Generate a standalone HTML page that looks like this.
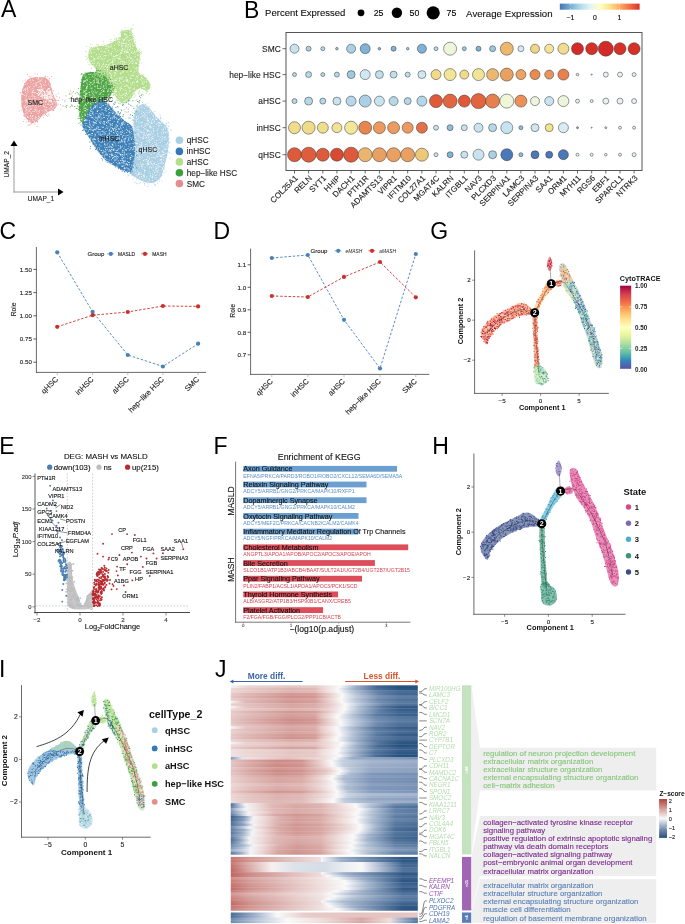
<!DOCTYPE html>
<html><head><meta charset="utf-8"><style>
html,body{margin:0;padding:0;background:#fff;}
svg{display:block;font-family:"Liberation Sans",sans-serif;will-change:transform;}
</style></head><body>
<svg width="685" height="924" viewBox="0 0 685 924">
<text x="1.1" y="17.4" font-size="23">A</text>
<path d="M29.7 78.4C32.1 77.5 37.1 76.9 40.2 77.1C43.3 77.3 46.3 78.2 48.1 79.7C49.9 81.2 50.1 83.5 51 86C51.9 88.5 52.5 92.2 53.5 95C54.5 97.8 56.8 100.7 57 103C57.2 105.3 56.3 107.2 55 108.6C53.7 110 51.4 110.1 49.4 111.2C47.4 112.3 45 113.4 42.8 115.2C40.6 117 38.3 120.5 36.3 121.8C34.3 123.1 32.8 123.5 31 122.8C29.2 122.1 27.2 119.9 25.8 117.8C24.4 115.7 23.3 113 22.5 109.9C21.7 106.8 21.2 102.9 21.2 99.4C21.2 95.9 21.7 91.8 22.5 88.9C23.3 86.1 24.6 84 25.8 82.3C27 80.5 27.3 79.3 29.7 78.4Z" fill="#eba3a3"/>
<path fill="#fff" fill-opacity="0.9" d="M25.6 115.4h0.8v0.8h-0.8zM48.1 88.3h0.8v0.8h-0.8zM38.5 97.2h0.8v0.8h-0.8zM44.1 112.7h0.8v0.8h-0.8zM50.7 96.5h0.8v0.8h-0.8zM36.7 109.6h0.8v0.8h-0.8zM29 119.9h0.8v0.8h-0.8zM21.7 101.4h0.8v0.8h-0.8zM28.5 96h0.8v0.8h-0.8zM36.5 99.3h0.8v0.8h-0.8zM29.1 87.2h0.8v0.8h-0.8zM28.6 97.7h0.8v0.8h-0.8zM50.8 102.1h0.8v0.8h-0.8zM43.8 85.2h0.8v0.8h-0.8zM25.1 91.9h0.8v0.8h-0.8zM46.6 109.2h0.8v0.8h-0.8zM50.5 107.3h0.8v0.8h-0.8zM31.6 103.5h0.8v0.8h-0.8zM38.9 103.6h0.8v0.8h-0.8zM49.3 95.6h0.8v0.8h-0.8zM27 101.8h0.8v0.8h-0.8zM45.9 107.5h0.8v0.8h-0.8zM34.2 96.7h0.8v0.8h-0.8zM39 112.2h0.8v0.8h-0.8zM39.4 94.6h0.8v0.8h-0.8zM38.3 78h0.8v0.8h-0.8zM22.3 108.8h0.8v0.8h-0.8zM56 103.8h0.8v0.8h-0.8zM34.9 84.5h0.8v0.8h-0.8zM48.4 101.3h0.8v0.8h-0.8zM41.5 97.7h0.8v0.8h-0.8zM30.4 101.7h0.8v0.8h-0.8zM49.7 100.4h0.8v0.8h-0.8zM40.9 96.1h0.8v0.8h-0.8zM41.2 85.8h0.8v0.8h-0.8zM38.8 98.8h0.8v0.8h-0.8zM33.5 92.5h0.8v0.8h-0.8zM40.1 105.2h0.8v0.8h-0.8zM42.7 97.6h0.8v0.8h-0.8zM27.1 103.4h0.8v0.8h-0.8zM29.9 115.1h0.8v0.8h-0.8zM44.9 80.5h0.8v0.8h-0.8zM47.8 88.1h0.8v0.8h-0.8zM24.7 105.2h0.8v0.8h-0.8zM33.1 79.9h0.8v0.8h-0.8zM26.5 100.8h0.8v0.8h-0.8zM26.8 89.1h0.8v0.8h-0.8zM46.2 97.5h0.8v0.8h-0.8zM32.3 98.3h0.8v0.8h-0.8zM21.6 94.3h0.8v0.8h-0.8zM35.8 85.3h0.8v0.8h-0.8zM39 86.2h0.8v0.8h-0.8zM42.5 114h0.8v0.8h-0.8zM26 109.5h0.8v0.8h-0.8zM26.5 108.9h0.8v0.8h-0.8zM45.1 101.6h0.8v0.8h-0.8zM49.3 100.3h0.8v0.8h-0.8zM28.8 106.3h0.8v0.8h-0.8zM34.9 103h0.8v0.8h-0.8zM32.3 105.5h0.8v0.8h-0.8zM22.9 90.3h0.8v0.8h-0.8zM31.7 115.9h0.8v0.8h-0.8zM31.9 119.6h0.8v0.8h-0.8zM47.4 95.7h0.8v0.8h-0.8zM41.2 84.5h0.8v0.8h-0.8zM46 99.9h0.8v0.8h-0.8zM34.3 92.5h0.8v0.8h-0.8zM28.1 107.5h0.8v0.8h-0.8zM36.3 85.5h0.8v0.8h-0.8zM24.5 107.1h0.8v0.8h-0.8zM31.4 99.5h0.8v0.8h-0.8zM32.4 116.5h0.8v0.8h-0.8zM28 91.7h0.8v0.8h-0.8zM32.9 86.4h0.8v0.8h-0.8zM52.4 108.1h0.8v0.8h-0.8zM29.2 109.8h0.8v0.8h-0.8zM48 104.1h0.8v0.8h-0.8zM50.9 93.5h0.8v0.8h-0.8zM33 90h0.8v0.8h-0.8zM51.8 104.3h0.8v0.8h-0.8zM25.6 101.9h0.8v0.8h-0.8zM33 104.8h0.8v0.8h-0.8zM48.8 94h0.8v0.8h-0.8zM41.2 86.9h0.8v0.8h-0.8zM23.7 88.9h0.8v0.8h-0.8zM52.7 102.5h0.8v0.8h-0.8zM53.9 97.6h0.8v0.8h-0.8zM30.7 112.6h0.8v0.8h-0.8zM44.8 80.9h0.8v0.8h-0.8zM24.9 84.3h0.8v0.8h-0.8zM29.4 110.7h0.8v0.8h-0.8zM34.3 121h0.8v0.8h-0.8zM29.8 98.5h0.8v0.8h-0.8zM24.4 106.5h0.8v0.8h-0.8zM42.1 97.2h0.8v0.8h-0.8zM32 79.6h0.8v0.8h-0.8zM28.5 104.9h0.8v0.8h-0.8zM55.9 101.5h0.8v0.8h-0.8zM45.4 106.9h0.8v0.8h-0.8zM30.1 101.4h0.8v0.8h-0.8zM31.8 87.9h0.8v0.8h-0.8zM23.7 89.5h0.8v0.8h-0.8zM44.1 106.1h0.8v0.8h-0.8zM31.8 91.6h0.8v0.8h-0.8zM32.1 115.4h0.8v0.8h-0.8zM32.7 101.5h0.8v0.8h-0.8zM41.5 103.9h0.8v0.8h-0.8zM29.5 80h0.8v0.8h-0.8zM40.5 79.9h0.8v0.8h-0.8zM23.5 105.7h0.8v0.8h-0.8zM31.2 112.9h0.8v0.8h-0.8zM38.4 116.1h0.8v0.8h-0.8zM26.3 99.6h0.8v0.8h-0.8zM50.2 91.3h0.8v0.8h-0.8zM24.6 100.2h0.8v0.8h-0.8zM32.1 117.9h0.8v0.8h-0.8zM45.5 84.8h0.8v0.8h-0.8zM36.3 83.9h0.8v0.8h-0.8zM46.4 107.2h0.8v0.8h-0.8zM29.8 79.6h0.8v0.8h-0.8zM40.4 101.4h0.8v0.8h-0.8zM51.3 97.4h0.8v0.8h-0.8zM34.9 92.2h0.8v0.8h-0.8zM43.9 95.7h0.8v0.8h-0.8zM41.2 79.5h0.8v0.8h-0.8zM33.5 83h0.8v0.8h-0.8zM25.3 88.5h0.8v0.8h-0.8zM50.5 94.9h0.8v0.8h-0.8zM35.1 104.7h0.8v0.8h-0.8zM39.7 99.6h0.8v0.8h-0.8zM44 96.7h0.8v0.8h-0.8zM45.4 110.1h0.8v0.8h-0.8zM29.3 99.3h0.8v0.8h-0.8zM37.9 87h0.8v0.8h-0.8zM35.5 102.3h0.8v0.8h-0.8zM30.6 106.2h0.8v0.8h-0.8zM39.1 116.8h0.8v0.8h-0.8zM26.5 111.7h0.8v0.8h-0.8zM34.1 108.7h0.8v0.8h-0.8zM47.1 103.8h0.8v0.8h-0.8zM55.1 102.8h0.8v0.8h-0.8zM27.1 88.1h0.8v0.8h-0.8zM28.6 102.7h0.8v0.8h-0.8zM45.2 109.4h0.8v0.8h-0.8zM33.2 100.2h0.8v0.8h-0.8zM26.7 110h0.8v0.8h-0.8zM49.7 105.4h0.8v0.8h-0.8zM30.4 118.4h0.8v0.8h-0.8zM44.4 108.7h0.8v0.8h-0.8zM36.7 118.9h0.8v0.8h-0.8zM49.5 96.5h0.8v0.8h-0.8zM26.7 91.5h0.8v0.8h-0.8zM42.3 95.3h0.8v0.8h-0.8zM25 90.2h0.8v0.8h-0.8zM29.7 110.9h0.8v0.8h-0.8zM36.5 77.6h0.8v0.8h-0.8zM43.2 104.4h0.8v0.8h-0.8zM50.7 86.1h0.8v0.8h-0.8zM31 101.5h0.8v0.8h-0.8zM30.6 103.4h0.8v0.8h-0.8zM29.8 107.9h0.8v0.8h-0.8zM55.6 101.6h0.8v0.8h-0.8zM38.3 115.8h0.8v0.8h-0.8zM48.3 102.7h0.8v0.8h-0.8zM34.5 89.7h0.8v0.8h-0.8zM24.6 113.6h0.8v0.8h-0.8zM25 110.8h0.8v0.8h-0.8zM25.7 99.5h0.8v0.8h-0.8zM41.3 90.9h0.8v0.8h-0.8zM38.8 93h0.8v0.8h-0.8zM39.7 76.7h0.8v0.8h-0.8zM36.6 97.2h0.8v0.8h-0.8zM31.7 94.9h0.8v0.8h-0.8zM48.8 107.9h0.8v0.8h-0.8zM38.4 106.3h0.8v0.8h-0.8zM34.3 86h0.8v0.8h-0.8zM50.5 100h0.8v0.8h-0.8zM50.7 95.4h0.8v0.8h-0.8zM31.7 84.5h0.8v0.8h-0.8zM43 100.9h0.8v0.8h-0.8zM34.7 96.1h0.8v0.8h-0.8zM35.3 116h0.8v0.8h-0.8zM41.7 110.2h0.8v0.8h-0.8zM38.4 110.8h0.8v0.8h-0.8zM43.7 106.3h0.8v0.8h-0.8zM43.3 95.3h0.8v0.8h-0.8zM43.3 105.6h0.8v0.8h-0.8zM50 104.3h0.8v0.8h-0.8zM33.3 88.8h0.8v0.8h-0.8zM40.3 83.6h0.8v0.8h-0.8zM50.6 98.8h0.8v0.8h-0.8zM37.5 78.7h0.8v0.8h-0.8zM39 110.7h0.8v0.8h-0.8zM35.9 92.9h0.8v0.8h-0.8zM45.5 95h0.8v0.8h-0.8zM45.4 104.3h0.8v0.8h-0.8zM28.3 86.2h0.8v0.8h-0.8zM39.5 93.5h0.8v0.8h-0.8zM39.1 110.3h0.8v0.8h-0.8zM26.8 106.5h0.8v0.8h-0.8zM30.4 104.5h0.8v0.8h-0.8zM29.1 102.3h0.8v0.8h-0.8zM26.9 112.8h0.8v0.8h-0.8zM51.8 91.7h0.8v0.8h-0.8zM43.1 91.1h0.8v0.8h-0.8zM36.2 111.5h0.8v0.8h-0.8zM48.9 85.4h0.8v0.8h-0.8zM43.2 84.2h0.8v0.8h-0.8zM42.5 88.6h0.8v0.8h-0.8zM39.6 83h0.8v0.8h-0.8zM25.7 109.4h0.8v0.8h-0.8zM33.7 111h0.8v0.8h-0.8zM29.4 109.5h0.8v0.8h-0.8zM46.5 90.6h0.8v0.8h-0.8zM24.6 94.8h0.8v0.8h-0.8zM38.4 81.2h0.8v0.8h-0.8zM55.3 104.7h0.8v0.8h-0.8zM33 115h0.8v0.8h-0.8zM25 108.3h0.8v0.8h-0.8zM24.2 94.9h0.8v0.8h-0.8zM38.5 93.9h0.8v0.8h-0.8zM26.8 87.3h0.8v0.8h-0.8zM50.1 97.8h0.8v0.8h-0.8zM41.5 86.4h0.8v0.8h-0.8zM46.4 91.8h0.8v0.8h-0.8zM32.2 94.2h0.8v0.8h-0.8zM35.1 116.9h0.8v0.8h-0.8zM47.9 83.6h0.8v0.8h-0.8zM26 107.1h0.8v0.8h-0.8zM22.8 94h0.8v0.8h-0.8zM25.4 97.8h0.8v0.8h-0.8zM30.6 82h0.8v0.8h-0.8zM43.6 110.7h0.8v0.8h-0.8zM44.5 94.5h0.8v0.8h-0.8zM43.7 87.8h0.8v0.8h-0.8zM41.9 92.7h0.8v0.8h-0.8zM42.4 102.3h0.8v0.8h-0.8zM39.5 79.5h0.8v0.8h-0.8zM33.4 95.5h0.8v0.8h-0.8zM27.9 116.9h0.8v0.8h-0.8zM36 106.9h0.8v0.8h-0.8zM46.3 110.6h0.8v0.8h-0.8zM46.6 111.1h0.8v0.8h-0.8zM29.8 121.3h0.8v0.8h-0.8zM49.9 98.1h0.8v0.8h-0.8zM34 121.7h0.8v0.8h-0.8zM22.2 101h0.8v0.8h-0.8zM36.6 82.5h0.8v0.8h-0.8zM34.9 109h0.8v0.8h-0.8zM39.6 80.8h0.8v0.8h-0.8zM22 94.2h0.8v0.8h-0.8zM47 91h0.8v0.8h-0.8zM25.4 113h0.8v0.8h-0.8zM31.6 96.1h0.8v0.8h-0.8zM29.6 102.1h0.8v0.8h-0.8zM32.6 92.2h0.8v0.8h-0.8zM41.7 81.5h0.8v0.8h-0.8zM44.1 97.2h0.8v0.8h-0.8zM50.7 108.7h0.8v0.8h-0.8zM50.5 90h0.8v0.8h-0.8zM26.4 93.6h0.8v0.8h-0.8zM39.4 81.1h0.8v0.8h-0.8zM33.1 102.9h0.8v0.8h-0.8zM44.1 91h0.8v0.8h-0.8zM31.5 92.8h0.8v0.8h-0.8zM32.4 110.9h0.8v0.8h-0.8zM38.7 100.7h0.8v0.8h-0.8zM32.4 91.6h0.8v0.8h-0.8zM37.9 118.4h0.8v0.8h-0.8zM25.6 100.6h0.8v0.8h-0.8zM48.8 108.8h0.8v0.8h-0.8zM47.5 93.2h0.8v0.8h-0.8zM54.5 106.1h0.8v0.8h-0.8zM35.2 97.9h0.8v0.8h-0.8zM55.9 101h0.8v0.8h-0.8zM26.8 83.5h0.8v0.8h-0.8zM45.4 102.4h0.8v0.8h-0.8zM35.5 109.9h0.8v0.8h-0.8zM40.3 88.8h0.8v0.8h-0.8zM24.6 88.6h0.8v0.8h-0.8zM43.4 100.7h0.8v0.8h-0.8zM51.2 106.1h0.8v0.8h-0.8zM27 116.1h0.8v0.8h-0.8zM21.6 93.5h0.8v0.8h-0.8zM51.1 109.1h0.8v0.8h-0.8zM30.9 117.4h0.8v0.8h-0.8zM52.7 96.1h0.8v0.8h-0.8zM45 101.6h0.8v0.8h-0.8zM28 110.8h0.8v0.8h-0.8zM48.4 100.2h0.8v0.8h-0.8zM38.2 95.1h0.8v0.8h-0.8zM41.7 78.5h0.8v0.8h-0.8zM51.2 97.6h0.8v0.8h-0.8zM27.6 90.4h0.8v0.8h-0.8zM25.1 90.5h0.8v0.8h-0.8zM55.5 101.5h0.8v0.8h-0.8zM41.3 101.9h0.8v0.8h-0.8zM39.6 101.4h0.8v0.8h-0.8zM35.4 105.5h0.8v0.8h-0.8zM31.8 90.5h0.8v0.8h-0.8zM38.9 103.5h0.8v0.8h-0.8zM26.6 105.8h0.8v0.8h-0.8zM41 93.5h0.8v0.8h-0.8zM35.2 119.5h0.8v0.8h-0.8zM52.8 107.3h0.8v0.8h-0.8zM51.1 94.2h0.8v0.8h-0.8zM37.4 113h0.8v0.8h-0.8zM34.1 110.9h0.8v0.8h-0.8zM38 92.1h0.8v0.8h-0.8zM37.1 82h0.8v0.8h-0.8zM33.5 95.6h0.8v0.8h-0.8zM30.1 115.9h0.8v0.8h-0.8zM41.9 89.8h0.8v0.8h-0.8zM39.2 110.5h0.8v0.8h-0.8zM45.5 96.5h0.8v0.8h-0.8zM48.6 98.9h0.8v0.8h-0.8zM46.4 99.1h0.8v0.8h-0.8zM35.1 109.7h0.8v0.8h-0.8zM40.5 101.1h0.8v0.8h-0.8zM33.2 119.9h0.8v0.8h-0.8zM40.6 95.9h0.8v0.8h-0.8zM44.8 82.1h0.8v0.8h-0.8zM30.3 89.4h0.8v0.8h-0.8zM37.9 112.9h0.8v0.8h-0.8zM45 80.7h0.8v0.8h-0.8zM34.7 107.2h0.8v0.8h-0.8zM31.3 99.9h0.8v0.8h-0.8zM34.6 118.1h0.8v0.8h-0.8zM28 100.5h0.8v0.8h-0.8zM35.7 117.3h0.8v0.8h-0.8zM38.4 117.6h0.8v0.8h-0.8zM40.3 86.5h0.8v0.8h-0.8zM48 92.1h0.8v0.8h-0.8zM38.2 77.1h0.8v0.8h-0.8zM30.4 101.4h0.8v0.8h-0.8zM36.5 111.4h0.8v0.8h-0.8zM50.9 87.1h0.8v0.8h-0.8zM30.6 109h0.8v0.8h-0.8zM35.5 82.6h0.8v0.8h-0.8zM27.8 102.3h0.8v0.8h-0.8zM39.8 104.5h0.8v0.8h-0.8zM26.1 95.6h0.8v0.8h-0.8zM30.8 108.5h0.8v0.8h-0.8zM30.3 86.5h0.8v0.8h-0.8zM33.9 98.2h0.8v0.8h-0.8zM32.9 104.4h0.8v0.8h-0.8zM27.3 116.9h0.8v0.8h-0.8zM45.6 101.1h0.8v0.8h-0.8z"/>
<path fill="#eba3a3" d="M44.1 76.7h0.9v0.9h-0.9zM53 109.1h0.9v0.9h-0.9zM29 124.5h0.9v0.9h-0.9zM44.9 75.7h0.9v0.9h-0.9zM47 116.2h0.9v0.9h-0.9zM30.5 122.4h0.9v0.9h-0.9zM31.3 122.9h0.9v0.9h-0.9zM27.6 124.8h0.9v0.9h-0.9zM21.5 109.6h0.9v0.9h-0.9zM56.6 100h0.9v0.9h-0.9zM48.9 78h0.9v0.9h-0.9zM42.6 77.6h0.9v0.9h-0.9zM20.9 105.8h0.9v0.9h-0.9zM27.7 124.5h0.9v0.9h-0.9zM23.2 121.1h0.9v0.9h-0.9zM51.5 99.4h0.9v0.9h-0.9zM18.8 110.3h0.9v0.9h-0.9zM19.7 92.7h0.9v0.9h-0.9zM45.1 114h0.9v0.9h-0.9zM55.8 103.8h0.9v0.9h-0.9zM38.8 118.4h0.9v0.9h-0.9zM24.7 79.7h0.9v0.9h-0.9zM23.7 118.7h0.9v0.9h-0.9zM35.7 76.8h0.9v0.9h-0.9zM52.4 96.1h0.9v0.9h-0.9zM51.3 109h0.9v0.9h-0.9zM28.5 120.9h0.9v0.9h-0.9zM24.4 86.7h0.9v0.9h-0.9zM56.2 96.3h0.9v0.9h-0.9zM34.4 73.4h0.9v0.9h-0.9zM59.1 97.1h0.9v0.9h-0.9zM19.7 91.9h0.9v0.9h-0.9zM23.6 114.6h0.9v0.9h-0.9zM45 77.8h0.9v0.9h-0.9zM47.3 76.4h0.9v0.9h-0.9zM37.2 121.5h0.9v0.9h-0.9zM23.3 110.5h0.9v0.9h-0.9zM47.1 109.9h0.9v0.9h-0.9zM60 104h0.9v0.9h-0.9zM23.9 116.1h0.9v0.9h-0.9zM45.2 76.3h0.9v0.9h-0.9zM27.8 121.2h0.9v0.9h-0.9zM55.6 94.3h0.9v0.9h-0.9zM27 74.1h0.9v0.9h-0.9zM58 92.7h0.9v0.9h-0.9zM56.4 105h0.9v0.9h-0.9zM48.8 115h0.9v0.9h-0.9zM24.1 83h0.9v0.9h-0.9zM53 109.9h0.9v0.9h-0.9zM36.9 121h0.9v0.9h-0.9zM22.6 104.7h0.9v0.9h-0.9zM22.4 80.7h0.9v0.9h-0.9zM30.5 123.9h0.9v0.9h-0.9zM42.9 117.3h0.9v0.9h-0.9zM45.3 112.7h0.9v0.9h-0.9zM21.8 89.3h0.9v0.9h-0.9zM25.8 121.5h0.9v0.9h-0.9zM57.6 103.8h0.9v0.9h-0.9zM53.5 110.2h0.9v0.9h-0.9zM51.2 75.9h0.9v0.9h-0.9zM52.8 90.1h0.9v0.9h-0.9zM25.3 81.4h0.9v0.9h-0.9zM28.8 76.3h0.9v0.9h-0.9zM53.3 105.1h0.9v0.9h-0.9zM29.1 114.1h0.9v0.9h-0.9zM60.6 108.7h0.9v0.9h-0.9zM52.6 110h0.9v0.9h-0.9zM36.6 126h0.9v0.9h-0.9zM50.2 83.3h0.9v0.9h-0.9zM23.3 115.2h0.9v0.9h-0.9zM30.4 76.5h0.9v0.9h-0.9zM52.6 110.4h0.9v0.9h-0.9zM46.2 115.1h0.9v0.9h-0.9zM48.5 79.5h0.9v0.9h-0.9zM37 74.2h0.9v0.9h-0.9zM57.9 100h0.9v0.9h-0.9zM43.7 115.2h0.9v0.9h-0.9zM22.8 105.2h0.9v0.9h-0.9zM48 113.4h0.9v0.9h-0.9zM34.4 123.8h0.9v0.9h-0.9z"/>
<path fill="#fff" d="M47.1 97.4h1.1v1.1h-1.1zM50 91.6h1.1v1.1h-1.1zM47.9 91.4h1.1v1.1h-1.1zM40.2 95.7h1.1v1.1h-1.1zM49.2 100.7h1.1v1.1h-1.1zM38.6 90.7h1.1v1.1h-1.1zM50.2 93.6h1.1v1.1h-1.1zM45.1 97.4h1.1v1.1h-1.1zM44 91.9h1.1v1.1h-1.1zM48.7 88.1h1.1v1.1h-1.1zM44.1 94.6h1.1v1.1h-1.1zM45.8 90.6h1.1v1.1h-1.1zM39.6 89.8h1.1v1.1h-1.1zM50.8 101.1h1.1v1.1h-1.1zM48.1 93.8h1.1v1.1h-1.1zM44.1 97h1.1v1.1h-1.1zM42.2 89.9h1.1v1.1h-1.1zM50.6 100h1.1v1.1h-1.1zM50.7 96.8h1.1v1.1h-1.1zM42.5 93.4h1.1v1.1h-1.1zM46.4 97.8h1.1v1.1h-1.1zM46.9 95.3h1.1v1.1h-1.1zM44.5 95.6h1.1v1.1h-1.1zM39.3 92.7h1.1v1.1h-1.1zM39.1 89.2h1.1v1.1h-1.1zM42.2 95.7h1.1v1.1h-1.1zM51.8 97.3h1.1v1.1h-1.1zM46.4 96.7h1.1v1.1h-1.1zM47.6 88.7h1.1v1.1h-1.1zM41.3 88.8h1.1v1.1h-1.1zM41.2 90.9h1.1v1.1h-1.1zM41.4 95.2h1.1v1.1h-1.1zM49.7 92.3h1.1v1.1h-1.1zM52.2 103.3h1.1v1.1h-1.1zM44.4 93.3h1.1v1.1h-1.1zM47 98.2h1.1v1.1h-1.1zM38.5 89.6h1.1v1.1h-1.1zM47 89.4h1.1v1.1h-1.1zM41.2 90.6h1.1v1.1h-1.1zM49.5 91h1.1v1.1h-1.1zM40.2 92.1h1.1v1.1h-1.1zM45.3 93.5h1.1v1.1h-1.1zM40 90.4h1.1v1.1h-1.1zM48.8 92.3h1.1v1.1h-1.1zM36.8 89.1h1.1v1.1h-1.1zM47.7 98.2h1.1v1.1h-1.1zM49.2 93h1.1v1.1h-1.1zM37.8 94.3h1.1v1.1h-1.1zM49.1 100.5h1.1v1.1h-1.1zM53.6 100.9h1.1v1.1h-1.1zM46.6 96.4h1.1v1.1h-1.1zM45.5 95.2h1.1v1.1h-1.1zM48.7 96.8h1.1v1.1h-1.1zM51.9 94.7h1.1v1.1h-1.1zM48.6 95.9h1.1v1.1h-1.1zM47.4 91.6h1.1v1.1h-1.1zM53.1 98.7h1.1v1.1h-1.1zM47.7 93.7h1.1v1.1h-1.1zM44.3 97.8h1.1v1.1h-1.1zM49.8 92.4h1.1v1.1h-1.1zM36.7 92.9h1.1v1.1h-1.1zM37.9 89.4h1.1v1.1h-1.1zM49.1 90.4h1.1v1.1h-1.1zM50.2 95.6h1.1v1.1h-1.1zM46.8 93.4h1.1v1.1h-1.1zM41.7 94.3h1.1v1.1h-1.1zM45.9 94.9h1.1v1.1h-1.1zM47.4 97.5h1.1v1.1h-1.1zM47.8 91.4h1.1v1.1h-1.1zM43.6 90.9h1.1v1.1h-1.1z"/>
<path d="M121.7 31.5C122.5 30.5 124.5 30.1 126 30C127.5 29.9 129.9 29.7 131 30.8C132.1 31.9 132 34.5 132.7 36.7C133.3 38.9 134.1 41.7 134.9 44C135.8 46.3 137 48.8 137.8 50.5C138.7 52.2 139.7 52.1 140 54.2C140.3 56.3 139.8 60.1 139.5 63C139.2 65.9 137.8 69.5 138.5 71.7C139.2 73.9 141.9 74.5 143.6 76.1C145.3 77.7 147.6 79.2 148.7 81.2C149.8 83.2 150.6 86.2 150.2 87.8C149.8 89.4 148.1 90.6 146.5 90.7C144.9 90.8 142.4 88.6 140.7 88.5C139 88.4 137.5 89 136.3 90C135.1 91 134.6 92.8 133.4 94.5C132.2 96.2 130.6 99 129 100.5C127.4 102 125.7 103.5 124 103.6C122.3 103.7 120.4 102.4 118.8 101C117.2 99.6 115.9 97.1 114.4 95.1C112.9 93.1 111.7 92 110 89.2C108.3 86.4 106.4 81.2 104.2 78C102 74.8 99.3 72.8 96.9 70C94.5 67.2 91 64.4 89.6 61.5C88.2 58.6 88.2 54.9 88.4 52.7C88.7 50.5 89.7 49.4 91.1 48.4C92.5 47.4 94.7 47.1 96.9 46.6C99.1 46.1 102 46 104.2 45.5C106.4 45 108.3 44.2 110 43.5C111.7 42.8 112.9 41.7 114.4 41C115.9 40.3 117.7 40.3 118.8 39.5C119.9 38.7 120.5 37.3 121 36C121.5 34.7 120.9 32.5 121.7 31.5Z" fill="#b4de8e"/>
<path fill="#fff" fill-opacity="0.9" d="M107 66.2h0.8v0.8h-0.8zM129.7 31.9h0.8v0.8h-0.8zM110.9 70.3h0.8v0.8h-0.8zM107.6 74h0.8v0.8h-0.8zM124 51.1h0.8v0.8h-0.8zM121.8 49.9h0.8v0.8h-0.8zM88.7 52.4h0.8v0.8h-0.8zM93.3 65.8h0.8v0.8h-0.8zM118.9 93.6h0.8v0.8h-0.8zM134.2 84.7h0.8v0.8h-0.8zM111 46.5h0.8v0.8h-0.8zM119.6 39.1h0.8v0.8h-0.8zM100.3 51.3h0.8v0.8h-0.8zM122 48.1h0.8v0.8h-0.8zM122.3 62.9h0.8v0.8h-0.8zM108.5 59.5h0.8v0.8h-0.8zM127.5 85.6h0.8v0.8h-0.8zM105.7 54.9h0.8v0.8h-0.8zM124.4 62.1h0.8v0.8h-0.8zM137 78.5h0.8v0.8h-0.8zM146.8 89.3h0.8v0.8h-0.8zM101.6 50.6h0.8v0.8h-0.8zM103.6 60.7h0.8v0.8h-0.8zM109.6 63h0.8v0.8h-0.8zM142 78.1h0.8v0.8h-0.8zM126 93.2h0.8v0.8h-0.8zM111.9 60.9h0.8v0.8h-0.8zM125.4 38h0.8v0.8h-0.8zM134.6 56.8h0.8v0.8h-0.8zM116.2 55.5h0.8v0.8h-0.8zM112.5 64.3h0.8v0.8h-0.8zM98.4 71.3h0.8v0.8h-0.8zM141.8 81.9h0.8v0.8h-0.8zM97.2 63.3h0.8v0.8h-0.8zM126.7 39.5h0.8v0.8h-0.8zM107.1 61.1h0.8v0.8h-0.8zM122 94.8h0.8v0.8h-0.8zM130.3 34.7h0.8v0.8h-0.8zM99.5 68.9h0.8v0.8h-0.8zM99.8 55.8h0.8v0.8h-0.8zM136.3 75.7h0.8v0.8h-0.8zM129.1 54.8h0.8v0.8h-0.8zM90 49.5h0.8v0.8h-0.8zM125.9 100.6h0.8v0.8h-0.8zM101 47.8h0.8v0.8h-0.8zM112.9 56.1h0.8v0.8h-0.8zM96.7 46.4h0.8v0.8h-0.8zM107.2 67.2h0.8v0.8h-0.8zM114.7 93.7h0.8v0.8h-0.8zM123.9 64.5h0.8v0.8h-0.8zM119.6 55.7h0.8v0.8h-0.8zM98.1 56.3h0.8v0.8h-0.8zM91 56.1h0.8v0.8h-0.8zM125.7 79.5h0.8v0.8h-0.8zM127.8 44h0.8v0.8h-0.8zM109.1 71.9h0.8v0.8h-0.8zM139.8 78.9h0.8v0.8h-0.8zM107.5 64.9h0.8v0.8h-0.8zM110.6 70.7h0.8v0.8h-0.8zM107.7 84.2h0.8v0.8h-0.8zM125.4 95.1h0.8v0.8h-0.8zM123.4 65h0.8v0.8h-0.8zM99.1 53.7h0.8v0.8h-0.8zM103.6 52.1h0.8v0.8h-0.8zM118.1 99.6h0.8v0.8h-0.8zM106.2 76.2h0.8v0.8h-0.8zM91 61.3h0.8v0.8h-0.8zM110 77.7h0.8v0.8h-0.8zM122.9 72h0.8v0.8h-0.8zM125.6 79.3h0.8v0.8h-0.8zM107.9 55.5h0.8v0.8h-0.8zM112.5 68h0.8v0.8h-0.8zM123 93.9h0.8v0.8h-0.8zM112.4 62.6h0.8v0.8h-0.8zM123.2 81.1h0.8v0.8h-0.8zM144.6 88.1h0.8v0.8h-0.8zM122.8 66.2h0.8v0.8h-0.8zM122.7 84.2h0.8v0.8h-0.8zM138.8 61.8h0.8v0.8h-0.8zM130.5 78.3h0.8v0.8h-0.8zM134.8 55.9h0.8v0.8h-0.8zM97.9 62.1h0.8v0.8h-0.8zM123 101h0.8v0.8h-0.8zM98.7 65.7h0.8v0.8h-0.8zM128.4 67.1h0.8v0.8h-0.8zM95.6 48.9h0.8v0.8h-0.8zM126.1 52.3h0.8v0.8h-0.8zM122.2 61h0.8v0.8h-0.8zM116.3 70.2h0.8v0.8h-0.8zM136.6 50.4h0.8v0.8h-0.8zM111.5 77.8h0.8v0.8h-0.8zM133.4 75.1h0.8v0.8h-0.8zM115.1 89.6h0.8v0.8h-0.8zM115.3 91.1h0.8v0.8h-0.8zM94 58.1h0.8v0.8h-0.8zM115.4 43h0.8v0.8h-0.8zM115.7 92.3h0.8v0.8h-0.8zM124.9 42.9h0.8v0.8h-0.8zM135.9 70.5h0.8v0.8h-0.8zM119.3 41.7h0.8v0.8h-0.8zM121.4 61h0.8v0.8h-0.8zM142.8 84.1h0.8v0.8h-0.8zM117.5 40.5h0.8v0.8h-0.8zM125.7 46.1h0.8v0.8h-0.8zM116 94.1h0.8v0.8h-0.8zM111.1 53.2h0.8v0.8h-0.8zM118.1 62.4h0.8v0.8h-0.8zM133.8 51.9h0.8v0.8h-0.8zM123.9 52.6h0.8v0.8h-0.8zM118.2 62.4h0.8v0.8h-0.8zM116.3 69.2h0.8v0.8h-0.8zM121.1 52.9h0.8v0.8h-0.8zM122.5 76.3h0.8v0.8h-0.8zM132.7 53.1h0.8v0.8h-0.8zM124.6 63.6h0.8v0.8h-0.8zM117.9 58.6h0.8v0.8h-0.8zM121.1 45.6h0.8v0.8h-0.8zM124.7 47.6h0.8v0.8h-0.8zM134.9 53.7h0.8v0.8h-0.8zM110.3 73.4h0.8v0.8h-0.8zM128.8 59.7h0.8v0.8h-0.8zM105.8 46.1h0.8v0.8h-0.8zM112.5 81h0.8v0.8h-0.8zM129.4 42.5h0.8v0.8h-0.8zM125.8 57.9h0.8v0.8h-0.8zM131.9 51.2h0.8v0.8h-0.8zM114.8 89.1h0.8v0.8h-0.8zM93.7 59.6h0.8v0.8h-0.8zM97.4 68.8h0.8v0.8h-0.8zM115 69.5h0.8v0.8h-0.8zM127.4 81.2h0.8v0.8h-0.8zM124.1 39.1h0.8v0.8h-0.8zM96.2 54.1h0.8v0.8h-0.8zM137 81.3h0.8v0.8h-0.8zM102.5 66.2h0.8v0.8h-0.8zM118.2 97.5h0.8v0.8h-0.8zM122.9 40.1h0.8v0.8h-0.8zM120.7 94.9h0.8v0.8h-0.8zM132.4 44.7h0.8v0.8h-0.8zM131.1 32.7h0.8v0.8h-0.8zM120.3 77.6h0.8v0.8h-0.8zM129.2 40.1h0.8v0.8h-0.8zM110.9 55.3h0.8v0.8h-0.8zM134.4 59.9h0.8v0.8h-0.8zM110.7 70h0.8v0.8h-0.8zM129.3 63.2h0.8v0.8h-0.8zM126.1 71.4h0.8v0.8h-0.8zM114.6 87.4h0.8v0.8h-0.8zM113.6 92.9h0.8v0.8h-0.8zM130.9 78.2h0.8v0.8h-0.8zM144 86.9h0.8v0.8h-0.8zM124.1 33.1h0.8v0.8h-0.8zM116.1 80.3h0.8v0.8h-0.8zM120.3 72.6h0.8v0.8h-0.8zM103.1 76.6h0.8v0.8h-0.8zM115 40.5h0.8v0.8h-0.8zM105.8 64.3h0.8v0.8h-0.8zM114.6 64.2h0.8v0.8h-0.8zM125.2 36.7h0.8v0.8h-0.8zM121.3 79.2h0.8v0.8h-0.8zM121.6 59.8h0.8v0.8h-0.8zM117.5 83.6h0.8v0.8h-0.8zM124.6 93.3h0.8v0.8h-0.8zM107 74.6h0.8v0.8h-0.8zM123.4 70.8h0.8v0.8h-0.8zM124.8 49.9h0.8v0.8h-0.8zM126.3 61.8h0.8v0.8h-0.8zM117.5 68.9h0.8v0.8h-0.8zM131.6 63.1h0.8v0.8h-0.8zM124.1 43h0.8v0.8h-0.8zM119.5 78.1h0.8v0.8h-0.8zM134.9 78.6h0.8v0.8h-0.8zM113.5 80h0.8v0.8h-0.8zM124.9 64.7h0.8v0.8h-0.8zM126.9 52.1h0.8v0.8h-0.8zM139.8 87.7h0.8v0.8h-0.8zM121.4 51.9h0.8v0.8h-0.8zM115.5 83.3h0.8v0.8h-0.8zM121.2 86.2h0.8v0.8h-0.8zM126.4 34.3h0.8v0.8h-0.8zM130.7 71.2h0.8v0.8h-0.8zM125.4 76.5h0.8v0.8h-0.8zM115.6 74.5h0.8v0.8h-0.8zM120.7 72.9h0.8v0.8h-0.8zM130 43.4h0.8v0.8h-0.8zM109.8 80.4h0.8v0.8h-0.8zM122.8 49.2h0.8v0.8h-0.8zM105.4 64.5h0.8v0.8h-0.8zM115 89.1h0.8v0.8h-0.8zM138.9 61.2h0.8v0.8h-0.8zM149.2 87.7h0.8v0.8h-0.8zM107.9 45.6h0.8v0.8h-0.8zM143.5 87.1h0.8v0.8h-0.8zM88.1 52.6h0.8v0.8h-0.8zM136 81.2h0.8v0.8h-0.8zM137.3 80.3h0.8v0.8h-0.8zM135.4 63.2h0.8v0.8h-0.8zM140.9 77.1h0.8v0.8h-0.8zM142.7 81.2h0.8v0.8h-0.8zM114.9 67.6h0.8v0.8h-0.8zM94.1 47.4h0.8v0.8h-0.8zM123.5 42.7h0.8v0.8h-0.8zM110.1 76.9h0.8v0.8h-0.8zM124.7 95.4h0.8v0.8h-0.8zM114.7 70.3h0.8v0.8h-0.8zM114 85.1h0.8v0.8h-0.8zM126.6 99.2h0.8v0.8h-0.8zM106.1 74.9h0.8v0.8h-0.8zM127.4 44.4h0.8v0.8h-0.8zM104.7 73.4h0.8v0.8h-0.8zM128.8 96.6h0.8v0.8h-0.8zM135.6 63h0.8v0.8h-0.8zM134.3 50.5h0.8v0.8h-0.8zM137.6 59.5h0.8v0.8h-0.8zM124 39.1h0.8v0.8h-0.8zM118.4 91.5h0.8v0.8h-0.8zM137.6 59.8h0.8v0.8h-0.8zM125.7 55.2h0.8v0.8h-0.8zM90.8 52.1h0.8v0.8h-0.8zM107 69.1h0.8v0.8h-0.8zM126.3 92.2h0.8v0.8h-0.8zM126.8 94.1h0.8v0.8h-0.8zM103.4 74h0.8v0.8h-0.8zM131.3 52.4h0.8v0.8h-0.8zM107.9 51.8h0.8v0.8h-0.8zM142 87.3h0.8v0.8h-0.8zM97.1 47.4h0.8v0.8h-0.8zM97.9 48.7h0.8v0.8h-0.8zM122.2 96.9h0.8v0.8h-0.8zM140.8 75.3h0.8v0.8h-0.8zM131.3 52.4h0.8v0.8h-0.8zM119.6 88h0.8v0.8h-0.8zM120.3 82.2h0.8v0.8h-0.8zM121.4 43.7h0.8v0.8h-0.8zM103 45.3h0.8v0.8h-0.8zM125.5 96.5h0.8v0.8h-0.8zM104.3 55.3h0.8v0.8h-0.8zM92.7 62.9h0.8v0.8h-0.8zM106.8 47.7h0.8v0.8h-0.8zM126.5 80.1h0.8v0.8h-0.8zM129.3 31.5h0.8v0.8h-0.8zM102 64.6h0.8v0.8h-0.8zM121.3 43.9h0.8v0.8h-0.8zM104 69.5h0.8v0.8h-0.8zM120.9 50.1h0.8v0.8h-0.8zM99.1 64.9h0.8v0.8h-0.8zM91.2 52.9h0.8v0.8h-0.8zM101.5 58.8h0.8v0.8h-0.8zM142.4 83.2h0.8v0.8h-0.8zM124.6 90.8h0.8v0.8h-0.8zM130.6 39.2h0.8v0.8h-0.8zM113.4 58.3h0.8v0.8h-0.8zM99.8 67.9h0.8v0.8h-0.8zM121 41.5h0.8v0.8h-0.8zM93.4 64.9h0.8v0.8h-0.8zM117.3 42.5h0.8v0.8h-0.8zM108.9 64.5h0.8v0.8h-0.8zM119.6 56.6h0.8v0.8h-0.8zM138.5 72.4h0.8v0.8h-0.8zM111.3 75.3h0.8v0.8h-0.8zM125 88.8h0.8v0.8h-0.8zM92.7 60.4h0.8v0.8h-0.8zM124.2 34.1h0.8v0.8h-0.8zM126.6 85.8h0.8v0.8h-0.8zM119.6 94.9h0.8v0.8h-0.8zM129.8 49.9h0.8v0.8h-0.8zM124.4 86.1h0.8v0.8h-0.8zM132.2 83.3h0.8v0.8h-0.8zM118.2 57.8h0.8v0.8h-0.8zM128.9 45.7h0.8v0.8h-0.8zM133.7 42.1h0.8v0.8h-0.8zM111 76.4h0.8v0.8h-0.8zM136 62.9h0.8v0.8h-0.8zM137.9 64.3h0.8v0.8h-0.8zM129 90.9h0.8v0.8h-0.8zM122.7 71h0.8v0.8h-0.8zM107.2 69.1h0.8v0.8h-0.8zM126.2 79.7h0.8v0.8h-0.8zM119.6 58.6h0.8v0.8h-0.8zM112.4 42.4h0.8v0.8h-0.8zM126.3 41.5h0.8v0.8h-0.8zM145.9 79.1h0.8v0.8h-0.8zM139.8 74.1h0.8v0.8h-0.8zM132.2 59.8h0.8v0.8h-0.8zM119.6 49.6h0.8v0.8h-0.8zM114.6 91.1h0.8v0.8h-0.8zM119.4 66.9h0.8v0.8h-0.8zM119.1 42.2h0.8v0.8h-0.8zM105.6 55.1h0.8v0.8h-0.8zM131.7 93.6h0.8v0.8h-0.8zM122.1 50.7h0.8v0.8h-0.8zM110.2 69.7h0.8v0.8h-0.8zM142.8 81.4h0.8v0.8h-0.8zM128.6 49h0.8v0.8h-0.8zM97.4 57.9h0.8v0.8h-0.8zM121.9 77.8h0.8v0.8h-0.8zM133.8 44.9h0.8v0.8h-0.8zM124.8 37.7h0.8v0.8h-0.8zM115.3 55.3h0.8v0.8h-0.8zM114.4 81.8h0.8v0.8h-0.8zM133 61.7h0.8v0.8h-0.8zM124.6 101.2h0.8v0.8h-0.8zM123.6 101h0.8v0.8h-0.8zM102.4 75h0.8v0.8h-0.8zM144.3 81.9h0.8v0.8h-0.8zM135.7 51.6h0.8v0.8h-0.8zM112.7 65.6h0.8v0.8h-0.8zM92.6 56.7h0.8v0.8h-0.8zM115.4 72.9h0.8v0.8h-0.8zM114.3 92.8h0.8v0.8h-0.8zM122.3 64.2h0.8v0.8h-0.8zM89.5 50.1h0.8v0.8h-0.8zM132.5 59.2h0.8v0.8h-0.8zM121.5 49.5h0.8v0.8h-0.8zM104.3 57.9h0.8v0.8h-0.8zM94.5 58.7h0.8v0.8h-0.8zM107.3 80.1h0.8v0.8h-0.8zM127.4 50.9h0.8v0.8h-0.8zM144 80.7h0.8v0.8h-0.8zM115.1 72.6h0.8v0.8h-0.8zM135.1 52.8h0.8v0.8h-0.8zM142.6 87.5h0.8v0.8h-0.8zM130.9 85.4h0.8v0.8h-0.8zM115.6 80.1h0.8v0.8h-0.8zM128.2 60.7h0.8v0.8h-0.8zM133.4 92.7h0.8v0.8h-0.8zM144.5 86.6h0.8v0.8h-0.8zM124.8 85.7h0.8v0.8h-0.8zM109.5 59.3h0.8v0.8h-0.8zM137.9 67.6h0.8v0.8h-0.8zM125.8 90.2h0.8v0.8h-0.8zM132.7 72.5h0.8v0.8h-0.8zM130 86.9h0.8v0.8h-0.8zM98.5 58.5h0.8v0.8h-0.8zM143.6 78.4h0.8v0.8h-0.8zM119.1 76.9h0.8v0.8h-0.8zM125.4 99.8h0.8v0.8h-0.8zM112.3 58.4h0.8v0.8h-0.8zM133 88.7h0.8v0.8h-0.8zM133.7 41.3h0.8v0.8h-0.8zM127.1 49.4h0.8v0.8h-0.8zM104.9 48.4h0.8v0.8h-0.8zM129.5 88.2h0.8v0.8h-0.8zM116.8 87.2h0.8v0.8h-0.8zM90.7 60.1h0.8v0.8h-0.8zM123.5 94h0.8v0.8h-0.8zM139.2 58.9h0.8v0.8h-0.8zM119.6 88.3h0.8v0.8h-0.8zM129.3 53.6h0.8v0.8h-0.8zM105.4 52h0.8v0.8h-0.8zM136.5 63.3h0.8v0.8h-0.8zM136.1 67.1h0.8v0.8h-0.8zM110.6 81.8h0.8v0.8h-0.8zM93.8 61.3h0.8v0.8h-0.8zM129.5 49.8h0.8v0.8h-0.8zM111 85.5h0.8v0.8h-0.8zM125.9 46.5h0.8v0.8h-0.8zM114.4 75.5h0.8v0.8h-0.8zM106.2 67.5h0.8v0.8h-0.8zM105 45.7h0.8v0.8h-0.8zM129.2 90.2h0.8v0.8h-0.8zM129.2 88.3h0.8v0.8h-0.8zM97.9 49.6h0.8v0.8h-0.8zM134.1 71.3h0.8v0.8h-0.8zM124.8 30.7h0.8v0.8h-0.8zM137.3 80.9h0.8v0.8h-0.8zM130.5 56.8h0.8v0.8h-0.8zM108.9 53.8h0.8v0.8h-0.8zM137.1 54.8h0.8v0.8h-0.8zM124.3 80.4h0.8v0.8h-0.8zM146.4 85.1h0.8v0.8h-0.8zM105 55.6h0.8v0.8h-0.8zM117.1 55.1h0.8v0.8h-0.8zM124.7 99.5h0.8v0.8h-0.8zM135.7 69h0.8v0.8h-0.8zM126.4 34.6h0.8v0.8h-0.8zM113.3 87.2h0.8v0.8h-0.8zM128.7 45.4h0.8v0.8h-0.8zM107.1 70.6h0.8v0.8h-0.8zM90.2 51.6h0.8v0.8h-0.8zM128 51.9h0.8v0.8h-0.8zM96.2 54.1h0.8v0.8h-0.8zM107.8 50h0.8v0.8h-0.8zM123.5 66.2h0.8v0.8h-0.8zM104.3 50.9h0.8v0.8h-0.8zM137.4 54.2h0.8v0.8h-0.8zM97.2 58.1h0.8v0.8h-0.8zM120.3 52.1h0.8v0.8h-0.8zM126.1 81.2h0.8v0.8h-0.8zM102.9 55.7h0.8v0.8h-0.8zM114.8 82h0.8v0.8h-0.8zM134.1 88.8h0.8v0.8h-0.8zM126.1 45h0.8v0.8h-0.8zM136.9 50.9h0.8v0.8h-0.8zM130.3 78.1h0.8v0.8h-0.8zM111.5 61.7h0.8v0.8h-0.8zM108.6 72.8h0.8v0.8h-0.8zM118.1 44.5h0.8v0.8h-0.8zM137.2 59.4h0.8v0.8h-0.8zM128.4 87h0.8v0.8h-0.8zM129.9 45.6h0.8v0.8h-0.8zM136.1 50.3h0.8v0.8h-0.8zM126.2 85.2h0.8v0.8h-0.8zM130.9 52.1h0.8v0.8h-0.8zM98.8 48.3h0.8v0.8h-0.8zM130 76.7h0.8v0.8h-0.8zM120.8 82.7h0.8v0.8h-0.8zM101.6 59.5h0.8v0.8h-0.8zM113.7 75h0.8v0.8h-0.8zM112.4 60.1h0.8v0.8h-0.8zM115.9 69.6h0.8v0.8h-0.8zM140.6 78.5h0.8v0.8h-0.8zM106 48.5h0.8v0.8h-0.8zM127.1 56.2h0.8v0.8h-0.8zM132.8 66.4h0.8v0.8h-0.8zM127.9 74.4h0.8v0.8h-0.8zM111.9 48.5h0.8v0.8h-0.8zM127.2 57.2h0.8v0.8h-0.8zM113 92.7h0.8v0.8h-0.8zM126.1 50.7h0.8v0.8h-0.8zM117.8 40.8h0.8v0.8h-0.8zM123.8 40h0.8v0.8h-0.8zM91.8 48.7h0.8v0.8h-0.8zM130.5 74.8h0.8v0.8h-0.8zM110.6 74.4h0.8v0.8h-0.8zM118 43.8h0.8v0.8h-0.8zM114.7 58.4h0.8v0.8h-0.8zM132.9 81.5h0.8v0.8h-0.8zM131.6 38.6h0.8v0.8h-0.8zM125.6 37.9h0.8v0.8h-0.8zM111.7 80.1h0.8v0.8h-0.8zM109.4 66.8h0.8v0.8h-0.8zM122.8 43.1h0.8v0.8h-0.8zM119.1 79.6h0.8v0.8h-0.8zM107.2 79.5h0.8v0.8h-0.8zM124.4 49.3h0.8v0.8h-0.8zM125.2 45.5h0.8v0.8h-0.8zM112.2 92h0.8v0.8h-0.8zM118.8 44.6h0.8v0.8h-0.8zM130.2 47.6h0.8v0.8h-0.8zM134.4 71.8h0.8v0.8h-0.8zM120.6 42.8h0.8v0.8h-0.8zM123 61.5h0.8v0.8h-0.8zM122.4 71.9h0.8v0.8h-0.8zM122.6 97.8h0.8v0.8h-0.8zM122.2 38.2h0.8v0.8h-0.8zM142.6 84.2h0.8v0.8h-0.8zM110.7 62.2h0.8v0.8h-0.8zM122.7 58.4h0.8v0.8h-0.8zM116.6 78.4h0.8v0.8h-0.8zM116.8 57h0.8v0.8h-0.8zM117.5 50.3h0.8v0.8h-0.8zM114.2 45.3h0.8v0.8h-0.8zM131.2 52.3h0.8v0.8h-0.8zM106.5 45.1h0.8v0.8h-0.8zM108.1 47.5h0.8v0.8h-0.8zM94.5 66.8h0.8v0.8h-0.8zM118.6 65.3h0.8v0.8h-0.8zM121.9 61h0.8v0.8h-0.8zM126.7 100.6h0.8v0.8h-0.8zM128.3 44.3h0.8v0.8h-0.8zM97 48.1h0.8v0.8h-0.8zM119.1 80.5h0.8v0.8h-0.8zM108.9 80.8h0.8v0.8h-0.8zM137.7 74.7h0.8v0.8h-0.8zM149.2 85.4h0.8v0.8h-0.8zM126.5 36.1h0.8v0.8h-0.8zM120.6 42.7h0.8v0.8h-0.8zM121.4 59.7h0.8v0.8h-0.8zM96.6 69.6h0.8v0.8h-0.8zM136.9 82.2h0.8v0.8h-0.8zM112.7 91.5h0.8v0.8h-0.8zM93.3 58.6h0.8v0.8h-0.8zM126.6 36.6h0.8v0.8h-0.8zM137.2 85.4h0.8v0.8h-0.8zM101.5 53.9h0.8v0.8h-0.8zM99.2 63.6h0.8v0.8h-0.8zM137.3 68.2h0.8v0.8h-0.8zM132.3 48h0.8v0.8h-0.8zM118.8 58h0.8v0.8h-0.8zM106.8 60.4h0.8v0.8h-0.8zM103.3 67.7h0.8v0.8h-0.8zM114.9 49h0.8v0.8h-0.8zM136.2 81.7h0.8v0.8h-0.8zM122.4 93.7h0.8v0.8h-0.8zM90 50.1h0.8v0.8h-0.8zM91.9 63.2h0.8v0.8h-0.8zM132.3 82.1h0.8v0.8h-0.8zM114.3 56.1h0.8v0.8h-0.8zM115.7 51.1h0.8v0.8h-0.8zM132 88.8h0.8v0.8h-0.8zM126.1 43.1h0.8v0.8h-0.8zM137.6 70.5h0.8v0.8h-0.8zM121.1 87.9h0.8v0.8h-0.8zM131.6 61.3h0.8v0.8h-0.8zM141 80.2h0.8v0.8h-0.8zM103.5 58.4h0.8v0.8h-0.8zM110.7 53.6h0.8v0.8h-0.8zM119.9 73.6h0.8v0.8h-0.8zM109.5 83.8h0.8v0.8h-0.8zM108.3 46.2h0.8v0.8h-0.8zM106.8 78.8h0.8v0.8h-0.8zM129.9 43.7h0.8v0.8h-0.8zM131.6 74.9h0.8v0.8h-0.8zM104.4 73h0.8v0.8h-0.8zM145.9 81.6h0.8v0.8h-0.8zM122.5 71.5h0.8v0.8h-0.8zM103.3 64.1h0.8v0.8h-0.8zM122.9 39.1h0.8v0.8h-0.8zM132.7 91.9h0.8v0.8h-0.8zM120.9 43.2h0.8v0.8h-0.8zM131.6 43.5h0.8v0.8h-0.8zM109.4 47.2h0.8v0.8h-0.8zM120.5 77.4h0.8v0.8h-0.8zM122.5 41.7h0.8v0.8h-0.8zM102.5 45.7h0.8v0.8h-0.8zM119.5 100.5h0.8v0.8h-0.8zM128.5 92.8h0.8v0.8h-0.8zM121.6 46.5h0.8v0.8h-0.8zM108.5 83.4h0.8v0.8h-0.8zM113.5 73.3h0.8v0.8h-0.8zM129.6 32.4h0.8v0.8h-0.8zM127.3 52.5h0.8v0.8h-0.8zM111.8 51.3h0.8v0.8h-0.8zM128.2 82.2h0.8v0.8h-0.8zM114.2 44.9h0.8v0.8h-0.8zM127 47.7h0.8v0.8h-0.8zM116.7 70.7h0.8v0.8h-0.8zM132.1 45.1h0.8v0.8h-0.8zM132.6 75.3h0.8v0.8h-0.8zM100.6 51.3h0.8v0.8h-0.8zM127.7 97.5h0.8v0.8h-0.8zM112.4 91.7h0.8v0.8h-0.8zM133 45.9h0.8v0.8h-0.8zM104.6 65.9h0.8v0.8h-0.8zM129.4 38.4h0.8v0.8h-0.8zM130.6 58.1h0.8v0.8h-0.8zM131.4 58h0.8v0.8h-0.8zM101.1 66.6h0.8v0.8h-0.8zM114.8 78.8h0.8v0.8h-0.8zM123.7 61.6h0.8v0.8h-0.8zM110.4 45.6h0.8v0.8h-0.8zM116.5 95.3h0.8v0.8h-0.8zM126.5 50.5h0.8v0.8h-0.8zM130.1 95.4h0.8v0.8h-0.8zM120 90h0.8v0.8h-0.8zM138.9 59.9h0.8v0.8h-0.8zM89.8 61.2h0.8v0.8h-0.8zM111.4 88.2h0.8v0.8h-0.8zM101.6 74h0.8v0.8h-0.8zM104.6 50.5h0.8v0.8h-0.8zM105.4 78.9h0.8v0.8h-0.8zM130.5 70.4h0.8v0.8h-0.8zM128.9 79.8h0.8v0.8h-0.8zM120 89.5h0.8v0.8h-0.8zM127.9 52.2h0.8v0.8h-0.8zM115.9 54.9h0.8v0.8h-0.8zM122.5 45.2h0.8v0.8h-0.8zM127.4 71.4h0.8v0.8h-0.8zM114 90.4h0.8v0.8h-0.8zM126.2 92.8h0.8v0.8h-0.8zM123.5 30.8h0.8v0.8h-0.8zM111.7 66.3h0.8v0.8h-0.8zM101.2 72.7h0.8v0.8h-0.8zM121.5 43.5h0.8v0.8h-0.8zM103.5 76h0.8v0.8h-0.8zM94.2 62.9h0.8v0.8h-0.8zM119.9 87.3h0.8v0.8h-0.8zM110.3 73.2h0.8v0.8h-0.8zM108.4 78.2h0.8v0.8h-0.8zM134.1 51.2h0.8v0.8h-0.8zM124 34.4h0.8v0.8h-0.8zM122.9 89.5h0.8v0.8h-0.8zM115.4 56.4h0.8v0.8h-0.8zM135.5 68.2h0.8v0.8h-0.8zM117.3 42.4h0.8v0.8h-0.8zM129.9 90.6h0.8v0.8h-0.8zM88 52.3h0.8v0.8h-0.8zM128.2 40.6h0.8v0.8h-0.8zM103 63.2h0.8v0.8h-0.8zM119.3 58.2h0.8v0.8h-0.8zM125.7 84.6h0.8v0.8h-0.8zM121.6 77.1h0.8v0.8h-0.8zM130.1 61.7h0.8v0.8h-0.8zM128.9 57.4h0.8v0.8h-0.8zM136.3 62h0.8v0.8h-0.8zM97.6 58.3h0.8v0.8h-0.8zM126.8 79.1h0.8v0.8h-0.8zM109.5 46.2h0.8v0.8h-0.8zM130 95.9h0.8v0.8h-0.8zM118.2 53.9h0.8v0.8h-0.8zM137.3 76.3h0.8v0.8h-0.8zM138.9 58.5h0.8v0.8h-0.8zM129.4 35h0.8v0.8h-0.8zM114.6 79.8h0.8v0.8h-0.8zM128.9 55.7h0.8v0.8h-0.8zM113.3 55.7h0.8v0.8h-0.8zM114.1 90.8h0.8v0.8h-0.8zM125 45.1h0.8v0.8h-0.8zM119.7 53.6h0.8v0.8h-0.8zM137.7 75h0.8v0.8h-0.8zM128.7 87.6h0.8v0.8h-0.8zM126.5 31.3h0.8v0.8h-0.8zM118.8 97.4h0.8v0.8h-0.8zM127.7 46.9h0.8v0.8h-0.8zM124.6 63.4h0.8v0.8h-0.8zM100.1 56.5h0.8v0.8h-0.8zM127.3 49.5h0.8v0.8h-0.8zM93.8 51.7h0.8v0.8h-0.8zM111.3 89h0.8v0.8h-0.8zM121.7 97.5h0.8v0.8h-0.8zM135.2 62h0.8v0.8h-0.8zM127.5 36.8h0.8v0.8h-0.8zM106.1 64.1h0.8v0.8h-0.8zM110.8 45h0.8v0.8h-0.8zM136.6 76.8h0.8v0.8h-0.8zM134.2 82.3h0.8v0.8h-0.8zM114.7 83.8h0.8v0.8h-0.8zM115.7 89.8h0.8v0.8h-0.8zM126.1 77h0.8v0.8h-0.8zM110.9 44.6h0.8v0.8h-0.8zM133.7 87.5h0.8v0.8h-0.8zM141.7 76.8h0.8v0.8h-0.8zM137.3 57.9h0.8v0.8h-0.8zM128.7 57.1h0.8v0.8h-0.8zM129.9 90.8h0.8v0.8h-0.8zM124.8 52h0.8v0.8h-0.8zM137.3 81.1h0.8v0.8h-0.8zM146 80.7h0.8v0.8h-0.8zM134.4 91.6h0.8v0.8h-0.8zM116.1 91.3h0.8v0.8h-0.8zM125 34.1h0.8v0.8h-0.8zM96.7 57.4h0.8v0.8h-0.8zM124.3 102.4h0.8v0.8h-0.8zM121.8 88.5h0.8v0.8h-0.8zM139.1 55.6h0.8v0.8h-0.8zM131.4 84.3h0.8v0.8h-0.8zM105.1 65.8h0.8v0.8h-0.8zM116.1 94.6h0.8v0.8h-0.8zM119.6 59.1h0.8v0.8h-0.8zM114 48.2h0.8v0.8h-0.8zM123.2 43.1h0.8v0.8h-0.8zM113.4 64h0.8v0.8h-0.8zM116.6 77.8h0.8v0.8h-0.8zM114.4 93.4h0.8v0.8h-0.8zM91.8 48.7h0.8v0.8h-0.8zM121.6 45.6h0.8v0.8h-0.8zM133.8 41.6h0.8v0.8h-0.8zM133.9 67.8h0.8v0.8h-0.8zM120.3 96.6h0.8v0.8h-0.8zM120.2 60.9h0.8v0.8h-0.8zM136.3 59.5h0.8v0.8h-0.8zM108.2 50.3h0.8v0.8h-0.8zM125.6 92.9h0.8v0.8h-0.8zM110.5 67.5h0.8v0.8h-0.8zM131.4 60.8h0.8v0.8h-0.8zM90.8 55.8h0.8v0.8h-0.8zM133.8 88.4h0.8v0.8h-0.8zM130.3 82.8h0.8v0.8h-0.8zM110.8 52.4h0.8v0.8h-0.8zM112.6 61.8h0.8v0.8h-0.8zM131.3 40.7h0.8v0.8h-0.8zM96.2 64.7h0.8v0.8h-0.8zM127.3 80.6h0.8v0.8h-0.8zM114.4 72.1h0.8v0.8h-0.8zM125.4 51.2h0.8v0.8h-0.8zM137.7 54.9h0.8v0.8h-0.8zM128 64.5h0.8v0.8h-0.8zM130.2 71h0.8v0.8h-0.8zM113.9 59.7h0.8v0.8h-0.8zM104.6 75h0.8v0.8h-0.8zM93 48.9h0.8v0.8h-0.8zM132.4 63.4h0.8v0.8h-0.8zM90.8 48.2h0.8v0.8h-0.8zM120.7 53.3h0.8v0.8h-0.8zM100.7 57.6h0.8v0.8h-0.8zM107.8 64.1h0.8v0.8h-0.8zM120.2 62.6h0.8v0.8h-0.8zM118.5 41h0.8v0.8h-0.8z"/>
<path fill="#b4de8e" d="M133.7 34.9h0.9v0.9h-0.9zM117.9 102.5h0.9v0.9h-0.9zM130.7 28.4h0.9v0.9h-0.9zM103.1 41.2h0.9v0.9h-0.9zM104.7 79.5h0.9v0.9h-0.9zM117.3 100.6h0.9v0.9h-0.9zM139.2 59.1h0.9v0.9h-0.9zM103.3 76.4h0.9v0.9h-0.9zM115.6 99.3h0.9v0.9h-0.9zM114.3 42.7h0.9v0.9h-0.9zM116.5 38.7h0.9v0.9h-0.9zM150.4 87.4h0.9v0.9h-0.9zM138.9 91.1h0.9v0.9h-0.9zM115.7 38.9h0.9v0.9h-0.9zM102.7 43.4h0.9v0.9h-0.9zM140 59.4h0.9v0.9h-0.9zM121.2 30h0.9v0.9h-0.9zM121.1 30.3h0.9v0.9h-0.9zM115.9 37.8h0.9v0.9h-0.9zM138.2 68.7h0.9v0.9h-0.9zM141.6 74.6h0.9v0.9h-0.9zM88.9 52.1h0.9v0.9h-0.9zM137.9 92.8h0.9v0.9h-0.9zM139.6 54.4h0.9v0.9h-0.9zM90.6 57.8h0.9v0.9h-0.9zM110.1 40.9h0.9v0.9h-0.9zM110.7 40.9h0.9v0.9h-0.9zM89.9 48.4h0.9v0.9h-0.9zM144 76.7h0.9v0.9h-0.9zM130.8 29.5h0.9v0.9h-0.9zM132.5 24.5h0.9v0.9h-0.9zM88.9 46.4h0.9v0.9h-0.9zM132.4 36.2h0.9v0.9h-0.9zM86 45.9h0.9v0.9h-0.9zM142.7 74.6h0.9v0.9h-0.9zM129.2 96h0.9v0.9h-0.9zM129.9 29.5h0.9v0.9h-0.9zM85.5 56.3h0.9v0.9h-0.9zM125.2 32.7h0.9v0.9h-0.9zM120.5 99.1h0.9v0.9h-0.9zM106.6 91.5h0.9v0.9h-0.9zM131.2 97h0.9v0.9h-0.9zM116.5 39.9h0.9v0.9h-0.9zM140.9 51.3h0.9v0.9h-0.9zM87.5 57.1h0.9v0.9h-0.9zM129.3 32.6h0.9v0.9h-0.9zM103.8 81.4h0.9v0.9h-0.9zM118.4 37.2h0.9v0.9h-0.9zM135.2 44.2h0.9v0.9h-0.9zM86.2 59h0.9v0.9h-0.9zM113.1 44.2h0.9v0.9h-0.9zM122.6 28.7h0.9v0.9h-0.9zM148.6 93.9h0.9v0.9h-0.9zM109.6 92.7h0.9v0.9h-0.9zM90.4 44.1h0.9v0.9h-0.9zM91.1 68h0.9v0.9h-0.9zM150.1 84.6h0.9v0.9h-0.9zM146.1 78.1h0.9v0.9h-0.9zM125 30.4h0.9v0.9h-0.9zM135.1 41.6h0.9v0.9h-0.9zM113.6 34.9h0.9v0.9h-0.9zM135.7 48.1h0.9v0.9h-0.9zM145.5 88.9h0.9v0.9h-0.9zM133.5 39h0.9v0.9h-0.9zM117 91.3h0.9v0.9h-0.9zM133.2 37h0.9v0.9h-0.9zM120.7 34h0.9v0.9h-0.9zM145.5 77.6h0.9v0.9h-0.9zM141.4 62.5h0.9v0.9h-0.9zM108.6 87h0.9v0.9h-0.9zM127.4 101.3h0.9v0.9h-0.9zM120.6 31.2h0.9v0.9h-0.9zM148.5 88.4h0.9v0.9h-0.9zM143.4 91.7h0.9v0.9h-0.9zM90.7 64.3h0.9v0.9h-0.9zM140.1 51.9h0.9v0.9h-0.9zM138.5 49.7h0.9v0.9h-0.9zM115.4 94h0.9v0.9h-0.9zM109.9 90.8h0.9v0.9h-0.9zM117.9 38.1h0.9v0.9h-0.9zM136.4 53.1h0.9v0.9h-0.9zM125.4 99.7h0.9v0.9h-0.9zM119.9 32.2h0.9v0.9h-0.9zM119.5 33.2h0.9v0.9h-0.9zM139.5 91.9h0.9v0.9h-0.9zM141.2 88.7h0.9v0.9h-0.9zM91.1 46.9h0.9v0.9h-0.9zM85.4 56.2h0.9v0.9h-0.9zM131.3 28.1h0.9v0.9h-0.9zM136.4 88.6h0.9v0.9h-0.9zM125.6 103.4h0.9v0.9h-0.9zM104.9 92.1h0.9v0.9h-0.9zM97.5 45.6h0.9v0.9h-0.9zM85.3 51.1h0.9v0.9h-0.9zM88.6 64.3h0.9v0.9h-0.9zM139.3 52.7h0.9v0.9h-0.9zM134 93.8h0.9v0.9h-0.9zM109.6 83.7h0.9v0.9h-0.9zM123.4 34.1h0.9v0.9h-0.9zM128.5 100.7h0.9v0.9h-0.9zM90.7 47.3h0.9v0.9h-0.9zM119.2 36.9h0.9v0.9h-0.9zM140.9 52.9h0.9v0.9h-0.9zM89 49.3h0.9v0.9h-0.9zM98.6 70.6h0.9v0.9h-0.9zM129.3 104h0.9v0.9h-0.9zM136.5 99.1h0.9v0.9h-0.9zM145.9 92.9h0.9v0.9h-0.9zM149.2 93.2h0.9v0.9h-0.9zM97.2 70.7h0.9v0.9h-0.9zM87.3 57.7h0.9v0.9h-0.9zM93.2 53.8h0.9v0.9h-0.9zM114 38.8h0.9v0.9h-0.9zM97.9 44.7h0.9v0.9h-0.9zM115.4 37.6h0.9v0.9h-0.9zM124.8 26.7h0.9v0.9h-0.9zM110.4 45.3h0.9v0.9h-0.9zM110.5 39h0.9v0.9h-0.9zM129.8 100.4h0.9v0.9h-0.9zM147 91h0.9v0.9h-0.9zM132.1 33.3h0.9v0.9h-0.9zM96.4 44.1h0.9v0.9h-0.9zM134.7 52.9h0.9v0.9h-0.9zM139.2 89.9h0.9v0.9h-0.9zM146 91.3h0.9v0.9h-0.9zM116.9 100.2h0.9v0.9h-0.9zM138.9 51h0.9v0.9h-0.9zM87.5 62.2h0.9v0.9h-0.9zM139 48.7h0.9v0.9h-0.9zM132.5 28.7h0.9v0.9h-0.9zM118.3 37.8h0.9v0.9h-0.9zM120.8 32.7h0.9v0.9h-0.9zM125.5 97.9h0.9v0.9h-0.9zM92.7 61.1h0.9v0.9h-0.9z"/>
<path d="M137 107.5C138.5 105.4 141.2 104.7 143 104.5C144.8 104.3 145.7 104.4 148 106.5C150.3 108.6 154 114 156.7 116.9C159.4 119.8 162.1 121.8 164 124C165.9 126.2 167.4 127.2 168.2 130C169 132.8 168.9 137 168.8 141C168.7 145 168.3 149.6 167.5 153.9C166.7 158.2 165.2 162.8 164.1 166.7C163 170.5 162.6 174.4 160.9 177C159.2 179.6 156.3 181.6 154 182.5C151.7 183.4 149.5 183 147 182.5C144.5 182 141.8 181.2 139 179.6C136.2 178 131.3 175.8 130.4 173.1C129.5 170.4 132.8 167.8 133.6 163.5C134.4 159.2 135.2 153.3 135.2 147.4C135.2 141.5 133.8 133.3 133.6 128.2C133.4 123.1 133.6 120.4 134.2 116.9C134.8 113.5 135.5 109.6 137 107.5Z" fill="#abd0e4"/>
<path fill="#fff" fill-opacity="0.9" d="M155.6 115.9h0.8v0.8h-0.8zM144.6 114.4h0.8v0.8h-0.8zM155.7 147.4h0.8v0.8h-0.8zM161.7 151h0.8v0.8h-0.8zM147.3 129.6h0.8v0.8h-0.8zM159.2 123.7h0.8v0.8h-0.8zM160.1 154.8h0.8v0.8h-0.8zM154.1 172.1h0.8v0.8h-0.8zM141.6 167.8h0.8v0.8h-0.8zM151.7 133.6h0.8v0.8h-0.8zM152.5 169.8h0.8v0.8h-0.8zM132.4 171.1h0.8v0.8h-0.8zM150.2 147.2h0.8v0.8h-0.8zM141.9 164h0.8v0.8h-0.8zM135.5 141.9h0.8v0.8h-0.8zM144.1 146.8h0.8v0.8h-0.8zM137.9 146.4h0.8v0.8h-0.8zM152.6 115.3h0.8v0.8h-0.8zM142.1 138.5h0.8v0.8h-0.8zM152.7 165.3h0.8v0.8h-0.8zM144.2 174.6h0.8v0.8h-0.8zM138.3 121.5h0.8v0.8h-0.8zM153.4 131.2h0.8v0.8h-0.8zM146.6 163.8h0.8v0.8h-0.8zM138.9 154.5h0.8v0.8h-0.8zM139.2 176.5h0.8v0.8h-0.8zM150.3 146.9h0.8v0.8h-0.8zM149.6 108.9h0.8v0.8h-0.8zM154.4 149.8h0.8v0.8h-0.8zM157.2 130.1h0.8v0.8h-0.8zM164.1 137.1h0.8v0.8h-0.8zM152.3 176.6h0.8v0.8h-0.8zM155.3 166.5h0.8v0.8h-0.8zM139.3 173.6h0.8v0.8h-0.8zM152.5 136.5h0.8v0.8h-0.8zM144.5 117.4h0.8v0.8h-0.8zM162 167.8h0.8v0.8h-0.8zM138 108.6h0.8v0.8h-0.8zM135.6 134.7h0.8v0.8h-0.8zM143.8 177.1h0.8v0.8h-0.8zM166.8 143.1h0.8v0.8h-0.8zM154.7 174.8h0.8v0.8h-0.8zM141 131.4h0.8v0.8h-0.8zM139.3 159h0.8v0.8h-0.8zM158.1 121.9h0.8v0.8h-0.8zM160.9 125h0.8v0.8h-0.8zM161.2 158.9h0.8v0.8h-0.8zM146.5 177.5h0.8v0.8h-0.8zM158.3 125.9h0.8v0.8h-0.8zM165 132.1h0.8v0.8h-0.8zM160 142.3h0.8v0.8h-0.8zM145.8 119.8h0.8v0.8h-0.8zM149.7 145.4h0.8v0.8h-0.8zM142.1 122.2h0.8v0.8h-0.8zM150.7 137.1h0.8v0.8h-0.8zM150.9 163.5h0.8v0.8h-0.8zM165.7 144.1h0.8v0.8h-0.8zM137.8 134.6h0.8v0.8h-0.8zM150.9 120.5h0.8v0.8h-0.8zM150.2 162.2h0.8v0.8h-0.8zM157.5 170.6h0.8v0.8h-0.8zM153.1 162.8h0.8v0.8h-0.8zM154.4 157h0.8v0.8h-0.8zM141.3 166.1h0.8v0.8h-0.8zM144.1 170.8h0.8v0.8h-0.8zM163.7 137h0.8v0.8h-0.8zM160.5 123.3h0.8v0.8h-0.8zM137.3 170.8h0.8v0.8h-0.8zM158.4 142.5h0.8v0.8h-0.8zM139.8 106.7h0.8v0.8h-0.8zM145.1 135.4h0.8v0.8h-0.8zM147.8 120h0.8v0.8h-0.8zM140.9 122.2h0.8v0.8h-0.8zM135.5 130.3h0.8v0.8h-0.8zM150.7 156.9h0.8v0.8h-0.8zM153.4 149.5h0.8v0.8h-0.8zM147.3 156.6h0.8v0.8h-0.8zM144.3 128.5h0.8v0.8h-0.8zM138.7 134.8h0.8v0.8h-0.8zM159.9 166.4h0.8v0.8h-0.8zM156.1 155.5h0.8v0.8h-0.8zM135.2 131.5h0.8v0.8h-0.8zM135.5 143.1h0.8v0.8h-0.8zM147.1 135.2h0.8v0.8h-0.8zM167.8 136.6h0.8v0.8h-0.8zM163.2 128.9h0.8v0.8h-0.8zM137.9 134.2h0.8v0.8h-0.8zM145.3 143.9h0.8v0.8h-0.8zM161.2 133.7h0.8v0.8h-0.8zM134.3 164.2h0.8v0.8h-0.8zM160.7 169.9h0.8v0.8h-0.8zM161.5 140.5h0.8v0.8h-0.8zM148.5 110.5h0.8v0.8h-0.8zM158.9 174.8h0.8v0.8h-0.8zM147.6 163h0.8v0.8h-0.8zM144.7 170.3h0.8v0.8h-0.8zM137.2 108.9h0.8v0.8h-0.8zM137.5 125.9h0.8v0.8h-0.8zM136.8 142.9h0.8v0.8h-0.8zM158.5 145.2h0.8v0.8h-0.8zM156.6 118.5h0.8v0.8h-0.8zM164.4 126.3h0.8v0.8h-0.8zM136.5 127.3h0.8v0.8h-0.8zM149.5 166.1h0.8v0.8h-0.8zM155.6 171.6h0.8v0.8h-0.8zM147.2 120.6h0.8v0.8h-0.8zM137.4 108.1h0.8v0.8h-0.8zM153.2 129.6h0.8v0.8h-0.8zM143.7 134h0.8v0.8h-0.8zM136 116.1h0.8v0.8h-0.8zM156.6 140h0.8v0.8h-0.8zM143.2 179.8h0.8v0.8h-0.8zM149.8 176h0.8v0.8h-0.8zM138.3 146.5h0.8v0.8h-0.8zM139.2 166.5h0.8v0.8h-0.8zM166.3 145.8h0.8v0.8h-0.8zM147.8 130.2h0.8v0.8h-0.8zM148.9 142.1h0.8v0.8h-0.8zM135.1 137.2h0.8v0.8h-0.8zM137.2 147.8h0.8v0.8h-0.8zM144.5 172.2h0.8v0.8h-0.8zM155.8 166.7h0.8v0.8h-0.8zM156.8 123.1h0.8v0.8h-0.8zM148.6 130.6h0.8v0.8h-0.8zM147.1 110.2h0.8v0.8h-0.8zM162.8 151.6h0.8v0.8h-0.8zM148.3 139.9h0.8v0.8h-0.8zM147.9 137.6h0.8v0.8h-0.8zM145.6 112.2h0.8v0.8h-0.8zM140.9 122h0.8v0.8h-0.8zM134 137.6h0.8v0.8h-0.8zM155.5 174.7h0.8v0.8h-0.8zM158.9 166.2h0.8v0.8h-0.8zM141.7 153.3h0.8v0.8h-0.8zM135.3 128.5h0.8v0.8h-0.8zM141.9 149.9h0.8v0.8h-0.8zM137.5 140.3h0.8v0.8h-0.8zM157.8 169.6h0.8v0.8h-0.8zM146.4 123.8h0.8v0.8h-0.8zM135.4 158.7h0.8v0.8h-0.8zM149.4 133.3h0.8v0.8h-0.8zM143.2 174.8h0.8v0.8h-0.8zM138.8 141.5h0.8v0.8h-0.8zM153.9 146.7h0.8v0.8h-0.8zM159.2 151.9h0.8v0.8h-0.8zM152.6 138h0.8v0.8h-0.8zM154.5 161.9h0.8v0.8h-0.8zM148.4 150.9h0.8v0.8h-0.8zM150.6 127.6h0.8v0.8h-0.8zM151.9 176h0.8v0.8h-0.8zM139.8 131.3h0.8v0.8h-0.8zM142.8 132.6h0.8v0.8h-0.8zM149 180h0.8v0.8h-0.8zM144.2 123.8h0.8v0.8h-0.8zM141.2 164.4h0.8v0.8h-0.8zM141.2 176.1h0.8v0.8h-0.8zM157.1 171.7h0.8v0.8h-0.8zM162.5 156.6h0.8v0.8h-0.8zM150.3 175h0.8v0.8h-0.8zM137.6 148.7h0.8v0.8h-0.8zM150.1 126.4h0.8v0.8h-0.8zM151.3 121.7h0.8v0.8h-0.8zM155.2 115.4h0.8v0.8h-0.8zM157.6 153.3h0.8v0.8h-0.8zM166.9 153.5h0.8v0.8h-0.8zM157.2 151.3h0.8v0.8h-0.8zM159.8 156.1h0.8v0.8h-0.8zM132.9 165.2h0.8v0.8h-0.8zM146.3 123.3h0.8v0.8h-0.8zM144.3 169.9h0.8v0.8h-0.8zM153 170.7h0.8v0.8h-0.8zM150.1 111.4h0.8v0.8h-0.8zM142.2 153.4h0.8v0.8h-0.8zM147.9 181.7h0.8v0.8h-0.8zM151.5 137.9h0.8v0.8h-0.8zM153.1 133.4h0.8v0.8h-0.8zM143.2 126.9h0.8v0.8h-0.8zM145.3 179h0.8v0.8h-0.8zM144.2 169.8h0.8v0.8h-0.8zM145.6 137.5h0.8v0.8h-0.8zM165.4 158h0.8v0.8h-0.8zM142.7 115.1h0.8v0.8h-0.8zM165.1 128.5h0.8v0.8h-0.8zM159.6 173.1h0.8v0.8h-0.8zM144.3 132.4h0.8v0.8h-0.8zM135 154.4h0.8v0.8h-0.8zM158.1 124.7h0.8v0.8h-0.8zM138.1 116.4h0.8v0.8h-0.8zM137.6 133.1h0.8v0.8h-0.8zM141.9 150.4h0.8v0.8h-0.8zM147.6 148.9h0.8v0.8h-0.8zM158.1 153h0.8v0.8h-0.8zM155.3 144.1h0.8v0.8h-0.8zM138.1 174.1h0.8v0.8h-0.8zM153.1 145h0.8v0.8h-0.8zM149.7 175.4h0.8v0.8h-0.8zM157.2 161.2h0.8v0.8h-0.8zM156.6 147.7h0.8v0.8h-0.8zM147.9 149.3h0.8v0.8h-0.8zM164.7 148.1h0.8v0.8h-0.8zM134.1 127.5h0.8v0.8h-0.8zM159.9 122.6h0.8v0.8h-0.8zM137.9 118h0.8v0.8h-0.8zM158.9 162.8h0.8v0.8h-0.8zM164.1 153.4h0.8v0.8h-0.8zM161.7 122.1h0.8v0.8h-0.8zM154.6 142.1h0.8v0.8h-0.8zM156.5 174.8h0.8v0.8h-0.8zM147.1 156.4h0.8v0.8h-0.8zM154.5 164.2h0.8v0.8h-0.8zM139.5 174.1h0.8v0.8h-0.8zM136.6 151.6h0.8v0.8h-0.8zM132.6 171h0.8v0.8h-0.8zM133.3 168.9h0.8v0.8h-0.8zM156.7 144.6h0.8v0.8h-0.8zM141.6 156.6h0.8v0.8h-0.8zM150.9 153.9h0.8v0.8h-0.8zM142.1 115.6h0.8v0.8h-0.8zM149.2 158.7h0.8v0.8h-0.8zM136.6 164.5h0.8v0.8h-0.8zM163.2 154.6h0.8v0.8h-0.8zM150.5 139.9h0.8v0.8h-0.8zM151.7 180.3h0.8v0.8h-0.8zM136.8 148.8h0.8v0.8h-0.8zM152.1 119.2h0.8v0.8h-0.8zM155.7 177.7h0.8v0.8h-0.8zM148.7 131.2h0.8v0.8h-0.8zM148.8 112.1h0.8v0.8h-0.8zM163.1 146.2h0.8v0.8h-0.8zM136.8 175.4h0.8v0.8h-0.8zM133.7 127.5h0.8v0.8h-0.8zM164.6 152.5h0.8v0.8h-0.8zM151.9 146h0.8v0.8h-0.8zM152.1 149.4h0.8v0.8h-0.8zM146.9 163.1h0.8v0.8h-0.8zM146.8 165.3h0.8v0.8h-0.8zM150.4 150.1h0.8v0.8h-0.8zM141.6 125.1h0.8v0.8h-0.8zM162.2 168.6h0.8v0.8h-0.8zM163.4 160h0.8v0.8h-0.8zM148.8 177.7h0.8v0.8h-0.8zM161.5 161h0.8v0.8h-0.8zM157.5 156.1h0.8v0.8h-0.8zM166.7 149.1h0.8v0.8h-0.8zM146.7 123.1h0.8v0.8h-0.8zM155.9 123.9h0.8v0.8h-0.8zM156.2 164h0.8v0.8h-0.8zM143 175.6h0.8v0.8h-0.8zM144.6 114.3h0.8v0.8h-0.8zM167.3 129.4h0.8v0.8h-0.8zM145.6 110.4h0.8v0.8h-0.8zM152.3 180.1h0.8v0.8h-0.8zM146.7 134.8h0.8v0.8h-0.8zM151.9 164.2h0.8v0.8h-0.8zM153.7 163.1h0.8v0.8h-0.8zM135.1 170.2h0.8v0.8h-0.8zM146.9 131.1h0.8v0.8h-0.8zM161.4 129.5h0.8v0.8h-0.8zM160.8 158.6h0.8v0.8h-0.8zM153.9 120.8h0.8v0.8h-0.8zM137.7 134.4h0.8v0.8h-0.8zM159.7 159.3h0.8v0.8h-0.8zM140.7 116.7h0.8v0.8h-0.8zM155.7 163.9h0.8v0.8h-0.8zM153.7 148.6h0.8v0.8h-0.8zM150.9 123.1h0.8v0.8h-0.8zM149.2 139.2h0.8v0.8h-0.8zM150.9 112.9h0.8v0.8h-0.8zM167.2 129.4h0.8v0.8h-0.8zM157.4 133.5h0.8v0.8h-0.8zM138.6 111.5h0.8v0.8h-0.8zM147.3 112.8h0.8v0.8h-0.8zM139.6 144.2h0.8v0.8h-0.8zM141.6 105.6h0.8v0.8h-0.8zM153.2 157.2h0.8v0.8h-0.8zM144.7 137.7h0.8v0.8h-0.8zM149.2 139.1h0.8v0.8h-0.8zM148.2 124.1h0.8v0.8h-0.8zM158.3 165.4h0.8v0.8h-0.8zM134.7 134h0.8v0.8h-0.8zM134.5 124.9h0.8v0.8h-0.8zM143.2 134.7h0.8v0.8h-0.8zM155.9 177.2h0.8v0.8h-0.8zM158.6 154.3h0.8v0.8h-0.8zM154.6 135.3h0.8v0.8h-0.8zM140 156.8h0.8v0.8h-0.8zM144.8 105.3h0.8v0.8h-0.8zM156 146h0.8v0.8h-0.8zM134.1 164.3h0.8v0.8h-0.8zM147.7 135.6h0.8v0.8h-0.8zM145.6 106.1h0.8v0.8h-0.8zM140.8 164.6h0.8v0.8h-0.8zM148.7 136.7h0.8v0.8h-0.8zM137.2 133.4h0.8v0.8h-0.8zM140.9 176.7h0.8v0.8h-0.8zM166.6 146.8h0.8v0.8h-0.8zM145.8 115.5h0.8v0.8h-0.8zM154.9 149.7h0.8v0.8h-0.8zM141.3 142.1h0.8v0.8h-0.8zM159.9 162.8h0.8v0.8h-0.8zM144.7 158.9h0.8v0.8h-0.8zM148.9 167.6h0.8v0.8h-0.8zM160 136.8h0.8v0.8h-0.8zM141.3 172.8h0.8v0.8h-0.8zM143.3 130.8h0.8v0.8h-0.8zM139.4 177.7h0.8v0.8h-0.8zM135.9 128.7h0.8v0.8h-0.8zM152.7 182h0.8v0.8h-0.8zM148.2 134.1h0.8v0.8h-0.8zM150.9 122.4h0.8v0.8h-0.8zM150.2 147h0.8v0.8h-0.8zM165.2 136.6h0.8v0.8h-0.8zM144.8 178.9h0.8v0.8h-0.8zM151.9 147.9h0.8v0.8h-0.8zM142.1 166h0.8v0.8h-0.8zM154.1 121.1h0.8v0.8h-0.8zM146.8 117.9h0.8v0.8h-0.8zM151.8 160.4h0.8v0.8h-0.8zM141.4 173.9h0.8v0.8h-0.8zM148.1 164.1h0.8v0.8h-0.8zM150.2 172.9h0.8v0.8h-0.8zM163 154h0.8v0.8h-0.8zM139.2 109.6h0.8v0.8h-0.8zM162.9 129.5h0.8v0.8h-0.8zM155.1 151.7h0.8v0.8h-0.8zM138.4 164.4h0.8v0.8h-0.8zM136.2 168.2h0.8v0.8h-0.8zM163.2 152.3h0.8v0.8h-0.8zM141.7 107.3h0.8v0.8h-0.8zM147.1 180.8h0.8v0.8h-0.8zM151.5 167.2h0.8v0.8h-0.8zM156.1 142.9h0.8v0.8h-0.8zM157.7 128h0.8v0.8h-0.8zM136.1 156.2h0.8v0.8h-0.8zM150.3 160.9h0.8v0.8h-0.8zM161.5 163.2h0.8v0.8h-0.8zM146.5 123h0.8v0.8h-0.8zM167.5 132.4h0.8v0.8h-0.8zM165.9 131.6h0.8v0.8h-0.8zM157.4 132.7h0.8v0.8h-0.8zM156 155.8h0.8v0.8h-0.8zM151.8 176h0.8v0.8h-0.8zM149.9 134.1h0.8v0.8h-0.8zM134.2 133.2h0.8v0.8h-0.8zM149.6 135.3h0.8v0.8h-0.8zM146.8 151.4h0.8v0.8h-0.8zM149.8 125.3h0.8v0.8h-0.8zM148.4 118.3h0.8v0.8h-0.8zM138.6 126.5h0.8v0.8h-0.8zM147 119h0.8v0.8h-0.8zM144.4 115.7h0.8v0.8h-0.8zM143 152.3h0.8v0.8h-0.8zM134.1 167.4h0.8v0.8h-0.8zM153.6 130.5h0.8v0.8h-0.8zM146.2 160.4h0.8v0.8h-0.8zM136.3 143.2h0.8v0.8h-0.8zM148 172.8h0.8v0.8h-0.8zM153 115h0.8v0.8h-0.8zM139.5 122.8h0.8v0.8h-0.8zM163 132.2h0.8v0.8h-0.8zM150 148.7h0.8v0.8h-0.8zM137.6 106.6h0.8v0.8h-0.8zM163 167.4h0.8v0.8h-0.8zM149.4 122h0.8v0.8h-0.8zM160.4 155.9h0.8v0.8h-0.8zM146.5 146.1h0.8v0.8h-0.8zM140.3 162.6h0.8v0.8h-0.8zM150.6 127.1h0.8v0.8h-0.8zM139.1 146.6h0.8v0.8h-0.8zM142.6 147.5h0.8v0.8h-0.8zM158.4 136.3h0.8v0.8h-0.8zM150.9 150.8h0.8v0.8h-0.8zM148.3 120h0.8v0.8h-0.8zM154.2 176.7h0.8v0.8h-0.8zM148.9 147.1h0.8v0.8h-0.8zM159 139h0.8v0.8h-0.8zM156.1 119.1h0.8v0.8h-0.8zM159 154.9h0.8v0.8h-0.8zM154.4 151.2h0.8v0.8h-0.8zM161.2 156.2h0.8v0.8h-0.8zM144.8 166.9h0.8v0.8h-0.8zM149.4 125.4h0.8v0.8h-0.8zM151.7 164h0.8v0.8h-0.8zM151.4 139.3h0.8v0.8h-0.8zM144.6 134.9h0.8v0.8h-0.8zM143.6 160.8h0.8v0.8h-0.8zM147.6 140.7h0.8v0.8h-0.8zM137.3 129.1h0.8v0.8h-0.8zM165 127.4h0.8v0.8h-0.8zM139.5 158.8h0.8v0.8h-0.8zM136 173.5h0.8v0.8h-0.8zM152.6 157.4h0.8v0.8h-0.8zM163.5 133.3h0.8v0.8h-0.8zM134.1 157.9h0.8v0.8h-0.8zM146.3 137.1h0.8v0.8h-0.8zM161.3 121.5h0.8v0.8h-0.8zM136.8 150.5h0.8v0.8h-0.8zM153.8 140.5h0.8v0.8h-0.8zM133.9 135.4h0.8v0.8h-0.8zM163.3 162.9h0.8v0.8h-0.8zM137.3 157.1h0.8v0.8h-0.8zM152 177.5h0.8v0.8h-0.8zM143.7 150.5h0.8v0.8h-0.8zM150.7 167.4h0.8v0.8h-0.8zM152.6 122.6h0.8v0.8h-0.8zM144.8 151.9h0.8v0.8h-0.8zM140.2 116.7h0.8v0.8h-0.8zM138.1 131h0.8v0.8h-0.8zM141.1 113.1h0.8v0.8h-0.8zM162.1 154.6h0.8v0.8h-0.8zM135.6 149.3h0.8v0.8h-0.8zM153.3 146.8h0.8v0.8h-0.8zM134.7 155.3h0.8v0.8h-0.8zM137.7 152.8h0.8v0.8h-0.8zM160.5 160h0.8v0.8h-0.8zM153.2 117.8h0.8v0.8h-0.8zM155.2 118.9h0.8v0.8h-0.8zM157.5 172.5h0.8v0.8h-0.8zM141.6 146.1h0.8v0.8h-0.8zM145.5 128.8h0.8v0.8h-0.8zM135.2 172.8h0.8v0.8h-0.8zM153.3 116.5h0.8v0.8h-0.8zM147.7 134h0.8v0.8h-0.8zM134.7 118.7h0.8v0.8h-0.8zM161.2 162h0.8v0.8h-0.8zM141.4 131.9h0.8v0.8h-0.8zM156.9 156.4h0.8v0.8h-0.8zM162.3 162.8h0.8v0.8h-0.8zM150.7 154.3h0.8v0.8h-0.8zM161.6 137.7h0.8v0.8h-0.8zM140 145.7h0.8v0.8h-0.8zM164.9 153.2h0.8v0.8h-0.8zM139.1 155.9h0.8v0.8h-0.8zM160.7 155.7h0.8v0.8h-0.8zM159.1 177.7h0.8v0.8h-0.8zM163 159h0.8v0.8h-0.8zM136.9 118.7h0.8v0.8h-0.8zM161.2 154.4h0.8v0.8h-0.8zM153.5 153h0.8v0.8h-0.8zM163.6 157.1h0.8v0.8h-0.8zM148.9 153h0.8v0.8h-0.8zM150.8 122.8h0.8v0.8h-0.8zM134.1 129.4h0.8v0.8h-0.8zM136.8 174.7h0.8v0.8h-0.8zM149.8 134.2h0.8v0.8h-0.8zM143.6 175.5h0.8v0.8h-0.8zM143.1 138.2h0.8v0.8h-0.8zM148.2 160.5h0.8v0.8h-0.8zM136.3 108.8h0.8v0.8h-0.8zM157 129.7h0.8v0.8h-0.8zM135.9 119.4h0.8v0.8h-0.8zM161.7 151.6h0.8v0.8h-0.8zM147.9 121.7h0.8v0.8h-0.8zM136.3 139.4h0.8v0.8h-0.8zM152.3 173.6h0.8v0.8h-0.8zM157.1 135.5h0.8v0.8h-0.8zM156.4 168.1h0.8v0.8h-0.8zM143 112.1h0.8v0.8h-0.8zM144.9 128.8h0.8v0.8h-0.8zM153 119.8h0.8v0.8h-0.8zM156.8 154.5h0.8v0.8h-0.8zM152.7 127.9h0.8v0.8h-0.8zM141.2 143.5h0.8v0.8h-0.8zM136.2 117.2h0.8v0.8h-0.8zM165 148.3h0.8v0.8h-0.8zM155.2 157.9h0.8v0.8h-0.8zM151.9 138.1h0.8v0.8h-0.8zM151.1 144.4h0.8v0.8h-0.8zM147.7 161.7h0.8v0.8h-0.8zM155.6 167h0.8v0.8h-0.8zM152 119.1h0.8v0.8h-0.8zM163.1 128.8h0.8v0.8h-0.8zM151.3 131.8h0.8v0.8h-0.8zM142.6 138.2h0.8v0.8h-0.8zM161.5 139.8h0.8v0.8h-0.8zM134.8 145.5h0.8v0.8h-0.8zM146.4 143.7h0.8v0.8h-0.8zM152.1 143h0.8v0.8h-0.8zM154.9 169h0.8v0.8h-0.8zM149.5 163.7h0.8v0.8h-0.8zM147.9 120.4h0.8v0.8h-0.8zM147.2 156.1h0.8v0.8h-0.8zM138 172.9h0.8v0.8h-0.8zM141.6 110.7h0.8v0.8h-0.8zM161.5 145.5h0.8v0.8h-0.8zM155.3 117.4h0.8v0.8h-0.8zM136.4 120.7h0.8v0.8h-0.8zM146.2 123.8h0.8v0.8h-0.8zM151.4 177.2h0.8v0.8h-0.8zM142.6 163.6h0.8v0.8h-0.8zM158.8 122.1h0.8v0.8h-0.8zM138.6 156.9h0.8v0.8h-0.8zM153.1 166.6h0.8v0.8h-0.8zM146.9 161.4h0.8v0.8h-0.8zM144 170.7h0.8v0.8h-0.8zM159.1 148h0.8v0.8h-0.8zM151.4 125.9h0.8v0.8h-0.8zM149.3 126.6h0.8v0.8h-0.8zM141.2 145.1h0.8v0.8h-0.8zM144.2 113h0.8v0.8h-0.8zM149.3 125.5h0.8v0.8h-0.8zM167.7 130.5h0.8v0.8h-0.8zM143.4 164h0.8v0.8h-0.8zM167.4 142.3h0.8v0.8h-0.8zM145.7 140.7h0.8v0.8h-0.8zM161.8 136.3h0.8v0.8h-0.8zM146.7 139.7h0.8v0.8h-0.8zM149.7 110.5h0.8v0.8h-0.8zM149.5 133.7h0.8v0.8h-0.8zM137.7 152.4h0.8v0.8h-0.8zM167.8 131.6h0.8v0.8h-0.8zM162.9 166.1h0.8v0.8h-0.8zM133.6 170.7h0.8v0.8h-0.8zM146.7 124.8h0.8v0.8h-0.8zM143.1 160.1h0.8v0.8h-0.8zM140.3 137.3h0.8v0.8h-0.8zM161.8 169h0.8v0.8h-0.8zM144.2 152.3h0.8v0.8h-0.8zM159.3 122.5h0.8v0.8h-0.8zM157.2 117.7h0.8v0.8h-0.8zM155.6 178.9h0.8v0.8h-0.8zM137.4 153.2h0.8v0.8h-0.8zM138.8 136.4h0.8v0.8h-0.8zM155.9 140.4h0.8v0.8h-0.8zM161.9 150.6h0.8v0.8h-0.8zM160.7 159.6h0.8v0.8h-0.8zM133.8 118.7h0.8v0.8h-0.8zM138.3 128.9h0.8v0.8h-0.8zM145 117.5h0.8v0.8h-0.8zM141.2 125.9h0.8v0.8h-0.8zM135.4 176.6h0.8v0.8h-0.8zM143.5 150.6h0.8v0.8h-0.8zM152.7 174.4h0.8v0.8h-0.8zM150.1 111.1h0.8v0.8h-0.8zM146.6 130.5h0.8v0.8h-0.8zM150.2 146.2h0.8v0.8h-0.8zM167.5 144.6h0.8v0.8h-0.8zM140.9 144.4h0.8v0.8h-0.8zM142.4 115.7h0.8v0.8h-0.8zM135.8 121.4h0.8v0.8h-0.8zM141.6 137h0.8v0.8h-0.8zM154.1 152.8h0.8v0.8h-0.8zM163.3 154.1h0.8v0.8h-0.8zM165.7 138.6h0.8v0.8h-0.8zM141.4 143.2h0.8v0.8h-0.8zM143.9 132.7h0.8v0.8h-0.8zM161.3 156.4h0.8v0.8h-0.8zM157.9 167.1h0.8v0.8h-0.8zM148.7 178.9h0.8v0.8h-0.8zM151 131.6h0.8v0.8h-0.8zM149.1 157.6h0.8v0.8h-0.8zM157.5 147.3h0.8v0.8h-0.8zM145.6 149.5h0.8v0.8h-0.8zM155.8 169.9h0.8v0.8h-0.8zM165.4 155.9h0.8v0.8h-0.8zM147.3 106.8h0.8v0.8h-0.8zM157 166.2h0.8v0.8h-0.8zM144.7 154.5h0.8v0.8h-0.8zM150.1 118.5h0.8v0.8h-0.8zM153.5 126.1h0.8v0.8h-0.8zM137.1 150.3h0.8v0.8h-0.8zM148.3 163.4h0.8v0.8h-0.8zM139.7 172.3h0.8v0.8h-0.8zM151.3 167.6h0.8v0.8h-0.8zM138.8 130.3h0.8v0.8h-0.8zM146.9 131.3h0.8v0.8h-0.8zM159.4 159.8h0.8v0.8h-0.8zM158.1 148.6h0.8v0.8h-0.8zM151 162.8h0.8v0.8h-0.8zM164.4 127h0.8v0.8h-0.8zM166.5 152.8h0.8v0.8h-0.8zM164.7 149.1h0.8v0.8h-0.8zM149.3 171.2h0.8v0.8h-0.8zM156.5 147.2h0.8v0.8h-0.8zM149.2 140.9h0.8v0.8h-0.8zM143.2 135.9h0.8v0.8h-0.8zM161.5 167h0.8v0.8h-0.8zM137.9 158.8h0.8v0.8h-0.8zM153.1 149.9h0.8v0.8h-0.8zM138.5 172.3h0.8v0.8h-0.8zM144.4 108.1h0.8v0.8h-0.8zM158.8 125.7h0.8v0.8h-0.8zM163.6 149.3h0.8v0.8h-0.8zM162.7 131.2h0.8v0.8h-0.8zM147.9 161h0.8v0.8h-0.8zM146.1 159.1h0.8v0.8h-0.8zM155.6 118.4h0.8v0.8h-0.8zM158.6 151.8h0.8v0.8h-0.8zM145.3 125.1h0.8v0.8h-0.8zM146.2 175.9h0.8v0.8h-0.8zM164.1 139.3h0.8v0.8h-0.8zM162.2 138.4h0.8v0.8h-0.8zM136.8 119h0.8v0.8h-0.8zM143.9 176h0.8v0.8h-0.8zM156.1 145.4h0.8v0.8h-0.8zM140.7 132.1h0.8v0.8h-0.8zM146.3 132.9h0.8v0.8h-0.8zM155.8 168.1h0.8v0.8h-0.8zM147.7 159.7h0.8v0.8h-0.8zM158.1 163.5h0.8v0.8h-0.8zM143.1 137.7h0.8v0.8h-0.8zM157 164.6h0.8v0.8h-0.8zM141.9 178.1h0.8v0.8h-0.8zM161 132.3h0.8v0.8h-0.8zM147 116.9h0.8v0.8h-0.8zM152 145.7h0.8v0.8h-0.8zM142.6 150.7h0.8v0.8h-0.8zM152.4 136.1h0.8v0.8h-0.8zM144.5 148.5h0.8v0.8h-0.8zM144.5 126.1h0.8v0.8h-0.8zM143.7 169.2h0.8v0.8h-0.8z"/>
<path fill="#abd0e4" d="M165.9 130.6h0.9v0.9h-0.9zM134.8 129.9h0.9v0.9h-0.9zM162.8 138.8h0.9v0.9h-0.9zM144.9 108.2h0.9v0.9h-0.9zM165.7 122.9h0.9v0.9h-0.9zM131.4 175.1h0.9v0.9h-0.9zM127.8 175h0.9v0.9h-0.9zM138.8 182.7h0.9v0.9h-0.9zM158.4 178h0.9v0.9h-0.9zM169 152.6h0.9v0.9h-0.9zM163.5 167.8h0.9v0.9h-0.9zM133.8 144.4h0.9v0.9h-0.9zM136.2 178.7h0.9v0.9h-0.9zM154.3 184.1h0.9v0.9h-0.9zM133.2 116.6h0.9v0.9h-0.9zM169.6 142h0.9v0.9h-0.9zM142.1 102.1h0.9v0.9h-0.9zM165.8 124.5h0.9v0.9h-0.9zM149.1 180.8h0.9v0.9h-0.9zM169.8 129.2h0.9v0.9h-0.9zM138.4 101.3h0.9v0.9h-0.9zM134.7 124.8h0.9v0.9h-0.9zM159.6 114.5h0.9v0.9h-0.9zM145.2 103.4h0.9v0.9h-0.9zM156.9 176.2h0.9v0.9h-0.9zM136.6 183.3h0.9v0.9h-0.9zM163 167.3h0.9v0.9h-0.9zM131.3 167.1h0.9v0.9h-0.9zM145.1 104.2h0.9v0.9h-0.9zM147.6 102.7h0.9v0.9h-0.9zM166.4 122.6h0.9v0.9h-0.9zM164.1 166.3h0.9v0.9h-0.9zM160.6 118.1h0.9v0.9h-0.9zM163.8 152.8h0.9v0.9h-0.9zM168.5 142.7h0.9v0.9h-0.9zM151.4 111.7h0.9v0.9h-0.9zM160.6 176.2h0.9v0.9h-0.9zM129.3 173.2h0.9v0.9h-0.9zM168.8 137.8h0.9v0.9h-0.9zM139.1 101.8h0.9v0.9h-0.9zM132.2 128.5h0.9v0.9h-0.9zM147.4 186.1h0.9v0.9h-0.9zM160.9 164.2h0.9v0.9h-0.9zM131.8 136.2h0.9v0.9h-0.9zM127.5 175.7h0.9v0.9h-0.9zM130.7 168.2h0.9v0.9h-0.9zM152.9 118.4h0.9v0.9h-0.9zM133.9 155h0.9v0.9h-0.9zM161.7 174.9h0.9v0.9h-0.9zM160.2 117.9h0.9v0.9h-0.9zM144.1 183.7h0.9v0.9h-0.9zM133.5 119.3h0.9v0.9h-0.9zM132.1 115.2h0.9v0.9h-0.9zM161.9 121.9h0.9v0.9h-0.9zM135.1 142.4h0.9v0.9h-0.9zM142.6 103.9h0.9v0.9h-0.9zM151.2 179.1h0.9v0.9h-0.9zM168.5 125.7h0.9v0.9h-0.9zM153 112.9h0.9v0.9h-0.9zM143 181.4h0.9v0.9h-0.9zM163.5 169.3h0.9v0.9h-0.9zM171.3 130h0.9v0.9h-0.9zM157.3 182.9h0.9v0.9h-0.9zM133.4 106.2h0.9v0.9h-0.9zM168.6 142.7h0.9v0.9h-0.9zM130.4 171.8h0.9v0.9h-0.9zM139.5 147.4h0.9v0.9h-0.9zM140.1 182.4h0.9v0.9h-0.9zM163.8 172.6h0.9v0.9h-0.9zM134.5 135h0.9v0.9h-0.9zM130.7 154.9h0.9v0.9h-0.9zM142.3 101.8h0.9v0.9h-0.9zM144.5 185.2h0.9v0.9h-0.9zM159.4 178.8h0.9v0.9h-0.9zM168.3 151.6h0.9v0.9h-0.9zM164.4 128.5h0.9v0.9h-0.9zM152.3 181.1h0.9v0.9h-0.9zM132.1 147h0.9v0.9h-0.9zM138.1 100.8h0.9v0.9h-0.9zM168.3 126.1h0.9v0.9h-0.9zM147.7 183.6h0.9v0.9h-0.9zM142.4 104.1h0.9v0.9h-0.9zM164.9 125.2h0.9v0.9h-0.9zM167.6 127.8h0.9v0.9h-0.9zM131.1 170.8h0.9v0.9h-0.9zM134.3 128.6h0.9v0.9h-0.9zM141.5 104.3h0.9v0.9h-0.9zM134.4 182.1h0.9v0.9h-0.9zM137.2 104.3h0.9v0.9h-0.9zM134.4 120.4h0.9v0.9h-0.9zM136.8 114h0.9v0.9h-0.9zM136.3 182.9h0.9v0.9h-0.9zM133.9 144.1h0.9v0.9h-0.9zM134.3 110.4h0.9v0.9h-0.9zM146.7 182.1h0.9v0.9h-0.9zM144.3 182.8h0.9v0.9h-0.9zM154.7 185.1h0.9v0.9h-0.9zM168.2 132h0.9v0.9h-0.9zM148.6 106.3h0.9v0.9h-0.9zM169.6 157.7h0.9v0.9h-0.9zM160.1 118.4h0.9v0.9h-0.9zM128.7 174.2h0.9v0.9h-0.9zM134 153.5h0.9v0.9h-0.9zM160.1 116.5h0.9v0.9h-0.9zM137.3 108h0.9v0.9h-0.9zM154.4 111h0.9v0.9h-0.9zM153.3 182.6h0.9v0.9h-0.9zM134.3 151h0.9v0.9h-0.9zM168.2 134.4h0.9v0.9h-0.9zM168.8 146.2h0.9v0.9h-0.9zM131.8 166.7h0.9v0.9h-0.9zM133.2 120.1h0.9v0.9h-0.9zM132.5 178.6h0.9v0.9h-0.9zM168.2 122h0.9v0.9h-0.9zM157.8 116.4h0.9v0.9h-0.9zM161.6 180.9h0.9v0.9h-0.9zM158.4 117.9h0.9v0.9h-0.9zM158.9 180.8h0.9v0.9h-0.9zM171.3 153.2h0.9v0.9h-0.9zM165.4 170.9h0.9v0.9h-0.9z"/>
<path d="M84 74C86.3 72 91.8 71.8 95 72C98.2 72.2 100.7 73.5 103 75C105.3 76.5 107.6 78.7 109 81C110.4 83.3 111.2 86.7 111.5 89C111.8 91.3 111.9 93.3 111 95C110.1 96.7 107.7 97.8 106 99C104.3 100.2 102.7 100.3 101 102C99.3 103.7 97.7 106.3 96 109C94.3 111.7 92.8 115.4 91 118C89.2 120.6 86.8 124.2 85 124.5C83.2 124.8 81.5 122.4 80.5 120C79.5 117.6 79.2 114 79 110C78.8 106 79.2 100.3 79.5 96C79.8 91.7 80.2 87.7 81 84C81.8 80.3 81.7 76 84 74Z" fill="#4ea644"/>
<path fill="#fff" fill-opacity="0.9" d="M100.9 98.9h0.8v0.8h-0.8zM99.1 102.2h0.8v0.8h-0.8zM82.3 100.9h0.8v0.8h-0.8zM86.6 93.5h0.8v0.8h-0.8zM98.1 80.3h0.8v0.8h-0.8zM89.2 113.4h0.8v0.8h-0.8zM84.1 90.9h0.8v0.8h-0.8zM108.7 93.6h0.8v0.8h-0.8zM107.2 79.8h0.8v0.8h-0.8zM97.6 104.4h0.8v0.8h-0.8zM94.2 85.7h0.8v0.8h-0.8zM99.5 98.1h0.8v0.8h-0.8zM94.9 96.9h0.8v0.8h-0.8zM86.7 78.9h0.8v0.8h-0.8zM84 108.2h0.8v0.8h-0.8zM80.4 97.7h0.8v0.8h-0.8zM93.7 72.8h0.8v0.8h-0.8zM94.6 86.5h0.8v0.8h-0.8zM102.3 96.7h0.8v0.8h-0.8zM105.9 87.9h0.8v0.8h-0.8zM109.3 83.9h0.8v0.8h-0.8zM88 113.3h0.8v0.8h-0.8zM81.9 111.7h0.8v0.8h-0.8zM83 90.4h0.8v0.8h-0.8zM83.8 110.5h0.8v0.8h-0.8zM86.2 104.9h0.8v0.8h-0.8zM79.9 89h0.8v0.8h-0.8zM107.1 91.4h0.8v0.8h-0.8zM90.4 103.6h0.8v0.8h-0.8zM93.8 107.4h0.8v0.8h-0.8zM89.4 112.5h0.8v0.8h-0.8zM79.2 98.4h0.8v0.8h-0.8zM105.6 84.6h0.8v0.8h-0.8zM110 91.3h0.8v0.8h-0.8zM85.7 88h0.8v0.8h-0.8zM104.7 85.3h0.8v0.8h-0.8zM91.3 88.3h0.8v0.8h-0.8zM105.5 82.1h0.8v0.8h-0.8zM100.7 95.8h0.8v0.8h-0.8zM83.6 91.4h0.8v0.8h-0.8zM88.8 84.1h0.8v0.8h-0.8zM93.7 109.8h0.8v0.8h-0.8zM90 115.2h0.8v0.8h-0.8zM107.7 89.3h0.8v0.8h-0.8zM93 107.1h0.8v0.8h-0.8zM94.4 107.7h0.8v0.8h-0.8zM80.5 95.9h0.8v0.8h-0.8zM81.6 120.2h0.8v0.8h-0.8zM85.4 80.1h0.8v0.8h-0.8zM88.4 92.2h0.8v0.8h-0.8zM87.2 100.7h0.8v0.8h-0.8zM81.1 119.1h0.8v0.8h-0.8zM91.3 101.5h0.8v0.8h-0.8zM85 96.4h0.8v0.8h-0.8zM89.1 97.1h0.8v0.8h-0.8zM95.2 108.9h0.8v0.8h-0.8zM87.1 80h0.8v0.8h-0.8zM85.9 92.9h0.8v0.8h-0.8zM93.1 109.1h0.8v0.8h-0.8zM84.7 90.1h0.8v0.8h-0.8zM93.9 81.6h0.8v0.8h-0.8zM100.3 88.2h0.8v0.8h-0.8zM100.3 98.1h0.8v0.8h-0.8zM85.3 113.7h0.8v0.8h-0.8zM97.2 85h0.8v0.8h-0.8zM79 111.3h0.8v0.8h-0.8zM85.6 80.8h0.8v0.8h-0.8zM83.1 80.6h0.8v0.8h-0.8zM91.7 102h0.8v0.8h-0.8zM85.6 75.8h0.8v0.8h-0.8zM102.6 95.9h0.8v0.8h-0.8zM107.7 80.5h0.8v0.8h-0.8zM97.6 81.1h0.8v0.8h-0.8zM81.8 101.7h0.8v0.8h-0.8zM85.1 98.8h0.8v0.8h-0.8zM96.2 82h0.8v0.8h-0.8zM94.8 92.5h0.8v0.8h-0.8zM109.9 91.1h0.8v0.8h-0.8zM93.7 96.5h0.8v0.8h-0.8zM80.5 89h0.8v0.8h-0.8zM101.1 84.5h0.8v0.8h-0.8zM82.7 92.3h0.8v0.8h-0.8zM86.1 87.3h0.8v0.8h-0.8zM87.5 109.4h0.8v0.8h-0.8zM83.6 99.9h0.8v0.8h-0.8zM98.3 96.6h0.8v0.8h-0.8zM92 109.1h0.8v0.8h-0.8zM79 104.4h0.8v0.8h-0.8zM88.3 74.3h0.8v0.8h-0.8zM92.9 93.9h0.8v0.8h-0.8zM86.4 79.2h0.8v0.8h-0.8zM101.2 92.3h0.8v0.8h-0.8zM90.5 97.2h0.8v0.8h-0.8zM98.6 93.4h0.8v0.8h-0.8zM95.7 101.5h0.8v0.8h-0.8zM84.6 99.3h0.8v0.8h-0.8zM84.5 123h0.8v0.8h-0.8zM90.4 110h0.8v0.8h-0.8zM97.5 78.9h0.8v0.8h-0.8zM86.3 88.7h0.8v0.8h-0.8zM95.8 104.9h0.8v0.8h-0.8zM92.9 102h0.8v0.8h-0.8zM85 97.4h0.8v0.8h-0.8zM91.6 89.7h0.8v0.8h-0.8zM106.3 83.2h0.8v0.8h-0.8zM84.9 104.4h0.8v0.8h-0.8zM94.7 109.3h0.8v0.8h-0.8zM94.7 85.7h0.8v0.8h-0.8zM89.8 82h0.8v0.8h-0.8zM92.5 93.1h0.8v0.8h-0.8zM87 98.9h0.8v0.8h-0.8zM108.5 91.4h0.8v0.8h-0.8zM79.7 110.9h0.8v0.8h-0.8zM84.8 92.9h0.8v0.8h-0.8zM103.4 86.1h0.8v0.8h-0.8zM101.6 80.8h0.8v0.8h-0.8zM101.2 89.9h0.8v0.8h-0.8zM97.4 91.2h0.8v0.8h-0.8zM92.7 90.9h0.8v0.8h-0.8zM85.5 103.8h0.8v0.8h-0.8zM90.2 100.8h0.8v0.8h-0.8zM87.9 101h0.8v0.8h-0.8zM84 81.2h0.8v0.8h-0.8zM90.2 107.8h0.8v0.8h-0.8zM93.9 104.4h0.8v0.8h-0.8zM100.8 81.7h0.8v0.8h-0.8zM89 115.9h0.8v0.8h-0.8zM102.7 94.1h0.8v0.8h-0.8zM107.8 94.6h0.8v0.8h-0.8zM92.2 75.7h0.8v0.8h-0.8zM85 77.4h0.8v0.8h-0.8zM79.8 116.7h0.8v0.8h-0.8zM107.9 84.2h0.8v0.8h-0.8zM85.2 115.2h0.8v0.8h-0.8zM79.5 111.6h0.8v0.8h-0.8zM82.9 95.2h0.8v0.8h-0.8zM110.3 88.9h0.8v0.8h-0.8zM80.6 87.5h0.8v0.8h-0.8zM93.7 79.9h0.8v0.8h-0.8zM97.4 82.6h0.8v0.8h-0.8zM88.1 102.5h0.8v0.8h-0.8zM97.2 86.6h0.8v0.8h-0.8zM87.7 100.5h0.8v0.8h-0.8zM83.8 99.2h0.8v0.8h-0.8zM91.5 83.8h0.8v0.8h-0.8zM84 80.6h0.8v0.8h-0.8zM86.5 83h0.8v0.8h-0.8zM83.4 108.5h0.8v0.8h-0.8zM81 114.5h0.8v0.8h-0.8zM101 77.6h0.8v0.8h-0.8zM98.2 78.5h0.8v0.8h-0.8zM86.3 96.3h0.8v0.8h-0.8zM99.3 83.4h0.8v0.8h-0.8zM92.2 95.8h0.8v0.8h-0.8zM96.9 86.3h0.8v0.8h-0.8zM99.3 98.5h0.8v0.8h-0.8zM82.8 99.5h0.8v0.8h-0.8zM97.6 98.8h0.8v0.8h-0.8zM96.3 80.7h0.8v0.8h-0.8zM96.3 103.7h0.8v0.8h-0.8zM110.9 88.7h0.8v0.8h-0.8zM84.2 113.7h0.8v0.8h-0.8zM86.6 82.5h0.8v0.8h-0.8zM91.7 109.3h0.8v0.8h-0.8zM106.3 81.1h0.8v0.8h-0.8zM94.8 77.9h0.8v0.8h-0.8zM88.7 116.6h0.8v0.8h-0.8zM89.8 82.7h0.8v0.8h-0.8zM87.6 117.1h0.8v0.8h-0.8zM102.6 90.6h0.8v0.8h-0.8zM84.2 105.5h0.8v0.8h-0.8zM80.5 92.8h0.8v0.8h-0.8zM91.6 87.6h0.8v0.8h-0.8zM84.9 103.8h0.8v0.8h-0.8zM79.8 95.6h0.8v0.8h-0.8zM91.7 100.2h0.8v0.8h-0.8zM100.8 78.9h0.8v0.8h-0.8zM89.3 91.8h0.8v0.8h-0.8zM79.1 96.1h0.8v0.8h-0.8zM86.6 92.8h0.8v0.8h-0.8zM83.6 75.6h0.8v0.8h-0.8zM84.8 115.1h0.8v0.8h-0.8zM90.5 109.4h0.8v0.8h-0.8zM85.7 76.5h0.8v0.8h-0.8zM92.4 93.2h0.8v0.8h-0.8zM100 75.5h0.8v0.8h-0.8zM98.1 88.3h0.8v0.8h-0.8zM84.7 122.1h0.8v0.8h-0.8zM90.2 107.1h0.8v0.8h-0.8zM90.7 81.9h0.8v0.8h-0.8zM110.3 88.5h0.8v0.8h-0.8zM84.8 95.1h0.8v0.8h-0.8zM97.3 81.9h0.8v0.8h-0.8zM89.2 94.6h0.8v0.8h-0.8zM105.5 87.3h0.8v0.8h-0.8zM95.2 75.3h0.8v0.8h-0.8zM96.6 78.3h0.8v0.8h-0.8zM89 91.9h0.8v0.8h-0.8zM83.3 85.1h0.8v0.8h-0.8zM86.6 108.9h0.8v0.8h-0.8zM90.6 104h0.8v0.8h-0.8zM102.9 87.4h0.8v0.8h-0.8zM83.4 97.7h0.8v0.8h-0.8zM91.3 107.9h0.8v0.8h-0.8zM82.1 116.1h0.8v0.8h-0.8zM92.6 91.8h0.8v0.8h-0.8zM100.9 82.8h0.8v0.8h-0.8zM84.6 110h0.8v0.8h-0.8zM104.1 83.1h0.8v0.8h-0.8zM91.1 108h0.8v0.8h-0.8zM90.1 103h0.8v0.8h-0.8zM83.2 106.5h0.8v0.8h-0.8zM86.9 84.6h0.8v0.8h-0.8zM85.2 94.5h0.8v0.8h-0.8zM92.5 76h0.8v0.8h-0.8zM84.5 122h0.8v0.8h-0.8zM86.2 90.2h0.8v0.8h-0.8zM84 95.4h0.8v0.8h-0.8zM86.8 87.6h0.8v0.8h-0.8zM81.9 118.7h0.8v0.8h-0.8zM85.2 95.9h0.8v0.8h-0.8zM93.7 95.3h0.8v0.8h-0.8zM99.4 94.3h0.8v0.8h-0.8zM81.4 117.8h0.8v0.8h-0.8zM100.1 92.4h0.8v0.8h-0.8zM82 115.9h0.8v0.8h-0.8zM103.5 90.1h0.8v0.8h-0.8zM91.5 97.1h0.8v0.8h-0.8zM105.3 79h0.8v0.8h-0.8zM85.3 110.2h0.8v0.8h-0.8zM94.4 89.6h0.8v0.8h-0.8zM85.4 108.1h0.8v0.8h-0.8zM98.8 100.4h0.8v0.8h-0.8zM104.9 84.8h0.8v0.8h-0.8zM101.7 76.6h0.8v0.8h-0.8zM96.6 79.7h0.8v0.8h-0.8zM93.5 83.5h0.8v0.8h-0.8zM88.7 100.7h0.8v0.8h-0.8zM102.7 78.3h0.8v0.8h-0.8zM96.2 92.3h0.8v0.8h-0.8zM79.8 108.9h0.8v0.8h-0.8zM90.5 73.8h0.8v0.8h-0.8zM93.6 109.6h0.8v0.8h-0.8zM93.4 98h0.8v0.8h-0.8zM96.3 92.8h0.8v0.8h-0.8zM103 84.9h0.8v0.8h-0.8zM104 88.2h0.8v0.8h-0.8zM99.9 74.4h0.8v0.8h-0.8zM99.3 88.5h0.8v0.8h-0.8zM85.6 94.1h0.8v0.8h-0.8zM86.2 86.5h0.8v0.8h-0.8zM91.7 87.4h0.8v0.8h-0.8zM91.8 97.2h0.8v0.8h-0.8zM108.7 93.9h0.8v0.8h-0.8zM104.4 83h0.8v0.8h-0.8zM90.5 94.5h0.8v0.8h-0.8zM85.6 110.8h0.8v0.8h-0.8zM90.7 73.7h0.8v0.8h-0.8zM101.6 75h0.8v0.8h-0.8zM99 76.4h0.8v0.8h-0.8zM108.6 83.6h0.8v0.8h-0.8zM90 85.6h0.8v0.8h-0.8zM95.1 102.1h0.8v0.8h-0.8zM79 111.6h0.8v0.8h-0.8zM87.7 77.7h0.8v0.8h-0.8zM100.4 86.3h0.8v0.8h-0.8zM94.4 99.8h0.8v0.8h-0.8zM98.1 82.1h0.8v0.8h-0.8zM102.1 80.5h0.8v0.8h-0.8zM105.8 86.4h0.8v0.8h-0.8zM85.1 91.8h0.8v0.8h-0.8zM103.7 90.9h0.8v0.8h-0.8zM107.3 90.6h0.8v0.8h-0.8zM96.3 78.3h0.8v0.8h-0.8zM102.8 79.9h0.8v0.8h-0.8zM83.1 82.1h0.8v0.8h-0.8zM96.8 74.2h0.8v0.8h-0.8zM103.2 78.4h0.8v0.8h-0.8zM93.9 76.6h0.8v0.8h-0.8zM91.2 91.5h0.8v0.8h-0.8zM82.9 98.3h0.8v0.8h-0.8zM88.2 101.8h0.8v0.8h-0.8zM102.3 89.1h0.8v0.8h-0.8zM97.4 76.1h0.8v0.8h-0.8zM108.2 81.7h0.8v0.8h-0.8zM87.1 119.7h0.8v0.8h-0.8zM84.7 80.7h0.8v0.8h-0.8zM90.3 106.4h0.8v0.8h-0.8zM100 87.8h0.8v0.8h-0.8zM98 82.9h0.8v0.8h-0.8zM92.3 83.9h0.8v0.8h-0.8zM93.8 97.4h0.8v0.8h-0.8zM107.4 96h0.8v0.8h-0.8zM97.7 103.5h0.8v0.8h-0.8zM100.2 93.4h0.8v0.8h-0.8zM102.8 91.2h0.8v0.8h-0.8zM94.2 71.9h0.8v0.8h-0.8zM89.4 76.8h0.8v0.8h-0.8zM89.5 73.9h0.8v0.8h-0.8zM84.6 107.3h0.8v0.8h-0.8zM86.5 109.3h0.8v0.8h-0.8zM97.8 73.7h0.8v0.8h-0.8zM97.1 88h0.8v0.8h-0.8zM94.3 106.8h0.8v0.8h-0.8zM101.4 87.2h0.8v0.8h-0.8zM86.9 86.1h0.8v0.8h-0.8zM94.9 91.4h0.8v0.8h-0.8zM86.5 115.8h0.8v0.8h-0.8zM89.7 87.8h0.8v0.8h-0.8zM97.1 101.8h0.8v0.8h-0.8zM87.1 103h0.8v0.8h-0.8zM81.3 97.6h0.8v0.8h-0.8zM103.5 91.1h0.8v0.8h-0.8zM96.5 101.8h0.8v0.8h-0.8zM96.2 103h0.8v0.8h-0.8zM108.7 88.3h0.8v0.8h-0.8zM105.2 98.8h0.8v0.8h-0.8zM85.8 119.5h0.8v0.8h-0.8zM108.3 90.2h0.8v0.8h-0.8zM96.1 98.4h0.8v0.8h-0.8zM84.2 118.5h0.8v0.8h-0.8zM97.6 82.4h0.8v0.8h-0.8zM79.6 105h0.8v0.8h-0.8zM84.7 95.7h0.8v0.8h-0.8zM89.3 115.8h0.8v0.8h-0.8z"/>
<path fill="#4ea644" d="M110.1 98.3h0.9v0.9h-0.9zM107.6 74.4h0.9v0.9h-0.9zM89.8 119.3h0.9v0.9h-0.9zM95.8 70.9h0.9v0.9h-0.9zM100.7 100.5h0.9v0.9h-0.9zM82.1 123.3h0.9v0.9h-0.9zM96 104.9h0.9v0.9h-0.9zM112.5 88.5h0.9v0.9h-0.9zM98.3 106.8h0.9v0.9h-0.9zM112.3 88.9h0.9v0.9h-0.9zM84.8 72.4h0.9v0.9h-0.9zM111.3 82.4h0.9v0.9h-0.9zM103.7 96.8h0.9v0.9h-0.9zM107.5 100.9h0.9v0.9h-0.9zM110.7 85.8h0.9v0.9h-0.9zM105.4 99h0.9v0.9h-0.9zM104.6 74.3h0.9v0.9h-0.9zM111.2 91.4h0.9v0.9h-0.9zM84 74.3h0.9v0.9h-0.9zM105.8 98.3h0.9v0.9h-0.9zM103.5 100.1h0.9v0.9h-0.9zM79.4 118h0.9v0.9h-0.9zM104.3 76.1h0.9v0.9h-0.9zM100 101.4h0.9v0.9h-0.9zM76 108.1h0.9v0.9h-0.9zM107.6 79.3h0.9v0.9h-0.9zM96.2 70.8h0.9v0.9h-0.9zM90.7 119.6h0.9v0.9h-0.9zM86.5 75.5h0.9v0.9h-0.9zM106.7 87.1h0.9v0.9h-0.9zM114.6 83.8h0.9v0.9h-0.9zM106.7 99.9h0.9v0.9h-0.9zM105.8 75.1h0.9v0.9h-0.9zM80.8 74h0.9v0.9h-0.9zM94.9 111h0.9v0.9h-0.9zM94.6 109.7h0.9v0.9h-0.9zM100.7 104.7h0.9v0.9h-0.9zM105.7 76.5h0.9v0.9h-0.9zM81.8 87.5h0.9v0.9h-0.9zM81.7 84.3h0.9v0.9h-0.9zM87.1 121.5h0.9v0.9h-0.9zM99.5 106.8h0.9v0.9h-0.9zM75.2 99.6h0.9v0.9h-0.9zM89.9 120.9h0.9v0.9h-0.9zM86.1 72.7h0.9v0.9h-0.9zM112.3 92.1h0.9v0.9h-0.9zM104.8 86.6h0.9v0.9h-0.9zM97.5 98.4h0.9v0.9h-0.9zM78.6 116.2h0.9v0.9h-0.9zM97.4 72.6h0.9v0.9h-0.9zM82.3 77.2h0.9v0.9h-0.9zM102.9 100.4h0.9v0.9h-0.9zM78.1 88.2h0.9v0.9h-0.9zM77.7 118h0.9v0.9h-0.9zM79.3 115.2h0.9v0.9h-0.9zM80.8 74.2h0.9v0.9h-0.9zM104 101.3h0.9v0.9h-0.9zM103.9 105.1h0.9v0.9h-0.9zM77.9 93.5h0.9v0.9h-0.9zM105 101h0.9v0.9h-0.9zM81.5 73.1h0.9v0.9h-0.9zM86.9 125.9h0.9v0.9h-0.9zM105.4 98.7h0.9v0.9h-0.9zM97.4 70.6h0.9v0.9h-0.9zM89.5 119.8h0.9v0.9h-0.9zM102.6 101.2h0.9v0.9h-0.9zM102.3 72.7h0.9v0.9h-0.9zM110.5 86.4h0.9v0.9h-0.9zM77.8 100h0.9v0.9h-0.9zM82 99.5h0.9v0.9h-0.9zM78.4 110.7h0.9v0.9h-0.9zM89.7 71.7h0.9v0.9h-0.9zM92.4 114.4h0.9v0.9h-0.9zM78.1 109h0.9v0.9h-0.9zM78.3 122.9h0.9v0.9h-0.9zM102.6 75.4h0.9v0.9h-0.9zM80.6 120.3h0.9v0.9h-0.9zM110.9 82.9h0.9v0.9h-0.9zM112.8 94.6h0.9v0.9h-0.9zM81.1 79.3h0.9v0.9h-0.9zM99.2 109h0.9v0.9h-0.9zM82.8 74.5h0.9v0.9h-0.9zM80.3 81.9h0.9v0.9h-0.9zM93.6 115h0.9v0.9h-0.9z"/>
<path d="M83.5 122C84.9 118.6 88.4 110.4 91 107C93.6 103.6 96.7 102.3 99 101.5C101.3 100.7 102.8 100.9 105 102C107.2 103.1 109.7 105.7 112 108C114.3 110.3 116.6 113.7 119 116C121.4 118.3 123.9 119.8 126.2 121.8C128.5 123.8 131.1 123.9 132.6 128.2C134.1 132.5 134.8 141.5 135 147.4C135.2 153.3 134.4 159.5 133.6 163.5C132.8 167.5 132 170.3 130.4 171.5C128.8 172.7 126 171.1 124 170.5C122 169.9 121 169.2 118.2 167.7C115.4 166.2 110.7 164.5 106.9 161.3C103.2 158.1 98.9 152.7 95.7 148.4C92.5 144.1 89.9 139.1 87.7 135.6C85.5 132.1 83.5 129.9 82.8 127.6C82.1 125.3 82.1 125.4 83.5 122Z" fill="#3e81b8"/>
<path fill="#fff" fill-opacity="0.9" d="M113 162h0.8v0.8h-0.8zM89.2 112.5h0.8v0.8h-0.8zM115.6 126.3h0.8v0.8h-0.8zM122.8 120.9h0.8v0.8h-0.8zM90.5 110.9h0.8v0.8h-0.8zM131.5 164.6h0.8v0.8h-0.8zM112 123.1h0.8v0.8h-0.8zM112.4 143.7h0.8v0.8h-0.8zM101.3 108.8h0.8v0.8h-0.8zM114.7 154.3h0.8v0.8h-0.8zM94.8 122.1h0.8v0.8h-0.8zM110.9 149.2h0.8v0.8h-0.8zM91.5 133.1h0.8v0.8h-0.8zM104.9 109.7h0.8v0.8h-0.8zM114.1 155.9h0.8v0.8h-0.8zM121.2 140h0.8v0.8h-0.8zM118 156.8h0.8v0.8h-0.8zM95.3 122.8h0.8v0.8h-0.8zM111.2 134.7h0.8v0.8h-0.8zM97.9 141.5h0.8v0.8h-0.8zM107.5 115.2h0.8v0.8h-0.8zM117.2 158.4h0.8v0.8h-0.8zM129.8 157.6h0.8v0.8h-0.8zM124.6 163h0.8v0.8h-0.8zM109.3 144.8h0.8v0.8h-0.8zM92.9 137.9h0.8v0.8h-0.8zM126 149.7h0.8v0.8h-0.8zM102.9 127.2h0.8v0.8h-0.8zM98.3 114.7h0.8v0.8h-0.8zM129.8 156.7h0.8v0.8h-0.8zM118.8 152.5h0.8v0.8h-0.8zM131.5 137.9h0.8v0.8h-0.8zM112 116.7h0.8v0.8h-0.8zM106.7 146.9h0.8v0.8h-0.8zM95.5 120.1h0.8v0.8h-0.8zM98.6 146.9h0.8v0.8h-0.8zM110.1 127.8h0.8v0.8h-0.8zM103.7 120.9h0.8v0.8h-0.8zM90 110.1h0.8v0.8h-0.8zM112.2 109.3h0.8v0.8h-0.8zM112.4 144.6h0.8v0.8h-0.8zM122.2 158.2h0.8v0.8h-0.8zM103.9 155.7h0.8v0.8h-0.8zM95.6 128.4h0.8v0.8h-0.8zM117.3 125.3h0.8v0.8h-0.8zM121.9 150.6h0.8v0.8h-0.8zM112.7 145.5h0.8v0.8h-0.8zM100.6 120.9h0.8v0.8h-0.8zM104.4 121.3h0.8v0.8h-0.8zM117.7 131.4h0.8v0.8h-0.8zM92.3 110.9h0.8v0.8h-0.8zM99 112.9h0.8v0.8h-0.8zM115 156.2h0.8v0.8h-0.8zM106.9 160.9h0.8v0.8h-0.8zM104.4 143.1h0.8v0.8h-0.8zM120.3 160.1h0.8v0.8h-0.8zM122.8 160h0.8v0.8h-0.8zM93.9 123.4h0.8v0.8h-0.8zM97.4 119.7h0.8v0.8h-0.8zM115.6 156.2h0.8v0.8h-0.8zM86.4 129.2h0.8v0.8h-0.8zM99.2 140.8h0.8v0.8h-0.8zM98.6 120.8h0.8v0.8h-0.8zM104.4 138.9h0.8v0.8h-0.8zM113.6 115.9h0.8v0.8h-0.8zM120.3 141.8h0.8v0.8h-0.8zM122.1 166.1h0.8v0.8h-0.8zM87.6 126h0.8v0.8h-0.8zM120.4 132.1h0.8v0.8h-0.8zM132.9 160.9h0.8v0.8h-0.8zM132.7 134.5h0.8v0.8h-0.8zM118 128.7h0.8v0.8h-0.8zM123.6 162.8h0.8v0.8h-0.8zM107.5 135.1h0.8v0.8h-0.8zM90.5 107.6h0.8v0.8h-0.8zM133.3 146.8h0.8v0.8h-0.8zM126.4 128.9h0.8v0.8h-0.8zM91.7 127.1h0.8v0.8h-0.8zM131.1 131h0.8v0.8h-0.8zM122.6 131.5h0.8v0.8h-0.8zM127.2 124.1h0.8v0.8h-0.8zM108.1 120.8h0.8v0.8h-0.8zM123.7 140.6h0.8v0.8h-0.8zM106 122.1h0.8v0.8h-0.8zM107.6 126.6h0.8v0.8h-0.8zM130.3 149.4h0.8v0.8h-0.8zM86.4 122.9h0.8v0.8h-0.8zM103.6 123.1h0.8v0.8h-0.8zM118.1 137.2h0.8v0.8h-0.8zM96.5 128.1h0.8v0.8h-0.8zM128 139h0.8v0.8h-0.8zM94.8 107.5h0.8v0.8h-0.8zM122 131.9h0.8v0.8h-0.8zM122 132h0.8v0.8h-0.8zM103.1 121.3h0.8v0.8h-0.8zM121.6 155.7h0.8v0.8h-0.8zM131.8 161.7h0.8v0.8h-0.8zM129.5 170.7h0.8v0.8h-0.8zM117.2 152.2h0.8v0.8h-0.8zM93.4 122h0.8v0.8h-0.8zM115.8 127.3h0.8v0.8h-0.8zM117.4 152.6h0.8v0.8h-0.8zM94.3 137.9h0.8v0.8h-0.8zM111.4 127.2h0.8v0.8h-0.8zM103.9 123.4h0.8v0.8h-0.8zM99.7 139.3h0.8v0.8h-0.8zM85.4 120.5h0.8v0.8h-0.8zM106.1 127.4h0.8v0.8h-0.8zM111.9 155.1h0.8v0.8h-0.8zM111.5 143.8h0.8v0.8h-0.8zM123.5 148.3h0.8v0.8h-0.8zM128.4 138h0.8v0.8h-0.8zM118.1 118.9h0.8v0.8h-0.8zM85.5 127.7h0.8v0.8h-0.8zM124.7 122h0.8v0.8h-0.8zM109.5 154.1h0.8v0.8h-0.8zM92.2 112.6h0.8v0.8h-0.8zM127.6 137.4h0.8v0.8h-0.8zM111.6 124.5h0.8v0.8h-0.8zM104.1 117.1h0.8v0.8h-0.8zM111.6 163.2h0.8v0.8h-0.8zM86.7 125.5h0.8v0.8h-0.8zM104.9 151.2h0.8v0.8h-0.8zM110.7 163.1h0.8v0.8h-0.8zM89.3 115.4h0.8v0.8h-0.8zM106.7 122.8h0.8v0.8h-0.8zM90 134.4h0.8v0.8h-0.8zM106.8 134.5h0.8v0.8h-0.8zM129.5 132.1h0.8v0.8h-0.8zM126.1 163.9h0.8v0.8h-0.8zM111 146.4h0.8v0.8h-0.8zM118 152.8h0.8v0.8h-0.8zM102.3 152.6h0.8v0.8h-0.8zM120.9 146.7h0.8v0.8h-0.8zM121.1 123.6h0.8v0.8h-0.8zM133.2 143.4h0.8v0.8h-0.8zM113.3 111.7h0.8v0.8h-0.8zM132.5 156.3h0.8v0.8h-0.8zM122.6 123.3h0.8v0.8h-0.8zM117.2 139.5h0.8v0.8h-0.8zM106.6 144.5h0.8v0.8h-0.8zM103.2 104.9h0.8v0.8h-0.8zM97.5 118.2h0.8v0.8h-0.8zM112.9 140.5h0.8v0.8h-0.8zM124.3 154.2h0.8v0.8h-0.8zM100.5 119.5h0.8v0.8h-0.8zM92.8 130.1h0.8v0.8h-0.8zM112.7 111.3h0.8v0.8h-0.8zM111.9 128.3h0.8v0.8h-0.8zM118.3 163.5h0.8v0.8h-0.8zM112.6 136.9h0.8v0.8h-0.8zM94.7 105.7h0.8v0.8h-0.8zM121.7 122.8h0.8v0.8h-0.8zM117.1 150.3h0.8v0.8h-0.8zM112.1 125.2h0.8v0.8h-0.8zM119.8 163.4h0.8v0.8h-0.8zM111.5 154.6h0.8v0.8h-0.8zM102.4 108.9h0.8v0.8h-0.8zM94.3 119h0.8v0.8h-0.8zM127 140.8h0.8v0.8h-0.8zM124.6 120.5h0.8v0.8h-0.8zM110.5 117.6h0.8v0.8h-0.8zM126.6 153.5h0.8v0.8h-0.8zM94.4 141.7h0.8v0.8h-0.8zM92.7 111.6h0.8v0.8h-0.8zM90.4 128.4h0.8v0.8h-0.8zM128.5 137.9h0.8v0.8h-0.8zM90.4 114.7h0.8v0.8h-0.8zM106.3 124.9h0.8v0.8h-0.8zM117.4 136.5h0.8v0.8h-0.8zM124.5 142.5h0.8v0.8h-0.8zM128.7 143.6h0.8v0.8h-0.8zM122.7 158.2h0.8v0.8h-0.8zM84.7 123.1h0.8v0.8h-0.8zM94.4 107.2h0.8v0.8h-0.8zM96.7 102.7h0.8v0.8h-0.8zM109.5 112.4h0.8v0.8h-0.8zM98.5 134h0.8v0.8h-0.8zM97.9 138.1h0.8v0.8h-0.8zM104.1 151.5h0.8v0.8h-0.8zM121.8 160h0.8v0.8h-0.8zM97.6 116.9h0.8v0.8h-0.8zM120.8 154.4h0.8v0.8h-0.8zM88.7 127.2h0.8v0.8h-0.8zM129.7 158.2h0.8v0.8h-0.8zM112 144.3h0.8v0.8h-0.8zM100.9 113.9h0.8v0.8h-0.8zM127.5 123.9h0.8v0.8h-0.8zM109.6 146.7h0.8v0.8h-0.8zM88 130.6h0.8v0.8h-0.8zM131.6 165.4h0.8v0.8h-0.8zM116.9 125.5h0.8v0.8h-0.8zM104.8 108.2h0.8v0.8h-0.8zM98 116.8h0.8v0.8h-0.8zM115.9 152.1h0.8v0.8h-0.8zM129.5 127.7h0.8v0.8h-0.8zM110.9 130h0.8v0.8h-0.8zM88.7 134.5h0.8v0.8h-0.8zM91.2 117h0.8v0.8h-0.8zM116.6 135.1h0.8v0.8h-0.8zM128.9 149.6h0.8v0.8h-0.8zM122 155.9h0.8v0.8h-0.8zM101.8 141.6h0.8v0.8h-0.8zM112 158.3h0.8v0.8h-0.8zM108.4 116.7h0.8v0.8h-0.8zM100.3 115.8h0.8v0.8h-0.8zM122.6 162.7h0.8v0.8h-0.8zM105.2 108.5h0.8v0.8h-0.8zM113.5 116.6h0.8v0.8h-0.8zM103.5 131.6h0.8v0.8h-0.8zM105.3 148.8h0.8v0.8h-0.8zM129.7 143.5h0.8v0.8h-0.8zM124.2 169.9h0.8v0.8h-0.8zM131 147h0.8v0.8h-0.8zM117.8 160.5h0.8v0.8h-0.8zM106 124.9h0.8v0.8h-0.8zM113.2 132.2h0.8v0.8h-0.8zM116.6 135.2h0.8v0.8h-0.8zM123.8 168.1h0.8v0.8h-0.8zM112.9 110h0.8v0.8h-0.8zM99.1 148.4h0.8v0.8h-0.8zM84.9 124.9h0.8v0.8h-0.8zM98.1 115.9h0.8v0.8h-0.8zM101.7 152h0.8v0.8h-0.8zM132.4 136.4h0.8v0.8h-0.8zM88.8 120.2h0.8v0.8h-0.8zM115.1 130.5h0.8v0.8h-0.8zM117.4 165.8h0.8v0.8h-0.8zM96.3 117.6h0.8v0.8h-0.8zM124.3 155.4h0.8v0.8h-0.8zM127.5 124.5h0.8v0.8h-0.8zM117.2 163.4h0.8v0.8h-0.8zM113.5 141.7h0.8v0.8h-0.8zM103.7 122.2h0.8v0.8h-0.8zM116.4 118.6h0.8v0.8h-0.8zM89.8 116.8h0.8v0.8h-0.8zM129.7 134.5h0.8v0.8h-0.8zM112.5 128.7h0.8v0.8h-0.8zM101.7 117.9h0.8v0.8h-0.8zM101.3 106.4h0.8v0.8h-0.8zM127.4 158h0.8v0.8h-0.8zM121.7 161.7h0.8v0.8h-0.8zM105.4 107.4h0.8v0.8h-0.8zM118.7 119.5h0.8v0.8h-0.8zM90.5 137.2h0.8v0.8h-0.8zM116.1 128.9h0.8v0.8h-0.8zM116.5 113.6h0.8v0.8h-0.8zM123.6 138.7h0.8v0.8h-0.8zM113.2 131.9h0.8v0.8h-0.8zM125.1 143.7h0.8v0.8h-0.8zM113.9 128.3h0.8v0.8h-0.8zM94.4 135.7h0.8v0.8h-0.8zM129.7 132h0.8v0.8h-0.8zM116.1 113.1h0.8v0.8h-0.8zM92.1 117.1h0.8v0.8h-0.8zM88.9 129.3h0.8v0.8h-0.8zM109.4 150.3h0.8v0.8h-0.8zM119.2 162.9h0.8v0.8h-0.8zM120.8 140.8h0.8v0.8h-0.8zM118 119.3h0.8v0.8h-0.8zM120.2 127.2h0.8v0.8h-0.8zM119.3 118.5h0.8v0.8h-0.8zM100.8 139.6h0.8v0.8h-0.8zM121.1 123.6h0.8v0.8h-0.8zM124.7 149.7h0.8v0.8h-0.8zM88.9 123.7h0.8v0.8h-0.8zM113.8 110.4h0.8v0.8h-0.8zM96.5 131.8h0.8v0.8h-0.8zM122.5 165.2h0.8v0.8h-0.8zM121.1 119.4h0.8v0.8h-0.8zM122 145.8h0.8v0.8h-0.8zM123.8 152.6h0.8v0.8h-0.8zM133.8 146.1h0.8v0.8h-0.8zM109.3 114.8h0.8v0.8h-0.8zM87.8 135.2h0.8v0.8h-0.8zM123 162.4h0.8v0.8h-0.8zM100.7 109.8h0.8v0.8h-0.8zM94.7 143.8h0.8v0.8h-0.8zM123.9 133.3h0.8v0.8h-0.8zM94.5 142.4h0.8v0.8h-0.8zM123.4 138.7h0.8v0.8h-0.8zM109.1 130h0.8v0.8h-0.8zM100.4 114.1h0.8v0.8h-0.8zM123.5 135.2h0.8v0.8h-0.8zM99.7 107h0.8v0.8h-0.8zM131.8 143h0.8v0.8h-0.8zM112.4 127.9h0.8v0.8h-0.8zM133.3 159.4h0.8v0.8h-0.8zM104.3 147.2h0.8v0.8h-0.8zM118.1 160.5h0.8v0.8h-0.8zM103 117.3h0.8v0.8h-0.8zM107.6 104.9h0.8v0.8h-0.8zM105 149h0.8v0.8h-0.8zM93.2 108.5h0.8v0.8h-0.8zM120.4 159.9h0.8v0.8h-0.8zM121.4 122.8h0.8v0.8h-0.8zM103.7 134.3h0.8v0.8h-0.8zM131.6 155.4h0.8v0.8h-0.8zM133.5 146.9h0.8v0.8h-0.8zM132.2 149.5h0.8v0.8h-0.8zM111.5 148.7h0.8v0.8h-0.8zM91.7 108.9h0.8v0.8h-0.8zM122.8 150.3h0.8v0.8h-0.8zM90.4 114.9h0.8v0.8h-0.8zM129.3 130.9h0.8v0.8h-0.8zM122 124.1h0.8v0.8h-0.8zM90.5 138.9h0.8v0.8h-0.8zM96 144.6h0.8v0.8h-0.8zM105.7 149.8h0.8v0.8h-0.8zM95 113h0.8v0.8h-0.8zM119.1 138.8h0.8v0.8h-0.8zM123.8 138.7h0.8v0.8h-0.8zM113.7 142.1h0.8v0.8h-0.8zM114.8 159.7h0.8v0.8h-0.8zM109.6 136.9h0.8v0.8h-0.8zM109.3 112.1h0.8v0.8h-0.8zM102.2 133.8h0.8v0.8h-0.8zM128.8 136.4h0.8v0.8h-0.8zM87.1 114h0.8v0.8h-0.8zM124.4 124h0.8v0.8h-0.8zM92.4 116.9h0.8v0.8h-0.8zM118 142.6h0.8v0.8h-0.8zM93.3 122.4h0.8v0.8h-0.8zM125.6 135.3h0.8v0.8h-0.8zM128.5 140.1h0.8v0.8h-0.8zM115.9 139.1h0.8v0.8h-0.8zM97.2 111.1h0.8v0.8h-0.8zM98.3 129.1h0.8v0.8h-0.8zM89.3 123.6h0.8v0.8h-0.8zM118 128.6h0.8v0.8h-0.8zM114.7 135h0.8v0.8h-0.8zM109.9 146.2h0.8v0.8h-0.8zM106.6 155.3h0.8v0.8h-0.8zM90.6 129.6h0.8v0.8h-0.8zM107.2 137.1h0.8v0.8h-0.8zM110.4 118.3h0.8v0.8h-0.8zM94.9 117.6h0.8v0.8h-0.8zM112.9 130.3h0.8v0.8h-0.8zM111.2 147h0.8v0.8h-0.8zM96.4 104.9h0.8v0.8h-0.8zM100.8 131h0.8v0.8h-0.8zM102.2 155.5h0.8v0.8h-0.8zM134.4 146.1h0.8v0.8h-0.8zM100.2 122.9h0.8v0.8h-0.8zM119.4 128.4h0.8v0.8h-0.8zM127 130h0.8v0.8h-0.8zM123.5 165.6h0.8v0.8h-0.8zM92.5 124.4h0.8v0.8h-0.8zM119.8 153.4h0.8v0.8h-0.8zM99.2 148.9h0.8v0.8h-0.8zM111 159.4h0.8v0.8h-0.8zM90.9 115.4h0.8v0.8h-0.8zM95.5 129.6h0.8v0.8h-0.8zM132.3 129.5h0.8v0.8h-0.8zM104.1 143.9h0.8v0.8h-0.8zM92.6 140.5h0.8v0.8h-0.8zM108.6 146.9h0.8v0.8h-0.8zM126.7 168.3h0.8v0.8h-0.8zM112.9 155.5h0.8v0.8h-0.8zM108.5 106.7h0.8v0.8h-0.8zM106.5 106.2h0.8v0.8h-0.8zM106.6 103.9h0.8v0.8h-0.8zM112.2 109.2h0.8v0.8h-0.8zM89.3 127.1h0.8v0.8h-0.8zM91 108.9h0.8v0.8h-0.8zM100.3 107h0.8v0.8h-0.8zM90.4 112.9h0.8v0.8h-0.8zM128.4 168h0.8v0.8h-0.8zM133.9 151.1h0.8v0.8h-0.8zM121.8 159.3h0.8v0.8h-0.8zM88.1 134h0.8v0.8h-0.8zM109.7 125.7h0.8v0.8h-0.8zM104.1 123.9h0.8v0.8h-0.8zM100.6 126.4h0.8v0.8h-0.8zM99.7 103.5h0.8v0.8h-0.8zM90.6 110.5h0.8v0.8h-0.8zM100.7 117.5h0.8v0.8h-0.8zM115.4 117.3h0.8v0.8h-0.8zM121.7 141.6h0.8v0.8h-0.8zM112.1 157.4h0.8v0.8h-0.8zM100.6 134.2h0.8v0.8h-0.8zM115.8 157h0.8v0.8h-0.8zM115 130.4h0.8v0.8h-0.8zM94 128.7h0.8v0.8h-0.8zM127.2 160.9h0.8v0.8h-0.8zM108.1 122h0.8v0.8h-0.8zM93.5 145.1h0.8v0.8h-0.8zM127.1 135.2h0.8v0.8h-0.8zM98.9 122.5h0.8v0.8h-0.8zM130.4 147.6h0.8v0.8h-0.8zM109.1 136.6h0.8v0.8h-0.8zM109.1 119.7h0.8v0.8h-0.8zM107 119.4h0.8v0.8h-0.8zM98 126.5h0.8v0.8h-0.8zM116.9 156.1h0.8v0.8h-0.8zM112.6 149.6h0.8v0.8h-0.8zM96.4 110.9h0.8v0.8h-0.8zM89.8 124.6h0.8v0.8h-0.8zM116.2 162.2h0.8v0.8h-0.8zM87.2 119.7h0.8v0.8h-0.8zM89.2 134.2h0.8v0.8h-0.8zM91.7 127.2h0.8v0.8h-0.8zM96.6 110.7h0.8v0.8h-0.8zM128.1 134.8h0.8v0.8h-0.8zM82.7 124.9h0.8v0.8h-0.8zM122.7 154.7h0.8v0.8h-0.8zM133.5 139h0.8v0.8h-0.8zM105.8 147.3h0.8v0.8h-0.8zM105.8 115.1h0.8v0.8h-0.8zM86.3 129.5h0.8v0.8h-0.8zM104.9 158.1h0.8v0.8h-0.8zM130.9 133.2h0.8v0.8h-0.8zM125.5 135.8h0.8v0.8h-0.8zM92.9 107.8h0.8v0.8h-0.8zM87.1 116h0.8v0.8h-0.8zM87.4 115.9h0.8v0.8h-0.8zM117.9 127.9h0.8v0.8h-0.8zM110.1 118.5h0.8v0.8h-0.8zM104.6 110.1h0.8v0.8h-0.8zM96.8 126.3h0.8v0.8h-0.8zM130.5 167.2h0.8v0.8h-0.8zM119.8 146h0.8v0.8h-0.8zM119.2 135.5h0.8v0.8h-0.8zM122.9 123.4h0.8v0.8h-0.8zM113.9 118.3h0.8v0.8h-0.8zM127.5 169.7h0.8v0.8h-0.8zM110.1 140.4h0.8v0.8h-0.8zM132.9 160.7h0.8v0.8h-0.8zM119.3 141.6h0.8v0.8h-0.8zM121.6 125.3h0.8v0.8h-0.8zM89.3 123.6h0.8v0.8h-0.8zM85.6 119.3h0.8v0.8h-0.8zM92.4 139.1h0.8v0.8h-0.8zM109.3 141.5h0.8v0.8h-0.8zM93.7 106.8h0.8v0.8h-0.8zM110.6 110h0.8v0.8h-0.8zM116.8 149.6h0.8v0.8h-0.8zM129.2 132.4h0.8v0.8h-0.8zM98.3 140.2h0.8v0.8h-0.8zM124.5 154.2h0.8v0.8h-0.8zM102.6 113.3h0.8v0.8h-0.8zM123.3 157.3h0.8v0.8h-0.8zM114.5 156.4h0.8v0.8h-0.8zM116.1 155h0.8v0.8h-0.8zM119.4 153.4h0.8v0.8h-0.8zM95.2 106.1h0.8v0.8h-0.8zM110.3 123.6h0.8v0.8h-0.8zM93.9 139.1h0.8v0.8h-0.8zM100.6 145.6h0.8v0.8h-0.8zM96.9 113.3h0.8v0.8h-0.8zM121.3 133.5h0.8v0.8h-0.8zM133.6 148.4h0.8v0.8h-0.8zM124.8 161.2h0.8v0.8h-0.8zM106.3 110.6h0.8v0.8h-0.8zM103.6 123.8h0.8v0.8h-0.8zM126.3 163.1h0.8v0.8h-0.8zM110.6 151.5h0.8v0.8h-0.8zM116.2 165.7h0.8v0.8h-0.8zM124.1 120.1h0.8v0.8h-0.8zM131 139.1h0.8v0.8h-0.8zM95.5 113.3h0.8v0.8h-0.8zM115.4 130.8h0.8v0.8h-0.8zM129.7 170.2h0.8v0.8h-0.8zM106.5 159.3h0.8v0.8h-0.8zM101.4 155h0.8v0.8h-0.8zM116.2 150.5h0.8v0.8h-0.8zM121.1 165.8h0.8v0.8h-0.8zM120.8 128h0.8v0.8h-0.8zM92.3 129.9h0.8v0.8h-0.8zM94.8 116.4h0.8v0.8h-0.8zM99.2 129.3h0.8v0.8h-0.8zM94.9 139.1h0.8v0.8h-0.8zM99.1 144.5h0.8v0.8h-0.8zM87.6 114.2h0.8v0.8h-0.8zM101.6 112.2h0.8v0.8h-0.8zM102 131.3h0.8v0.8h-0.8zM93.2 120.9h0.8v0.8h-0.8zM108.5 133.5h0.8v0.8h-0.8zM126 144.4h0.8v0.8h-0.8zM85 119.2h0.8v0.8h-0.8zM102.8 152.5h0.8v0.8h-0.8zM126.4 167.2h0.8v0.8h-0.8zM105.9 137.6h0.8v0.8h-0.8zM131.4 127.9h0.8v0.8h-0.8zM91.2 108.7h0.8v0.8h-0.8zM115.6 145.4h0.8v0.8h-0.8zM112.5 135.4h0.8v0.8h-0.8zM110.6 151.3h0.8v0.8h-0.8zM101.6 102.8h0.8v0.8h-0.8zM96.1 121.3h0.8v0.8h-0.8zM98.6 131.3h0.8v0.8h-0.8zM107.9 161.4h0.8v0.8h-0.8zM100.7 150.1h0.8v0.8h-0.8zM103.1 150.6h0.8v0.8h-0.8zM117 121h0.8v0.8h-0.8zM128.6 153.4h0.8v0.8h-0.8zM109.3 149.2h0.8v0.8h-0.8zM100.6 141.9h0.8v0.8h-0.8zM124.9 138.2h0.8v0.8h-0.8zM120.2 116.9h0.8v0.8h-0.8zM128.7 169.1h0.8v0.8h-0.8zM130.4 137.1h0.8v0.8h-0.8zM113.8 160.5h0.8v0.8h-0.8zM89.5 120.8h0.8v0.8h-0.8zM127.4 155.8h0.8v0.8h-0.8zM107.3 104.7h0.8v0.8h-0.8zM93.2 114.5h0.8v0.8h-0.8zM109.2 123.5h0.8v0.8h-0.8zM113.3 157.1h0.8v0.8h-0.8zM89.1 114.3h0.8v0.8h-0.8zM94.6 104.9h0.8v0.8h-0.8zM121.8 130h0.8v0.8h-0.8zM123.9 151.6h0.8v0.8h-0.8zM122.8 127.2h0.8v0.8h-0.8zM121.8 152.3h0.8v0.8h-0.8zM124.7 157.4h0.8v0.8h-0.8zM113.5 115.6h0.8v0.8h-0.8zM119.4 123.5h0.8v0.8h-0.8zM119.9 125.6h0.8v0.8h-0.8zM91.9 113.2h0.8v0.8h-0.8zM112.3 113.1h0.8v0.8h-0.8zM126.2 126.4h0.8v0.8h-0.8zM120.3 155h0.8v0.8h-0.8zM128.7 162.2h0.8v0.8h-0.8zM91.5 135h0.8v0.8h-0.8zM124.7 122.5h0.8v0.8h-0.8zM133.7 141h0.8v0.8h-0.8zM122.8 121.9h0.8v0.8h-0.8zM93.1 130.8h0.8v0.8h-0.8zM113.4 112.8h0.8v0.8h-0.8zM108.1 109.1h0.8v0.8h-0.8zM100.5 138h0.8v0.8h-0.8zM128.6 126h0.8v0.8h-0.8zM107.2 154h0.8v0.8h-0.8zM87.2 113.8h0.8v0.8h-0.8zM123.5 160.4h0.8v0.8h-0.8zM119.2 137.6h0.8v0.8h-0.8zM103.8 154.8h0.8v0.8h-0.8zM96.3 116.5h0.8v0.8h-0.8zM104.9 140.2h0.8v0.8h-0.8zM93.6 139.2h0.8v0.8h-0.8zM110.9 154.2h0.8v0.8h-0.8zM94.5 129.1h0.8v0.8h-0.8zM130.3 159.1h0.8v0.8h-0.8zM114.6 149.8h0.8v0.8h-0.8zM124.9 159.8h0.8v0.8h-0.8zM128.7 164.6h0.8v0.8h-0.8zM127.6 148.1h0.8v0.8h-0.8zM106.9 144.6h0.8v0.8h-0.8zM128.9 161.9h0.8v0.8h-0.8zM123 157.2h0.8v0.8h-0.8zM110.3 150.1h0.8v0.8h-0.8zM130.8 154.9h0.8v0.8h-0.8zM124.9 167.9h0.8v0.8h-0.8zM91.6 121.4h0.8v0.8h-0.8zM125.2 164.5h0.8v0.8h-0.8zM108.6 146h0.8v0.8h-0.8zM114.9 112.7h0.8v0.8h-0.8zM124.6 129.7h0.8v0.8h-0.8zM93.2 125.3h0.8v0.8h-0.8zM97.3 104.5h0.8v0.8h-0.8zM109.5 156.7h0.8v0.8h-0.8zM108.4 109.1h0.8v0.8h-0.8zM84 129.6h0.8v0.8h-0.8zM126.3 132.1h0.8v0.8h-0.8zM117.6 122.4h0.8v0.8h-0.8zM110.4 124.6h0.8v0.8h-0.8zM108.9 129.9h0.8v0.8h-0.8zM110.8 138.7h0.8v0.8h-0.8zM87 131.7h0.8v0.8h-0.8zM128.4 145.9h0.8v0.8h-0.8zM89.8 115.1h0.8v0.8h-0.8zM117.9 145h0.8v0.8h-0.8zM111.5 153.3h0.8v0.8h-0.8zM97.2 106.7h0.8v0.8h-0.8zM86.1 119.7h0.8v0.8h-0.8zM98.4 132.6h0.8v0.8h-0.8zM108.2 120.1h0.8v0.8h-0.8zM118.6 132.8h0.8v0.8h-0.8zM114.9 143.5h0.8v0.8h-0.8zM104 124h0.8v0.8h-0.8zM124.3 168.5h0.8v0.8h-0.8zM118.9 162.1h0.8v0.8h-0.8zM89.1 122.2h0.8v0.8h-0.8zM100 138.7h0.8v0.8h-0.8zM130.3 153h0.8v0.8h-0.8zM113 128.8h0.8v0.8h-0.8zM111.1 155.5h0.8v0.8h-0.8zM108.7 159.6h0.8v0.8h-0.8zM93.8 122.1h0.8v0.8h-0.8zM123.2 161.2h0.8v0.8h-0.8zM120.2 145.5h0.8v0.8h-0.8zM122.6 134.9h0.8v0.8h-0.8zM115.2 128.6h0.8v0.8h-0.8zM117.8 120.7h0.8v0.8h-0.8zM96.5 127.3h0.8v0.8h-0.8zM105.7 131h0.8v0.8h-0.8zM112.1 154.6h0.8v0.8h-0.8zM102.7 152.6h0.8v0.8h-0.8zM114.3 127.5h0.8v0.8h-0.8zM117.3 137.7h0.8v0.8h-0.8zM99.2 152.4h0.8v0.8h-0.8zM122.3 154.1h0.8v0.8h-0.8zM97.2 109.7h0.8v0.8h-0.8zM103.6 132.8h0.8v0.8h-0.8zM95.5 106.7h0.8v0.8h-0.8zM130.7 128.7h0.8v0.8h-0.8zM109 132.6h0.8v0.8h-0.8zM97.4 118.8h0.8v0.8h-0.8zM105.2 133.4h0.8v0.8h-0.8zM121.8 154.3h0.8v0.8h-0.8zM127 164.8h0.8v0.8h-0.8zM85.2 119.7h0.8v0.8h-0.8zM102.9 113.6h0.8v0.8h-0.8zM96.2 123.3h0.8v0.8h-0.8zM105.9 136.2h0.8v0.8h-0.8zM99.6 134.7h0.8v0.8h-0.8zM100.8 104.7h0.8v0.8h-0.8zM103.4 138.9h0.8v0.8h-0.8zM117 134.4h0.8v0.8h-0.8zM106.4 153.4h0.8v0.8h-0.8zM124.7 138.1h0.8v0.8h-0.8zM95.9 116.2h0.8v0.8h-0.8zM118 148.7h0.8v0.8h-0.8zM121.4 139h0.8v0.8h-0.8zM120.2 148.2h0.8v0.8h-0.8zM102.6 130.4h0.8v0.8h-0.8zM92.6 112.8h0.8v0.8h-0.8zM94.8 134.3h0.8v0.8h-0.8zM113.1 129.5h0.8v0.8h-0.8zM109.8 135.8h0.8v0.8h-0.8zM92.7 129.1h0.8v0.8h-0.8zM125.5 137.4h0.8v0.8h-0.8zM126.2 154.2h0.8v0.8h-0.8zM130.6 157.1h0.8v0.8h-0.8zM83.8 120.1h0.8v0.8h-0.8zM101.4 150.1h0.8v0.8h-0.8zM100.4 113.4h0.8v0.8h-0.8zM94.6 146.8h0.8v0.8h-0.8zM124.1 146.4h0.8v0.8h-0.8zM84.3 120.3h0.8v0.8h-0.8zM114.9 114.2h0.8v0.8h-0.8zM117.8 134.7h0.8v0.8h-0.8zM110.2 120h0.8v0.8h-0.8zM109.1 129h0.8v0.8h-0.8zM104.8 128.6h0.8v0.8h-0.8zM100.7 134.9h0.8v0.8h-0.8zM117.1 133.8h0.8v0.8h-0.8zM120.3 146.9h0.8v0.8h-0.8zM109.1 156.1h0.8v0.8h-0.8zM123.9 160.9h0.8v0.8h-0.8zM111.7 112.4h0.8v0.8h-0.8zM127.8 130.7h0.8v0.8h-0.8zM119.2 128.9h0.8v0.8h-0.8zM122.2 149.7h0.8v0.8h-0.8zM97.2 147.7h0.8v0.8h-0.8zM92.7 124.6h0.8v0.8h-0.8zM123.6 138.9h0.8v0.8h-0.8zM121.5 125h0.8v0.8h-0.8zM119.7 118.2h0.8v0.8h-0.8zM126.2 149.6h0.8v0.8h-0.8zM107.3 149.2h0.8v0.8h-0.8zM122.2 140.8h0.8v0.8h-0.8zM92 142.6h0.8v0.8h-0.8zM92.7 118.3h0.8v0.8h-0.8zM115.9 158.5h0.8v0.8h-0.8zM115.9 131.8h0.8v0.8h-0.8zM121 158h0.8v0.8h-0.8zM97.2 131.4h0.8v0.8h-0.8zM89.3 129.3h0.8v0.8h-0.8zM104.7 144.7h0.8v0.8h-0.8zM105.2 154.2h0.8v0.8h-0.8zM98.8 115.6h0.8v0.8h-0.8zM104.2 157.6h0.8v0.8h-0.8zM124.6 141h0.8v0.8h-0.8zM103.8 139.7h0.8v0.8h-0.8zM108.6 130.5h0.8v0.8h-0.8zM112.2 118.4h0.8v0.8h-0.8zM99.1 117h0.8v0.8h-0.8zM115.5 159.6h0.8v0.8h-0.8zM117.2 125.2h0.8v0.8h-0.8zM108.1 113h0.8v0.8h-0.8zM118 138.5h0.8v0.8h-0.8zM102.3 127.3h0.8v0.8h-0.8zM107.4 139.8h0.8v0.8h-0.8zM121.1 134h0.8v0.8h-0.8zM127.9 162.3h0.8v0.8h-0.8zM109.3 108.1h0.8v0.8h-0.8zM117.7 115h0.8v0.8h-0.8zM113.9 116.9h0.8v0.8h-0.8zM100 132.8h0.8v0.8h-0.8zM105.7 108.2h0.8v0.8h-0.8zM92.2 133.1h0.8v0.8h-0.8zM103.4 115.2h0.8v0.8h-0.8zM113.8 132.7h0.8v0.8h-0.8zM98 127.5h0.8v0.8h-0.8zM113.8 120.9h0.8v0.8h-0.8zM132.6 149h0.8v0.8h-0.8zM97.7 138.6h0.8v0.8h-0.8zM98.9 106.7h0.8v0.8h-0.8zM116.9 114.5h0.8v0.8h-0.8zM125.4 149.1h0.8v0.8h-0.8zM97 149.4h0.8v0.8h-0.8zM105.5 152.6h0.8v0.8h-0.8zM121.3 162.4h0.8v0.8h-0.8zM120.2 154.1h0.8v0.8h-0.8zM108 150.8h0.8v0.8h-0.8zM133.6 142h0.8v0.8h-0.8zM126.1 128.8h0.8v0.8h-0.8zM130.6 147.9h0.8v0.8h-0.8zM128.8 130.5h0.8v0.8h-0.8zM100.2 129.2h0.8v0.8h-0.8zM116.5 117.6h0.8v0.8h-0.8zM115.7 124.7h0.8v0.8h-0.8zM91.9 113.5h0.8v0.8h-0.8zM117 131.3h0.8v0.8h-0.8zM118.6 147.9h0.8v0.8h-0.8zM114.3 115.5h0.8v0.8h-0.8zM123.8 160.7h0.8v0.8h-0.8zM113.3 150.2h0.8v0.8h-0.8zM133 148.6h0.8v0.8h-0.8zM108.3 115.8h0.8v0.8h-0.8zM90.7 111.2h0.8v0.8h-0.8zM90.8 126h0.8v0.8h-0.8zM104.5 132.4h0.8v0.8h-0.8zM90 137.9h0.8v0.8h-0.8zM102.7 126.6h0.8v0.8h-0.8zM120.5 131.1h0.8v0.8h-0.8zM107.5 143.2h0.8v0.8h-0.8zM115.9 124.3h0.8v0.8h-0.8zM98.2 150.6h0.8v0.8h-0.8zM109.6 151h0.8v0.8h-0.8zM122 135.9h0.8v0.8h-0.8zM113.9 158.7h0.8v0.8h-0.8zM109.4 162h0.8v0.8h-0.8zM107.3 128h0.8v0.8h-0.8zM102 122.8h0.8v0.8h-0.8zM105.8 154.4h0.8v0.8h-0.8zM121.6 122.1h0.8v0.8h-0.8zM107.2 118.3h0.8v0.8h-0.8zM110.4 131h0.8v0.8h-0.8zM125.2 139.5h0.8v0.8h-0.8zM106.7 121h0.8v0.8h-0.8zM99.7 122.2h0.8v0.8h-0.8zM102.4 104.9h0.8v0.8h-0.8zM120.1 134.3h0.8v0.8h-0.8zM88.6 126.2h0.8v0.8h-0.8zM95.2 134.7h0.8v0.8h-0.8zM105.1 104.2h0.8v0.8h-0.8zM84.2 120.4h0.8v0.8h-0.8zM114.4 115.6h0.8v0.8h-0.8zM109.2 138.8h0.8v0.8h-0.8zM113.6 148.6h0.8v0.8h-0.8zM111.9 147h0.8v0.8h-0.8zM117.4 134.6h0.8v0.8h-0.8zM100.4 119.4h0.8v0.8h-0.8zM109.9 137.5h0.8v0.8h-0.8zM109 133.6h0.8v0.8h-0.8zM111.3 131.3h0.8v0.8h-0.8zM104.1 141.3h0.8v0.8h-0.8zM85.4 129.2h0.8v0.8h-0.8zM114.9 152.1h0.8v0.8h-0.8zM116.9 121.8h0.8v0.8h-0.8zM124.3 166.9h0.8v0.8h-0.8zM117.4 126h0.8v0.8h-0.8zM127.2 164h0.8v0.8h-0.8zM83.4 128.1h0.8v0.8h-0.8zM102.2 140.8h0.8v0.8h-0.8zM119.9 154.1h0.8v0.8h-0.8zM102.7 113.2h0.8v0.8h-0.8zM107.3 149.2h0.8v0.8h-0.8zM129 164.2h0.8v0.8h-0.8zM93.4 140.9h0.8v0.8h-0.8zM124.3 141.7h0.8v0.8h-0.8zM104.9 144.6h0.8v0.8h-0.8zM97.1 147.8h0.8v0.8h-0.8zM122.2 136.9h0.8v0.8h-0.8zM113.2 149.1h0.8v0.8h-0.8zM116 133.2h0.8v0.8h-0.8zM94.5 133.8h0.8v0.8h-0.8zM98.1 110.3h0.8v0.8h-0.8zM95.1 146.6h0.8v0.8h-0.8zM91.5 110.5h0.8v0.8h-0.8zM99.4 103.5h0.8v0.8h-0.8z"/>
<path fill="#3e81b8" d="M120.4 169.1h0.9v0.9h-0.9zM95.2 149h0.9v0.9h-0.9zM108.5 104.6h0.9v0.9h-0.9zM82.5 116.9h0.9v0.9h-0.9zM100.7 97.8h0.9v0.9h-0.9zM85.4 134.1h0.9v0.9h-0.9zM121.7 170.6h0.9v0.9h-0.9zM89.5 141.5h0.9v0.9h-0.9zM92 143.4h0.9v0.9h-0.9zM127.2 172.1h0.9v0.9h-0.9zM105.2 105.7h0.9v0.9h-0.9zM89 108.4h0.9v0.9h-0.9zM118.2 111.6h0.9v0.9h-0.9zM130 172.5h0.9v0.9h-0.9zM134.2 141h0.9v0.9h-0.9zM102.1 159.5h0.9v0.9h-0.9zM105.4 160.7h0.9v0.9h-0.9zM136.1 167.5h0.9v0.9h-0.9zM127.9 122.8h0.9v0.9h-0.9zM131.4 128.2h0.9v0.9h-0.9zM89.7 147.9h0.9v0.9h-0.9zM117.5 111.3h0.9v0.9h-0.9zM118.2 168h0.9v0.9h-0.9zM135.1 144.7h0.9v0.9h-0.9zM94.8 103h0.9v0.9h-0.9zM89 108.2h0.9v0.9h-0.9zM111.7 108.5h0.9v0.9h-0.9zM130.5 169.1h0.9v0.9h-0.9zM132.5 171.4h0.9v0.9h-0.9zM90.5 106.4h0.9v0.9h-0.9zM134.7 163.9h0.9v0.9h-0.9zM96.4 101.6h0.9v0.9h-0.9zM82.7 123.9h0.9v0.9h-0.9zM131.8 170.5h0.9v0.9h-0.9zM134.7 132.5h0.9v0.9h-0.9zM120.3 168.7h0.9v0.9h-0.9zM136 155.3h0.9v0.9h-0.9zM120 116.1h0.9v0.9h-0.9zM101.1 102.4h0.9v0.9h-0.9zM100.5 105.1h0.9v0.9h-0.9zM125.7 126.2h0.9v0.9h-0.9zM79.6 122.2h0.9v0.9h-0.9zM118.2 167.8h0.9v0.9h-0.9zM101.4 157.9h0.9v0.9h-0.9zM106.8 161.8h0.9v0.9h-0.9zM103 101.3h0.9v0.9h-0.9zM114.8 166.6h0.9v0.9h-0.9zM127.9 171h0.9v0.9h-0.9zM119.3 113.3h0.9v0.9h-0.9zM136.2 151h0.9v0.9h-0.9zM90 116.3h0.9v0.9h-0.9zM132.9 166.9h0.9v0.9h-0.9zM80.6 124.6h0.9v0.9h-0.9zM82.7 123.4h0.9v0.9h-0.9zM120.5 168.8h0.9v0.9h-0.9zM106.1 102.6h0.9v0.9h-0.9zM83 129.5h0.9v0.9h-0.9zM109.8 158.5h0.9v0.9h-0.9zM80.2 120.4h0.9v0.9h-0.9zM129.8 169.5h0.9v0.9h-0.9zM125.1 121.9h0.9v0.9h-0.9zM82 130.1h0.9v0.9h-0.9zM120.1 169.2h0.9v0.9h-0.9zM90.1 145.9h0.9v0.9h-0.9zM99.2 100.5h0.9v0.9h-0.9zM88.5 107.6h0.9v0.9h-0.9zM130.1 170.2h0.9v0.9h-0.9zM108.2 103.5h0.9v0.9h-0.9zM90.8 138.7h0.9v0.9h-0.9zM125.7 170.9h0.9v0.9h-0.9zM100.5 100.6h0.9v0.9h-0.9zM131.6 125.9h0.9v0.9h-0.9zM124.3 171.7h0.9v0.9h-0.9zM98.3 150.1h0.9v0.9h-0.9zM118.4 166h0.9v0.9h-0.9zM133.5 159.2h0.9v0.9h-0.9zM130.1 164.9h0.9v0.9h-0.9zM86.5 129.2h0.9v0.9h-0.9zM91.4 101.8h0.9v0.9h-0.9zM93.7 103.4h0.9v0.9h-0.9zM120.3 116.5h0.9v0.9h-0.9zM113 110.7h0.9v0.9h-0.9zM123.9 171.1h0.9v0.9h-0.9zM89.3 141.7h0.9v0.9h-0.9zM118.9 115.3h0.9v0.9h-0.9zM98.2 103.9h0.9v0.9h-0.9zM100.9 101.1h0.9v0.9h-0.9zM111.9 106.6h0.9v0.9h-0.9zM131.8 131h0.9v0.9h-0.9zM89.1 106.2h0.9v0.9h-0.9zM129.6 171.3h0.9v0.9h-0.9zM122.6 170.4h0.9v0.9h-0.9zM130.3 170.8h0.9v0.9h-0.9z"/>
<path fill="#4ea644" d="M95.7 77h0.9v0.9h-0.9zM106.4 89.6h0.9v0.9h-0.9zM102.8 72.7h0.9v0.9h-0.9zM94 79.1h0.9v0.9h-0.9zM104.8 92h0.9v0.9h-0.9zM105.2 78h0.9v0.9h-0.9zM107.1 87.9h0.9v0.9h-0.9zM110.4 85.3h0.9v0.9h-0.9zM103.3 74.5h0.9v0.9h-0.9zM111.3 85.2h0.9v0.9h-0.9zM109.2 77.3h0.9v0.9h-0.9zM99.2 70.7h0.9v0.9h-0.9zM96.3 78.3h0.9v0.9h-0.9zM114.1 86.6h0.9v0.9h-0.9zM106.9 80.6h0.9v0.9h-0.9zM99.9 70.4h0.9v0.9h-0.9zM101.6 85.5h0.9v0.9h-0.9zM105.4 91h0.9v0.9h-0.9zM100.2 73.2h0.9v0.9h-0.9zM95.8 70.5h0.9v0.9h-0.9zM102.5 89.9h0.9v0.9h-0.9zM112.9 89.7h0.9v0.9h-0.9zM95.4 78.7h0.9v0.9h-0.9zM94.3 76.7h0.9v0.9h-0.9zM94.1 73.9h0.9v0.9h-0.9zM107.8 81.5h0.9v0.9h-0.9zM98 69.8h0.9v0.9h-0.9zM96.6 76.1h0.9v0.9h-0.9zM99.5 84.4h0.9v0.9h-0.9zM108.9 93.5h0.9v0.9h-0.9zM104.3 83.1h0.9v0.9h-0.9zM93 76.6h0.9v0.9h-0.9zM97.6 74.2h0.9v0.9h-0.9zM108.4 77.7h0.9v0.9h-0.9zM113.4 88h0.9v0.9h-0.9zM107.6 84.4h0.9v0.9h-0.9zM104.9 84.8h0.9v0.9h-0.9zM110.1 79h0.9v0.9h-0.9zM105.1 72.7h0.9v0.9h-0.9zM93.3 78.9h0.9v0.9h-0.9zM94.2 76.8h0.9v0.9h-0.9zM97.5 82.7h0.9v0.9h-0.9zM96 68.6h0.9v0.9h-0.9zM100.8 87.3h0.9v0.9h-0.9zM94.5 75.3h0.9v0.9h-0.9zM96.4 70.2h0.9v0.9h-0.9zM98 85.2h0.9v0.9h-0.9zM111.8 84.6h0.9v0.9h-0.9zM105.5 80.5h0.9v0.9h-0.9zM104.2 77.4h0.9v0.9h-0.9zM112.4 86.3h0.9v0.9h-0.9zM104.5 79.7h0.9v0.9h-0.9zM99.4 76.9h0.9v0.9h-0.9zM109.5 90.9h0.9v0.9h-0.9zM97.1 69.7h0.9v0.9h-0.9zM108.8 85h0.9v0.9h-0.9zM98.7 84.8h0.9v0.9h-0.9zM100.4 76.3h0.9v0.9h-0.9zM98 78.5h0.9v0.9h-0.9zM105.6 80.1h0.9v0.9h-0.9zM100 70.1h0.9v0.9h-0.9zM93.7 73.4h0.9v0.9h-0.9zM103.5 78.1h0.9v0.9h-0.9zM102.3 88.7h0.9v0.9h-0.9zM105.4 87.3h0.9v0.9h-0.9zM95.6 81.2h0.9v0.9h-0.9zM92.5 77.5h0.9v0.9h-0.9zM112.1 85.5h0.9v0.9h-0.9zM96.8 78.1h0.9v0.9h-0.9zM93.2 78.8h0.9v0.9h-0.9z"/>
<path fill="#b4de8e" d="M94.2 78.8h0.9v0.9h-0.9zM95.2 74.5h0.9v0.9h-0.9zM92.6 80.6h0.9v0.9h-0.9zM96.2 73.1h0.9v0.9h-0.9zM93.8 73.8h0.9v0.9h-0.9zM96.8 74.7h0.9v0.9h-0.9zM94.3 82h0.9v0.9h-0.9zM93.2 82.3h0.9v0.9h-0.9zM93.1 76.7h0.9v0.9h-0.9zM94.4 76.9h0.9v0.9h-0.9zM96.1 79.4h0.9v0.9h-0.9zM102.6 75.4h0.9v0.9h-0.9zM99.6 75.7h0.9v0.9h-0.9zM92.3 74.2h0.9v0.9h-0.9zM100.6 74.1h0.9v0.9h-0.9zM95.1 73.2h0.9v0.9h-0.9zM98.3 74.7h0.9v0.9h-0.9zM97 74.7h0.9v0.9h-0.9zM98.5 79.4h0.9v0.9h-0.9zM89.7 78.9h0.9v0.9h-0.9zM85.4 77.3h0.9v0.9h-0.9zM98.3 74.7h0.9v0.9h-0.9zM96.2 78h0.9v0.9h-0.9zM93.9 80h0.9v0.9h-0.9zM96.6 78.7h0.9v0.9h-0.9zM93.9 74.7h0.9v0.9h-0.9zM96.7 72.8h0.9v0.9h-0.9zM95.9 70.9h0.9v0.9h-0.9zM98.1 73.8h0.9v0.9h-0.9zM101.9 74.5h0.9v0.9h-0.9zM101.9 76.5h0.9v0.9h-0.9zM91.3 81.8h0.9v0.9h-0.9zM83.9 74.5h0.9v0.9h-0.9zM88.7 81.2h0.9v0.9h-0.9zM98.7 75h0.9v0.9h-0.9zM99.6 76.8h0.9v0.9h-0.9zM97.4 72.1h0.9v0.9h-0.9zM85 73.5h0.9v0.9h-0.9zM93.3 80.2h0.9v0.9h-0.9zM91.3 76.7h0.9v0.9h-0.9z"/>
<path fill="#3e81b8" d="M88.6 116.7h0.9v0.9h-0.9zM96.4 113.5h0.9v0.9h-0.9zM98 104.8h0.9v0.9h-0.9zM96 115.9h0.9v0.9h-0.9zM88.2 116.9h0.9v0.9h-0.9zM90.8 110h0.9v0.9h-0.9zM94.9 113.2h0.9v0.9h-0.9zM96 108.8h0.9v0.9h-0.9zM92.3 115.9h0.9v0.9h-0.9zM95.6 116.3h0.9v0.9h-0.9zM100.5 108.6h0.9v0.9h-0.9zM100.4 108.5h0.9v0.9h-0.9zM95.8 110.8h0.9v0.9h-0.9zM86.2 117.3h0.9v0.9h-0.9zM94.3 118h0.9v0.9h-0.9zM95.2 103.9h0.9v0.9h-0.9zM96.4 115.7h0.9v0.9h-0.9zM96.1 116.1h0.9v0.9h-0.9zM100.3 105.7h0.9v0.9h-0.9zM92.3 110.5h0.9v0.9h-0.9zM91.7 109.2h0.9v0.9h-0.9zM85.9 117.5h0.9v0.9h-0.9zM100.8 110.7h0.9v0.9h-0.9zM93.1 119.6h0.9v0.9h-0.9zM95.3 109.5h0.9v0.9h-0.9zM97.6 105.2h0.9v0.9h-0.9zM97.5 106.9h0.9v0.9h-0.9zM94.3 109.4h0.9v0.9h-0.9zM98.3 110.5h0.9v0.9h-0.9zM90.1 116.3h0.9v0.9h-0.9zM92 108h0.9v0.9h-0.9zM87.6 119.6h0.9v0.9h-0.9zM101.9 107.6h0.9v0.9h-0.9zM91.4 108.1h0.9v0.9h-0.9zM86.5 113.9h0.9v0.9h-0.9zM92.7 111.5h0.9v0.9h-0.9zM90.5 120.3h0.9v0.9h-0.9zM86.7 116.5h0.9v0.9h-0.9zM90.5 113.8h0.9v0.9h-0.9zM97.8 113.2h0.9v0.9h-0.9z"/>
<path fill="#4f8cc0" d="M119.3 113.6h0.9v0.9h-0.9zM122.9 114h0.9v0.9h-0.9zM132.5 119.6h0.9v0.9h-0.9zM122.8 104.1h0.9v0.9h-0.9zM126 107.4h0.9v0.9h-0.9zM135.7 110.9h0.9v0.9h-0.9zM128 103.6h0.9v0.9h-0.9zM113.8 104.1h0.9v0.9h-0.9zM133.4 108.1h0.9v0.9h-0.9zM138.9 95.8h0.9v0.9h-0.9zM121.3 110.4h0.9v0.9h-0.9zM134.2 112.8h0.9v0.9h-0.9zM119.6 103.4h0.9v0.9h-0.9zM138.6 102.6h0.9v0.9h-0.9zM127.9 100.4h0.9v0.9h-0.9zM120.8 109.6h0.9v0.9h-0.9zM130.4 105h0.9v0.9h-0.9zM126.1 101.8h0.9v0.9h-0.9zM132.1 115.1h0.9v0.9h-0.9zM128.6 100.1h0.9v0.9h-0.9zM122.5 116.1h0.9v0.9h-0.9zM124.6 111.4h0.9v0.9h-0.9zM117.5 112.5h0.9v0.9h-0.9zM140.2 97.3h0.9v0.9h-0.9zM140.7 95.1h0.9v0.9h-0.9zM114.5 102.5h0.9v0.9h-0.9zM127.8 108.7h0.9v0.9h-0.9zM122.2 105.1h0.9v0.9h-0.9zM129.8 117.7h0.9v0.9h-0.9zM130 114.2h0.9v0.9h-0.9zM122.5 104h0.9v0.9h-0.9zM114.6 102.1h0.9v0.9h-0.9zM115.4 107.1h0.9v0.9h-0.9zM137 101.1h0.9v0.9h-0.9zM127.7 111.4h0.9v0.9h-0.9zM117.5 106.6h0.9v0.9h-0.9zM128.5 117.6h0.9v0.9h-0.9zM141.5 93.9h0.9v0.9h-0.9zM120.1 112.3h0.9v0.9h-0.9zM136.6 105.5h0.9v0.9h-0.9zM132.4 100.3h0.9v0.9h-0.9zM116.9 105.9h0.9v0.9h-0.9zM119.4 113.3h0.9v0.9h-0.9zM113 103.4h0.9v0.9h-0.9zM139.2 100h0.9v0.9h-0.9z"/>
<path fill="#b4de8e" d="M135.4 95.5h0.9v0.9h-0.9zM123.8 109.1h0.9v0.9h-0.9zM133.1 117.2h0.9v0.9h-0.9zM126.5 112.2h0.9v0.9h-0.9zM135.4 100h0.9v0.9h-0.9zM132.4 100.6h0.9v0.9h-0.9zM132.4 112.1h0.9v0.9h-0.9zM135.6 106.7h0.9v0.9h-0.9zM123.7 109.3h0.9v0.9h-0.9zM138.2 101.6h0.9v0.9h-0.9zM134.4 108.5h0.9v0.9h-0.9zM131.6 106.1h0.9v0.9h-0.9zM143 94.5h0.9v0.9h-0.9zM122.5 115.4h0.9v0.9h-0.9zM129.6 114.6h0.9v0.9h-0.9zM114.8 101h0.9v0.9h-0.9zM142 93.6h0.9v0.9h-0.9zM133.7 96.8h0.9v0.9h-0.9zM139.3 93.7h0.9v0.9h-0.9zM125.5 117.8h0.9v0.9h-0.9zM135.9 105.6h0.9v0.9h-0.9zM117.9 102.8h0.9v0.9h-0.9zM123.2 114.5h0.9v0.9h-0.9zM130.1 115.2h0.9v0.9h-0.9zM134.7 110.4h0.9v0.9h-0.9z"/>
<path fill="#5aaa4a" d="M71.5 92.4h0.9v0.9h-0.9zM65.4 105.9h0.9v0.9h-0.9zM70.6 97.9h0.9v0.9h-0.9zM74.3 106h0.9v0.9h-0.9zM78.5 106.5h0.9v0.9h-0.9zM68.8 97.9h0.9v0.9h-0.9zM69.9 106.3h0.9v0.9h-0.9zM65.5 95.4h0.9v0.9h-0.9zM66.4 105h0.9v0.9h-0.9zM62.4 105.5h0.9v0.9h-0.9zM76.9 105.6h0.9v0.9h-0.9zM73.8 100.9h0.9v0.9h-0.9zM73.1 90.9h0.9v0.9h-0.9zM71.8 105.8h0.9v0.9h-0.9zM76.8 91.9h0.9v0.9h-0.9zM74.8 92.7h0.9v0.9h-0.9zM71.9 95.7h0.9v0.9h-0.9zM76.9 97.8h0.9v0.9h-0.9zM71.3 104.6h0.9v0.9h-0.9zM68.9 93.3h0.9v0.9h-0.9zM64.5 100.5h0.9v0.9h-0.9zM65.9 107.2h0.9v0.9h-0.9z"/>
<path fill="#eba3a3" d="M77 97.1h0.9v0.9h-0.9zM69.8 90.6h0.9v0.9h-0.9zM76 97.2h0.9v0.9h-0.9zM70.5 93.9h0.9v0.9h-0.9zM69.3 93.5h0.9v0.9h-0.9zM77.2 108.1h0.9v0.9h-0.9zM61.9 99.5h0.9v0.9h-0.9zM71.5 104.7h0.9v0.9h-0.9z"/>
<text x="35.4" y="105.1" text-anchor="middle" fill="#222" stroke="#222" stroke-width="0.12" font-size="7">SMC</text>
<text x="119.1" y="69.7" text-anchor="middle" fill="#222" stroke="#222" stroke-width="0.12" font-size="7">aHSC</text>
<text x="91.7" y="101.9" text-anchor="middle" fill="#222" stroke="#222" stroke-width="0.12" font-size="6.9">hep−like HSC</text>
<text x="109.3" y="141.1" text-anchor="middle" fill="#222" stroke="#222" stroke-width="0.12" font-size="7">inHSC</text>
<text x="147.9" y="151.9" text-anchor="middle" fill="#222" stroke="#222" stroke-width="0.12" font-size="7">qHSC</text>
<line x1="14" y1="192.5" x2="14" y2="146" stroke="#999" stroke-width="1"/>
<path d="M10.5 146L14 140.5L17.5 146Z" fill="#000"/>
<line x1="13.5" y1="192" x2="58" y2="192" stroke="#999" stroke-width="1"/>
<path d="M58 188.5L63.5 192L58 195.5Z" fill="#000"/>
<text x="6.6" y="166.6" text-anchor="middle" fill="#222" stroke="#222" stroke-width="0.12" font-size="6.6" transform="rotate(-90 6.6 164.2)">UMAP_2</text>
<text x="41" y="201" text-anchor="middle" fill="#222" stroke="#222" stroke-width="0.12" font-size="6.6">UMAP_1</text>
<circle cx="179.4" cy="140.2" r="3.8" fill="#a8d0e3"/>
<text x="186.8" y="143.2" fill="#222" stroke="#222" stroke-width="0.12" font-size="8.2">qHSC</text>
<circle cx="179.4" cy="151.4" r="3.8" fill="#3479b5"/>
<text x="186.8" y="154.4" fill="#222" stroke="#222" stroke-width="0.12" font-size="8.2">inHSC</text>
<circle cx="179.4" cy="161.9" r="3.8" fill="#b2df8a"/>
<text x="186.8" y="164.9" fill="#222" stroke="#222" stroke-width="0.12" font-size="8.2">aHSC</text>
<circle cx="179.4" cy="172.7" r="3.8" fill="#3d9e3a"/>
<text x="186.8" y="175.7" fill="#222" stroke="#222" stroke-width="0.12" font-size="8.2">hep−like HSC</text>
<circle cx="179.4" cy="183.6" r="3.8" fill="#e58c90"/>
<text x="186.8" y="186.6" fill="#222" stroke="#222" stroke-width="0.12" font-size="8.2">SMC</text>
<text x="244" y="17.6" font-size="23">B</text>
<text x="265.1" y="15.8" fill="#111" stroke="#111" stroke-width="0.12" font-size="9.5">Percent Expressed</text>
<circle cx="361" cy="12.8" r="3.4" fill="#000"/>
<text x="373.7" y="15.8" stroke="#000" stroke-width="0.12" font-size="8.8">25</text>
<circle cx="396.9" cy="12.8" r="5.2" fill="#000"/>
<text x="409.6" y="15.8" stroke="#000" stroke-width="0.12" font-size="8.8">50</text>
<circle cx="433.2" cy="12.8" r="6.6" fill="#000"/>
<text x="446.6" y="15.8" stroke="#000" stroke-width="0.12" font-size="8.8">75</text>
<text x="466.1" y="16.7" fill="#111" stroke="#111" stroke-width="0.12" font-size="9.7">Average Expression</text>
<defs><linearGradient id="gB" x1="0" x2="1" y1="0" y2="0"><stop offset="0" stop-color="#4575b4"/><stop offset="0.125" stop-color="#74add1"/><stop offset="0.25" stop-color="#abd9e9"/><stop offset="0.375" stop-color="#e0f3f8"/><stop offset="0.5" stop-color="#ffffbf"/><stop offset="0.625" stop-color="#fee090"/><stop offset="0.75" stop-color="#fdae61"/><stop offset="0.875" stop-color="#f46d43"/><stop offset="1.0" stop-color="#d73027"/></linearGradient></defs>
<rect x="559.8" y="3.6" width="79.8" height="6.1" fill="url(#gB)"/>
<line x1="570.5" y1="3.6" x2="570.5" y2="4.8" stroke="#fff" stroke-width="0.6"/>
<line x1="570.5" y1="8.5" x2="570.5" y2="9.7" stroke="#fff" stroke-width="0.6"/>
<line x1="594.9" y1="3.6" x2="594.9" y2="4.8" stroke="#fff" stroke-width="0.6"/>
<line x1="594.9" y1="8.5" x2="594.9" y2="9.7" stroke="#fff" stroke-width="0.6"/>
<line x1="619.5" y1="3.6" x2="619.5" y2="4.8" stroke="#fff" stroke-width="0.6"/>
<line x1="619.5" y1="8.5" x2="619.5" y2="9.7" stroke="#fff" stroke-width="0.6"/>
<text x="570.5" y="19.8" text-anchor="middle" stroke="#000" stroke-width="0.12" font-size="6.8">−1</text>
<text x="594.9" y="19.8" text-anchor="middle" stroke="#000" stroke-width="0.12" font-size="6.8">0</text>
<text x="619.5" y="19.8" text-anchor="middle" stroke="#000" stroke-width="0.12" font-size="6.8">1</text>
<rect x="286" y="32.5" width="356" height="138" fill="none" stroke="#555" stroke-width="1"/>
<text x="280.7" y="51.7" text-anchor="end" fill="#222" stroke="#222" stroke-width="0.12" font-size="8.4">SMC</text>
<line x1="282.5" y1="48.7" x2="286" y2="48.7" stroke="#444" stroke-width="0.8"/>
<circle cx="294.5" cy="48.7" r="4.5" fill="#c6e3ef" stroke="#333" stroke-width="0.5"/>
<circle cx="308.6" cy="48.7" r="2.5" fill="#a9d0e4" stroke="#333" stroke-width="0.5"/>
<circle cx="322.8" cy="48.7" r="2" fill="#b5d8e8" stroke="#333" stroke-width="0.5"/>
<circle cx="336.9" cy="48.7" r="1.3" fill="#a0c8e0" stroke="#333" stroke-width="0.5"/>
<circle cx="351.1" cy="48.7" r="4.5" fill="#a9d0e4" stroke="#333" stroke-width="0.5"/>
<circle cx="365.2" cy="48.7" r="5" fill="#7fb2d6" stroke="#333" stroke-width="0.5"/>
<circle cx="379.4" cy="48.7" r="1.3" fill="#8ab8d8" stroke="#333" stroke-width="0.5"/>
<circle cx="393.6" cy="48.7" r="2.5" fill="#7fb2d6" stroke="#333" stroke-width="0.5"/>
<circle cx="407.7" cy="48.7" r="1.3" fill="#a0c8e0" stroke="#333" stroke-width="0.5"/>
<circle cx="421.9" cy="48.7" r="4.5" fill="#7fb2d6" stroke="#333" stroke-width="0.5"/>
<circle cx="436" cy="48.7" r="2" fill="#b5d8e8" stroke="#333" stroke-width="0.5"/>
<circle cx="450.1" cy="48.7" r="6.5" fill="#eef6da" stroke="#333" stroke-width="0.5"/>
<circle cx="464.3" cy="48.7" r="2" fill="#9cc8e0" stroke="#333" stroke-width="0.5"/>
<circle cx="478.5" cy="48.7" r="2.5" fill="#7fb2d6" stroke="#333" stroke-width="0.5"/>
<circle cx="492.6" cy="48.7" r="3" fill="#9cc8e0" stroke="#333" stroke-width="0.5"/>
<circle cx="506.8" cy="48.7" r="6.5" fill="#ecb870" stroke="#333" stroke-width="0.5"/>
<circle cx="520.9" cy="48.7" r="3" fill="#d4eaf3" stroke="#333" stroke-width="0.5"/>
<circle cx="535" cy="48.7" r="4.5" fill="#f0d488" stroke="#333" stroke-width="0.5"/>
<circle cx="549.2" cy="48.7" r="4.5" fill="#f3e49a" stroke="#333" stroke-width="0.5"/>
<circle cx="563.4" cy="48.7" r="5.5" fill="#f0dc8c" stroke="#333" stroke-width="0.5"/>
<circle cx="577.5" cy="48.7" r="6" fill="#d42a28" stroke="#333" stroke-width="0.5"/>
<circle cx="591.7" cy="48.7" r="6" fill="#d73027" stroke="#333" stroke-width="0.5"/>
<circle cx="605.8" cy="48.7" r="7.5" fill="#d42a28" stroke="#333" stroke-width="0.5"/>
<circle cx="620" cy="48.7" r="6" fill="#d73027" stroke="#333" stroke-width="0.5"/>
<circle cx="634.1" cy="48.7" r="6" fill="#d73027" stroke="#333" stroke-width="0.5"/>
<text x="280.7" y="77.6" text-anchor="end" fill="#222" stroke="#222" stroke-width="0.12" font-size="8.4">hep−like HSC</text>
<line x1="282.5" y1="74.6" x2="286" y2="74.6" stroke="#444" stroke-width="0.8"/>
<circle cx="294.5" cy="74.6" r="2" fill="#b5d8e8" stroke="#333" stroke-width="0.5"/>
<circle cx="308.6" cy="74.6" r="3" fill="#b5d8e8" stroke="#333" stroke-width="0.5"/>
<circle cx="322.8" cy="74.6" r="2" fill="#b5d8e8" stroke="#333" stroke-width="0.5"/>
<circle cx="336.9" cy="74.6" r="2.5" fill="#b5d8e8" stroke="#333" stroke-width="0.5"/>
<circle cx="351.1" cy="74.6" r="4" fill="#a0c8e0" stroke="#333" stroke-width="0.5"/>
<circle cx="365.2" cy="74.6" r="5" fill="#d0e8f1" stroke="#333" stroke-width="0.5"/>
<circle cx="379.4" cy="74.6" r="4" fill="#c0e0ec" stroke="#333" stroke-width="0.5"/>
<circle cx="393.6" cy="74.6" r="3.5" fill="#c0e0ec" stroke="#333" stroke-width="0.5"/>
<circle cx="407.7" cy="74.6" r="2.5" fill="#c0e0ec" stroke="#333" stroke-width="0.5"/>
<circle cx="421.9" cy="74.6" r="4" fill="#d0e8f1" stroke="#333" stroke-width="0.5"/>
<circle cx="436" cy="74.6" r="5" fill="#f0dc88" stroke="#333" stroke-width="0.5"/>
<circle cx="450.1" cy="74.6" r="6" fill="#f2e496" stroke="#333" stroke-width="0.5"/>
<circle cx="464.3" cy="74.6" r="4.5" fill="#f0dc88" stroke="#333" stroke-width="0.5"/>
<circle cx="478.5" cy="74.6" r="6" fill="#f2e496" stroke="#333" stroke-width="0.5"/>
<circle cx="492.6" cy="74.6" r="6" fill="#ecb870" stroke="#333" stroke-width="0.5"/>
<circle cx="506.8" cy="74.6" r="6.5" fill="#e9a060" stroke="#333" stroke-width="0.5"/>
<circle cx="520.9" cy="74.6" r="5" fill="#eca364" stroke="#333" stroke-width="0.5"/>
<circle cx="535" cy="74.6" r="5" fill="#e88b50" stroke="#333" stroke-width="0.5"/>
<circle cx="549.2" cy="74.6" r="4.5" fill="#e9955a" stroke="#333" stroke-width="0.5"/>
<circle cx="563.4" cy="74.6" r="5.5" fill="#e8804e" stroke="#333" stroke-width="0.5"/>
<circle cx="577.5" cy="74.6" r="1.3" fill="#e0f0f5" stroke="#333" stroke-width="0.5"/>
<circle cx="591.7" cy="74.6" r="0.6" fill="#c0e0ec" stroke="#333" stroke-width="0.5"/>
<circle cx="605.8" cy="74.6" r="2.5" fill="#e6f3f6" stroke="#333" stroke-width="0.5"/>
<circle cx="620" cy="74.6" r="2.5" fill="#e6f3f6" stroke="#333" stroke-width="0.5"/>
<circle cx="634.1" cy="74.6" r="2" fill="#e6f3f6" stroke="#333" stroke-width="0.5"/>
<text x="280.7" y="104.1" text-anchor="end" fill="#222" stroke="#222" stroke-width="0.12" font-size="8.4">aHSC</text>
<line x1="282.5" y1="101.1" x2="286" y2="101.1" stroke="#444" stroke-width="0.8"/>
<circle cx="294.5" cy="101.1" r="2.5" fill="#b5d8e8" stroke="#333" stroke-width="0.5"/>
<circle cx="308.6" cy="101.1" r="4" fill="#b5d8e8" stroke="#333" stroke-width="0.5"/>
<circle cx="322.8" cy="101.1" r="3" fill="#b5d8e8" stroke="#333" stroke-width="0.5"/>
<circle cx="336.9" cy="101.1" r="4" fill="#c6e3ef" stroke="#333" stroke-width="0.5"/>
<circle cx="351.1" cy="101.1" r="5" fill="#b5d8e8" stroke="#333" stroke-width="0.5"/>
<circle cx="365.2" cy="101.1" r="6" fill="#a9d0e4" stroke="#333" stroke-width="0.5"/>
<circle cx="379.4" cy="101.1" r="5" fill="#c6e3ef" stroke="#333" stroke-width="0.5"/>
<circle cx="393.6" cy="101.1" r="4.5" fill="#b5d8e8" stroke="#333" stroke-width="0.5"/>
<circle cx="407.7" cy="101.1" r="3.5" fill="#b5d8e8" stroke="#333" stroke-width="0.5"/>
<circle cx="421.9" cy="101.1" r="5" fill="#b5d8e8" stroke="#333" stroke-width="0.5"/>
<circle cx="436" cy="101.1" r="6.5" fill="#e05a3a" stroke="#333" stroke-width="0.5"/>
<circle cx="450.1" cy="101.1" r="7" fill="#e2653f" stroke="#333" stroke-width="0.5"/>
<circle cx="464.3" cy="101.1" r="6" fill="#e05a3a" stroke="#333" stroke-width="0.5"/>
<circle cx="478.5" cy="101.1" r="7.5" fill="#e2653f" stroke="#333" stroke-width="0.5"/>
<circle cx="492.6" cy="101.1" r="7" fill="#e8804e" stroke="#333" stroke-width="0.5"/>
<circle cx="506.8" cy="101.1" r="7" fill="#f0f6d8" stroke="#333" stroke-width="0.5"/>
<circle cx="520.9" cy="101.1" r="6" fill="#eb9057" stroke="#333" stroke-width="0.5"/>
<circle cx="535" cy="101.1" r="4.5" fill="#ecf5dc" stroke="#333" stroke-width="0.5"/>
<circle cx="549.2" cy="101.1" r="4.5" fill="#c6e3ef" stroke="#333" stroke-width="0.5"/>
<circle cx="563.4" cy="101.1" r="5.5" fill="#ecf5dc" stroke="#333" stroke-width="0.5"/>
<circle cx="577.5" cy="101.1" r="2" fill="#e0f0f5" stroke="#333" stroke-width="0.5"/>
<circle cx="591.7" cy="101.1" r="1.5" fill="#e0f0f5" stroke="#333" stroke-width="0.5"/>
<circle cx="605.8" cy="101.1" r="3" fill="#e6f3f6" stroke="#333" stroke-width="0.5"/>
<circle cx="620" cy="101.1" r="3" fill="#e6f3f6" stroke="#333" stroke-width="0.5"/>
<circle cx="634.1" cy="101.1" r="2.5" fill="#e6f3f6" stroke="#333" stroke-width="0.5"/>
<text x="280.7" y="130.7" text-anchor="end" fill="#222" stroke="#222" stroke-width="0.12" font-size="8.4">inHSC</text>
<line x1="282.5" y1="127.7" x2="286" y2="127.7" stroke="#444" stroke-width="0.8"/>
<circle cx="294.5" cy="127.7" r="6" fill="#efdd8c" stroke="#333" stroke-width="0.5"/>
<circle cx="308.6" cy="127.7" r="6.5" fill="#eedc8a" stroke="#333" stroke-width="0.5"/>
<circle cx="322.8" cy="127.7" r="5.5" fill="#efdd8c" stroke="#333" stroke-width="0.5"/>
<circle cx="336.9" cy="127.7" r="5" fill="#f0e296" stroke="#333" stroke-width="0.5"/>
<circle cx="351.1" cy="127.7" r="6.5" fill="#f2e69a" stroke="#333" stroke-width="0.5"/>
<circle cx="365.2" cy="127.7" r="6.5" fill="#e8854f" stroke="#333" stroke-width="0.5"/>
<circle cx="379.4" cy="127.7" r="6" fill="#eb9a60" stroke="#333" stroke-width="0.5"/>
<circle cx="393.6" cy="127.7" r="6" fill="#eb9a60" stroke="#333" stroke-width="0.5"/>
<circle cx="407.7" cy="127.7" r="5.5" fill="#eb9a60" stroke="#333" stroke-width="0.5"/>
<circle cx="421.9" cy="127.7" r="5.5" fill="#e4704a" stroke="#333" stroke-width="0.5"/>
<circle cx="436" cy="127.7" r="2.5" fill="#c6e3ef" stroke="#333" stroke-width="0.5"/>
<circle cx="450.1" cy="127.7" r="3" fill="#8fbedb" stroke="#333" stroke-width="0.5"/>
<circle cx="464.3" cy="127.7" r="3" fill="#c6e3ef" stroke="#333" stroke-width="0.5"/>
<circle cx="478.5" cy="127.7" r="4.5" fill="#c6e3ef" stroke="#333" stroke-width="0.5"/>
<circle cx="492.6" cy="127.7" r="4" fill="#b5d8e8" stroke="#333" stroke-width="0.5"/>
<circle cx="506.8" cy="127.7" r="6" fill="#c6e3ef" stroke="#333" stroke-width="0.5"/>
<circle cx="520.9" cy="127.7" r="2" fill="#8fbedb" stroke="#333" stroke-width="0.5"/>
<circle cx="535" cy="127.7" r="4" fill="#cde6f0" stroke="#333" stroke-width="0.5"/>
<circle cx="549.2" cy="127.7" r="4" fill="#f2e48c" stroke="#333" stroke-width="0.5"/>
<circle cx="563.4" cy="127.7" r="5" fill="#d8edf3" stroke="#333" stroke-width="0.5"/>
<circle cx="577.5" cy="127.7" r="1" fill="#9ab" stroke="#333" stroke-width="0.5"/>
<circle cx="591.7" cy="127.7" r="0.5" fill="#9ab" stroke="#333" stroke-width="0.5"/>
<circle cx="605.8" cy="127.7" r="1" fill="#cde" stroke="#333" stroke-width="0.5"/>
<circle cx="620" cy="127.7" r="1.5" fill="#e6f3f6" stroke="#333" stroke-width="0.5"/>
<circle cx="634.1" cy="127.7" r="1.5" fill="#e6f3f6" stroke="#333" stroke-width="0.5"/>
<text x="280.7" y="157.7" text-anchor="end" fill="#222" stroke="#222" stroke-width="0.12" font-size="8.4">qHSC</text>
<line x1="282.5" y1="154.7" x2="286" y2="154.7" stroke="#444" stroke-width="0.8"/>
<circle cx="294.5" cy="154.7" r="7" fill="#dd5a3b" stroke="#333" stroke-width="0.5"/>
<circle cx="308.6" cy="154.7" r="7.5" fill="#df5d3d" stroke="#333" stroke-width="0.5"/>
<circle cx="322.8" cy="154.7" r="6.5" fill="#dd5a3b" stroke="#333" stroke-width="0.5"/>
<circle cx="336.9" cy="154.7" r="6.5" fill="#d84a32" stroke="#333" stroke-width="0.5"/>
<circle cx="351.1" cy="154.7" r="7.5" fill="#dd5a3b" stroke="#333" stroke-width="0.5"/>
<circle cx="365.2" cy="154.7" r="7" fill="#ecb46c" stroke="#333" stroke-width="0.5"/>
<circle cx="379.4" cy="154.7" r="7" fill="#e9a063" stroke="#333" stroke-width="0.5"/>
<circle cx="393.6" cy="154.7" r="7" fill="#e9a063" stroke="#333" stroke-width="0.5"/>
<circle cx="407.7" cy="154.7" r="7" fill="#e9a063" stroke="#333" stroke-width="0.5"/>
<circle cx="421.9" cy="154.7" r="6.5" fill="#ecc878" stroke="#333" stroke-width="0.5"/>
<circle cx="436" cy="154.7" r="2" fill="#c6e3ef" stroke="#333" stroke-width="0.5"/>
<circle cx="450.1" cy="154.7" r="3" fill="#7fb2d6" stroke="#333" stroke-width="0.5"/>
<circle cx="464.3" cy="154.7" r="3.5" fill="#c6e3ef" stroke="#333" stroke-width="0.5"/>
<circle cx="478.5" cy="154.7" r="5.5" fill="#c6e3ef" stroke="#333" stroke-width="0.5"/>
<circle cx="492.6" cy="154.7" r="4" fill="#a9d0e4" stroke="#333" stroke-width="0.5"/>
<circle cx="506.8" cy="154.7" r="6" fill="#4a78b8" stroke="#333" stroke-width="0.5"/>
<circle cx="520.9" cy="154.7" r="2" fill="#8fbedb" stroke="#333" stroke-width="0.5"/>
<circle cx="535" cy="154.7" r="4" fill="#4a78b8" stroke="#333" stroke-width="0.5"/>
<circle cx="549.2" cy="154.7" r="3.5" fill="#4a78b8" stroke="#333" stroke-width="0.5"/>
<circle cx="563.4" cy="154.7" r="5" fill="#4a78b8" stroke="#333" stroke-width="0.5"/>
<circle cx="577.5" cy="154.7" r="1.5" fill="#e6f3f6" stroke="#333" stroke-width="0.5"/>
<circle cx="591.7" cy="154.7" r="1.5" fill="#e6f3f6" stroke="#333" stroke-width="0.5"/>
<circle cx="605.8" cy="154.7" r="1.3" fill="#e6f3f6" stroke="#333" stroke-width="0.5"/>
<circle cx="620" cy="154.7" r="1.5" fill="#e6f3f6" stroke="#333" stroke-width="0.5"/>
<circle cx="634.1" cy="154.7" r="2" fill="#e6f3f6" stroke="#333" stroke-width="0.5"/>
<line x1="294.5" y1="170.5" x2="294.5" y2="173.5" stroke="#444" stroke-width="0.8"/>
<text x="296.4" y="179.5" text-anchor="end" fill="#222" stroke="#222" stroke-width="0.12" font-size="8" transform="rotate(-45 296.4 176.6)">COL25A1</text>
<line x1="308.6" y1="170.5" x2="308.6" y2="173.5" stroke="#444" stroke-width="0.8"/>
<text x="310.5" y="179.5" text-anchor="end" fill="#222" stroke="#222" stroke-width="0.12" font-size="8" transform="rotate(-45 310.5 176.6)">RELN</text>
<line x1="322.8" y1="170.5" x2="322.8" y2="173.5" stroke="#444" stroke-width="0.8"/>
<text x="324.7" y="179.5" text-anchor="end" fill="#222" stroke="#222" stroke-width="0.12" font-size="8" transform="rotate(-45 324.7 176.6)">SYT1</text>
<line x1="336.9" y1="170.5" x2="336.9" y2="173.5" stroke="#444" stroke-width="0.8"/>
<text x="338.8" y="179.5" text-anchor="end" fill="#222" stroke="#222" stroke-width="0.12" font-size="8" transform="rotate(-45 338.8 176.6)">HHIP</text>
<line x1="351.1" y1="170.5" x2="351.1" y2="173.5" stroke="#444" stroke-width="0.8"/>
<text x="353" y="179.5" text-anchor="end" fill="#222" stroke="#222" stroke-width="0.12" font-size="8" transform="rotate(-45 353 176.6)">DACH1</text>
<line x1="365.2" y1="170.5" x2="365.2" y2="173.5" stroke="#444" stroke-width="0.8"/>
<text x="367.1" y="179.5" text-anchor="end" fill="#222" stroke="#222" stroke-width="0.12" font-size="8" transform="rotate(-45 367.1 176.6)">PTH1R</text>
<line x1="379.4" y1="170.5" x2="379.4" y2="173.5" stroke="#444" stroke-width="0.8"/>
<text x="381.3" y="179.5" text-anchor="end" fill="#222" stroke="#222" stroke-width="0.12" font-size="8" transform="rotate(-45 381.3 176.6)">ADAMTS13</text>
<line x1="393.6" y1="170.5" x2="393.6" y2="173.5" stroke="#444" stroke-width="0.8"/>
<text x="395.4" y="179.5" text-anchor="end" fill="#222" stroke="#222" stroke-width="0.12" font-size="8" transform="rotate(-45 395.4 176.6)">VIPR1</text>
<line x1="407.7" y1="170.5" x2="407.7" y2="173.5" stroke="#444" stroke-width="0.8"/>
<text x="409.6" y="179.5" text-anchor="end" fill="#222" stroke="#222" stroke-width="0.12" font-size="8" transform="rotate(-45 409.6 176.6)">IFITM10</text>
<line x1="421.9" y1="170.5" x2="421.9" y2="173.5" stroke="#444" stroke-width="0.8"/>
<text x="423.8" y="179.5" text-anchor="end" fill="#222" stroke="#222" stroke-width="0.12" font-size="8" transform="rotate(-45 423.8 176.6)">COL27A1</text>
<line x1="436" y1="170.5" x2="436" y2="173.5" stroke="#444" stroke-width="0.8"/>
<text x="437.9" y="179.5" text-anchor="end" fill="#222" stroke="#222" stroke-width="0.12" font-size="8" transform="rotate(-45 437.9 176.6)">MGAT4C</text>
<line x1="450.1" y1="170.5" x2="450.1" y2="173.5" stroke="#444" stroke-width="0.8"/>
<text x="452" y="179.5" text-anchor="end" fill="#222" stroke="#222" stroke-width="0.12" font-size="8" transform="rotate(-45 452 176.6)">KALRN</text>
<line x1="464.3" y1="170.5" x2="464.3" y2="173.5" stroke="#444" stroke-width="0.8"/>
<text x="466.2" y="179.5" text-anchor="end" fill="#222" stroke="#222" stroke-width="0.12" font-size="8" transform="rotate(-45 466.2 176.6)">ITGBL1</text>
<line x1="478.5" y1="170.5" x2="478.5" y2="173.5" stroke="#444" stroke-width="0.8"/>
<text x="480.4" y="179.5" text-anchor="end" fill="#222" stroke="#222" stroke-width="0.12" font-size="8" transform="rotate(-45 480.4 176.6)">NAV3</text>
<line x1="492.6" y1="170.5" x2="492.6" y2="173.5" stroke="#444" stroke-width="0.8"/>
<text x="494.5" y="179.5" text-anchor="end" fill="#222" stroke="#222" stroke-width="0.12" font-size="8" transform="rotate(-45 494.5 176.6)">PLCXD3</text>
<line x1="506.8" y1="170.5" x2="506.8" y2="173.5" stroke="#444" stroke-width="0.8"/>
<text x="508.6" y="179.5" text-anchor="end" fill="#222" stroke="#222" stroke-width="0.12" font-size="8" transform="rotate(-45 508.6 176.6)">SERPINA1</text>
<line x1="520.9" y1="170.5" x2="520.9" y2="173.5" stroke="#444" stroke-width="0.8"/>
<text x="522.8" y="179.5" text-anchor="end" fill="#222" stroke="#222" stroke-width="0.12" font-size="8" transform="rotate(-45 522.8 176.6)">LAMC3</text>
<line x1="535" y1="170.5" x2="535" y2="173.5" stroke="#444" stroke-width="0.8"/>
<text x="536.9" y="179.5" text-anchor="end" fill="#222" stroke="#222" stroke-width="0.12" font-size="8" transform="rotate(-45 536.9 176.6)">SERPINA3</text>
<line x1="549.2" y1="170.5" x2="549.2" y2="173.5" stroke="#444" stroke-width="0.8"/>
<text x="551.1" y="179.5" text-anchor="end" fill="#222" stroke="#222" stroke-width="0.12" font-size="8" transform="rotate(-45 551.1 176.6)">SAA1</text>
<line x1="563.4" y1="170.5" x2="563.4" y2="173.5" stroke="#444" stroke-width="0.8"/>
<text x="565.2" y="179.5" text-anchor="end" fill="#222" stroke="#222" stroke-width="0.12" font-size="8" transform="rotate(-45 565.2 176.6)">ORM1</text>
<line x1="577.5" y1="170.5" x2="577.5" y2="173.5" stroke="#444" stroke-width="0.8"/>
<text x="579.4" y="179.5" text-anchor="end" fill="#222" stroke="#222" stroke-width="0.12" font-size="8" transform="rotate(-45 579.4 176.6)">MYH11</text>
<line x1="591.7" y1="170.5" x2="591.7" y2="173.5" stroke="#444" stroke-width="0.8"/>
<text x="593.6" y="179.5" text-anchor="end" fill="#222" stroke="#222" stroke-width="0.12" font-size="8" transform="rotate(-45 593.6 176.6)">RGS6</text>
<line x1="605.8" y1="170.5" x2="605.8" y2="173.5" stroke="#444" stroke-width="0.8"/>
<text x="607.7" y="179.5" text-anchor="end" fill="#222" stroke="#222" stroke-width="0.12" font-size="8" transform="rotate(-45 607.7 176.6)">EBF1</text>
<line x1="620" y1="170.5" x2="620" y2="173.5" stroke="#444" stroke-width="0.8"/>
<text x="621.9" y="179.5" text-anchor="end" fill="#222" stroke="#222" stroke-width="0.12" font-size="8" transform="rotate(-45 621.9 176.6)">SPARCL1</text>
<line x1="634.1" y1="170.5" x2="634.1" y2="173.5" stroke="#444" stroke-width="0.8"/>
<text x="636" y="179.5" text-anchor="end" fill="#222" stroke="#222" stroke-width="0.12" font-size="8" transform="rotate(-45 636 176.6)">NTRK3</text>
<text x="-0.4" y="238.6" font-size="23">C</text>
<line x1="36.4" y1="247" x2="36.4" y2="372.8" stroke="#444" stroke-width="0.8"/>
<line x1="36" y1="372.4" x2="206" y2="372.4" stroke="#444" stroke-width="0.8"/>
<line x1="33.4" y1="269.4" x2="36.4" y2="269.4" stroke="#333" stroke-width="0.8"/>
<text x="31.9" y="271.6" text-anchor="end" fill="#222" stroke="#222" stroke-width="0.12" font-size="6.2">1.50</text>
<line x1="33.4" y1="292.6" x2="36.4" y2="292.6" stroke="#333" stroke-width="0.8"/>
<text x="31.9" y="294.8" text-anchor="end" fill="#222" stroke="#222" stroke-width="0.12" font-size="6.2">1.25</text>
<line x1="33.4" y1="315.8" x2="36.4" y2="315.8" stroke="#333" stroke-width="0.8"/>
<text x="31.9" y="318" text-anchor="end" fill="#222" stroke="#222" stroke-width="0.12" font-size="6.2">1.00</text>
<line x1="33.4" y1="339" x2="36.4" y2="339" stroke="#333" stroke-width="0.8"/>
<text x="31.9" y="341.2" text-anchor="end" fill="#222" stroke="#222" stroke-width="0.12" font-size="6.2">0.75</text>
<line x1="33.4" y1="362.2" x2="36.4" y2="362.2" stroke="#333" stroke-width="0.8"/>
<text x="31.9" y="364.4" text-anchor="end" fill="#222" stroke="#222" stroke-width="0.12" font-size="6.2">0.50</text>
<line x1="57.2" y1="372.4" x2="57.2" y2="375.2" stroke="#999" stroke-width="0.6"/>
<text x="56.8" y="380.7" text-anchor="end" fill="#222" stroke="#222" stroke-width="0.12" font-size="7.6" transform="rotate(-45 56.8 378)">qHSC</text>
<line x1="92.6" y1="372.4" x2="92.6" y2="375.2" stroke="#999" stroke-width="0.6"/>
<text x="92.2" y="380.7" text-anchor="end" fill="#222" stroke="#222" stroke-width="0.12" font-size="7.6" transform="rotate(-45 92.2 378)">inHSC</text>
<line x1="127.8" y1="372.4" x2="127.8" y2="375.2" stroke="#999" stroke-width="0.6"/>
<text x="127.4" y="380.7" text-anchor="end" fill="#222" stroke="#222" stroke-width="0.12" font-size="7.6" transform="rotate(-45 127.4 378)">aHSC</text>
<line x1="162.9" y1="372.4" x2="162.9" y2="375.2" stroke="#999" stroke-width="0.6"/>
<text x="162.5" y="380.7" text-anchor="end" fill="#222" stroke="#222" stroke-width="0.12" font-size="7.6" transform="rotate(-45 162.5 378)">hep−like HSC</text>
<line x1="198.1" y1="372.4" x2="198.1" y2="375.2" stroke="#999" stroke-width="0.6"/>
<text x="197.7" y="380.7" text-anchor="end" fill="#222" stroke="#222" stroke-width="0.12" font-size="7.6" transform="rotate(-45 197.7 378)">SMC</text>
<path d="M57.2 252.3 92.6 311.8 127.8 355 162.9 366.5 198.1 343.7" fill="none" stroke="#4a80b9" stroke-width="0.9" stroke-dasharray="2.5 1.7"/>
<path d="M57.2 326.8 92.6 315.2 127.8 312 162.9 306 198.1 306.4" fill="none" stroke="#c9302c" stroke-width="0.9" stroke-dasharray="2.5 1.7"/>
<circle cx="57.2" cy="252.3" r="2.1" fill="#4a80b9"/>
<circle cx="92.6" cy="311.8" r="2.1" fill="#4a80b9"/>
<circle cx="127.8" cy="355" r="2.1" fill="#4a80b9"/>
<circle cx="162.9" cy="366.5" r="2.1" fill="#4a80b9"/>
<circle cx="198.1" cy="343.7" r="2.1" fill="#4a80b9"/>
<circle cx="57.2" cy="326.8" r="2.1" fill="#c9302c"/>
<circle cx="92.6" cy="315.2" r="2.1" fill="#c9302c"/>
<circle cx="127.8" cy="312" r="2.1" fill="#c9302c"/>
<circle cx="162.9" cy="306" r="2.1" fill="#c9302c"/>
<circle cx="198.1" cy="306.4" r="2.1" fill="#c9302c"/>
<text x="87.4" y="256" fill="#222" stroke="#222" stroke-width="0.12" font-size="6.1">Group</text>
<line x1="107.3" y1="253.8" x2="114.3" y2="253.8" stroke="#4a80b9" stroke-width="0.8" stroke-dasharray="1.5 1"/>
<circle cx="110.8" cy="253.8" r="2.1" fill="#4a80b9"/>
<text x="118.1" y="255.6" fill="#222" stroke="#222" stroke-width="0.12" font-size="4.9">MASLD</text>
<line x1="141.5" y1="253.8" x2="148.5" y2="253.8" stroke="#c9302c" stroke-width="0.8" stroke-dasharray="1.5 1"/>
<circle cx="145" cy="253.8" r="2.1" fill="#c9302c"/>
<text x="152.3" y="255.6" fill="#222" stroke="#222" stroke-width="0.12" font-size="4.9">MASH</text>
<text x="13.8" y="311.8" text-anchor="middle" fill="#222" stroke="#222" stroke-width="0.12" font-size="6.7" transform="rotate(-90 13.8 309.4)">Role</text>
<text x="213.6" y="239.2" font-size="23">D</text>
<line x1="250.6" y1="248.6" x2="250.6" y2="374.8" stroke="#444" stroke-width="0.8"/>
<line x1="250.2" y1="374.4" x2="429.3" y2="374.4" stroke="#444" stroke-width="0.8"/>
<line x1="247.6" y1="264.8" x2="250.6" y2="264.8" stroke="#333" stroke-width="0.8"/>
<text x="246.1" y="267" text-anchor="end" fill="#222" stroke="#222" stroke-width="0.12" font-size="6.2">1.1</text>
<line x1="247.6" y1="287.3" x2="250.6" y2="287.3" stroke="#333" stroke-width="0.8"/>
<text x="246.1" y="289.5" text-anchor="end" fill="#222" stroke="#222" stroke-width="0.12" font-size="6.2">1.0</text>
<line x1="247.6" y1="309.8" x2="250.6" y2="309.8" stroke="#333" stroke-width="0.8"/>
<text x="246.1" y="312" text-anchor="end" fill="#222" stroke="#222" stroke-width="0.12" font-size="6.2">0.9</text>
<line x1="247.6" y1="332.3" x2="250.6" y2="332.3" stroke="#333" stroke-width="0.8"/>
<text x="246.1" y="334.5" text-anchor="end" fill="#222" stroke="#222" stroke-width="0.12" font-size="6.2">0.8</text>
<line x1="247.6" y1="354.8" x2="250.6" y2="354.8" stroke="#333" stroke-width="0.8"/>
<text x="246.1" y="357" text-anchor="end" fill="#222" stroke="#222" stroke-width="0.12" font-size="6.2">0.7</text>
<line x1="271.8" y1="374.4" x2="271.8" y2="377.2" stroke="#999" stroke-width="0.6"/>
<text x="271.4" y="382.7" text-anchor="end" fill="#222" stroke="#222" stroke-width="0.12" font-size="7.6" transform="rotate(-45 271.4 380)">qHSC</text>
<line x1="307.8" y1="374.4" x2="307.8" y2="377.2" stroke="#999" stroke-width="0.6"/>
<text x="307.4" y="382.7" text-anchor="end" fill="#222" stroke="#222" stroke-width="0.12" font-size="7.6" transform="rotate(-45 307.4 380)">inHSC</text>
<line x1="344" y1="374.4" x2="344" y2="377.2" stroke="#999" stroke-width="0.6"/>
<text x="343.6" y="382.7" text-anchor="end" fill="#222" stroke="#222" stroke-width="0.12" font-size="7.6" transform="rotate(-45 343.6 380)">aHSC</text>
<line x1="380" y1="374.4" x2="380" y2="377.2" stroke="#999" stroke-width="0.6"/>
<text x="379.6" y="382.7" text-anchor="end" fill="#222" stroke="#222" stroke-width="0.12" font-size="7.6" transform="rotate(-45 379.6 380)">hep−like HSC</text>
<line x1="415.8" y1="374.4" x2="415.8" y2="377.2" stroke="#999" stroke-width="0.6"/>
<text x="415.4" y="382.7" text-anchor="end" fill="#222" stroke="#222" stroke-width="0.12" font-size="7.6" transform="rotate(-45 415.4 380)">SMC</text>
<path d="M271.8 258 307.8 255 344 319.8 380 368.5 415.8 254" fill="none" stroke="#4a80b9" stroke-width="0.9" stroke-dasharray="2.5 1.7"/>
<path d="M271.8 296 307.8 297 344 276.9 380 262 415.8 297.3" fill="none" stroke="#c9302c" stroke-width="0.9" stroke-dasharray="2.5 1.7"/>
<circle cx="271.8" cy="258" r="2.1" fill="#4a80b9"/>
<circle cx="307.8" cy="255" r="2.1" fill="#4a80b9"/>
<circle cx="344" cy="319.8" r="2.1" fill="#4a80b9"/>
<circle cx="380" cy="368.5" r="2.1" fill="#4a80b9"/>
<circle cx="415.8" cy="254" r="2.1" fill="#4a80b9"/>
<circle cx="271.8" cy="296" r="2.1" fill="#c9302c"/>
<circle cx="307.8" cy="297" r="2.1" fill="#c9302c"/>
<circle cx="344" cy="276.9" r="2.1" fill="#c9302c"/>
<circle cx="380" cy="262" r="2.1" fill="#c9302c"/>
<circle cx="415.8" cy="297.3" r="2.1" fill="#c9302c"/>
<text x="310.5" y="253" fill="#222" stroke="#222" stroke-width="0.12" font-size="6.1">Group</text>
<line x1="334.7" y1="250.8" x2="341.7" y2="250.8" stroke="#4a80b9" stroke-width="0.8" stroke-dasharray="1.5 1"/>
<circle cx="338.2" cy="250.8" r="2.1" fill="#4a80b9"/>
<text x="345.5" y="252.6" fill="#222" font-style="italic" font-size="4.9">eMASH</text>
<line x1="368.5" y1="250.8" x2="375.5" y2="250.8" stroke="#c9302c" stroke-width="0.8" stroke-dasharray="1.5 1"/>
<circle cx="372" cy="250.8" r="2.1" fill="#c9302c"/>
<text x="379.3" y="252.6" fill="#222" font-style="italic" font-size="4.9">aMASH</text>
<text x="232.8" y="313.2" text-anchor="middle" fill="#222" stroke="#222" stroke-width="0.12" font-size="6.7" transform="rotate(-90 232.8 310.8)">Role</text>
<text x="-0.8" y="454" font-size="23">E</text>
<text x="105.8" y="459" text-anchor="middle" fill="#111" stroke="#111" stroke-width="0.12" font-size="7.9">DEG: MASH vs MASLD</text>
<circle cx="49.7" cy="467.2" r="2.6" fill="#4a7fb5"/>
<text x="53.7" y="470" fill="#111" stroke="#111" stroke-width="0.12" font-size="7.8">down(103)</text>
<circle cx="99" cy="467.2" r="2.6" fill="#bdbdbd"/>
<text x="103.4" y="470" fill="#111" stroke="#111" stroke-width="0.12" font-size="7.8">ns</text>
<circle cx="127.6" cy="467.2" r="2.6" fill="#b82a2e"/>
<text x="132" y="470" fill="#111" stroke="#111" stroke-width="0.12" font-size="7.8">up(215)</text>
<line x1="35" y1="473.5" x2="35" y2="613.5" stroke="#888" stroke-width="1.4"/>
<line x1="34.3" y1="612.5" x2="190" y2="612.5" stroke="#333" stroke-width="0.9"/>
<line x1="32.5" y1="606.8" x2="35" y2="606.8" stroke="#555" stroke-width="0.7"/>
<text x="31.5" y="608.9" text-anchor="end" fill="#333" stroke="#333" stroke-width="0.12" font-size="5.8">0</text>
<line x1="32.5" y1="574.2" x2="35" y2="574.2" stroke="#555" stroke-width="0.7"/>
<text x="31.5" y="576.3" text-anchor="end" fill="#333" stroke="#333" stroke-width="0.12" font-size="5.8">50</text>
<line x1="32.5" y1="541.6" x2="35" y2="541.6" stroke="#555" stroke-width="0.7"/>
<text x="31.5" y="543.7" text-anchor="end" fill="#333" stroke="#333" stroke-width="0.12" font-size="5.8">100</text>
<line x1="32.5" y1="509" x2="35" y2="509" stroke="#555" stroke-width="0.7"/>
<text x="31.5" y="511.1" text-anchor="end" fill="#333" stroke="#333" stroke-width="0.12" font-size="5.8">150</text>
<line x1="32.5" y1="476.4" x2="35" y2="476.4" stroke="#555" stroke-width="0.7"/>
<text x="31.5" y="478.5" text-anchor="end" fill="#333" stroke="#333" stroke-width="0.12" font-size="5.8">200</text>
<line x1="37" y1="613" x2="37" y2="615.5" stroke="#555" stroke-width="0.7"/>
<text x="37" y="621.7" text-anchor="middle" fill="#333" stroke="#333" stroke-width="0.12" font-size="6.2">−2</text>
<line x1="80" y1="613" x2="80" y2="615.5" stroke="#555" stroke-width="0.7"/>
<text x="80" y="621.7" text-anchor="middle" fill="#333" stroke="#333" stroke-width="0.12" font-size="6.2">0</text>
<line x1="123" y1="613" x2="123" y2="615.5" stroke="#555" stroke-width="0.7"/>
<text x="123" y="621.7" text-anchor="middle" fill="#333" stroke="#333" stroke-width="0.12" font-size="6.2">2</text>
<line x1="166" y1="613" x2="166" y2="615.5" stroke="#555" stroke-width="0.7"/>
<text x="166" y="621.7" text-anchor="middle" fill="#333" stroke="#333" stroke-width="0.12" font-size="6.2">4</text>
<line x1="67.3" y1="473.5" x2="67.3" y2="613" stroke="#aaa" stroke-width="0.6" stroke-dasharray="1.6 1.6"/>
<line x1="92.6" y1="473.5" x2="92.6" y2="613" stroke="#aaa" stroke-width="0.6" stroke-dasharray="1.6 1.6"/>
<line x1="36" y1="605.9" x2="188" y2="605.9" stroke="#aaa" stroke-width="0.6" stroke-dasharray="1.6 1.6"/>
<text x="112.5" y="629.2" text-anchor="middle" font-size="7.4" fill="#111" stroke="#111" stroke-width="0.12">Log<tspan font-size="5" dy="1.6">2</tspan><tspan dy="-1.6">FoldChange</tspan></text>
<text transform="translate(17.9 539.5) rotate(-90)" text-anchor="middle" font-size="7.8" fill="#111" stroke="#111" stroke-width="0.12">Log<tspan font-size="5.3" dy="1.7">10</tspan><tspan dy="-1.7" font-style="italic">P.adj</tspan></text>
<path d="M68 563C68.7 560.2 70.8 561.5 71.5 563.5C72.2 565.5 71.7 571.2 72.2 575C72.7 578.8 73.4 582.2 74.5 586C75.6 589.8 77.8 594.8 79 598C80.2 601.2 80.7 603.9 81.5 605C82.3 606.1 83.1 605.8 84 604.5C84.9 603.2 86 599 87 597C88 595 89.1 593.5 90 592.5C90.9 591.5 92.2 588.5 92.6 591C93 593.5 96.4 604.7 92.6 607.5C88.8 610.3 74.2 610.1 70 608C65.8 605.9 67.8 599.7 67.3 595C66.8 590.3 67.1 585.3 67.2 580C67.3 574.7 67.3 565.8 68 563Z" fill="#bdbdbd" fill-opacity="0.85"/>
<path fill="#bdbdbd" d="M67.7 583.3h1.5v1.5h-1.5zM77.5 599.8h1.5v1.5h-1.5zM82.1 605.2h1.5v1.5h-1.5zM68.8 564.6h1.5v1.5h-1.5zM69.8 586.3h1.5v1.5h-1.5zM73.4 587.3h1.5v1.5h-1.5zM70.5 586.3h1.5v1.5h-1.5zM77.5 596.6h1.5v1.5h-1.5zM87.6 605.6h1.5v1.5h-1.5zM65.4 591h1.5v1.5h-1.5zM71.2 563.7h1.5v1.5h-1.5zM67.6 570.9h1.5v1.5h-1.5zM65.9 579.7h1.5v1.5h-1.5zM88 602.1h1.5v1.5h-1.5zM75.7 602.2h1.5v1.5h-1.5zM70.3 570h1.5v1.5h-1.5zM91.4 596h1.5v1.5h-1.5zM68.4 589.7h1.5v1.5h-1.5zM69.7 576.1h1.5v1.5h-1.5zM67.3 563h1.5v1.5h-1.5zM89.4 593.5h1.5v1.5h-1.5zM68.6 596.3h1.5v1.5h-1.5zM89.7 597.2h1.5v1.5h-1.5zM71.5 583.8h1.5v1.5h-1.5zM73.3 592.3h1.5v1.5h-1.5zM69.5 566.5h1.5v1.5h-1.5zM68.8 590.2h1.5v1.5h-1.5zM69.5 598.7h1.5v1.5h-1.5zM76.4 605.1h1.5v1.5h-1.5zM70 564.1h1.5v1.5h-1.5zM70.5 599.3h1.5v1.5h-1.5zM78.5 605.5h1.5v1.5h-1.5zM71.9 588h1.5v1.5h-1.5zM68.4 604.4h1.5v1.5h-1.5zM76 604h1.5v1.5h-1.5zM69.9 580.4h1.5v1.5h-1.5zM68.2 586.5h1.5v1.5h-1.5zM78.1 603.7h1.5v1.5h-1.5zM81.1 605h1.5v1.5h-1.5zM69.2 580.1h1.5v1.5h-1.5zM67.7 589.7h1.5v1.5h-1.5zM69.3 593.4h1.5v1.5h-1.5zM90.3 608.5h1.5v1.5h-1.5zM69 579.2h1.5v1.5h-1.5zM70.7 573.3h1.5v1.5h-1.5zM87.8 607.2h1.5v1.5h-1.5zM77.3 603.2h1.5v1.5h-1.5zM68.3 603.6h1.5v1.5h-1.5zM80.7 604.9h1.5v1.5h-1.5zM68.8 565.7h1.5v1.5h-1.5zM70.9 581.3h1.5v1.5h-1.5zM78.4 600.4h1.5v1.5h-1.5zM74.5 598.6h1.5v1.5h-1.5zM67.2 595.5h1.5v1.5h-1.5zM69.5 582h1.5v1.5h-1.5zM71.8 607.2h1.5v1.5h-1.5zM71.5 583h1.5v1.5h-1.5zM67.9 577.7h1.5v1.5h-1.5zM84.8 602.5h1.5v1.5h-1.5zM86.4 599.4h1.5v1.5h-1.5zM86.3 598.5h1.5v1.5h-1.5zM70.2 576.6h1.5v1.5h-1.5zM86.6 595.4h1.5v1.5h-1.5zM67.3 570.3h1.5v1.5h-1.5zM69.3 569.5h1.5v1.5h-1.5zM66.4 569.9h1.5v1.5h-1.5zM87.6 606.8h1.5v1.5h-1.5zM71.4 606.5h1.5v1.5h-1.5zM69.6 583.9h1.5v1.5h-1.5zM90.3 594.8h1.5v1.5h-1.5zM68.6 576.2h1.5v1.5h-1.5zM91.7 593.2h1.5v1.5h-1.5zM67.7 601.6h1.5v1.5h-1.5zM76.8 605h1.5v1.5h-1.5zM83.9 603.5h1.5v1.5h-1.5zM74.2 594.8h1.5v1.5h-1.5zM70.4 567.2h1.5v1.5h-1.5zM67.4 571.3h1.5v1.5h-1.5zM76.9 603.1h1.5v1.5h-1.5zM67.1 565h1.5v1.5h-1.5zM90.8 593h1.5v1.5h-1.5zM71.3 603.6h1.5v1.5h-1.5zM68 569.2h1.5v1.5h-1.5zM84 604.6h1.5v1.5h-1.5zM87 594.9h1.5v1.5h-1.5zM70.9 597.9h1.5v1.5h-1.5zM70.5 576.8h1.5v1.5h-1.5zM69.8 579.4h1.5v1.5h-1.5zM68.3 576.3h1.5v1.5h-1.5zM70.4 604.8h1.5v1.5h-1.5zM75.6 598.4h1.5v1.5h-1.5zM65.4 582.7h1.5v1.5h-1.5zM70.8 575.7h1.5v1.5h-1.5zM76.8 598.4h1.5v1.5h-1.5zM85.8 603.6h1.5v1.5h-1.5zM72.3 594.4h1.5v1.5h-1.5zM73.7 581h1.5v1.5h-1.5zM88.3 593.7h1.5v1.5h-1.5zM70.8 595.9h1.5v1.5h-1.5zM67.7 581.8h1.5v1.5h-1.5zM70.9 577.7h1.5v1.5h-1.5zM86 600.1h1.5v1.5h-1.5zM68.9 602h1.5v1.5h-1.5zM79.5 597.5h1.5v1.5h-1.5zM69.6 566.7h1.5v1.5h-1.5zM72.9 596.8h1.5v1.5h-1.5zM71.7 576.5h1.5v1.5h-1.5zM72.1 587.4h1.5v1.5h-1.5zM69.3 593.1h1.5v1.5h-1.5zM73.5 606.8h1.5v1.5h-1.5zM75.7 600h1.5v1.5h-1.5zM67.1 589.7h1.5v1.5h-1.5zM67.5 571.5h1.5v1.5h-1.5zM69 580.3h1.5v1.5h-1.5zM72.8 562.9h1.5v1.5h-1.5zM76.8 600h1.5v1.5h-1.5zM70.6 577.5h1.5v1.5h-1.5zM68.4 568.2h1.5v1.5h-1.5zM86.1 597.2h1.5v1.5h-1.5zM69.6 579.7h1.5v1.5h-1.5zM86.5 600.9h1.5v1.5h-1.5zM79.4 605.8h1.5v1.5h-1.5zM88 605h1.5v1.5h-1.5zM79.5 604.8h1.5v1.5h-1.5zM69 603.5h1.5v1.5h-1.5zM70.7 597.9h1.5v1.5h-1.5zM74.9 596.4h1.5v1.5h-1.5zM80 603.3h1.5v1.5h-1.5zM68.4 576.5h1.5v1.5h-1.5zM69 605.5h1.5v1.5h-1.5zM68.9 588.8h1.5v1.5h-1.5zM91.5 596.4h1.5v1.5h-1.5zM69.7 588.2h1.5v1.5h-1.5zM74.1 594h1.5v1.5h-1.5zM73.2 589.9h1.5v1.5h-1.5zM86.1 604.7h1.5v1.5h-1.5zM71.1 602.6h1.5v1.5h-1.5zM77.9 598.6h1.5v1.5h-1.5zM72.7 589.8h1.5v1.5h-1.5zM66.1 588.5h1.5v1.5h-1.5zM89.7 603.4h1.5v1.5h-1.5zM91.3 605.7h1.5v1.5h-1.5zM88 597.5h1.5v1.5h-1.5zM72.7 594.3h1.5v1.5h-1.5zM76.8 597.7h1.5v1.5h-1.5zM69.6 583.7h1.5v1.5h-1.5zM72.4 605.9h1.5v1.5h-1.5zM69.6 590.4h1.5v1.5h-1.5zM71.8 570.1h1.5v1.5h-1.5zM76 603.2h1.5v1.5h-1.5zM68.9 599.1h1.5v1.5h-1.5zM70.2 578.6h1.5v1.5h-1.5zM69.2 580.4h1.5v1.5h-1.5zM70.2 571.2h1.5v1.5h-1.5zM69.6 565.9h1.5v1.5h-1.5zM69.5 576.7h1.5v1.5h-1.5zM71.2 590.1h1.5v1.5h-1.5zM76.1 596.7h1.5v1.5h-1.5zM68.1 588.8h1.5v1.5h-1.5zM85.7 600.9h1.5v1.5h-1.5z"/>
<circle cx="46.7" cy="478.9" r="0.95" fill="#4a7fb5"/>
<circle cx="50.2" cy="485.8" r="0.95" fill="#4a7fb5"/>
<circle cx="53" cy="500.4" r="0.95" fill="#4a7fb5"/>
<circle cx="46.7" cy="508.5" r="0.95" fill="#4a7fb5"/>
<circle cx="56.5" cy="511.1" r="0.95" fill="#4a7fb5"/>
<circle cx="47.7" cy="515" r="0.95" fill="#4a7fb5"/>
<circle cx="50.6" cy="517.9" r="0.95" fill="#4a7fb5"/>
<circle cx="58.4" cy="522.7" r="0.95" fill="#4a7fb5"/>
<circle cx="56.5" cy="525.7" r="0.95" fill="#4a7fb5"/>
<circle cx="59.4" cy="528.6" r="0.95" fill="#4a7fb5"/>
<circle cx="57.6" cy="533.1" r="0.95" fill="#4a7fb5"/>
<circle cx="60" cy="537.4" r="0.95" fill="#4a7fb5"/>
<circle cx="61.9" cy="540.3" r="0.95" fill="#4a7fb5"/>
<circle cx="55.5" cy="505.5" r="0.95" fill="#4a7fb5"/>
<circle cx="52.5" cy="520.5" r="0.95" fill="#4a7fb5"/>
<circle cx="58.5" cy="544" r="0.95" fill="#4a7fb5"/>
<circle cx="61" cy="547" r="0.95" fill="#4a7fb5"/>
<circle cx="63.3" cy="584" r="0.95" fill="#4a7fb5"/>
<circle cx="62.3" cy="590" r="0.95" fill="#4a7fb5"/>
<circle cx="66.2" cy="595.8" r="0.95" fill="#4a7fb5"/>
<circle cx="62.3" cy="601.6" r="0.95" fill="#4a7fb5"/>
<circle cx="64.5" cy="578" r="0.95" fill="#4a7fb5"/>
<circle cx="60.5" cy="546.5" r="0.95" fill="#4a7fb5"/>
<circle cx="57" cy="531" r="0.95" fill="#4a7fb5"/>
<circle cx="66.2" cy="570.5" r="0.95" fill="#4a7fb5"/>
<circle cx="63.7" cy="561.7" r="0.95" fill="#4a7fb5"/>
<circle cx="65.4" cy="571.8" r="0.95" fill="#4a7fb5"/>
<circle cx="63.6" cy="553.8" r="0.95" fill="#4a7fb5"/>
<circle cx="61.1" cy="561.8" r="0.95" fill="#4a7fb5"/>
<circle cx="63.5" cy="560" r="0.95" fill="#4a7fb5"/>
<circle cx="64.1" cy="580.3" r="0.95" fill="#4a7fb5"/>
<circle cx="65.3" cy="559.2" r="0.95" fill="#4a7fb5"/>
<circle cx="62.5" cy="572" r="0.95" fill="#4a7fb5"/>
<circle cx="62.1" cy="568.9" r="0.95" fill="#4a7fb5"/>
<circle cx="65.9" cy="564.3" r="0.95" fill="#4a7fb5"/>
<circle cx="60.3" cy="546.2" r="0.95" fill="#4a7fb5"/>
<circle cx="59.3" cy="559.6" r="0.95" fill="#4a7fb5"/>
<circle cx="61" cy="571.2" r="0.95" fill="#4a7fb5"/>
<circle cx="60.2" cy="554.3" r="0.95" fill="#4a7fb5"/>
<circle cx="60.7" cy="552.3" r="0.95" fill="#4a7fb5"/>
<circle cx="65.7" cy="568.7" r="0.95" fill="#4a7fb5"/>
<circle cx="61.6" cy="565.9" r="0.95" fill="#4a7fb5"/>
<circle cx="65.8" cy="575.8" r="0.95" fill="#4a7fb5"/>
<circle cx="61.6" cy="555.5" r="0.95" fill="#4a7fb5"/>
<circle cx="62.6" cy="548.9" r="0.95" fill="#4a7fb5"/>
<circle cx="60.5" cy="553.9" r="0.95" fill="#4a7fb5"/>
<circle cx="61.1" cy="551.2" r="0.95" fill="#4a7fb5"/>
<circle cx="59.4" cy="553.6" r="0.95" fill="#4a7fb5"/>
<circle cx="59.6" cy="562.7" r="0.95" fill="#4a7fb5"/>
<circle cx="61.1" cy="568.9" r="0.95" fill="#4a7fb5"/>
<circle cx="63.9" cy="558.1" r="0.95" fill="#4a7fb5"/>
<circle cx="67.1" cy="577.3" r="0.95" fill="#4a7fb5"/>
<circle cx="66.9" cy="574.6" r="0.95" fill="#4a7fb5"/>
<circle cx="63.9" cy="553.8" r="0.95" fill="#4a7fb5"/>
<circle cx="57.2" cy="549.6" r="0.95" fill="#4a7fb5"/>
<circle cx="60.2" cy="550" r="0.95" fill="#4a7fb5"/>
<circle cx="66.8" cy="574.9" r="0.95" fill="#4a7fb5"/>
<circle cx="63.3" cy="574.5" r="0.95" fill="#4a7fb5"/>
<circle cx="64" cy="578.9" r="0.95" fill="#4a7fb5"/>
<circle cx="65.5" cy="576.7" r="0.95" fill="#4a7fb5"/>
<circle cx="62.4" cy="572.9" r="0.95" fill="#4a7fb5"/>
<circle cx="62.7" cy="554.3" r="0.95" fill="#4a7fb5"/>
<circle cx="58.8" cy="549.4" r="0.95" fill="#4a7fb5"/>
<circle cx="61.9" cy="546.3" r="0.95" fill="#4a7fb5"/>
<circle cx="61.6" cy="549.6" r="0.95" fill="#4a7fb5"/>
<circle cx="61.9" cy="563.4" r="0.95" fill="#4a7fb5"/>
<circle cx="61.6" cy="565.9" r="0.95" fill="#4a7fb5"/>
<circle cx="64" cy="576.8" r="0.95" fill="#4a7fb5"/>
<circle cx="60.5" cy="560.3" r="0.95" fill="#4a7fb5"/>
<circle cx="63.6" cy="568.8" r="0.95" fill="#4a7fb5"/>
<circle cx="64.2" cy="580.3" r="0.95" fill="#4a7fb5"/>
<circle cx="62.1" cy="562.9" r="0.95" fill="#4a7fb5"/>
<circle cx="64.6" cy="568.4" r="0.95" fill="#4a7fb5"/>
<circle cx="60.4" cy="562.5" r="0.95" fill="#4a7fb5"/>
<circle cx="62.3" cy="574.1" r="0.95" fill="#4a7fb5"/>
<circle cx="58.5" cy="561" r="0.95" fill="#4a7fb5"/>
<circle cx="61.1" cy="565.6" r="0.95" fill="#4a7fb5"/>
<circle cx="62" cy="554.6" r="0.95" fill="#4a7fb5"/>
<circle cx="63.9" cy="574.9" r="0.95" fill="#4a7fb5"/>
<circle cx="60" cy="556.4" r="0.95" fill="#4a7fb5"/>
<circle cx="63.6" cy="574.6" r="0.95" fill="#4a7fb5"/>
<circle cx="66.6" cy="565.3" r="0.95" fill="#4a7fb5"/>
<circle cx="67.1" cy="567.7" r="0.95" fill="#4a7fb5"/>
<circle cx="63.9" cy="574.8" r="0.95" fill="#4a7fb5"/>
<circle cx="66.9" cy="567.9" r="0.95" fill="#4a7fb5"/>
<circle cx="63.4" cy="568.4" r="0.95" fill="#4a7fb5"/>
<circle cx="64.4" cy="567.3" r="0.95" fill="#4a7fb5"/>
<circle cx="64" cy="561.9" r="0.95" fill="#4a7fb5"/>
<circle cx="65.3" cy="579.6" r="0.95" fill="#4a7fb5"/>
<circle cx="63.9" cy="558.4" r="0.95" fill="#4a7fb5"/>
<circle cx="65.9" cy="574.7" r="0.95" fill="#4a7fb5"/>
<circle cx="62.7" cy="554.1" r="0.95" fill="#4a7fb5"/>
<circle cx="59.6" cy="560.4" r="0.95" fill="#4a7fb5"/>
<circle cx="59.8" cy="560.8" r="0.95" fill="#4a7fb5"/>
<circle cx="65.7" cy="566.4" r="0.95" fill="#4a7fb5"/>
<circle cx="60.9" cy="548" r="0.95" fill="#4a7fb5"/>
<circle cx="63.7" cy="552.3" r="0.95" fill="#4a7fb5"/>
<circle cx="64.6" cy="577.4" r="0.95" fill="#4a7fb5"/>
<circle cx="63.5" cy="571.7" r="0.95" fill="#4a7fb5"/>
<circle cx="61.8" cy="546.3" r="0.95" fill="#4a7fb5"/>
<circle cx="60.4" cy="566.4" r="0.95" fill="#4a7fb5"/>
<circle cx="61.3" cy="570.4" r="0.95" fill="#4a7fb5"/>
<circle cx="63.6" cy="560.3" r="0.95" fill="#4a7fb5"/>
<circle cx="62.8" cy="555.4" r="0.95" fill="#4a7fb5"/>
<circle cx="64.4" cy="576.3" r="0.95" fill="#4a7fb5"/>
<circle cx="63.2" cy="556" r="0.95" fill="#4a7fb5"/>
<circle cx="61.1" cy="566.9" r="0.95" fill="#4a7fb5"/>
<circle cx="65.8" cy="578.6" r="0.95" fill="#4a7fb5"/>
<circle cx="65.7" cy="577.8" r="0.95" fill="#4a7fb5"/>
<circle cx="62.9" cy="554.7" r="0.95" fill="#4a7fb5"/>
<circle cx="66.2" cy="575.5" r="0.95" fill="#4a7fb5"/>
<circle cx="64.2" cy="579.6" r="0.95" fill="#4a7fb5"/>
<circle cx="60.2" cy="547.3" r="0.95" fill="#4a7fb5"/>
<circle cx="62.6" cy="575.1" r="0.95" fill="#4a7fb5"/>
<circle cx="63.3" cy="570.4" r="0.95" fill="#4a7fb5"/>
<circle cx="61.6" cy="552.1" r="0.95" fill="#4a7fb5"/>
<circle cx="65.5" cy="561.9" r="0.95" fill="#4a7fb5"/>
<circle cx="61.7" cy="567" r="0.95" fill="#4a7fb5"/>
<circle cx="58.3" cy="551.5" r="0.95" fill="#4a7fb5"/>
<circle cx="60.4" cy="566" r="0.95" fill="#4a7fb5"/>
<circle cx="60.8" cy="564.2" r="0.95" fill="#4a7fb5"/>
<circle cx="63.2" cy="557.5" r="0.95" fill="#4a7fb5"/>
<circle cx="62.8" cy="554.2" r="0.95" fill="#4a7fb5"/>
<circle cx="65.4" cy="560.6" r="0.95" fill="#4a7fb5"/>
<circle cx="58.4" cy="551" r="0.95" fill="#4a7fb5"/>
<circle cx="112" cy="534.1" r="0.95" fill="#b82a2e"/>
<circle cx="127.1" cy="534.1" r="0.95" fill="#b82a2e"/>
<circle cx="134.8" cy="535" r="0.95" fill="#b82a2e"/>
<circle cx="103.1" cy="543.8" r="0.95" fill="#b82a2e"/>
<circle cx="97.5" cy="553.7" r="0.95" fill="#b82a2e"/>
<circle cx="103.1" cy="556.6" r="0.95" fill="#b82a2e"/>
<circle cx="109.1" cy="557.7" r="0.95" fill="#b82a2e"/>
<circle cx="119.4" cy="555" r="0.95" fill="#b82a2e"/>
<circle cx="131.9" cy="552.6" r="0.95" fill="#b82a2e"/>
<circle cx="140.9" cy="556.6" r="0.95" fill="#b82a2e"/>
<circle cx="146.5" cy="558.5" r="0.95" fill="#b82a2e"/>
<circle cx="153.4" cy="553.4" r="0.95" fill="#b82a2e"/>
<circle cx="156.6" cy="558.5" r="0.95" fill="#b82a2e"/>
<circle cx="162.9" cy="553.2" r="0.95" fill="#b82a2e"/>
<circle cx="183.3" cy="549.2" r="0.95" fill="#b82a2e"/>
<circle cx="127.2" cy="564.3" r="0.95" fill="#b82a2e"/>
<circle cx="142.8" cy="566.9" r="0.95" fill="#b82a2e"/>
<circle cx="149.7" cy="575.9" r="0.95" fill="#b82a2e"/>
<circle cx="132.4" cy="580.4" r="0.95" fill="#b82a2e"/>
<circle cx="123.9" cy="585.5" r="0.95" fill="#b82a2e"/>
<circle cx="125.6" cy="592" r="0.95" fill="#b82a2e"/>
<circle cx="117.1" cy="566.6" r="0.95" fill="#b82a2e"/>
<circle cx="116.5" cy="571.1" r="0.95" fill="#b82a2e"/>
<circle cx="117.9" cy="575.4" r="0.95" fill="#b82a2e"/>
<circle cx="116.8" cy="589.1" r="0.95" fill="#b82a2e"/>
<circle cx="111.5" cy="589.4" r="0.95" fill="#b82a2e"/>
<circle cx="112.6" cy="584.2" r="0.95" fill="#b82a2e"/>
<circle cx="108.5" cy="559.5" r="0.95" fill="#b82a2e"/>
<circle cx="107.5" cy="576" r="0.95" fill="#b82a2e"/>
<circle cx="110" cy="580" r="0.95" fill="#b82a2e"/>
<circle cx="113.5" cy="586" r="0.95" fill="#b82a2e"/>
<circle cx="106" cy="571" r="0.95" fill="#b82a2e"/>
<circle cx="109.5" cy="583.5" r="0.95" fill="#b82a2e"/>
<circle cx="104.3" cy="565.8" r="0.95" fill="#b82a2e"/>
<circle cx="101.5" cy="568" r="0.95" fill="#b82a2e"/>
<circle cx="96.6" cy="589.1" r="0.95" fill="#b82a2e"/>
<circle cx="99.1" cy="584.4" r="0.95" fill="#b82a2e"/>
<circle cx="92.8" cy="598.2" r="0.95" fill="#b82a2e"/>
<circle cx="105.6" cy="570.3" r="0.95" fill="#b82a2e"/>
<circle cx="100.7" cy="572.9" r="0.95" fill="#b82a2e"/>
<circle cx="94.6" cy="593.8" r="0.95" fill="#b82a2e"/>
<circle cx="104.9" cy="574" r="0.95" fill="#b82a2e"/>
<circle cx="94.5" cy="584.3" r="0.95" fill="#b82a2e"/>
<circle cx="103.3" cy="584.5" r="0.95" fill="#b82a2e"/>
<circle cx="103.3" cy="571.9" r="0.95" fill="#b82a2e"/>
<circle cx="93" cy="595.3" r="0.95" fill="#b82a2e"/>
<circle cx="94.6" cy="601.7" r="0.95" fill="#b82a2e"/>
<circle cx="99.4" cy="572.4" r="0.95" fill="#b82a2e"/>
<circle cx="107.1" cy="579.7" r="0.95" fill="#b82a2e"/>
<circle cx="94.1" cy="606.1" r="0.95" fill="#b82a2e"/>
<circle cx="95.8" cy="585.6" r="0.95" fill="#b82a2e"/>
<circle cx="96.6" cy="574.3" r="0.95" fill="#b82a2e"/>
<circle cx="108.7" cy="570" r="0.95" fill="#b82a2e"/>
<circle cx="98.1" cy="571.7" r="0.95" fill="#b82a2e"/>
<circle cx="95.9" cy="589.4" r="0.95" fill="#b82a2e"/>
<circle cx="95.2" cy="597.6" r="0.95" fill="#b82a2e"/>
<circle cx="93.6" cy="591" r="0.95" fill="#b82a2e"/>
<circle cx="102.5" cy="574.3" r="0.95" fill="#b82a2e"/>
<circle cx="93" cy="599.2" r="0.95" fill="#b82a2e"/>
<circle cx="107.7" cy="576.9" r="0.95" fill="#b82a2e"/>
<circle cx="107" cy="581.1" r="0.95" fill="#b82a2e"/>
<circle cx="98.7" cy="590.4" r="0.95" fill="#b82a2e"/>
<circle cx="101.4" cy="584.3" r="0.95" fill="#b82a2e"/>
<circle cx="98.9" cy="596.8" r="0.95" fill="#b82a2e"/>
<circle cx="100.9" cy="587" r="0.95" fill="#b82a2e"/>
<circle cx="96.5" cy="599.5" r="0.95" fill="#b82a2e"/>
<circle cx="93.7" cy="594.7" r="0.95" fill="#b82a2e"/>
<circle cx="93.9" cy="601.7" r="0.95" fill="#b82a2e"/>
<circle cx="100.9" cy="586.5" r="0.95" fill="#b82a2e"/>
<circle cx="94.2" cy="582.6" r="0.95" fill="#b82a2e"/>
<circle cx="106" cy="579.9" r="0.95" fill="#b82a2e"/>
<circle cx="98.6" cy="587.8" r="0.95" fill="#b82a2e"/>
<circle cx="99.8" cy="586.7" r="0.95" fill="#b82a2e"/>
<circle cx="94.5" cy="605.8" r="0.95" fill="#b82a2e"/>
<circle cx="99.8" cy="605" r="0.95" fill="#b82a2e"/>
<circle cx="97.5" cy="592.5" r="0.95" fill="#b82a2e"/>
<circle cx="101.2" cy="577" r="0.95" fill="#b82a2e"/>
<circle cx="101.6" cy="572.1" r="0.95" fill="#b82a2e"/>
<circle cx="99.3" cy="577.8" r="0.95" fill="#b82a2e"/>
<circle cx="103" cy="589.4" r="0.95" fill="#b82a2e"/>
<circle cx="95.6" cy="595.1" r="0.95" fill="#b82a2e"/>
<circle cx="101.9" cy="591.1" r="0.95" fill="#b82a2e"/>
<circle cx="97.6" cy="575.9" r="0.95" fill="#b82a2e"/>
<circle cx="101.2" cy="581.7" r="0.95" fill="#b82a2e"/>
<circle cx="97.3" cy="597.7" r="0.95" fill="#b82a2e"/>
<circle cx="93.2" cy="601.7" r="0.95" fill="#b82a2e"/>
<circle cx="99.9" cy="596.2" r="0.95" fill="#b82a2e"/>
<circle cx="96.1" cy="605.3" r="0.95" fill="#b82a2e"/>
<circle cx="94.8" cy="579.8" r="0.95" fill="#b82a2e"/>
<circle cx="94.3" cy="601.7" r="0.95" fill="#b82a2e"/>
<circle cx="98.8" cy="584.5" r="0.95" fill="#b82a2e"/>
<circle cx="105" cy="578" r="0.95" fill="#b82a2e"/>
<circle cx="102" cy="581.8" r="0.95" fill="#b82a2e"/>
<circle cx="101" cy="584.2" r="0.95" fill="#b82a2e"/>
<circle cx="97.8" cy="600.6" r="0.95" fill="#b82a2e"/>
<circle cx="99.7" cy="603.3" r="0.95" fill="#b82a2e"/>
<circle cx="101.3" cy="594.1" r="0.95" fill="#b82a2e"/>
<circle cx="98.4" cy="590.4" r="0.95" fill="#b82a2e"/>
<circle cx="101.5" cy="570.1" r="0.95" fill="#b82a2e"/>
<circle cx="99.2" cy="589" r="0.95" fill="#b82a2e"/>
<circle cx="100.8" cy="584" r="0.95" fill="#b82a2e"/>
<circle cx="101.5" cy="599.5" r="0.95" fill="#b82a2e"/>
<circle cx="97.7" cy="606.1" r="0.95" fill="#b82a2e"/>
<circle cx="99.6" cy="572.4" r="0.95" fill="#b82a2e"/>
<circle cx="101.2" cy="586.7" r="0.95" fill="#b82a2e"/>
<circle cx="95.3" cy="591.8" r="0.95" fill="#b82a2e"/>
<circle cx="102.3" cy="582.9" r="0.95" fill="#b82a2e"/>
<circle cx="94.8" cy="597.1" r="0.95" fill="#b82a2e"/>
<circle cx="101.4" cy="599.7" r="0.95" fill="#b82a2e"/>
<circle cx="106.5" cy="568.5" r="0.95" fill="#b82a2e"/>
<circle cx="98.4" cy="572.9" r="0.95" fill="#b82a2e"/>
<circle cx="93.8" cy="603.1" r="0.95" fill="#b82a2e"/>
<circle cx="98.3" cy="584.4" r="0.95" fill="#b82a2e"/>
<circle cx="93" cy="602.5" r="0.95" fill="#b82a2e"/>
<circle cx="103.2" cy="576.2" r="0.95" fill="#b82a2e"/>
<circle cx="97.7" cy="602.9" r="0.95" fill="#b82a2e"/>
<circle cx="100.7" cy="598.5" r="0.95" fill="#b82a2e"/>
<circle cx="95.1" cy="580.7" r="0.95" fill="#b82a2e"/>
<circle cx="98.9" cy="582.5" r="0.95" fill="#b82a2e"/>
<circle cx="94.2" cy="599.9" r="0.95" fill="#b82a2e"/>
<circle cx="97.1" cy="575.7" r="0.95" fill="#b82a2e"/>
<circle cx="104" cy="580" r="0.95" fill="#b82a2e"/>
<circle cx="104.7" cy="569.8" r="0.95" fill="#b82a2e"/>
<circle cx="98.8" cy="605.3" r="0.95" fill="#b82a2e"/>
<circle cx="96.1" cy="584.6" r="0.95" fill="#b82a2e"/>
<circle cx="102.6" cy="581.1" r="0.95" fill="#b82a2e"/>
<circle cx="94.2" cy="587" r="0.95" fill="#b82a2e"/>
<circle cx="96.9" cy="597.6" r="0.95" fill="#b82a2e"/>
<circle cx="103.8" cy="589.3" r="0.95" fill="#b82a2e"/>
<circle cx="99" cy="569.5" r="0.95" fill="#b82a2e"/>
<circle cx="94" cy="589" r="0.95" fill="#b82a2e"/>
<circle cx="101" cy="578.2" r="0.95" fill="#b82a2e"/>
<circle cx="97.6" cy="575.3" r="0.95" fill="#b82a2e"/>
<circle cx="104.9" cy="577.6" r="0.95" fill="#b82a2e"/>
<circle cx="92.5" cy="593.9" r="0.95" fill="#b82a2e"/>
<circle cx="98.3" cy="591.8" r="0.95" fill="#b82a2e"/>
<circle cx="94.1" cy="603.4" r="0.95" fill="#b82a2e"/>
<circle cx="104.8" cy="567.7" r="0.95" fill="#b82a2e"/>
<circle cx="97.5" cy="581.6" r="0.95" fill="#b82a2e"/>
<circle cx="97.6" cy="592.2" r="0.95" fill="#b82a2e"/>
<circle cx="104.9" cy="576.4" r="0.95" fill="#b82a2e"/>
<circle cx="104.3" cy="580.3" r="0.95" fill="#b82a2e"/>
<circle cx="94" cy="598.4" r="0.95" fill="#b82a2e"/>
<circle cx="93.6" cy="594.5" r="0.95" fill="#b82a2e"/>
<circle cx="103.3" cy="584.6" r="0.95" fill="#b82a2e"/>
<circle cx="104.6" cy="583.6" r="0.95" fill="#b82a2e"/>
<circle cx="92.8" cy="594.8" r="0.95" fill="#b82a2e"/>
<circle cx="103.5" cy="588.3" r="0.95" fill="#b82a2e"/>
<circle cx="99.4" cy="574.3" r="0.95" fill="#b82a2e"/>
<circle cx="94.5" cy="595" r="0.95" fill="#b82a2e"/>
<circle cx="100" cy="604.4" r="0.95" fill="#b82a2e"/>
<circle cx="97.4" cy="602.3" r="0.95" fill="#b82a2e"/>
<circle cx="101.9" cy="597.2" r="0.95" fill="#b82a2e"/>
<circle cx="104" cy="590.5" r="0.95" fill="#b82a2e"/>
<circle cx="98.5" cy="574.5" r="0.95" fill="#b82a2e"/>
<circle cx="100.1" cy="570.6" r="0.95" fill="#b82a2e"/>
<circle cx="100.4" cy="580.9" r="0.95" fill="#b82a2e"/>
<circle cx="103.7" cy="576.3" r="0.95" fill="#b82a2e"/>
<circle cx="95" cy="598.2" r="0.95" fill="#b82a2e"/>
<circle cx="105.4" cy="579.4" r="0.95" fill="#b82a2e"/>
<circle cx="106.9" cy="579.1" r="0.95" fill="#b82a2e"/>
<circle cx="101" cy="572.5" r="0.95" fill="#b82a2e"/>
<circle cx="101.3" cy="583.3" r="0.95" fill="#b82a2e"/>
<circle cx="108.3" cy="572.7" r="0.95" fill="#b82a2e"/>
<circle cx="100" cy="589.1" r="0.95" fill="#b82a2e"/>
<circle cx="93.1" cy="593.7" r="0.95" fill="#b82a2e"/>
<circle cx="100.7" cy="592.5" r="0.95" fill="#b82a2e"/>
<circle cx="98.2" cy="602.3" r="0.95" fill="#b82a2e"/>
<circle cx="95.4" cy="593.8" r="0.95" fill="#b82a2e"/>
<circle cx="93.5" cy="593.1" r="0.95" fill="#b82a2e"/>
<circle cx="102.5" cy="583.1" r="0.95" fill="#b82a2e"/>
<circle cx="102.2" cy="582.3" r="0.95" fill="#b82a2e"/>
<circle cx="95.2" cy="602.5" r="0.95" fill="#b82a2e"/>
<circle cx="94" cy="601.3" r="0.95" fill="#b82a2e"/>
<circle cx="93.7" cy="587.8" r="0.95" fill="#b82a2e"/>
<circle cx="100.8" cy="588.7" r="0.95" fill="#b82a2e"/>
<circle cx="94.5" cy="597.8" r="0.95" fill="#b82a2e"/>
<circle cx="96.3" cy="581.3" r="0.95" fill="#b82a2e"/>
<circle cx="102.7" cy="574.7" r="0.95" fill="#b82a2e"/>
<circle cx="98.1" cy="597.3" r="0.95" fill="#b82a2e"/>
<circle cx="106.9" cy="571" r="0.95" fill="#b82a2e"/>
<circle cx="94" cy="603.9" r="0.95" fill="#b82a2e"/>
<circle cx="100" cy="600.4" r="0.95" fill="#b82a2e"/>
<circle cx="94" cy="598.8" r="0.95" fill="#b82a2e"/>
<circle cx="99.1" cy="585.5" r="0.95" fill="#b82a2e"/>
<circle cx="103" cy="569.1" r="0.95" fill="#b82a2e"/>
<circle cx="95.9" cy="602.7" r="0.95" fill="#b82a2e"/>
<circle cx="98.5" cy="585.2" r="0.95" fill="#b82a2e"/>
<circle cx="99" cy="580.5" r="0.95" fill="#b82a2e"/>
<circle cx="102.4" cy="579.7" r="0.95" fill="#b82a2e"/>
<circle cx="104.1" cy="577.2" r="0.95" fill="#b82a2e"/>
<circle cx="103.4" cy="580.9" r="0.95" fill="#b82a2e"/>
<circle cx="97.5" cy="597.3" r="0.95" fill="#b82a2e"/>
<circle cx="101.2" cy="592" r="0.95" fill="#b82a2e"/>
<circle cx="101.9" cy="582.6" r="0.95" fill="#b82a2e"/>
<circle cx="100.7" cy="581.1" r="0.95" fill="#b82a2e"/>
<circle cx="96.2" cy="580.3" r="0.95" fill="#b82a2e"/>
<circle cx="100.2" cy="584.3" r="0.95" fill="#b82a2e"/>
<circle cx="97.4" cy="572.9" r="0.95" fill="#b82a2e"/>
<circle cx="98.1" cy="603.8" r="0.95" fill="#b82a2e"/>
<circle cx="98.4" cy="597.8" r="0.95" fill="#b82a2e"/>
<circle cx="108.2" cy="577.3" r="0.95" fill="#b82a2e"/>
<circle cx="96.8" cy="594.9" r="0.95" fill="#b82a2e"/>
<circle cx="107.8" cy="580" r="0.95" fill="#b82a2e"/>
<circle cx="103.3" cy="579.7" r="0.95" fill="#b82a2e"/>
<circle cx="102.8" cy="576.5" r="0.95" fill="#b82a2e"/>
<circle cx="93" cy="591.2" r="0.95" fill="#b82a2e"/>
<circle cx="99.6" cy="588.1" r="0.95" fill="#b82a2e"/>
<circle cx="102" cy="593" r="0.95" fill="#b82a2e"/>
<circle cx="98" cy="596.4" r="0.95" fill="#b82a2e"/>
<circle cx="100.6" cy="592.9" r="0.95" fill="#b82a2e"/>
<circle cx="96.1" cy="597" r="0.95" fill="#b82a2e"/>
<circle cx="98.6" cy="572.1" r="0.95" fill="#b82a2e"/>
<circle cx="101" cy="592.1" r="0.95" fill="#b82a2e"/>
<circle cx="106.4" cy="584.9" r="0.95" fill="#b82a2e"/>
<circle cx="93.2" cy="592.5" r="0.95" fill="#b82a2e"/>
<circle cx="99.4" cy="603.7" r="0.95" fill="#b82a2e"/>
<circle cx="103.3" cy="575.2" r="0.95" fill="#b82a2e"/>
<circle cx="96.7" cy="583.8" r="0.95" fill="#b82a2e"/>
<circle cx="95.7" cy="597.1" r="0.95" fill="#b82a2e"/>
<circle cx="95.9" cy="589.4" r="0.95" fill="#b82a2e"/>
<circle cx="96.8" cy="596.8" r="0.95" fill="#b82a2e"/>
<circle cx="97.1" cy="579.6" r="0.95" fill="#b82a2e"/>
<circle cx="102.8" cy="584.6" r="0.95" fill="#b82a2e"/>
<circle cx="94" cy="605.9" r="0.95" fill="#b82a2e"/>
<circle cx="104.3" cy="569.7" r="0.95" fill="#b82a2e"/>
<circle cx="96.2" cy="583.7" r="0.95" fill="#b82a2e"/>
<circle cx="97.7" cy="602" r="0.95" fill="#b82a2e"/>
<circle cx="100.8" cy="571.6" r="0.95" fill="#b82a2e"/>
<circle cx="95.2" cy="594.1" r="0.95" fill="#b82a2e"/>
<circle cx="105.3" cy="586.5" r="0.95" fill="#b82a2e"/>
<circle cx="96.9" cy="573.3" r="0.95" fill="#b82a2e"/>
<circle cx="101.2" cy="582.7" r="0.95" fill="#b82a2e"/>
<circle cx="101.8" cy="588.5" r="0.95" fill="#b82a2e"/>
<circle cx="104.9" cy="582.4" r="0.95" fill="#b82a2e"/>
<circle cx="99.5" cy="605.9" r="0.95" fill="#b82a2e"/>
<circle cx="98.9" cy="582.8" r="0.95" fill="#b82a2e"/>
<circle cx="96.6" cy="591" r="0.95" fill="#b82a2e"/>
<circle cx="94.1" cy="600.6" r="0.95" fill="#b82a2e"/>
<circle cx="96.2" cy="591.8" r="0.95" fill="#b82a2e"/>
<circle cx="98.8" cy="595.2" r="0.95" fill="#b82a2e"/>
<circle cx="101.5" cy="591.1" r="0.95" fill="#b82a2e"/>
<circle cx="97.8" cy="591.8" r="0.95" fill="#b82a2e"/>
<circle cx="96" cy="591.1" r="0.95" fill="#b82a2e"/>
<circle cx="105" cy="587.4" r="0.95" fill="#b82a2e"/>
<circle cx="98.4" cy="598.9" r="0.95" fill="#b82a2e"/>
<circle cx="100.2" cy="569.6" r="0.95" fill="#b82a2e"/>
<circle cx="98.6" cy="587.3" r="0.95" fill="#b82a2e"/>
<circle cx="98.7" cy="579.9" r="0.95" fill="#b82a2e"/>
<circle cx="102.3" cy="568.4" r="0.95" fill="#b82a2e"/>
<text x="37.2" y="479.8" fill="#111" stroke="#111" stroke-width="0.12" font-size="5.6">PTH1R</text>
<text x="52.5" y="490.7" fill="#111" stroke="#111" stroke-width="0.12" font-size="5.6">ADAMTS13</text>
<text x="48.3" y="498.3" fill="#111" stroke="#111" stroke-width="0.12" font-size="5.6">VIPR1</text>
<text x="37.2" y="506.1" fill="#111" stroke="#111" stroke-width="0.12" font-size="5.6">CADM2</text>
<text x="60.7" y="508.5" fill="#111" stroke="#111" stroke-width="0.12" font-size="5.6">NID2</text>
<text x="37.2" y="514.3" fill="#111" stroke="#111" stroke-width="0.12" font-size="5.6">GPC5</text>
<text x="48.3" y="518.4" fill="#111" stroke="#111" stroke-width="0.12" font-size="5.6">CAMK4</text>
<text x="37.2" y="523" fill="#111" stroke="#111" stroke-width="0.12" font-size="5.6">ECM1</text>
<text x="65.9" y="522.8" fill="#111" stroke="#111" stroke-width="0.12" font-size="5.6">POSTN</text>
<text x="39.1" y="530.7" fill="#111" stroke="#111" stroke-width="0.12" font-size="5.6">KIAA1217</text>
<text x="68.1" y="535" fill="#111" stroke="#111" stroke-width="0.12" font-size="5.6">FRMD4A</text>
<text x="37.2" y="537.9" fill="#111" stroke="#111" stroke-width="0.12" font-size="5.6">IFITM10</text>
<text x="65.9" y="543.3" fill="#111" stroke="#111" stroke-width="0.12" font-size="5.6">EGFLAM</text>
<text x="37.2" y="546.1" fill="#111" stroke="#111" stroke-width="0.12" font-size="5.6">COL25A1</text>
<text x="54.9" y="553.4" fill="#111" stroke="#111" stroke-width="0.12" font-size="5.6">KALRN</text>
<text x="118.2" y="532" fill="#111" stroke="#111" stroke-width="0.12" font-size="5.6">CP</text>
<text x="132.7" y="541.6" fill="#111" stroke="#111" stroke-width="0.12" font-size="5.6">FGL1</text>
<text x="173.8" y="542.9" fill="#111" stroke="#111" stroke-width="0.12" font-size="5.6">SAA1</text>
<text x="121" y="550.4" fill="#111" stroke="#111" stroke-width="0.12" font-size="5.6">CRP</text>
<text x="142.8" y="551.2" fill="#111" stroke="#111" stroke-width="0.12" font-size="5.6">FGA</text>
<text x="160.6" y="551.2" fill="#111" stroke="#111" stroke-width="0.12" font-size="5.6">SAA2</text>
<text x="160.5" y="560" fill="#111" stroke="#111" stroke-width="0.12" font-size="5.6">SERPINA3</text>
<text x="110.7" y="561.3" fill="#111" stroke="#111" stroke-width="0.12" font-size="5.6">C9</text>
<text x="122.7" y="561.3" fill="#111" stroke="#111" stroke-width="0.12" font-size="5.6">APOB</text>
<text x="145.7" y="565" fill="#111" stroke="#111" stroke-width="0.12" font-size="5.6">FGB</text>
<text x="119.2" y="570.7" fill="#111" stroke="#111" stroke-width="0.12" font-size="5.6">TF</text>
<text x="129.6" y="573.7" fill="#111" stroke="#111" stroke-width="0.12" font-size="5.6">FGG</text>
<text x="145.7" y="573.7" fill="#111" stroke="#111" stroke-width="0.12" font-size="5.6">SERPINA1</text>
<text x="135.1" y="581.4" fill="#111" stroke="#111" stroke-width="0.12" font-size="5.6">HP</text>
<text x="113.9" y="583" fill="#111" stroke="#111" stroke-width="0.12" font-size="5.6">A1BG</text>
<text x="122.3" y="598.4" fill="#111" stroke="#111" stroke-width="0.12" font-size="5.6">ORM1</text>
<line x1="55.5" y1="508" x2="60.5" y2="504.5" stroke="#222" stroke-width="0.5"/>
<line x1="52" y1="522.5" x2="57" y2="527.5" stroke="#222" stroke-width="0.5"/>
<line x1="60" y1="519" x2="65.5" y2="520.5" stroke="#222" stroke-width="0.5"/>
<line x1="57" y1="531" x2="67.5" y2="533" stroke="#222" stroke-width="0.5"/>
<line x1="57" y1="544" x2="65.5" y2="541.5" stroke="#222" stroke-width="0.5"/>
<line x1="181.5" y1="543" x2="183" y2="548" stroke="#222" stroke-width="0.5"/>
<text x="213.5" y="453.7" font-size="23">F</text>
<text x="319.2" y="460.1" text-anchor="middle" fill="#111" stroke="#111" stroke-width="0.12" font-size="8.9">Enrichment of KEGG</text>
<line x1="235.6" y1="461.7" x2="235.6" y2="622.6" stroke="#666" stroke-width="0.9"/>
<line x1="235.1" y1="622.2" x2="410.3" y2="622.2" stroke="#666" stroke-width="0.9"/>
<rect x="243.3" y="465.9" width="153.7" height="5.8" fill="#6a9fcf"/>
<text x="243.3" y="471.4" fill="#111" stroke="#111" stroke-width="0.12" font-size="7.2">Axon Guidance</text>
<text x="243.3" y="477.6" font-size="4.6" fill="#5a8fc4" textLength="159" lengthAdjust="spacingAndGlyphs">EFNA5/PRKCA/PARD3/ROBO1/ROBO2/CXCL12/SEMA6D/SEMA5A</text>
<rect x="243.3" y="481.6" width="123.2" height="5.8" fill="#6a9fcf"/>
<text x="243.3" y="487.1" fill="#111" stroke="#111" stroke-width="0.12" font-size="7.2">Relaxin Signaling Pathway</text>
<text x="243.3" y="493.3" font-size="4.6" fill="#5a8fc4" textLength="111.3" lengthAdjust="spacingAndGlyphs">ADCY5/ARRB1/GNG2/PRKCA/MAPK10/RXFP1</text>
<rect x="243.3" y="497.3" width="123.2" height="5.8" fill="#6a9fcf"/>
<text x="243.3" y="502.8" fill="#111" stroke="#111" stroke-width="0.12" font-size="7.2">Dopaminergic Synapse</text>
<text x="243.3" y="509" font-size="4.6" fill="#5a8fc4" textLength="111.7" lengthAdjust="spacingAndGlyphs">ADCY5/ARRB1/GNG2/PRKCA/MAPK10/CALM2</text>
<rect x="243.3" y="513" width="115.2" height="5.8" fill="#6a9fcf"/>
<text x="243.3" y="518.5" fill="#111" stroke="#111" stroke-width="0.12" font-size="7.2">Oxytocin Signaling Pathway</text>
<text x="243.3" y="524.8" font-size="4.6" fill="#5a8fc4" textLength="115.2" lengthAdjust="spacingAndGlyphs">ADCY5/MEF2C/PRKCA/CACNB2/CALM2/CAMK4</text>
<rect x="243.3" y="528.7" width="115.2" height="5.8" fill="#6a9fcf"/>
<text x="243.3" y="534.2" fill="#111" stroke="#111" stroke-width="0.12" font-size="7.2">Inflammatory Mediator Regulation Of Trp Channels</text>
<text x="243.3" y="540.4" font-size="4.6" fill="#5a8fc4" textLength="88.9" lengthAdjust="spacingAndGlyphs">ADCY5/NGF/PRKCA/MAPK10/CALM2</text>
<rect x="243.3" y="544.4" width="164.9" height="5.8" fill="#dc4f5a"/>
<text x="243.3" y="549.9" fill="#111" stroke="#111" stroke-width="0.12" font-size="7.2">Cholesterol Metabolism</text>
<text x="243.3" y="556.1" font-size="4.6" fill="#d9424e" textLength="127.4" lengthAdjust="spacingAndGlyphs">ANGPTL3/APOA1/APOB/APOC2/APOC3/APOE/APOH</text>
<rect x="243.3" y="560.1" width="131.6" height="5.8" fill="#dc4f5a"/>
<text x="243.3" y="565.6" fill="#111" stroke="#111" stroke-width="0.12" font-size="7.2">Bile Secretion</text>
<text x="243.3" y="571.8" font-size="4.6" fill="#d9424e" textLength="166.7" lengthAdjust="spacingAndGlyphs">SLCO1B1/ATP1B3/ABCB4/BAAT/SULT2A1/UGT2B4/UGT2B7/UGT2B15</text>
<rect x="243.3" y="575.8" width="118.7" height="5.8" fill="#dc4f5a"/>
<text x="243.3" y="581.3" fill="#111" stroke="#111" stroke-width="0.12" font-size="7.2">Ppar Signaling Pathway</text>
<text x="243.3" y="587.5" font-size="4.6" fill="#d9424e" textLength="114.1" lengthAdjust="spacingAndGlyphs">PLIN2/FABP1/ACSL1/APOA1/APOC3/PCK1/SCD</text>
<rect x="243.3" y="591.5" width="94.8" height="5.8" fill="#dc4f5a"/>
<text x="243.3" y="597" fill="#111" stroke="#111" stroke-width="0.12" font-size="7.2">Thyroid Hormone Synthesis</text>
<text x="243.3" y="603.2" font-size="4.6" fill="#d9424e" textLength="107.5" lengthAdjust="spacingAndGlyphs">ALB/ASGR2/ATP1B3/HSP90B1/CANX/CREB5</text>
<rect x="243.3" y="607.2" width="79.8" height="5.8" fill="#dc4f5a"/>
<text x="243.3" y="612.7" fill="#111" stroke="#111" stroke-width="0.12" font-size="7.2">Platelet Activation</text>
<text x="243.3" y="618.9" font-size="4.6" fill="#d9424e" textLength="97.7" lengthAdjust="spacingAndGlyphs">F2/FGA/FGB/FGG/PLCG2/PPP1CB/ACTB</text>
<line x1="243.3" y1="622.2" x2="243.3" y2="623.6" stroke="#666" stroke-width="0.6"/>
<text x="243.3" y="626.7" text-anchor="middle" fill="#444" stroke="#444" stroke-width="0.12" font-size="3.8">0</text>
<line x1="291" y1="622.2" x2="291" y2="623.6" stroke="#666" stroke-width="0.6"/>
<text x="291" y="626.7" text-anchor="middle" fill="#444" stroke="#444" stroke-width="0.12" font-size="3.8">1</text>
<line x1="338.7" y1="622.2" x2="338.7" y2="623.6" stroke="#666" stroke-width="0.6"/>
<line x1="386.4" y1="622.2" x2="386.4" y2="623.6" stroke="#666" stroke-width="0.6"/>
<text x="386.4" y="626.7" text-anchor="middle" fill="#444" stroke="#444" stroke-width="0.12" font-size="3.8">3</text>
<text x="321.8" y="631.9" text-anchor="middle" fill="#111" stroke="#111" stroke-width="0.12" font-size="8.6">−(log10(p.adjust)</text>
<text x="231.1" y="504.1" text-anchor="middle" fill="#111" stroke="#111" stroke-width="0.12" font-size="8.5" transform="rotate(-90 231.1 501)">MASLD</text>
<text x="231.1" y="572.8" text-anchor="middle" fill="#111" stroke="#111" stroke-width="0.12" font-size="8.5" transform="rotate(-90 231.1 569.7)">MASH</text>
<text x="430.3" y="238.6" font-size="23">G</text>
<line x1="474.6" y1="250.4" x2="474.6" y2="393.8" stroke="#444" stroke-width="0.8"/>
<line x1="474.2" y1="393.4" x2="608.9" y2="393.4" stroke="#444" stroke-width="0.8"/>
<line x1="472.1" y1="280.2" x2="474.6" y2="280.2" stroke="#444" stroke-width="0.6"/>
<text x="470.8" y="282.4" text-anchor="end" fill="#222" stroke="#222" stroke-width="0.12" font-size="6.2">2</text>
<line x1="472.1" y1="320.2" x2="474.6" y2="320.2" stroke="#444" stroke-width="0.6"/>
<text x="470.8" y="322.4" text-anchor="end" fill="#222" stroke="#222" stroke-width="0.12" font-size="6.2">0</text>
<line x1="472.1" y1="360.2" x2="474.6" y2="360.2" stroke="#444" stroke-width="0.6"/>
<text x="470.8" y="362.4" text-anchor="end" fill="#222" stroke="#222" stroke-width="0.12" font-size="6.2">−2</text>
<line x1="502.1" y1="393.4" x2="502.1" y2="395.9" stroke="#444" stroke-width="0.6"/>
<text x="502.1" y="402.6" text-anchor="middle" fill="#222" stroke="#222" stroke-width="0.12" font-size="6.2">−5</text>
<line x1="540.6" y1="393.4" x2="540.6" y2="395.9" stroke="#444" stroke-width="0.6"/>
<text x="540.6" y="402.6" text-anchor="middle" fill="#222" stroke="#222" stroke-width="0.12" font-size="6.2">0</text>
<line x1="579.1" y1="393.4" x2="579.1" y2="395.9" stroke="#444" stroke-width="0.6"/>
<text x="579.1" y="402.6" text-anchor="middle" fill="#222" stroke="#222" stroke-width="0.12" font-size="6.2">5</text>
<text x="542.2" y="410.2" text-anchor="middle" font-weight="bold" fill="#111" font-size="7.3">Component 1</text>
<text x="460" y="323.6" text-anchor="middle" font-weight="bold" fill="#111" font-size="7.3" transform="rotate(-90 460 321)">Component 2</text>
<path d="M533.3 310.4C531.9 308.6 527.4 304.8 525 303.6C522.6 302.4 520.9 302.7 518.9 303.2C516.8 303.7 515.5 305 512.7 306.4C510 307.8 505.9 309.7 502.5 311.6C499.1 313.5 495.3 315.4 492.2 317.8C489.2 320.2 485.9 323.6 484 326C482.1 328.4 481.3 330.1 480.9 332.2C480.6 334.3 481 336.3 482 338.4C483 340.5 485.7 344.9 487.1 344.6C488.4 344.3 488.6 339 490.2 336.4C491.7 333.8 494.3 331.3 496.3 329.2C498.4 327.1 499.8 325.7 502.5 324C505.2 322.3 509.3 320.2 512.7 318.8C516.2 317.4 519.6 316.3 523 315.6C526.5 314.9 531.6 315.5 533.3 314.6C535 313.7 534.7 312.2 533.3 310.4Z" fill="#ee7a55" fill-opacity="0.5"/>
<path d="M532.7 315.6C532.2 319.7 533 332 533.4 340.4C533.7 348.8 533.8 361.9 534.8 366.2C535.8 370.5 538.9 370.5 539.4 366.2C539.9 361.9 538.3 348.8 537.8 340.4C537.4 332 537.8 319.7 536.9 315.6C536.1 311.5 533.3 311.5 532.7 315.6Z" fill="#ef8158" fill-opacity="0.5"/>
<path d="M534.1 366.2C533.2 367.9 533.9 371.5 534.1 374.2C534.2 376.9 533.9 380.8 535.2 382.6C536.6 384.4 540 385.6 542.1 385.2C544.3 384.8 547.1 382.5 547.9 380.2C548.7 377.9 547.7 373.4 546.8 371.2C545.8 369 543.4 368.4 542.1 367.2C540.9 366 540.8 364.4 539.4 364.2C538.1 364 535 364.5 534.1 366.2Z" fill="#a6d8a4" fill-opacity="0.5"/>
<path d="M533.3 309.4C533.8 306.7 537.4 301.3 539.4 297.2C541.5 293.1 544.1 287.4 545.6 284.6C547.1 281.8 547.5 280.8 548.7 280.6C549.9 280.4 552.3 282.2 552.8 283.6C553.4 285 553.3 286.2 551.8 288.8C550.2 291.4 546.2 295.1 543.6 299.2C541 303.3 538.1 311.9 536.4 313.6C534.6 315.3 532.8 312.1 533.3 309.4Z" fill="#f8b366" fill-opacity="0.5"/>
<path d="M549.8 256.6C550.5 256.9 551.4 259.6 551.8 261.2C552.1 262.8 552.3 264.7 552.1 266.2C552 267.7 551.2 269.5 550.6 270.2C550 270.9 549.3 270.9 548.7 270.2C548.1 269.5 547 267.6 546.9 265.8C546.8 264 547.4 260.7 547.9 259.2C548.4 257.7 549.2 256.3 549.8 256.6Z" fill="#d94a50" fill-opacity="0.5"/>
<path d="M559.5 265.2C558.8 267.2 559.8 272.4 560.6 276.2C561.5 280 562.5 284.3 564.5 288.2C566.4 292.1 569.9 295.6 572.2 299.4C574.4 303.2 576.1 306.7 577.9 311.2C579.7 315.7 581.2 321.4 583 326.2C584.7 331 586.9 335.9 588.3 340.2C589.8 344.5 590.1 347.9 591.4 352.2C592.7 356.5 594.4 363.7 596 366.2C597.7 368.7 600.4 368.9 601.4 367.2C602.5 365.5 602.6 360 602.2 356.2C601.8 352.4 600.3 348.2 599.1 344.2C598 340.2 596.7 336 595.3 332.2C593.9 328.4 592.1 325 590.6 321.2C589.2 317.4 587.8 312.9 586.4 309.2C585.1 305.5 584.2 302.9 582.6 299.2C581 295.5 578.8 291.2 576.8 287.2C574.7 283.2 572.2 279 570.2 275.2C568.3 271.4 566.7 265.9 564.9 264.2C563.1 262.5 560.2 263.2 559.5 265.2Z" fill="#78aec4" fill-opacity="0.5"/>
<path d="M555.2 281.2C555.7 280.3 557.2 279.8 558.3 279.8C559.4 279.8 561.2 280.2 561.8 281.2C562.4 282.2 562.4 284.7 561.8 285.6C561.2 286.5 559.4 286.7 558.3 286.6C557.2 286.5 555.7 286.1 555.2 285.2C554.7 284.3 554.7 282.1 555.2 281.2Z" fill="#f08c5a" fill-opacity="0.5"/>
<path fill="#d23b4e" d="M503.7 321.5h1v1h-1zM518.7 305.3h1v1h-1zM482.3 330.7h1v1h-1z"/>
<path fill="#ef6645" d="M507.3 319.7h1v1h-1zM517.1 309.6h1v1h-1zM536.5 326h1v1h-1z"/>
<path fill="#ad1246" d="M490.1 323.2h1v1h-1zM504.3 313.7h1v1h-1zM506.8 311.8h1v1h-1zM551 261.9h1v1h-1zM549.7 262.9h1v1h-1z"/>
<path fill="#c52c4b" d="M513.8 310.6h1v1h-1zM488.8 337.6h1v1h-1zM490.6 324.8h1v1h-1zM548.3 264.1h1v1h-1zM567.2 269.3h1v1h-1z"/>
<path fill="#ad1145" d="M486.4 331.4h1v1h-1zM490.1 333.9h1v1h-1z"/>
<path fill="#d43c4f" d="M490.2 334.6h1v1h-1zM480.6 331.8h1v1h-1z"/>
<path fill="#9e0142" d="M507.4 317.9h1v1h-1zM481.9 333.1h1v1h-1zM518.5 315h1v1h-1zM510.8 318.3h1v1h-1zM495.9 316.7h1v1h-1zM498.6 316.7h1v1h-1zM491.7 325.8h1v1h-1zM524.6 310.2h1v1h-1zM522.9 306.2h1v1h-1zM497.8 318.8h1v1h-1zM486.6 322.8h1v1h-1zM491 318.5h1v1h-1zM480.5 336.1h1v1h-1zM486.4 342h1v1h-1zM513.2 313.2h1v1h-1zM509.3 318h1v1h-1zM483.1 331h1v1h-1zM481.8 336.4h1v1h-1zM491.7 331h1v1h-1zM491.2 324.4h1v1h-1zM515.6 305.7h1v1h-1zM481.9 329.6h1v1h-1zM487.3 325.2h1v1h-1zM523.3 311.5h1v1h-1zM485.8 338.7h1v1h-1zM498.4 314.8h1v1h-1zM507 312.8h1v1h-1zM529.4 313h1v1h-1zM488.6 329.9h1v1h-1zM493.9 321.8h1v1h-1zM486.7 321.6h1v1h-1zM504.7 319.1h1v1h-1zM481 336.5h1v1h-1zM487 342.4h1v1h-1zM521.5 313.4h1v1h-1zM492.1 328.9h1v1h-1zM483.2 336.2h1v1h-1zM488.3 337.7h1v1h-1zM486.5 332.5h1v1h-1zM519.8 311.6h1v1h-1zM505.5 313.7h1v1h-1zM486.4 340.7h1v1h-1zM487.2 329.4h1v1h-1zM499.3 324.6h1v1h-1zM537.1 365.8h1v1h-1zM550 288.4h1v1h-1zM549.9 266.8h1v1h-1zM561.2 280.6h1v1h-1z"/>
<path fill="#ce364d" d="M506.4 317h1v1h-1z"/>
<path fill="#da464d" d="M524.5 314.3h1v1h-1zM509.7 312.3h1v1h-1zM488.6 325.1h1v1h-1zM512.1 318.3h1v1h-1zM503.6 322.4h1v1h-1zM500.7 318.3h1v1h-1zM535.8 319.2h1v1h-1zM535.4 335.5h1v1h-1zM534.8 366.2h1v1h-1zM535.3 324.7h1v1h-1z"/>
<path fill="#ef6545" d="M530.6 309.1h1v1h-1zM492.2 322.9h1v1h-1zM520.2 310.7h1v1h-1z"/>
<path fill="#de4b4c" d="M484.6 330h1v1h-1z"/>
<path fill="#fee593" d="M531.3 312.8h1v1h-1zM570.4 295.9h1v1h-1z"/>
<path fill="#c62e4c" d="M487.6 334h1v1h-1z"/>
<path fill="#e75948" d="M486.1 341.8h1v1h-1zM533.8 324.9h1v1h-1zM550 266.6h1v1h-1zM557.7 285h1v1h-1z"/>
<path fill="#cb334d" d="M486 326.5h1v1h-1zM491.1 327.2h1v1h-1zM523.9 308.3h1v1h-1zM484.9 333.7h1v1h-1zM494.9 328.5h1v1h-1zM485.7 342h1v1h-1zM529.4 307.5h1v1h-1z"/>
<path fill="#f16844" d="M492.3 333.2h1v1h-1zM525 310h1v1h-1zM536 345.8h1v1h-1zM536.8 317.1h1v1h-1zM547 285h1v1h-1zM541 294.7h1v1h-1zM546.4 283.7h1v1h-1zM566.9 269.5h1v1h-1z"/>
<path fill="#fdc272" d="M531.1 310.1h1v1h-1zM549.1 282.9h1v1h-1zM568.3 281.8h1v1h-1zM571.7 279.6h1v1h-1z"/>
<path fill="#f67848" d="M491.6 326.9h1v1h-1zM510 313.3h1v1h-1zM493.5 316.3h1v1h-1zM534.8 317.1h1v1h-1zM534.1 327.5h1v1h-1zM536.5 352.9h1v1h-1z"/>
<path fill="#dd4a4c" d="M492.4 333.7h1v1h-1zM487 325.9h1v1h-1zM511.6 314.2h1v1h-1zM486.3 336.8h1v1h-1zM494.7 320h1v1h-1zM519.2 308.2h1v1h-1zM535.9 325h1v1h-1zM549.7 262.5h1v1h-1zM564 269.2h1v1h-1zM560 284.9h1v1h-1zM556.3 281.4h1v1h-1zM560.3 281.8h1v1h-1z"/>
<path fill="#f46d43" d="M492.7 319.7h1v1h-1zM488.2 322.7h1v1h-1zM482.6 337.3h1v1h-1zM534.6 319.8h1v1h-1zM535.5 348.1h1v1h-1zM534.5 354.3h1v1h-1zM537.2 356.6h1v1h-1zM541.3 297.2h1v1h-1zM540.1 298.9h1v1h-1zM550.4 266.9h1v1h-1z"/>
<path fill="#d0384e" d="M510.8 308.1h1v1h-1zM488.8 331h1v1h-1zM511.1 308.6h1v1h-1zM491.2 332.4h1v1h-1zM537 357.5h1v1h-1zM551.5 265.2h1v1h-1z"/>
<path fill="#f46f44" d="M527.9 309.4h1v1h-1zM494 315.8h1v1h-1zM509.5 310.7h1v1h-1zM503.5 310.1h1v1h-1zM512.2 315h1v1h-1zM539.6 297.1h1v1h-1zM567.3 272.8h1v1h-1z"/>
<path fill="#dd4b4c" d="M519.2 305.1h1v1h-1zM535.9 364.7h1v1h-1zM535.8 347h1v1h-1zM551.5 262.4h1v1h-1z"/>
<path fill="#bf264a" d="M484.8 334.7h1v1h-1z"/>
<path fill="#fee898" d="M508.9 309.9h1v1h-1z"/>
<path fill="#db474d" d="M489.9 329.1h1v1h-1zM520.1 306.4h1v1h-1zM517.3 304.7h1v1h-1zM511.8 315.3h1v1h-1zM525.5 304.6h1v1h-1zM494.4 319.6h1v1h-1zM511.8 317.7h1v1h-1zM517 306.2h1v1h-1zM532.3 310.6h1v1h-1zM533.8 333h1v1h-1zM556.9 281h1v1h-1z"/>
<path fill="#e65848" d="M517 305h1v1h-1zM487.7 328.2h1v1h-1zM496.4 326h1v1h-1zM506.2 320.3h1v1h-1zM498 327.1h1v1h-1zM537.2 356.8h1v1h-1zM538.5 359h1v1h-1zM535 325.1h1v1h-1zM536.3 322h1v1h-1z"/>
<path fill="#b91f48" d="M506 313.3h1v1h-1zM529.6 312.2h1v1h-1zM485.4 326.6h1v1h-1zM494.5 328.2h1v1h-1zM536.9 327.5h1v1h-1zM566.5 278.5h1v1h-1z"/>
<path fill="#af1446" d="M521.6 305.9h1v1h-1zM496.9 323.2h1v1h-1z"/>
<path fill="#fee18c" d="M499.1 315.9h1v1h-1zM529.6 312.4h1v1h-1z"/>
<path fill="#fbfeb9" d="M527.6 308.4h1v1h-1zM482.3 337.2h1v1h-1zM591.5 347.1h1v1h-1z"/>
<path fill="#c1284a" d="M501.2 312.4h1v1h-1z"/>
<path fill="#df4d4b" d="M511.7 305.9h1v1h-1zM497.1 324.3h1v1h-1zM486.7 343h1v1h-1zM483.1 333.3h1v1h-1zM539.9 303.3h1v1h-1zM536.2 301.3h1v1h-1zM548.6 269.6h1v1h-1zM550.1 260.2h1v1h-1z"/>
<path fill="#b21747" d="M521.9 307h1v1h-1zM568.9 274.6h1v1h-1z"/>
<path fill="#a80c44" d="M487.6 323.4h1v1h-1zM495.2 316.2h1v1h-1zM512.7 306.2h1v1h-1zM548.8 260.1h1v1h-1z"/>
<path fill="#fdbb6c" d="M517.3 304.1h1v1h-1zM523.9 310.7h1v1h-1zM493.2 320.2h1v1h-1zM543.1 291.1h1v1h-1z"/>
<path fill="#de4c4b" d="M491.2 327.9h1v1h-1zM498.4 325.4h1v1h-1zM510.4 308.5h1v1h-1zM489.8 334.1h1v1h-1zM517.5 312.4h1v1h-1zM536.8 337.8h1v1h-1zM548.9 287.8h1v1h-1zM545.8 289.6h1v1h-1z"/>
<path fill="#b41a47" d="M513.6 316.5h1v1h-1zM492.2 324.9h1v1h-1z"/>
<path fill="#d9444d" d="M523.2 304.2h1v1h-1zM518.2 306.2h1v1h-1zM515.1 305.2h1v1h-1z"/>
<path fill="#feeb9e" d="M494.9 329.8h1v1h-1zM584.5 321.9h1v1h-1z"/>
<path fill="#be254a" d="M512.2 311.8h1v1h-1zM549.4 266.6h1v1h-1zM560.7 270.7h1v1h-1z"/>
<path fill="#e85b48" d="M529.2 313.6h1v1h-1zM497 328.1h1v1h-1zM484 327.7h1v1h-1zM534.3 364.2h1v1h-1zM537.4 351.1h1v1h-1zM537 339.1h1v1h-1zM550.7 260h1v1h-1zM547.2 264.5h1v1h-1zM562.4 277.5h1v1h-1zM554.5 284.1h1v1h-1z"/>
<path fill="#f26a44" d="M486.9 325.7h1v1h-1zM516 315.1h1v1h-1zM514.8 308.4h1v1h-1zM504.3 321.8h1v1h-1zM513.5 311.6h1v1h-1zM536.9 353.8h1v1h-1zM557.5 282h1v1h-1z"/>
<path fill="#fecd7b" d="M512.7 305.4h1v1h-1zM484.2 339.1h1v1h-1z"/>
<path fill="#ed6246" d="M499.6 321.4h1v1h-1zM507.6 312.8h1v1h-1zM517.8 309.4h1v1h-1zM494.3 320.3h1v1h-1zM514.5 310.6h1v1h-1zM499.1 318.1h1v1h-1zM514.5 305.8h1v1h-1zM528.2 313.6h1v1h-1zM535.1 315.1h1v1h-1zM537.9 303.9h1v1h-1zM557 283.1h1v1h-1z"/>
<path fill="#f26b44" d="M526.4 311.1h1v1h-1zM533.6 333.3h1v1h-1z"/>
<path fill="#f88a50" d="M517.8 309.9h1v1h-1zM498.2 323.2h1v1h-1zM496.8 328h1v1h-1zM543.5 294.6h1v1h-1zM548.1 283.9h1v1h-1zM569.3 276.9h1v1h-1z"/>
<path fill="#fecc7a" d="M513.4 315.1h1v1h-1zM482.7 336.4h1v1h-1zM550.3 284.8h1v1h-1z"/>
<path fill="#e04e4b" d="M508.8 309.8h1v1h-1zM495.1 323.3h1v1h-1zM499.6 317.6h1v1h-1zM536 352.3h1v1h-1zM546.3 284.8h1v1h-1z"/>
<path fill="#fcaa5f" d="M485 326.3h1v1h-1zM533.5 355.8h1v1h-1zM570.8 277.5h1v1h-1z"/>
<path fill="#fdb365" d="M487.6 338.4h1v1h-1zM515.9 306.6h1v1h-1zM549.2 289.6h1v1h-1zM535.5 307.3h1v1h-1zM560.6 268.5h1v1h-1zM563.2 265.9h1v1h-1z"/>
<path fill="#ac1045" d="M507.9 314.3h1v1h-1zM521.1 303.1h1v1h-1zM534.5 337.9h1v1h-1z"/>
<path fill="#e3534a" d="M524.8 307.1h1v1h-1zM502.6 312.5h1v1h-1zM510.6 311.3h1v1h-1zM496.5 327.6h1v1h-1zM536.2 363h1v1h-1zM536.6 329.8h1v1h-1zM544 294.3h1v1h-1zM559.5 280.1h1v1h-1z"/>
<path fill="#e55749" d="M494.1 324.5h1v1h-1zM489.5 333.4h1v1h-1zM492.8 323.6h1v1h-1zM484.7 331.9h1v1h-1zM483.4 341.3h1v1h-1zM493.7 318.7h1v1h-1z"/>
<path fill="#fff7b1" d="M491.2 335.3h1v1h-1zM491.8 323.7h1v1h-1zM542.7 380.2h1v1h-1zM534.8 312.1h1v1h-1z"/>
<path fill="#fee797" d="M518.9 310.6h1v1h-1zM485.5 332.6h1v1h-1zM484.7 336.9h1v1h-1zM505.8 321.9h1v1h-1zM505.8 317.7h1v1h-1zM492.9 331.3h1v1h-1zM535.9 363.8h1v1h-1zM567.2 270.6h1v1h-1zM595 355.3h1v1h-1z"/>
<path fill="#ae1246" d="M501.2 316.4h1v1h-1zM494.3 326.9h1v1h-1zM490.1 322.7h1v1h-1z"/>
<path fill="#eb5f47" d="M516.7 306.7h1v1h-1zM536.5 335.5h1v1h-1zM535.5 347.4h1v1h-1zM534.9 359.9h1v1h-1zM555.6 282h1v1h-1z"/>
<path fill="#ca314c" d="M507 313.3h1v1h-1z"/>
<path fill="#a10543" d="M507.6 315.7h1v1h-1zM487.1 336.4h1v1h-1z"/>
<path fill="#fee28e" d="M524.3 302h1v1h-1zM490.7 329.2h1v1h-1z"/>
<path fill="#e65749" d="M505.2 313h1v1h-1zM531.4 309.1h1v1h-1zM490.3 325.8h1v1h-1zM535.5 328.3h1v1h-1zM550.5 259.4h1v1h-1z"/>
<path fill="#ab0f45" d="M489.6 325.1h1v1h-1zM484.3 332.7h1v1h-1z"/>
<path fill="#fdaf62" d="M527 311.6h1v1h-1zM502.1 318.9h1v1h-1zM547.7 287.1h1v1h-1zM568.8 276.3h1v1h-1z"/>
<path fill="#fedb87" d="M517.5 307.9h1v1h-1zM529.3 307.3h1v1h-1zM560.4 270.6h1v1h-1z"/>
<path fill="#f88c51" d="M531.8 311.1h1v1h-1z"/>
<path fill="#fecf7d" d="M518.9 311.9h1v1h-1zM490.8 317.5h1v1h-1zM564 280.3h1v1h-1z"/>
<path fill="#fdb668" d="M528.3 308h1v1h-1zM508.5 314.7h1v1h-1zM544.4 292.1h1v1h-1z"/>
<path fill="#fdb869" d="M516.9 312.4h1v1h-1z"/>
<path fill="#bc2249" d="M516.4 313.3h1v1h-1z"/>
<path fill="#a30743" d="M494 327.9h1v1h-1z"/>
<path fill="#ca324c" d="M511.1 312.9h1v1h-1zM500.1 323.8h1v1h-1z"/>
<path fill="#bd2349" d="M489.2 324.5h1v1h-1zM498.8 320.3h1v1h-1z"/>
<path fill="#db464d" d="M508.5 320h1v1h-1zM514.6 313.9h1v1h-1z"/>
<path fill="#e1504a" d="M503.3 316h1v1h-1zM489.6 329h1v1h-1zM535.1 342.4h1v1h-1zM550.4 286.5h1v1h-1zM565.5 281.4h1v1h-1z"/>
<path fill="#fee696" d="M491.2 330.3h1v1h-1z"/>
<path fill="#b31847" d="M519.7 308.5h1v1h-1zM507.3 308.7h1v1h-1zM521.4 310.8h1v1h-1z"/>
<path fill="#a00343" d="M496.9 320.3h1v1h-1z"/>
<path fill="#dc494c" d="M519.9 305.2h1v1h-1zM499 325.1h1v1h-1zM487.3 336.3h1v1h-1zM537.4 356.8h1v1h-1zM533.4 334.2h1v1h-1z"/>
<path fill="#fdc574" d="M484.6 340.1h1v1h-1zM540.5 303.9h1v1h-1z"/>
<path fill="#a00443" d="M484.7 332.4h1v1h-1zM493.3 330.4h1v1h-1z"/>
<path fill="#fdbe6f" d="M519.2 314.6h1v1h-1zM547.5 292.4h1v1h-1zM548 292.1h1v1h-1z"/>
<path fill="#fdb768" d="M498.6 312.9h1v1h-1zM516.5 313.5h1v1h-1zM537.6 304.9h1v1h-1z"/>
<path fill="#fffebd" d="M493.9 329.1h1v1h-1zM538.3 372.1h1v1h-1zM566.5 270.6h1v1h-1z"/>
<path fill="#fca85e" d="M490.5 320.8h1v1h-1zM514.6 316.2h1v1h-1zM534.8 335.1h1v1h-1zM545.5 286.5h1v1h-1zM566.5 279.8h1v1h-1zM560.4 283.2h1v1h-1z"/>
<path fill="#d0394e" d="M508.4 311.8h1v1h-1zM530.7 310.2h1v1h-1zM512.5 308.6h1v1h-1z"/>
<path fill="#fed784" d="M485 340.5h1v1h-1zM495.7 315.6h1v1h-1zM563.9 268.9h1v1h-1z"/>
<path fill="#f88d52" d="M518.1 314.7h1v1h-1zM487.3 339.9h1v1h-1zM515.7 309.3h1v1h-1zM560.4 264.6h1v1h-1z"/>
<path fill="#d9454d" d="M525.6 311.4h1v1h-1z"/>
<path fill="#f16944" d="M524.7 307.5h1v1h-1zM510.6 314.1h1v1h-1zM547.8 290.2h1v1h-1zM539.4 301.9h1v1h-1z"/>
<path fill="#fecb79" d="M518.3 303.1h1v1h-1zM570.6 277.1h1v1h-1z"/>
<path fill="#e35449" d="M490 336.1h1v1h-1zM506.4 317.3h1v1h-1zM525.5 305h1v1h-1zM521.1 314.3h1v1h-1zM537.8 327.2h1v1h-1z"/>
<path fill="#f06745" d="M489.2 333.1h1v1h-1zM537.5 363.3h1v1h-1zM534.7 347.8h1v1h-1zM534.7 308.3h1v1h-1zM556.3 283.9h1v1h-1z"/>
<path fill="#e2524a" d="M496.5 321.1h1v1h-1zM521.2 303.8h1v1h-1zM533.6 334.5h1v1h-1z"/>
<path fill="#bc2349" d="M494.9 322.6h1v1h-1zM491.6 324.2h1v1h-1zM487.4 336.5h1v1h-1zM537 350.7h1v1h-1z"/>
<path fill="#e85a48" d="M525.2 310.5h1v1h-1zM534.6 353.5h1v1h-1zM541.8 293.4h1v1h-1z"/>
<path fill="#f99053" d="M483.8 332.2h1v1h-1zM519.9 314.4h1v1h-1zM535.8 345.4h1v1h-1zM544.6 293.2h1v1h-1z"/>
<path fill="#ee6445" d="M483.9 331h1v1h-1zM482.4 331h1v1h-1zM512.3 307.5h1v1h-1zM527.2 305.9h1v1h-1zM485.8 342.8h1v1h-1zM536.3 336.9h1v1h-1zM535.6 364.8h1v1h-1z"/>
<path fill="#feeda1" d="M498.9 316.1h1v1h-1z"/>
<path fill="#a70b44" d="M485.4 327.3h1v1h-1zM500.8 318.8h1v1h-1zM499.6 314.9h1v1h-1zM533.4 322.1h1v1h-1z"/>
<path fill="#f06744" d="M499.5 321.5h1v1h-1zM499 317.1h1v1h-1zM484.5 334h1v1h-1zM537.1 347.4h1v1h-1zM534.6 319.2h1v1h-1zM550.1 268.2h1v1h-1z"/>
<path fill="#d7414e" d="M501.2 317.4h1v1h-1zM497.1 319.9h1v1h-1z"/>
<path fill="#be244a" d="M489.9 327.8h1v1h-1zM533.5 345.1h1v1h-1z"/>
<path fill="#fece7c" d="M484.7 334.2h1v1h-1zM544.9 288h1v1h-1z"/>
<path fill="#f46e43" d="M506.8 317.1h1v1h-1zM533.7 350.9h1v1h-1zM536.2 325.7h1v1h-1zM564 271.8h1v1h-1z"/>
<path fill="#b01546" d="M520.8 310.9h1v1h-1zM481 336h1v1h-1zM567.5 274.2h1v1h-1zM566.1 278.6h1v1h-1z"/>
<path fill="#fdc474" d="M500.7 314.3h1v1h-1zM571.4 294.2h1v1h-1zM561.5 276.3h1v1h-1z"/>
<path fill="#f57346" d="M531.5 311.8h1v1h-1zM535.5 343.1h1v1h-1zM534.5 364.4h1v1h-1z"/>
<path fill="#fed884" d="M485.3 328h1v1h-1zM542.1 375.9h1v1h-1zM552.4 283.8h1v1h-1zM562.9 268.9h1v1h-1z"/>
<path fill="#f98e52" d="M506.5 311.4h1v1h-1zM534.8 364h1v1h-1zM537.3 364.7h1v1h-1zM550.7 282.9h1v1h-1zM536.2 310.3h1v1h-1zM550.4 281.7h1v1h-1z"/>
<path fill="#fee18d" d="M510.8 315h1v1h-1zM516.5 315.3h1v1h-1zM522.2 309.5h1v1h-1zM568.1 274.3h1v1h-1z"/>
<path fill="#d53e4f" d="M494.4 320.4h1v1h-1zM520.4 312.4h1v1h-1zM493.3 318.2h1v1h-1zM530.4 311.4h1v1h-1zM535.8 323.7h1v1h-1zM550.9 261.3h1v1h-1zM548.3 268.3h1v1h-1zM558.4 285.2h1v1h-1z"/>
<path fill="#e55649" d="M512.7 315.6h1v1h-1zM499.3 320.1h1v1h-1zM527.6 312.9h1v1h-1zM524.7 304.7h1v1h-1zM495.6 325.4h1v1h-1zM533.6 336.5h1v1h-1zM535.8 339h1v1h-1zM564.2 278.2h1v1h-1zM565.4 277.7h1v1h-1zM559.1 284.9h1v1h-1z"/>
<path fill="#cd354d" d="M517.6 307.5h1v1h-1zM524.6 312.7h1v1h-1zM538.4 306.4h1v1h-1z"/>
<path fill="#d8424e" d="M486.9 326.4h1v1h-1zM503.9 313.5h1v1h-1zM546.9 266h1v1h-1zM572.3 281.5h1v1h-1z"/>
<path fill="#f57245" d="M492.9 330.6h1v1h-1zM538.1 365.4h1v1h-1zM534.8 362.4h1v1h-1zM545.5 286.3h1v1h-1z"/>
<path fill="#f8884f" d="M528.5 311.2h1v1h-1zM548.9 284.4h1v1h-1zM548.6 282.3h1v1h-1zM565 277.8h1v1h-1z"/>
<path fill="#c52d4b" d="M496.6 323.4h1v1h-1z"/>
<path fill="#fbfdb9" d="M483.1 340h1v1h-1zM493.3 331.9h1v1h-1zM581.2 306h1v1h-1zM577.7 290.9h1v1h-1zM567.6 292.4h1v1h-1z"/>
<path fill="#fec776" d="M527.7 306.8h1v1h-1zM536.5 306.8h1v1h-1z"/>
<path fill="#fdc171" d="M489.6 334.5h1v1h-1zM533.2 322.4h1v1h-1zM561.4 267.2h1v1h-1zM562.1 270.4h1v1h-1z"/>
<path fill="#aa0e45" d="M515.1 312h1v1h-1z"/>
<path fill="#b81e48" d="M500.1 315.9h1v1h-1zM520.7 309.3h1v1h-1zM534.4 334.8h1v1h-1zM547.7 262.8h1v1h-1zM560.3 266.7h1v1h-1z"/>
<path fill="#d6404f" d="M492.2 331h1v1h-1zM486.8 323.8h1v1h-1zM534.3 356.9h1v1h-1z"/>
<path fill="#c82f4c" d="M495.4 321.1h1v1h-1zM482.5 330.1h1v1h-1zM514 309.3h1v1h-1z"/>
<path fill="#d43d4f" d="M505.3 313h1v1h-1zM497 325.9h1v1h-1zM521.7 311.2h1v1h-1zM518.3 305.2h1v1h-1z"/>
<path fill="#f8874f" d="M509.7 317.9h1v1h-1zM538.2 365.2h1v1h-1zM538.7 305.9h1v1h-1zM546.9 292.5h1v1h-1z"/>
<path fill="#f99354" d="M499.3 316.6h1v1h-1zM536 359.9h1v1h-1z"/>
<path fill="#ed6346" d="M491.7 320.5h1v1h-1zM515 312h1v1h-1zM503.7 312.8h1v1h-1zM534.3 339.1h1v1h-1zM537.5 340.6h1v1h-1zM537.4 299.4h1v1h-1zM560 281h1v1h-1z"/>
<path fill="#fed27f" d="M525 311.7h1v1h-1zM506.1 313.4h1v1h-1zM568.5 278.5h1v1h-1z"/>
<path fill="#fee492" d="M483.6 326.4h1v1h-1zM538.4 308.4h1v1h-1zM569.9 278.2h1v1h-1zM595.7 359.8h1v1h-1z"/>
<path fill="#f57547" d="M482.6 334.3h1v1h-1zM507.5 320.3h1v1h-1z"/>
<path fill="#d13a4e" d="M521 313h1v1h-1zM493.1 324.9h1v1h-1zM536.7 364.7h1v1h-1zM563.6 273.9h1v1h-1z"/>
<path fill="#c62d4b" d="M498.1 314.9h1v1h-1zM490.2 320.5h1v1h-1z"/>
<path fill="#af1346" d="M491.2 330.7h1v1h-1z"/>
<path fill="#d9434e" d="M489.8 320.8h1v1h-1z"/>
<path fill="#d1394e" d="M489.2 335.7h1v1h-1z"/>
<path fill="#f7834d" d="M482 338h1v1h-1zM533.8 330.7h1v1h-1zM547.3 281h1v1h-1zM548.7 279.6h1v1h-1zM563.6 279.2h1v1h-1z"/>
<path fill="#ae1346" d="M488.1 335.7h1v1h-1zM518.1 313.4h1v1h-1z"/>
<path fill="#fed985" d="M515 305.7h1v1h-1zM525.1 312.8h1v1h-1zM595.7 362.9h1v1h-1z"/>
<path fill="#eb5f46" d="M482.7 328.5h1v1h-1z"/>
<path fill="#fff0a5" d="M498 323.7h1v1h-1zM574.9 286.2h1v1h-1zM560.6 277h1v1h-1z"/>
<path fill="#ba2049" d="M489.9 324h1v1h-1zM523.3 308.6h1v1h-1z"/>
<path fill="#f7814c" d="M487.2 323h1v1h-1zM532.8 319.2h1v1h-1zM535.4 326.8h1v1h-1zM537.7 362.2h1v1h-1zM537.1 356.6h1v1h-1z"/>
<path fill="#f57145" d="M490.6 334.4h1v1h-1zM535.6 328.2h1v1h-1zM537.1 342.9h1v1h-1zM535.4 336.8h1v1h-1zM535.6 327.8h1v1h-1zM557.9 281h1v1h-1z"/>
<path fill="#fca45c" d="M509 318.8h1v1h-1zM549.4 285.6h1v1h-1z"/>
<path fill="#f57848" d="M497.6 315.2h1v1h-1zM515.9 315.1h1v1h-1zM533.5 324h1v1h-1z"/>
<path fill="#f26944" d="M487.3 328.3h1v1h-1zM490.8 318.6h1v1h-1z"/>
<path fill="#feca79" d="M523 309.3h1v1h-1zM505.9 317.2h1v1h-1zM561.5 273.2h1v1h-1z"/>
<path fill="#a70c44" d="M495.1 328.2h1v1h-1z"/>
<path fill="#fb9d59" d="M512.6 312.8h1v1h-1zM534.2 326.7h1v1h-1zM547.9 288.7h1v1h-1zM542.2 288.2h1v1h-1zM545.4 285.1h1v1h-1z"/>
<path fill="#feca78" d="M482.4 337.2h1v1h-1zM569.1 276h1v1h-1zM565.7 276.1h1v1h-1zM561.9 279.6h1v1h-1z"/>
<path fill="#feeb9d" d="M486.6 340.8h1v1h-1zM596.9 363.1h1v1h-1zM571.6 299.2h1v1h-1z"/>
<path fill="#b11646" d="M499.7 313h1v1h-1zM500.9 320.6h1v1h-1zM542.4 299.1h1v1h-1z"/>
<path fill="#f67a49" d="M496.6 322.9h1v1h-1zM525 312h1v1h-1zM537.2 357.4h1v1h-1zM538.2 300h1v1h-1z"/>
<path fill="#c9314c" d="M507.6 311h1v1h-1zM506.5 311.7h1v1h-1zM535.2 321.1h1v1h-1zM547.9 260.6h1v1h-1z"/>
<path fill="#c8304c" d="M522 313.8h1v1h-1zM501.5 312.1h1v1h-1zM515 306.2h1v1h-1z"/>
<path fill="#fedd89" d="M484.8 330h1v1h-1z"/>
<path fill="#fee08b" d="M492.9 327h1v1h-1zM549.6 287.9h1v1h-1zM573.4 285.5h1v1h-1zM560.7 271.9h1v1h-1zM564.5 274.4h1v1h-1z"/>
<path fill="#fdbd6e" d="M494.4 316h1v1h-1z"/>
<path fill="#a20643" d="M506.7 320.6h1v1h-1z"/>
<path fill="#fdb063" d="M517.4 303.4h1v1h-1z"/>
<path fill="#fba05b" d="M529 310.3h1v1h-1zM595.8 341.9h1v1h-1z"/>
<path fill="#ea5e47" d="M526 314.5h1v1h-1zM491.7 325.6h1v1h-1zM534.1 344.4h1v1h-1zM535.1 309h1v1h-1z"/>
<path fill="#fdae61" d="M495 317.3h1v1h-1z"/>
<path fill="#fa9b58" d="M524.2 311.6h1v1h-1zM533.5 309.5h1v1h-1zM564.2 266.1h1v1h-1z"/>
<path fill="#fff6af" d="M525 309h1v1h-1zM501.3 321.5h1v1h-1zM595.1 352.3h1v1h-1z"/>
<path fill="#a90d45" d="M512.9 307.1h1v1h-1zM483.3 326.2h1v1h-1zM498.9 322.2h1v1h-1zM498.6 315h1v1h-1z"/>
<path fill="#c2294b" d="M511.2 315.5h1v1h-1zM491.5 321.9h1v1h-1zM485.1 336.5h1v1h-1z"/>
<path fill="#fff0a6" d="M487.1 338.5h1v1h-1zM520.8 308.3h1v1h-1zM596.4 365.3h1v1h-1zM591.9 355.3h1v1h-1z"/>
<path fill="#fee38f" d="M484.5 330.2h1v1h-1z"/>
<path fill="#bb2149" d="M500.1 314.2h1v1h-1zM552 283.6h1v1h-1z"/>
<path fill="#fdb062" d="M500.4 317.5h1v1h-1zM534.5 308.4h1v1h-1z"/>
<path fill="#f7864f" d="M488.5 327.7h1v1h-1z"/>
<path fill="#fa9656" d="M513.3 312.4h1v1h-1zM536.2 346.8h1v1h-1zM535.6 336.2h1v1h-1zM546.2 288.8h1v1h-1zM562.8 269.5h1v1h-1z"/>
<path fill="#fa9556" d="M519.5 311.4h1v1h-1zM517 310.2h1v1h-1z"/>
<path fill="#f99154" d="M481.6 328.7h1v1h-1zM534 323.9h1v1h-1zM534.1 326.6h1v1h-1zM542.1 290.8h1v1h-1zM544.7 289.5h1v1h-1z"/>
<path fill="#a50944" d="M487.2 339.8h1v1h-1zM501.4 319.6h1v1h-1zM535.6 332.3h1v1h-1z"/>
<path fill="#d9444e" d="M492 325.4h1v1h-1z"/>
<path fill="#f7804c" d="M525.8 304.2h1v1h-1zM516.5 305.6h1v1h-1zM497.5 318.5h1v1h-1zM537 328.9h1v1h-1zM536.8 342.7h1v1h-1zM537.7 302.2h1v1h-1zM563.4 275.7h1v1h-1z"/>
<path fill="#dc484c" d="M519 314.6h1v1h-1zM490 327.9h1v1h-1zM534.1 359.8h1v1h-1zM547.9 282.8h1v1h-1zM550.4 284.5h1v1h-1z"/>
<path fill="#e95c47" d="M484.2 333.1h1v1h-1zM499.3 313.5h1v1h-1zM500.5 317.6h1v1h-1zM504.2 316.3h1v1h-1zM534.6 325.3h1v1h-1zM550 287.1h1v1h-1zM544.5 287.4h1v1h-1z"/>
<path fill="#d7424e" d="M497.3 323.8h1v1h-1zM507.3 315.1h1v1h-1zM557.8 285.6h1v1h-1z"/>
<path fill="#cc344d" d="M499.1 319.2h1v1h-1zM500.2 323.9h1v1h-1zM545.8 287.1h1v1h-1z"/>
<path fill="#fdbc6d" d="M497.3 322.6h1v1h-1zM538.9 302.9h1v1h-1zM540.1 298.7h1v1h-1z"/>
<path fill="#f36c43" d="M487.1 331.1h1v1h-1zM532.7 317.4h1v1h-1zM537.3 347.3h1v1h-1zM537.5 365.7h1v1h-1zM537.8 305.7h1v1h-1zM565.6 278.7h1v1h-1z"/>
<path fill="#d63f4f" d="M486.3 338.8h1v1h-1zM497.9 315.2h1v1h-1zM533.4 316.9h1v1h-1zM559.3 283h1v1h-1zM557.9 282.5h1v1h-1z"/>
<path fill="#fed582" d="M491.6 327.2h1v1h-1zM506.9 316.7h1v1h-1z"/>
<path fill="#fec978" d="M508.3 309.3h1v1h-1z"/>
<path fill="#fed885" d="M506.4 315.2h1v1h-1zM593.7 353.1h1v1h-1z"/>
<path fill="#c0274a" d="M491.2 329.9h1v1h-1zM484.3 339.3h1v1h-1z"/>
<path fill="#feefa5" d="M500.4 315.1h1v1h-1zM537.2 367.1h1v1h-1zM560.1 267.4h1v1h-1z"/>
<path fill="#eb6046" d="M503 318.6h1v1h-1zM484.6 326h1v1h-1zM533.9 320.1h1v1h-1zM563.2 266.4h1v1h-1z"/>
<path fill="#fdb769" d="M487.6 323.8h1v1h-1zM487.3 332.2h1v1h-1zM535.7 338.3h1v1h-1zM546 285h1v1h-1z"/>
<path fill="#fff9b6" d="M525.2 308.9h1v1h-1z"/>
<path fill="#f7854e" d="M524.8 311.6h1v1h-1zM540.9 298.8h1v1h-1z"/>
<path fill="#dd494c" d="M493.4 319.4h1v1h-1zM530 308.7h1v1h-1zM501.6 321.1h1v1h-1z"/>
<path fill="#fdb265" d="M493.4 323.7h1v1h-1zM536.3 307.1h1v1h-1z"/>
<path fill="#fdbe6e" d="M492.6 317.2h1v1h-1zM547.2 285h1v1h-1zM549.4 289.5h1v1h-1zM552 282.5h1v1h-1zM564.8 275.5h1v1h-1z"/>
<path fill="#b71d48" d="M519 316.7h1v1h-1zM515.8 312.6h1v1h-1zM547.8 265.3h1v1h-1z"/>
<path fill="#b61b48" d="M505 309.8h1v1h-1zM528.2 312.2h1v1h-1z"/>
<path fill="#fdb164" d="M526.9 314.2h1v1h-1zM564.8 276.8h1v1h-1z"/>
<path fill="#fffab7" d="M489.2 330.3h1v1h-1zM516.3 315.5h1v1h-1z"/>
<path fill="#fa9957" d="M521.4 303.5h1v1h-1zM500.9 317h1v1h-1zM546.2 285.5h1v1h-1zM569.8 275.2h1v1h-1zM562.9 272.7h1v1h-1zM564.6 279.3h1v1h-1z"/>
<path fill="#fdb96a" d="M481.6 331.6h1v1h-1zM512.4 310.3h1v1h-1zM534.4 341.3h1v1h-1zM565.6 277h1v1h-1zM563 272.3h1v1h-1zM568.9 276.9h1v1h-1z"/>
<path fill="#db484c" d="M501.8 321.9h1v1h-1z"/>
<path fill="#fffdbc" d="M528.5 309h1v1h-1zM591.2 337.4h1v1h-1zM566.1 289.7h1v1h-1zM562.9 282.7h1v1h-1zM596.7 340.7h1v1h-1z"/>
<path fill="#fdb96b" d="M524.2 311.7h1v1h-1z"/>
<path fill="#f06645" d="M524.6 311.3h1v1h-1zM534.3 333.9h1v1h-1z"/>
<path fill="#fba25b" d="M518 311h1v1h-1zM556.6 283.9h1v1h-1z"/>
<path fill="#fed481" d="M520 303.2h1v1h-1zM570.6 277.3h1v1h-1z"/>
<path fill="#fee899" d="M521.5 307.8h1v1h-1z"/>
<path fill="#f88b51" d="M503.3 316h1v1h-1zM535.4 337.9h1v1h-1zM535.4 348.8h1v1h-1zM541.7 296.6h1v1h-1zM565.2 270.1h1v1h-1z"/>
<path fill="#fdc575" d="M488.4 321.2h1v1h-1z"/>
<path fill="#fdc776" d="M487.3 326.3h1v1h-1zM561.9 280.8h1v1h-1z"/>
<path fill="#e04f4b" d="M506.8 319.5h1v1h-1zM536.2 317.4h1v1h-1zM536.5 322.5h1v1h-1zM535.7 356.7h1v1h-1z"/>
<path fill="#fffbb9" d="M487.1 331.3h1v1h-1zM487.4 327.5h1v1h-1zM570.4 296.7h1v1h-1z"/>
<path fill="#e1514a" d="M530.9 310.5h1v1h-1z"/>
<path fill="#e45549" d="M500.7 316.9h1v1h-1zM538.2 349.5h1v1h-1zM554.5 284.9h1v1h-1z"/>
<path fill="#d8434e" d="M503.3 316.6h1v1h-1zM534.6 345.7h1v1h-1z"/>
<path fill="#c72f4c" d="M523.4 308.9h1v1h-1zM538.3 298.9h1v1h-1zM550.5 283.3h1v1h-1zM550 258.7h1v1h-1z"/>
<path fill="#a00342" d="M487 331.5h1v1h-1z"/>
<path fill="#fca75e" d="M525.4 305.1h1v1h-1zM512.7 312.5h1v1h-1zM535.3 321.8h1v1h-1z"/>
<path fill="#b61c48" d="M486.6 339h1v1h-1zM527 307.5h1v1h-1zM512.8 317.6h1v1h-1zM533.2 331.6h1v1h-1zM547.4 264.7h1v1h-1zM548.9 266.4h1v1h-1z"/>
<path fill="#fff2a9" d="M494.6 324.7h1v1h-1zM585.3 325.5h1v1h-1zM581 308.3h1v1h-1z"/>
<path fill="#a50844" d="M523.3 308.7h1v1h-1zM499.5 319.6h1v1h-1z"/>
<path fill="#fdb466" d="M510.5 318.4h1v1h-1zM538.2 305.8h1v1h-1zM568.4 275.5h1v1h-1z"/>
<path fill="#ec6146" d="M491.2 319h1v1h-1zM534.5 364.9h1v1h-1zM535.6 355.9h1v1h-1zM536.8 348.6h1v1h-1zM568.1 271.1h1v1h-1z"/>
<path fill="#b31947" d="M498.4 325.7h1v1h-1z"/>
<path fill="#a40844" d="M489.2 330.2h1v1h-1z"/>
<path fill="#ec6246" d="M509.5 319.8h1v1h-1z"/>
<path fill="#fa9857" d="M489.1 332.8h1v1h-1z"/>
<path fill="#b11647" d="M516 315.1h1v1h-1zM483.4 336.7h1v1h-1z"/>
<path fill="#feeca0" d="M497.1 325.1h1v1h-1zM588.7 324.6h1v1h-1z"/>
<path fill="#f46e44" d="M495 320.9h1v1h-1z"/>
<path fill="#bb2249" d="M526.6 313.1h1v1h-1zM492 325.9h1v1h-1zM562.7 271.1h1v1h-1z"/>
<path fill="#f47045" d="M526.2 308.8h1v1h-1zM543.7 291.3h1v1h-1z"/>
<path fill="#ebf79f" d="M528.4 309.7h1v1h-1zM544.2 368.5h1v1h-1z"/>
<path fill="#f7824d" d="M484.5 334.5h1v1h-1zM509.1 308.9h1v1h-1zM535.4 315.2h1v1h-1zM533.7 323.7h1v1h-1z"/>
<path fill="#fedc88" d="M488.4 328.1h1v1h-1zM532.6 330.7h1v1h-1zM535.8 331.2h1v1h-1zM593.3 352.8h1v1h-1z"/>
<path fill="#f67f4b" d="M523.1 313.2h1v1h-1zM533.2 321.6h1v1h-1zM569 278.3h1v1h-1z"/>
<path fill="#f36b43" d="M483.9 336h1v1h-1zM535.5 329.1h1v1h-1zM534 330h1v1h-1zM535.4 353.8h1v1h-1z"/>
<path fill="#d53f4f" d="M500.5 322h1v1h-1z"/>
<path fill="#e75a48" d="M520.4 313.9h1v1h-1zM536.2 351.3h1v1h-1z"/>
<path fill="#f9fcb5" d="M500.3 314.2h1v1h-1z"/>
<path fill="#fca65d" d="M510.6 306.8h1v1h-1zM547.8 285h1v1h-1z"/>
<path fill="#ac1145" d="M490.3 325.3h1v1h-1z"/>
<path fill="#cb324d" d="M483.4 338.6h1v1h-1z"/>
<path fill="#feeea3" d="M487.8 326.7h1v1h-1zM567.6 280.5h1v1h-1z"/>
<path fill="#f99254" d="M511.6 313h1v1h-1zM543.8 292.2h1v1h-1zM569.2 276h1v1h-1z"/>
<path fill="#df4c4b" d="M487.4 337.8h1v1h-1z"/>
<path fill="#be2449" d="M526.2 310.9h1v1h-1z"/>
<path fill="#c32a4b" d="M496.6 313.2h1v1h-1zM502.5 317.4h1v1h-1zM505.7 311.7h1v1h-1zM534.9 325.6h1v1h-1zM546.8 284.8h1v1h-1zM550 263.9h1v1h-1z"/>
<path fill="#df4e4b" d="M487.3 320.8h1v1h-1zM536.9 331h1v1h-1z"/>
<path fill="#a40843" d="M493.1 321.1h1v1h-1zM550.3 263.4h1v1h-1z"/>
<path fill="#feefa4" d="M519.3 312.5h1v1h-1zM573.8 294.1h1v1h-1zM567.4 278.7h1v1h-1z"/>
<path fill="#f67c4a" d="M484.8 337.4h1v1h-1zM538.4 306h1v1h-1zM550.6 265.4h1v1h-1zM561 264.1h1v1h-1z"/>
<path fill="#feec9e" d="M524.3 310.6h1v1h-1z"/>
<path fill="#b71c48" d="M485.4 340.8h1v1h-1z"/>
<path fill="#d6404e" d="M484.7 338.2h1v1h-1zM545.6 291.2h1v1h-1z"/>
<path fill="#e85c47" d="M508.2 320.4h1v1h-1z"/>
<path fill="#f99355" d="M482.8 327.9h1v1h-1zM534.1 343.3h1v1h-1zM548.3 283h1v1h-1z"/>
<path fill="#c42b4b" d="M529.8 308.7h1v1h-1zM532.8 323.1h1v1h-1z"/>
<path fill="#9f0242" d="M490.5 329.6h1v1h-1z"/>
<path fill="#fff5ad" d="M495.9 324.3h1v1h-1zM560.3 272.4h1v1h-1z"/>
<path fill="#db484d" d="M535.3 355h1v1h-1zM535.4 339.5h1v1h-1z"/>
<path fill="#f57748" d="M538.6 362.7h1v1h-1zM537.8 356.9h1v1h-1zM534.2 319.4h1v1h-1zM533.4 316.6h1v1h-1z"/>
<path fill="#f67d4b" d="M535.4 322.2h1v1h-1z"/>
<path fill="#fb9e5a" d="M534.3 321.4h1v1h-1zM535.8 349.1h1v1h-1z"/>
<path fill="#e45449" d="M536.3 338.3h1v1h-1zM563 275h1v1h-1z"/>
<path fill="#fdb667" d="M536.7 317.6h1v1h-1z"/>
<path fill="#a20543" d="M537.3 360.8h1v1h-1z"/>
<path fill="#f7844e" d="M534.3 319.4h1v1h-1zM540.2 294.9h1v1h-1zM562.9 264.8h1v1h-1z"/>
<path fill="#b41947" d="M534.6 340.1h1v1h-1z"/>
<path fill="#fdac60" d="M535 337.1h1v1h-1z"/>
<path fill="#f57647" d="M536.5 321.6h1v1h-1zM563.1 275.8h1v1h-1z"/>
<path fill="#f88850" d="M534.2 327.9h1v1h-1z"/>
<path fill="#f47044" d="M533.1 333.5h1v1h-1zM535.8 337h1v1h-1zM532.2 327.8h1v1h-1zM559 281.2h1v1h-1zM557 285.3h1v1h-1z"/>
<path fill="#d23a4e" d="M535.7 341.5h1v1h-1zM564.9 271.7h1v1h-1z"/>
<path fill="#f57747" d="M534.2 338.5h1v1h-1z"/>
<path fill="#f47145" d="M534.1 326.9h1v1h-1z"/>
<path fill="#e95d47" d="M535.5 359.6h1v1h-1zM549 261.3h1v1h-1z"/>
<path fill="#fdb567" d="M533.6 341.6h1v1h-1zM551.7 287.4h1v1h-1z"/>
<path fill="#f36b44" d="M535.2 330.1h1v1h-1z"/>
<path fill="#d33c4f" d="M534.5 341.9h1v1h-1zM538 355.9h1v1h-1zM549.1 265.6h1v1h-1z"/>
<path fill="#ea5d47" d="M536.8 340.8h1v1h-1zM542.5 297.5h1v1h-1z"/>
<path fill="#e85b47" d="M534.9 361.1h1v1h-1z"/>
<path fill="#f67e4b" d="M535.8 362.1h1v1h-1zM548.2 289.5h1v1h-1zM542 299.5h1v1h-1z"/>
<path fill="#d7404e" d="M534.9 318.4h1v1h-1z"/>
<path fill="#f57446" d="M536.5 349.3h1v1h-1zM556.9 282.5h1v1h-1z"/>
<path fill="#fed07d" d="M535.2 332.9h1v1h-1zM564 267h1v1h-1z"/>
<path fill="#f88950" d="M537.1 359.4h1v1h-1zM566.6 274.7h1v1h-1z"/>
<path fill="#f7824c" d="M534 315.4h1v1h-1z"/>
<path fill="#f67948" d="M534.4 340.1h1v1h-1zM551.5 287.3h1v1h-1zM536.8 307.6h1v1h-1zM564.1 273.2h1v1h-1z"/>
<path fill="#fecf7c" d="M535 351.6h1v1h-1zM594.8 363.4h1v1h-1z"/>
<path fill="#fa9c59" d="M536.6 356h1v1h-1z"/>
<path fill="#cf384e" d="M533.8 315.8h1v1h-1z"/>
<path fill="#fb9f5a" d="M536.2 358.7h1v1h-1zM546.8 286.9h1v1h-1zM566.8 269.8h1v1h-1z"/>
<path fill="#f06844" d="M538 353.4h1v1h-1z"/>
<path fill="#fdb86a" d="M532.5 321.6h1v1h-1z"/>
<path fill="#da454d" d="M537.1 342.7h1v1h-1zM549.8 285.6h1v1h-1z"/>
<path fill="#b6e2a2" d="M543.9 380.7h1v1h-1zM535.1 370.5h1v1h-1zM569.5 282.9h1v1h-1z"/>
<path fill="#f7fcb2" d="M538.3 381.6h1v1h-1zM582.8 314.3h1v1h-1zM593 350.4h1v1h-1z"/>
<path fill="#a8dca4" d="M541.6 371.2h1v1h-1zM587.5 325h1v1h-1z"/>
<path fill="#a7dba4" d="M540 378.6h1v1h-1zM578.9 298.3h1v1h-1z"/>
<path fill="#c7e89e" d="M536.2 367.6h1v1h-1z"/>
<path fill="#f9fdb6" d="M541.5 379.4h1v1h-1zM580.7 304.2h1v1h-1zM571.2 294.8h1v1h-1z"/>
<path fill="#a1d9a4" d="M542.9 382.7h1v1h-1zM597.8 352.4h1v1h-1zM601.5 356.5h1v1h-1zM592 349.5h1v1h-1z"/>
<path fill="#aadda4" d="M537.6 383.1h1v1h-1z"/>
<path fill="#69c3a5" d="M541.1 384.6h1v1h-1z"/>
<path fill="#fafdb7" d="M541.1 377.2h1v1h-1zM536.9 304.4h1v1h-1zM572.9 296.2h1v1h-1zM589.5 324.5h1v1h-1z"/>
<path fill="#94d4a4" d="M545.8 379.8h1v1h-1zM537.6 371.9h1v1h-1zM583.3 319.4h1v1h-1z"/>
<path fill="#dcf19a" d="M537.9 366.1h1v1h-1zM571.6 297h1v1h-1zM571.7 288.3h1v1h-1zM571.7 286.2h1v1h-1z"/>
<path fill="#f0f9a7" d="M534.4 374.3h1v1h-1zM535.3 377.5h1v1h-1z"/>
<path fill="#eff8a6" d="M539.7 378.4h1v1h-1z"/>
<path fill="#3880b9" d="M536.1 374.2h1v1h-1zM576.3 290.2h1v1h-1zM595.6 358.2h1v1h-1zM590.4 325.7h1v1h-1z"/>
<path fill="#f3faad" d="M537 375.8h1v1h-1zM597.1 363.2h1v1h-1z"/>
<path fill="#aedea3" d="M537.6 369.4h1v1h-1zM546 381.2h1v1h-1zM544.6 379.4h1v1h-1zM573.9 302h1v1h-1z"/>
<path fill="#acdda4" d="M538.1 371.8h1v1h-1zM576.4 297.7h1v1h-1z"/>
<path fill="#9bd7a4" d="M542.7 370.2h1v1h-1zM540.9 370.1h1v1h-1zM590.8 337.1h1v1h-1z"/>
<path fill="#397eb8" d="M546.3 373.1h1v1h-1zM577.8 311.7h1v1h-1zM599.8 362h1v1h-1z"/>
<path fill="#5e4fa2" d="M542.9 372.7h1v1h-1zM544.5 371.5h1v1h-1zM542.8 371.8h1v1h-1zM545.2 381h1v1h-1zM576.8 305.3h1v1h-1zM584.4 308.8h1v1h-1zM590.7 335.9h1v1h-1zM600.9 361.3h1v1h-1zM594.1 348.5h1v1h-1zM588.1 327.7h1v1h-1zM580.9 308.8h1v1h-1zM576.1 301.9h1v1h-1zM601.2 354.2h1v1h-1zM590 344.3h1v1h-1zM579.3 295.5h1v1h-1zM599 364.9h1v1h-1zM581.6 305.9h1v1h-1zM589.5 332h1v1h-1zM579.5 297.9h1v1h-1zM587.4 333.6h1v1h-1zM590.7 336.7h1v1h-1zM570.1 282.9h1v1h-1zM582.1 301.3h1v1h-1zM597.8 362.1h1v1h-1zM593 338.1h1v1h-1zM577.7 302.9h1v1h-1zM589.6 344.6h1v1h-1zM587.3 321.4h1v1h-1zM592 324.7h1v1h-1zM580.7 299h1v1h-1zM582.8 308h1v1h-1zM593.3 331.3h1v1h-1zM595.9 349.8h1v1h-1zM570 291h1v1h-1zM575 287.7h1v1h-1zM598.5 354.8h1v1h-1zM582.6 304.8h1v1h-1zM579.9 295.5h1v1h-1zM579.5 310.9h1v1h-1zM573.2 300.2h1v1h-1zM586.6 332.3h1v1h-1zM572.5 296.8h1v1h-1zM592.5 355.9h1v1h-1zM588.5 326.3h1v1h-1zM580.1 306.1h1v1h-1zM597.3 349.6h1v1h-1zM576 291.2h1v1h-1zM580.4 317h1v1h-1zM591.2 347.4h1v1h-1zM600.5 360.9h1v1h-1zM593.6 339.1h1v1h-1zM575.2 308h1v1h-1zM595.7 347.1h1v1h-1zM576.1 291.6h1v1h-1zM571.9 281.9h1v1h-1zM596.8 360.8h1v1h-1zM595.8 349.6h1v1h-1zM573.2 285h1v1h-1zM599.4 349.4h1v1h-1zM595.4 335.4h1v1h-1zM585.1 308.6h1v1h-1zM588.4 339.8h1v1h-1z"/>
<path fill="#e9f69d" d="M534.7 366.9h1v1h-1zM534.6 368.2h1v1h-1zM546.3 371.1h1v1h-1zM595.4 352.8h1v1h-1zM566.5 284.4h1v1h-1zM581.9 305h1v1h-1zM593 352.1h1v1h-1zM571.3 288.9h1v1h-1z"/>
<path fill="#4d66ad" d="M540.6 383.5h1v1h-1z"/>
<path fill="#70c6a5" d="M543.5 373.9h1v1h-1zM536 379.5h1v1h-1zM535.6 365.6h1v1h-1zM538.8 379.4h1v1h-1zM573.9 286.9h1v1h-1zM594.4 338.8h1v1h-1zM591.1 338.8h1v1h-1zM597.3 353h1v1h-1z"/>
<path fill="#4273b3" d="M545.9 376.2h1v1h-1zM582.6 322.4h1v1h-1zM577.3 296.9h1v1h-1zM590.3 334.1h1v1h-1zM596.2 341.2h1v1h-1zM593.8 338.3h1v1h-1z"/>
<path fill="#4c67ad" d="M540.4 366.2h1v1h-1zM577.3 291.5h1v1h-1z"/>
<path fill="#5ab5ab" d="M539.1 376.1h1v1h-1z"/>
<path fill="#5bb6aa" d="M540.1 370h1v1h-1zM537.1 367.4h1v1h-1zM542.5 378.8h1v1h-1zM583.5 326.5h1v1h-1zM570.7 283.2h1v1h-1zM569.5 285.3h1v1h-1z"/>
<path fill="#ebf7a0" d="M541.5 373.1h1v1h-1zM538.2 377.3h1v1h-1zM546.6 379.3h1v1h-1zM596.4 358.4h1v1h-1zM590.4 327.1h1v1h-1zM574.4 301.6h1v1h-1z"/>
<path fill="#c9e99e" d="M536.7 378.7h1v1h-1zM543.5 373.3h1v1h-1zM543.5 378.5h1v1h-1zM540.4 369h1v1h-1zM576.8 298.9h1v1h-1z"/>
<path fill="#49a2b2" d="M543.4 378.1h1v1h-1zM588.7 337.9h1v1h-1zM586.5 324.7h1v1h-1zM594.6 331h1v1h-1z"/>
<path fill="#e6f598" d="M534.6 369.8h1v1h-1zM534.9 373h1v1h-1zM537.9 365.1h1v1h-1zM562.2 281.5h1v1h-1z"/>
<path fill="#a0d9a4" d="M534.4 368.5h1v1h-1zM596.8 346.2h1v1h-1zM577.8 308.9h1v1h-1z"/>
<path fill="#92d3a4" d="M546 381.5h1v1h-1zM539.1 364.8h1v1h-1zM570.5 284.2h1v1h-1zM595.4 342.2h1v1h-1z"/>
<path fill="#fff6b1" d="M534.9 366.4h1v1h-1zM565.4 283.2h1v1h-1z"/>
<path fill="#e7f59a" d="M535.7 367.4h1v1h-1zM584.7 325.1h1v1h-1z"/>
<path fill="#8bd1a4" d="M538.8 375.5h1v1h-1z"/>
<path fill="#5061ab" d="M541.9 377.6h1v1h-1zM585 318.5h1v1h-1zM596.7 351.3h1v1h-1zM589 340.4h1v1h-1z"/>
<path fill="#b0dfa3" d="M537.6 381h1v1h-1zM544.9 381h1v1h-1zM565.2 285.4h1v1h-1zM601.1 352h1v1h-1zM595.4 342.4h1v1h-1z"/>
<path fill="#b2e0a3" d="M541.8 370.3h1v1h-1zM587.2 335h1v1h-1zM563.4 283.5h1v1h-1zM577.9 308.9h1v1h-1z"/>
<path fill="#afdfa3" d="M536 369.4h1v1h-1zM538.5 371.1h1v1h-1z"/>
<path fill="#5d50a2" d="M541.1 376.1h1v1h-1z"/>
<path fill="#f6fbb1" d="M534.1 373.8h1v1h-1zM535.7 368.1h1v1h-1zM568.9 288.9h1v1h-1zM595.3 363.8h1v1h-1zM579.6 319h1v1h-1z"/>
<path fill="#8dd1a4" d="M535.2 366.5h1v1h-1z"/>
<path fill="#c6e89e" d="M539.2 365.3h1v1h-1zM535.7 370.6h1v1h-1zM580.7 313.7h1v1h-1z"/>
<path fill="#ecf8a2" d="M544.3 374.5h1v1h-1z"/>
<path fill="#56b1ac" d="M543.1 377.9h1v1h-1z"/>
<path fill="#f2faab" d="M542 382.2h1v1h-1zM537.5 364.7h1v1h-1zM590.5 351.7h1v1h-1zM567 289.6h1v1h-1zM563.8 287.2h1v1h-1z"/>
<path fill="#b4e1a2" d="M536.3 369.2h1v1h-1zM594 329.7h1v1h-1z"/>
<path fill="#b3e0a2" d="M535.8 382.7h1v1h-1z"/>
<path fill="#cbea9e" d="M535.9 372.2h1v1h-1zM570.6 288.3h1v1h-1z"/>
<path fill="#eaf69e" d="M541.6 368.6h1v1h-1zM594.7 340.7h1v1h-1z"/>
<path fill="#b9e3a1" d="M534.1 371.8h1v1h-1zM540.2 372.8h1v1h-1z"/>
<path fill="#fdc675" d="M534.8 374.2h1v1h-1zM567.7 280.6h1v1h-1z"/>
<path fill="#52abae" d="M538.1 371.4h1v1h-1zM538 369.9h1v1h-1z"/>
<path fill="#aadca4" d="M541.2 374.7h1v1h-1z"/>
<path fill="#90d2a4" d="M538.2 368.9h1v1h-1z"/>
<path fill="#e8f69b" d="M534.6 375.2h1v1h-1zM597.9 343.6h1v1h-1z"/>
<path fill="#3386bc" d="M540.3 368.8h1v1h-1z"/>
<path fill="#c5e89f" d="M533.6 366.2h1v1h-1zM598.6 350.1h1v1h-1z"/>
<path fill="#5659a7" d="M547.5 378h1v1h-1zM575 294.6h1v1h-1zM597.1 341.2h1v1h-1z"/>
<path fill="#fede89" d="M541.4 377h1v1h-1z"/>
<path fill="#3e78b5" d="M538.7 373.9h1v1h-1zM570 289.3h1v1h-1zM589.9 326.2h1v1h-1z"/>
<path fill="#3b92b9" d="M544.8 381.8h1v1h-1zM546.6 374h1v1h-1zM573.6 290h1v1h-1zM578.6 308.6h1v1h-1zM586.8 324.8h1v1h-1z"/>
<path fill="#b5e1a2" d="M539.7 371.1h1v1h-1zM565.3 289.4h1v1h-1zM569.5 287.3h1v1h-1zM574.6 292.9h1v1h-1zM575.5 303.6h1v1h-1zM570.4 296.6h1v1h-1z"/>
<path fill="#abdda4" d="M541.6 376.4h1v1h-1z"/>
<path fill="#75c8a5" d="M540.6 368.1h1v1h-1zM584.1 320.4h1v1h-1zM576.9 292.4h1v1h-1z"/>
<path fill="#8cd1a4" d="M538.9 373.9h1v1h-1zM598.9 347.5h1v1h-1zM601.8 354.4h1v1h-1zM590.8 336.3h1v1h-1zM579.8 311.3h1v1h-1z"/>
<path fill="#7acaa5" d="M539.1 367.3h1v1h-1zM581.2 321.6h1v1h-1z"/>
<path fill="#f7fcb3" d="M539.7 371h1v1h-1zM565.2 267.8h1v1h-1z"/>
<path fill="#3288bd" d="M540.1 377.4h1v1h-1zM579.4 312.7h1v1h-1zM590.8 346.4h1v1h-1zM582.6 324h1v1h-1zM593.7 335.5h1v1h-1z"/>
<path fill="#62bea7" d="M543 380.6h1v1h-1zM597.3 354.2h1v1h-1zM592.5 343.9h1v1h-1zM591.1 349h1v1h-1zM584.4 317.8h1v1h-1z"/>
<path fill="#81cca5" d="M536.8 378.1h1v1h-1z"/>
<path fill="#86cfa5" d="M538.3 383h1v1h-1z"/>
<path fill="#c2e69f" d="M534.6 376.3h1v1h-1zM593.3 347.3h1v1h-1z"/>
<path fill="#98d5a4" d="M534.3 368.1h1v1h-1zM540.4 381.8h1v1h-1z"/>
<path fill="#6dc5a5" d="M539.1 365.6h1v1h-1zM545.1 379.2h1v1h-1zM538.8 366.5h1v1h-1z"/>
<path fill="#5db8a9" d="M545.9 375.4h1v1h-1z"/>
<path fill="#4ea7b0" d="M541.3 383.1h1v1h-1zM599.8 362.3h1v1h-1zM587.2 318.6h1v1h-1zM588.1 322.5h1v1h-1z"/>
<path fill="#54aead" d="M537.6 368h1v1h-1z"/>
<path fill="#ddf19a" d="M536.5 374.8h1v1h-1zM575.7 294.8h1v1h-1zM597.1 346.5h1v1h-1zM585.7 311.3h1v1h-1z"/>
<path fill="#439bb5" d="M537.9 373.7h1v1h-1zM542.9 373.2h1v1h-1zM545.4 372.2h1v1h-1zM589.9 333.8h1v1h-1zM592.7 339.4h1v1h-1zM598.7 348.2h1v1h-1z"/>
<path fill="#d7ef9b" d="M539.4 373.6h1v1h-1zM584.5 316h1v1h-1z"/>
<path fill="#368cbb" d="M542.5 378.6h1v1h-1zM574 285.9h1v1h-1zM586 313.6h1v1h-1z"/>
<path fill="#9ad6a4" d="M535.3 376.3h1v1h-1zM565.9 291.3h1v1h-1z"/>
<path fill="#c8e99e" d="M540.5 373.3h1v1h-1zM566 287.8h1v1h-1zM563 285.1h1v1h-1z"/>
<path fill="#c4e79f" d="M536.9 364.5h1v1h-1zM580.5 318.3h1v1h-1zM595.6 363.9h1v1h-1z"/>
<path fill="#48a1b3" d="M542.2 367h1v1h-1z"/>
<path fill="#67c3a5" d="M539.6 371.4h1v1h-1z"/>
<path fill="#f8fcb5" d="M544.3 378.3h1v1h-1z"/>
<path fill="#f1f9a9" d="M540.8 382.1h1v1h-1zM577 298.1h1v1h-1zM578.9 300.1h1v1h-1zM582.7 312.4h1v1h-1z"/>
<path fill="#d1ec9c" d="M538 367h1v1h-1z"/>
<path fill="#b1dfa3" d="M543.4 370.3h1v1h-1z"/>
<path fill="#429ab6" d="M543.8 372.5h1v1h-1zM570.6 282.3h1v1h-1zM590 334.2h1v1h-1z"/>
<path fill="#daf09a" d="M536 373.5h1v1h-1zM575 293.9h1v1h-1zM596 356.8h1v1h-1z"/>
<path fill="#68c3a5" d="M542.4 384.1h1v1h-1zM538.7 373.8h1v1h-1zM593 341.6h1v1h-1zM574.2 298.7h1v1h-1z"/>
<path fill="#d2ed9c" d="M543 378.6h1v1h-1zM572 286.6h1v1h-1zM575.8 290h1v1h-1z"/>
<path fill="#ceeb9d" d="M542.1 375.4h1v1h-1z"/>
<path fill="#f9fdb5" d="M540.8 378.3h1v1h-1z"/>
<path fill="#3a7eb8" d="M533.8 366.7h1v1h-1zM587.6 323.2h1v1h-1zM591.4 325.1h1v1h-1zM599.9 360.8h1v1h-1zM572.1 285.2h1v1h-1z"/>
<path fill="#83cda5" d="M543.1 381.1h1v1h-1z"/>
<path fill="#52acae" d="M541.2 383.1h1v1h-1zM585.5 310.5h1v1h-1z"/>
<path fill="#d1ed9c" d="M536.6 375.3h1v1h-1zM571.2 285.9h1v1h-1z"/>
<path fill="#72c7a5" d="M535.1 370.5h1v1h-1zM542.3 368.5h1v1h-1z"/>
<path fill="#9fd8a4" d="M535.9 365.4h1v1h-1zM582.2 314.7h1v1h-1zM583.9 326.2h1v1h-1z"/>
<path fill="#4ca5b1" d="M538.5 382.4h1v1h-1zM587.9 331.5h1v1h-1zM592 331.5h1v1h-1zM578.1 306.5h1v1h-1zM582.5 321.3h1v1h-1zM570.3 283.2h1v1h-1zM569.5 285.6h1v1h-1z"/>
<path fill="#388eba" d="M544.3 378h1v1h-1zM569.2 286.4h1v1h-1zM574.9 294.4h1v1h-1zM585.7 315.6h1v1h-1z"/>
<path fill="#8ed2a4" d="M538 374.2h1v1h-1zM582.7 301.3h1v1h-1zM579.8 296h1v1h-1z"/>
<path fill="#469eb4" d="M541.5 372.3h1v1h-1z"/>
<path fill="#3d94b8" d="M545.6 375.5h1v1h-1zM597.2 349.3h1v1h-1z"/>
<path fill="#79c9a5" d="M536.9 380.7h1v1h-1z"/>
<path fill="#397fb9" d="M547.7 380.2h1v1h-1zM539.2 371.5h1v1h-1zM575.9 304.6h1v1h-1zM600.2 355.5h1v1h-1z"/>
<path fill="#99d6a4" d="M538.9 376.9h1v1h-1zM585.9 323.2h1v1h-1z"/>
<path fill="#55afad" d="M543.1 379.7h1v1h-1zM598.4 360.6h1v1h-1z"/>
<path fill="#c6e89f" d="M541.4 374.3h1v1h-1z"/>
<path fill="#e9f69c" d="M544.2 380h1v1h-1zM567.3 283.4h1v1h-1z"/>
<path fill="#4fa8b0" d="M539.5 382.7h1v1h-1zM584.7 323.2h1v1h-1zM586.9 314.2h1v1h-1z"/>
<path fill="#93d4a4" d="M538.9 365.3h1v1h-1zM576 288.7h1v1h-1zM600.2 358.1h1v1h-1z"/>
<path fill="#7ecba5" d="M533 371.2h1v1h-1zM580.1 305.9h1v1h-1z"/>
<path fill="#a2d9a4" d="M546.3 377.1h1v1h-1z"/>
<path fill="#b7e2a1" d="M538.2 381.2h1v1h-1z"/>
<path fill="#7fcca5" d="M545.4 372.5h1v1h-1zM587.4 325.3h1v1h-1zM581.3 310.6h1v1h-1z"/>
<path fill="#3c93b9" d="M541.9 372.5h1v1h-1zM578.1 309.7h1v1h-1zM586.8 310.4h1v1h-1z"/>
<path fill="#cfec9d" d="M545.9 373.4h1v1h-1z"/>
<path fill="#e0f299" d="M541.7 374.9h1v1h-1zM572.2 294.8h1v1h-1z"/>
<path fill="#57b1ac" d="M538.8 363.3h1v1h-1zM571.1 291.2h1v1h-1zM596.2 348.7h1v1h-1z"/>
<path fill="#f99455" d="M539.2 300.9h1v1h-1zM542 291.1h1v1h-1zM542.2 295.6h1v1h-1zM545.2 294.8h1v1h-1zM544.9 289.4h1v1h-1z"/>
<path fill="#ee6345" d="M537.1 310.3h1v1h-1zM547.9 291.9h1v1h-1z"/>
<path fill="#fdc070" d="M551.2 283.4h1v1h-1zM600.2 352.2h1v1h-1zM563.6 266.7h1v1h-1z"/>
<path fill="#fca45d" d="M545.6 287h1v1h-1z"/>
<path fill="#f67b49" d="M543.9 287.6h1v1h-1z"/>
<path fill="#f77f4b" d="M535.2 308h1v1h-1zM559.6 281.2h1v1h-1z"/>
<path fill="#fa9756" d="M547.1 285.6h1v1h-1zM542.3 294.1h1v1h-1z"/>
<path fill="#fa9a58" d="M547.5 284.6h1v1h-1z"/>
<path fill="#fb9c59" d="M541.3 301h1v1h-1zM543.2 296.9h1v1h-1z"/>
<path fill="#fefebd" d="M539.7 299.6h1v1h-1zM597.4 347.7h1v1h-1z"/>
<path fill="#fdab60" d="M546.6 293.7h1v1h-1zM545.8 283.8h1v1h-1z"/>
<path fill="#e2514a" d="M550.7 288.8h1v1h-1zM548.5 261h1v1h-1zM561.1 274.8h1v1h-1z"/>
<path fill="#fdbf6f" d="M537.9 307.6h1v1h-1z"/>
<path fill="#fee695" d="M541.3 298.7h1v1h-1zM549.2 283.3h1v1h-1z"/>
<path fill="#f67d4a" d="M538.8 305h1v1h-1zM565.8 270.1h1v1h-1z"/>
<path fill="#fdad61" d="M541.2 295.3h1v1h-1z"/>
<path fill="#f98f53" d="M536 309.3h1v1h-1z"/>
<path fill="#bd2449" d="M537.3 301.5h1v1h-1z"/>
<path fill="#de4c4c" d="M541.9 298.9h1v1h-1z"/>
<path fill="#f8864f" d="M541.3 299.6h1v1h-1z"/>
<path fill="#fec877" d="M537.2 302.1h1v1h-1zM537.8 298h1v1h-1zM562 272h1v1h-1zM564.6 271h1v1h-1z"/>
<path fill="#fdb264" d="M546.1 284.1h1v1h-1zM565.6 274.6h1v1h-1zM566.5 281h1v1h-1z"/>
<path fill="#fed581" d="M545.1 289.6h1v1h-1z"/>
<path fill="#fffbb8" d="M545.3 292.4h1v1h-1zM543.4 299.5h1v1h-1zM571.2 293.6h1v1h-1zM600.6 362.4h1v1h-1zM568.7 285.4h1v1h-1z"/>
<path fill="#fed783" d="M543.6 293.9h1v1h-1zM537.4 300.1h1v1h-1zM571.2 278.6h1v1h-1zM563.3 273h1v1h-1z"/>
<path fill="#fdb366" d="M548.3 287.9h1v1h-1z"/>
<path fill="#fedf8a" d="M549.3 284.9h1v1h-1zM562 279.7h1v1h-1zM568.5 278.5h1v1h-1z"/>
<path fill="#fed682" d="M536 310.3h1v1h-1z"/>
<path fill="#fecb7a" d="M538.6 296.5h1v1h-1z"/>
<path fill="#fba15b" d="M542.9 296h1v1h-1zM565.3 268.7h1v1h-1z"/>
<path fill="#feec9f" d="M545.6 284.7h1v1h-1z"/>
<path fill="#c0264a" d="M551.2 265.2h1v1h-1z"/>
<path fill="#d33b4e" d="M549.9 257.8h1v1h-1zM547.7 264.9h1v1h-1z"/>
<path fill="#bf254a" d="M549 260.9h1v1h-1z"/>
<path fill="#c9304c" d="M548.3 265h1v1h-1z"/>
<path fill="#f46c43" d="M548.5 263.2h1v1h-1z"/>
<path fill="#60bca8" d="M577.2 309.3h1v1h-1z"/>
<path fill="#3f96b7" d="M569 288.5h1v1h-1zM573.3 282.9h1v1h-1z"/>
<path fill="#66c2a5" d="M590.4 324.6h1v1h-1zM575.5 296.8h1v1h-1z"/>
<path fill="#8fd2a4" d="M596.8 342.8h1v1h-1z"/>
<path fill="#5061aa" d="M598 349h1v1h-1zM587.7 328.1h1v1h-1zM584.7 308.9h1v1h-1zM600.7 358.6h1v1h-1z"/>
<path fill="#65c1a5" d="M588.8 336.3h1v1h-1zM573.2 298.7h1v1h-1z"/>
<path fill="#fdba6b" d="M559.6 275.9h1v1h-1z"/>
<path fill="#459db4" d="M578.2 311h1v1h-1zM600.6 363.7h1v1h-1zM587.5 324.8h1v1h-1z"/>
<path fill="#469fb4" d="M572.9 298.7h1v1h-1zM573.7 301.9h1v1h-1zM590.5 342h1v1h-1zM587.3 316.1h1v1h-1z"/>
<path fill="#486cb0" d="M594.3 346.1h1v1h-1zM589.7 326.7h1v1h-1zM577.2 293.1h1v1h-1zM583.5 305h1v1h-1z"/>
<path fill="#61bca7" d="M596.7 354.9h1v1h-1zM585.1 324h1v1h-1zM581.1 303.9h1v1h-1z"/>
<path fill="#91d3a4" d="M576.3 304.1h1v1h-1z"/>
<path fill="#f99555" d="M565.5 272.2h1v1h-1z"/>
<path fill="#4ba4b2" d="M589 343.1h1v1h-1zM594.5 346h1v1h-1z"/>
<path fill="#eaf79f" d="M596.9 349.4h1v1h-1z"/>
<path fill="#3d7ab6" d="M584.8 325.3h1v1h-1zM589.2 339.8h1v1h-1zM573.8 290.6h1v1h-1z"/>
<path fill="#3c7bb7" d="M594.9 357.6h1v1h-1zM597 353.5h1v1h-1zM583.8 324h1v1h-1zM573.9 295.4h1v1h-1z"/>
<path fill="#bae3a1" d="M567.2 283.7h1v1h-1z"/>
<path fill="#3c93b8" d="M595.2 360.3h1v1h-1z"/>
<path fill="#fff2a8" d="M570.5 293h1v1h-1z"/>
<path fill="#def29a" d="M563.8 281.7h1v1h-1zM592.1 331h1v1h-1zM563.5 282.6h1v1h-1z"/>
<path fill="#fdc473" d="M567.5 275h1v1h-1zM569.5 280.4h1v1h-1z"/>
<path fill="#4f63ab" d="M592.7 344.3h1v1h-1zM596.4 362.7h1v1h-1z"/>
<path fill="#4471b2" d="M578.2 304h1v1h-1zM599.2 359.7h1v1h-1zM586.1 320.1h1v1h-1z"/>
<path fill="#9cd7a4" d="M598.4 364.8h1v1h-1zM572 287.8h1v1h-1zM593.2 346h1v1h-1z"/>
<path fill="#3e95b8" d="M569.3 286.3h1v1h-1zM600 349.8h1v1h-1z"/>
<path fill="#53adae" d="M575.3 292.8h1v1h-1zM596.8 354.9h1v1h-1zM581.3 313.9h1v1h-1zM581.5 321.8h1v1h-1z"/>
<path fill="#cceb9d" d="M595.6 362.6h1v1h-1z"/>
<path fill="#4d65ac" d="M598.8 352.2h1v1h-1zM577.2 298.3h1v1h-1z"/>
<path fill="#afdea3" d="M590.8 324.4h1v1h-1z"/>
<path fill="#fca35c" d="M559.7 274.4h1v1h-1z"/>
<path fill="#5cb7aa" d="M595.7 349.5h1v1h-1z"/>
<path fill="#feda86" d="M565.3 269h1v1h-1zM566.2 274h1v1h-1zM561.5 266.3h1v1h-1z"/>
<path fill="#479fb3" d="M584 306.7h1v1h-1z"/>
<path fill="#4a68ae" d="M576.1 306.9h1v1h-1zM585.2 311.1h1v1h-1z"/>
<path fill="#4fa9b0" d="M597.4 347.8h1v1h-1z"/>
<path fill="#449db4" d="M593.3 346.7h1v1h-1zM571.8 291.4h1v1h-1z"/>
<path fill="#c1e6a0" d="M601.1 363.2h1v1h-1z"/>
<path fill="#466eb1" d="M583.2 325.3h1v1h-1zM596.1 361.6h1v1h-1z"/>
<path fill="#73c7a5" d="M588.7 336.6h1v1h-1z"/>
<path fill="#60bba8" d="M586.9 315.2h1v1h-1zM575.2 306h1v1h-1z"/>
<path fill="#58b2ac" d="M592.8 327.3h1v1h-1z"/>
<path fill="#fff4ad" d="M584.5 317h1v1h-1zM589.7 324.8h1v1h-1z"/>
<path fill="#3b7cb7" d="M574.6 301.2h1v1h-1zM584.7 311.3h1v1h-1z"/>
<path fill="#4199b6" d="M576 305.1h1v1h-1zM578.6 304.8h1v1h-1zM583.5 317.2h1v1h-1zM586.1 330.2h1v1h-1z"/>
<path fill="#fff4ac" d="M592 337.8h1v1h-1z"/>
<path fill="#8ad0a4" d="M591.1 331.1h1v1h-1zM567 282.8h1v1h-1z"/>
<path fill="#78c9a5" d="M597.9 358.7h1v1h-1z"/>
<path fill="#5856a5" d="M579.7 306.9h1v1h-1z"/>
<path fill="#fee796" d="M560.5 264.7h1v1h-1zM573.9 295.7h1v1h-1z"/>
<path fill="#64bfa6" d="M574.9 302.3h1v1h-1z"/>
<path fill="#fffab6" d="M595.7 350.2h1v1h-1zM583.3 320.2h1v1h-1z"/>
<path fill="#3a91b9" d="M582.2 314.1h1v1h-1zM581 319.3h1v1h-1z"/>
<path fill="#9ed8a4" d="M596.2 338.3h1v1h-1zM585.7 312.5h1v1h-1z"/>
<path fill="#5956a5" d="M577.5 293.5h1v1h-1z"/>
<path fill="#81cda5" d="M576.4 292.2h1v1h-1zM575.3 301.7h1v1h-1z"/>
<path fill="#e6f599" d="M569.6 288.5h1v1h-1z"/>
<path fill="#f8fcb4" d="M573 289.6h1v1h-1zM597.2 358.1h1v1h-1z"/>
<path fill="#e8f69c" d="M585.5 322.4h1v1h-1z"/>
<path fill="#6bc4a5" d="M583.4 305.8h1v1h-1zM591.4 336.8h1v1h-1zM590.3 338.4h1v1h-1zM579.1 310.1h1v1h-1z"/>
<path fill="#4a69ae" d="M576.9 308.7h1v1h-1zM601.2 362.6h1v1h-1zM571.5 291.5h1v1h-1z"/>
<path fill="#5c51a3" d="M600.1 355.9h1v1h-1zM600.7 357.6h1v1h-1z"/>
<path fill="#3f77b5" d="M578.6 296.8h1v1h-1zM582.1 305.5h1v1h-1zM586 318.2h1v1h-1zM596.8 363.7h1v1h-1zM596.2 354h1v1h-1z"/>
<path fill="#feefa3" d="M592.2 336.4h1v1h-1z"/>
<path fill="#4274b3" d="M580.1 311.5h1v1h-1zM578 304.1h1v1h-1z"/>
<path fill="#eff9a7" d="M586.2 326.5h1v1h-1z"/>
<path fill="#d9f09b" d="M598.4 363.2h1v1h-1z"/>
<path fill="#edf8a4" d="M565.2 288h1v1h-1zM589.7 333h1v1h-1z"/>
<path fill="#6ec5a5" d="M595.3 362.8h1v1h-1zM600.3 355.5h1v1h-1zM575.9 300.9h1v1h-1zM590.2 340.4h1v1h-1z"/>
<path fill="#feffbe" d="M590.4 330.3h1v1h-1zM567.1 278.8h1v1h-1zM567.5 291.4h1v1h-1z"/>
<path fill="#4198b6" d="M589.2 336.4h1v1h-1z"/>
<path fill="#eef8a5" d="M595.2 362.2h1v1h-1zM593.6 341.2h1v1h-1z"/>
<path fill="#e0f399" d="M593.2 350.1h1v1h-1z"/>
<path fill="#5758a6" d="M590.6 333.3h1v1h-1zM598.1 346.4h1v1h-1zM586.8 319h1v1h-1zM590.5 343.8h1v1h-1z"/>
<path fill="#fee28f" d="M597.9 345.8h1v1h-1z"/>
<path fill="#4aa3b2" d="M583.7 309.7h1v1h-1z"/>
<path fill="#3b7db8" d="M581.7 317.8h1v1h-1zM579 295.3h1v1h-1zM584.3 322.2h1v1h-1z"/>
<path fill="#eff9a6" d="M576.3 299.2h1v1h-1zM600.6 364.2h1v1h-1zM569.5 288.2h1v1h-1z"/>
<path fill="#56b0ac" d="M580.8 309.1h1v1h-1zM580.3 302.5h1v1h-1zM594.3 327.3h1v1h-1zM590.2 326.9h1v1h-1z"/>
<path fill="#64c0a6" d="M595.6 346.2h1v1h-1zM583.8 312.4h1v1h-1z"/>
<path fill="#fdbf70" d="M562.1 273.8h1v1h-1z"/>
<path fill="#fafdb8" d="M566.9 290.2h1v1h-1zM590.7 340.6h1v1h-1zM591 330.6h1v1h-1zM566.1 284.7h1v1h-1z"/>
<path fill="#7dcba5" d="M576.4 289.8h1v1h-1z"/>
<path fill="#525ea9" d="M592.9 330.7h1v1h-1zM596.9 341.4h1v1h-1z"/>
<path fill="#feffbd" d="M586.8 320.7h1v1h-1z"/>
<path fill="#c0e5a0" d="M590.5 339.8h1v1h-1zM581.8 314.6h1v1h-1z"/>
<path fill="#3387bc" d="M581.4 306.5h1v1h-1zM600.5 360.2h1v1h-1z"/>
<path fill="#4076b4" d="M577.5 300.6h1v1h-1zM599.2 366.3h1v1h-1z"/>
<path fill="#fff8b3" d="M566.3 275.5h1v1h-1zM596.7 351h1v1h-1zM596.1 339.3h1v1h-1z"/>
<path fill="#dbf19a" d="M577.5 310.1h1v1h-1zM595.3 346.5h1v1h-1z"/>
<path fill="#348bbc" d="M588.4 340.1h1v1h-1z"/>
<path fill="#90d3a4" d="M585.5 314.5h1v1h-1zM577.6 292.6h1v1h-1z"/>
<path fill="#fee391" d="M567.1 271.4h1v1h-1z"/>
<path fill="#59b4ab" d="M577 291.6h1v1h-1zM590.6 345.5h1v1h-1z"/>
<path fill="#476db0" d="M569.6 288.4h1v1h-1zM594.8 336.6h1v1h-1zM590.9 324.8h1v1h-1zM593.5 341.5h1v1h-1z"/>
<path fill="#fff6b0" d="M567 275.4h1v1h-1zM559.9 264.8h1v1h-1zM571.5 296.4h1v1h-1zM568.5 283.2h1v1h-1zM581.8 316.4h1v1h-1zM567.9 293.9h1v1h-1z"/>
<path fill="#89d0a4" d="M565.4 285.9h1v1h-1zM600.4 361.9h1v1h-1z"/>
<path fill="#4f62ab" d="M579.6 304.1h1v1h-1z"/>
<path fill="#4174b4" d="M599 357h1v1h-1zM592.5 351h1v1h-1z"/>
<path fill="#5c52a3" d="M590.2 336.8h1v1h-1zM600.4 356.9h1v1h-1zM578.6 308.4h1v1h-1z"/>
<path fill="#3a7db8" d="M581.9 310h1v1h-1zM581 304.1h1v1h-1z"/>
<path fill="#5a54a4" d="M585.6 321.2h1v1h-1zM590.1 332.4h1v1h-1z"/>
<path fill="#8bd0a4" d="M591.6 326h1v1h-1zM588.3 340.7h1v1h-1z"/>
<path fill="#ecf7a1" d="M583.3 323.3h1v1h-1zM581.6 311.4h1v1h-1zM594.9 350.4h1v1h-1z"/>
<path fill="#486baf" d="M595 355.8h1v1h-1zM584 327.9h1v1h-1z"/>
<path fill="#98d6a4" d="M571.1 293h1v1h-1zM583.1 322.4h1v1h-1z"/>
<path fill="#49a1b3" d="M583.9 315h1v1h-1z"/>
<path fill="#d4ee9c" d="M567.3 292.4h1v1h-1z"/>
<path fill="#f0f9a8" d="M564.6 270.4h1v1h-1zM565.4 285.5h1v1h-1z"/>
<path fill="#ccea9d" d="M580.1 313.8h1v1h-1z"/>
<path fill="#50aaaf" d="M576.6 306.4h1v1h-1z"/>
<path fill="#d0ec9c" d="M575 287h1v1h-1z"/>
<path fill="#4e63ac" d="M589.5 324.3h1v1h-1zM573.3 292.7h1v1h-1zM590.4 325.2h1v1h-1zM588.1 327.6h1v1h-1z"/>
<path fill="#ecf7a2" d="M570.6 297.2h1v1h-1z"/>
<path fill="#eef8a4" d="M596.1 365.2h1v1h-1z"/>
<path fill="#496aaf" d="M582.9 305.9h1v1h-1z"/>
<path fill="#65c1a6" d="M580.5 307.7h1v1h-1z"/>
<path fill="#fcfeba" d="M593.8 340.3h1v1h-1zM591.8 342.2h1v1h-1z"/>
<path fill="#565aa7" d="M581.3 302.5h1v1h-1z"/>
<path fill="#fca95e" d="M568.5 279.6h1v1h-1z"/>
<path fill="#4ba4b1" d="M588.1 330.3h1v1h-1zM566.9 282.1h1v1h-1zM566.4 289.9h1v1h-1z"/>
<path fill="#a9dca4" d="M575.9 305.3h1v1h-1zM596.3 361.1h1v1h-1z"/>
<path fill="#fdfebc" d="M600.9 361.8h1v1h-1zM591.3 349.4h1v1h-1zM574.3 292.6h1v1h-1z"/>
<path fill="#f3faac" d="M574.1 290.5h1v1h-1z"/>
<path fill="#50a9af" d="M584.1 312.3h1v1h-1zM594.6 335.6h1v1h-1zM577.4 299.7h1v1h-1z"/>
<path fill="#74c8a5" d="M592.3 339.4h1v1h-1z"/>
<path fill="#feea9b" d="M584.8 325.5h1v1h-1z"/>
<path fill="#4ca4b1" d="M591.6 336.2h1v1h-1z"/>
<path fill="#3683bb" d="M574.5 302.2h1v1h-1zM597.1 343.4h1v1h-1zM595.1 351.8h1v1h-1zM593.7 328.2h1v1h-1z"/>
<path fill="#f5fbaf" d="M600.4 365.1h1v1h-1z"/>
<path fill="#62bda7" d="M589.8 345h1v1h-1z"/>
<path fill="#e7f69a" d="M594 360.1h1v1h-1zM567.2 270.1h1v1h-1zM567 288.4h1v1h-1z"/>
<path fill="#525fa9" d="M585.8 323.3h1v1h-1z"/>
<path fill="#fdc676" d="M579.3 299.9h1v1h-1z"/>
<path fill="#3a90ba" d="M578.6 312.5h1v1h-1z"/>
<path fill="#f4fbae" d="M574.9 295.7h1v1h-1zM568.9 293h1v1h-1zM581 307.5h1v1h-1z"/>
<path fill="#5e50a2" d="M582.6 321.4h1v1h-1z"/>
<path fill="#d3ed9c" d="M571.7 298.3h1v1h-1z"/>
<path fill="#fee491" d="M580.1 297h1v1h-1zM591.2 347.2h1v1h-1z"/>
<path fill="#348abc" d="M584.8 314.1h1v1h-1z"/>
<path fill="#459eb4" d="M601.3 356.9h1v1h-1zM595.3 346.5h1v1h-1z"/>
<path fill="#fca95f" d="M559.6 269.6h1v1h-1zM561.5 270.9h1v1h-1z"/>
<path fill="#fdbd6d" d="M563.4 274.1h1v1h-1z"/>
<path fill="#555aa7" d="M593.1 333.8h1v1h-1zM597.1 351.2h1v1h-1z"/>
<path fill="#7ccaa5" d="M568.8 284.1h1v1h-1z"/>
<path fill="#77c9a5" d="M583.9 319.1h1v1h-1z"/>
<path fill="#ffffbf" d="M587.9 325.5h1v1h-1zM574 295.6h1v1h-1zM595.6 344h1v1h-1zM574.4 297.1h1v1h-1z"/>
<path fill="#388fba" d="M579.4 299.1h1v1h-1zM585.1 324.7h1v1h-1z"/>
<path fill="#4ea8b0" d="M598.2 347.2h1v1h-1zM592.6 342.9h1v1h-1z"/>
<path fill="#d5ee9b" d="M589.7 345h1v1h-1z"/>
<path fill="#6cc4a5" d="M571.1 289.9h1v1h-1z"/>
<path fill="#535da8" d="M591.9 332.9h1v1h-1zM581.3 301.4h1v1h-1z"/>
<path fill="#7ccba5" d="M588.9 325h1v1h-1z"/>
<path fill="#3d7ab7" d="M580.1 300h1v1h-1z"/>
<path fill="#476cb0" d="M590.1 325.8h1v1h-1z"/>
<path fill="#449cb5" d="M596.1 339.4h1v1h-1zM588.5 318h1v1h-1zM582.8 307.2h1v1h-1zM577.8 297.4h1v1h-1z"/>
<path fill="#97d5a4" d="M583.9 318.4h1v1h-1zM588.5 342.2h1v1h-1z"/>
<path fill="#cbea9d" d="M572.2 295.4h1v1h-1z"/>
<path fill="#9dd7a4" d="M597.5 353.9h1v1h-1z"/>
<path fill="#e7f599" d="M589 328h1v1h-1zM599.9 365.9h1v1h-1z"/>
<path fill="#ffffbe" d="M587.6 336.5h1v1h-1z"/>
<path fill="#5d50a3" d="M594.7 341.7h1v1h-1zM579.1 306.4h1v1h-1z"/>
<path fill="#3e78b6" d="M575.5 304.8h1v1h-1z"/>
<path fill="#3881b9" d="M597 363.1h1v1h-1zM577.6 300.2h1v1h-1z"/>
<path fill="#eaf79e" d="M580.5 316.2h1v1h-1zM575.2 288.9h1v1h-1zM565.9 289.3h1v1h-1zM584.9 312.9h1v1h-1z"/>
<path fill="#fff5af" d="M588.2 331.6h1v1h-1zM595 334.9h1v1h-1z"/>
<path fill="#bfe5a0" d="M591.9 333.7h1v1h-1z"/>
<path fill="#398fba" d="M590.7 343.5h1v1h-1zM583.5 311.6h1v1h-1z"/>
<path fill="#4372b3" d="M574 282.1h1v1h-1zM588.1 325.4h1v1h-1z"/>
<path fill="#4075b4" d="M596.1 344.6h1v1h-1z"/>
<path fill="#fff9b5" d="M590 326h1v1h-1z"/>
<path fill="#dff299" d="M601.8 357.5h1v1h-1z"/>
<path fill="#4371b2" d="M593 336.2h1v1h-1z"/>
<path fill="#555ba8" d="M587.6 326.8h1v1h-1z"/>
<path fill="#d5ee9c" d="M595.8 361h1v1h-1z"/>
<path fill="#fee99a" d="M569.6 292.1h1v1h-1z"/>
<path fill="#bde4a0" d="M590.4 341.3h1v1h-1z"/>
<path fill="#51aaaf" d="M582.5 312.6h1v1h-1zM596 359.4h1v1h-1zM597.9 352.4h1v1h-1zM598 355.6h1v1h-1z"/>
<path fill="#47a0b3" d="M585 319.2h1v1h-1zM578.8 310.9h1v1h-1z"/>
<path fill="#58b3ab" d="M586.1 314.8h1v1h-1zM584.5 325.9h1v1h-1z"/>
<path fill="#f2faaa" d="M584 322.5h1v1h-1zM587.1 313.8h1v1h-1zM573.8 290.5h1v1h-1z"/>
<path fill="#5955a5" d="M571.2 288.5h1v1h-1z"/>
<path fill="#4ba3b2" d="M589.2 341.1h1v1h-1z"/>
<path fill="#f7844d" d="M566.8 272.9h1v1h-1z"/>
<path fill="#a3daa4" d="M582.8 324.4h1v1h-1z"/>
<path fill="#feea9d" d="M566 281h1v1h-1z"/>
<path fill="#466fb1" d="M591.8 345.8h1v1h-1z"/>
<path fill="#96d5a4" d="M597 359.8h1v1h-1zM589.8 337.2h1v1h-1z"/>
<path fill="#fee594" d="M589.5 347.1h1v1h-1z"/>
<path fill="#71c6a5" d="M574.6 297.3h1v1h-1z"/>
<path fill="#5eb9a9" d="M590.3 323.9h1v1h-1zM597.2 341.9h1v1h-1zM592.8 353.7h1v1h-1z"/>
<path fill="#feeea2" d="M594 344.7h1v1h-1z"/>
<path fill="#edf8a2" d="M589.7 327.7h1v1h-1z"/>
<path fill="#fffdbb" d="M578.9 298h1v1h-1zM585.9 311.5h1v1h-1zM572.6 301h1v1h-1z"/>
<path fill="#63bea7" d="M582.5 317.7h1v1h-1zM580.8 305.7h1v1h-1z"/>
<path fill="#496baf" d="M597.8 360.1h1v1h-1z"/>
<path fill="#4e64ac" d="M593.7 329.2h1v1h-1zM594.2 341.3h1v1h-1zM596 364.7h1v1h-1z"/>
<path fill="#fffebe" d="M585.8 326.7h1v1h-1z"/>
<path fill="#63bfa6" d="M597.9 360.6h1v1h-1zM597.3 354.5h1v1h-1z"/>
<path fill="#f5fbb0" d="M589 343.6h1v1h-1zM590.4 334.9h1v1h-1z"/>
<path fill="#fca55d" d="M564 266.3h1v1h-1z"/>
<path fill="#7ecca5" d="M593.8 352.9h1v1h-1z"/>
<path fill="#4175b4" d="M586.5 316.6h1v1h-1zM595.9 347.2h1v1h-1zM582.7 318.7h1v1h-1z"/>
<path fill="#95d4a4" d="M596.6 353.6h1v1h-1z"/>
<path fill="#545ca8" d="M570.1 289.3h1v1h-1z"/>
<path fill="#466db0" d="M571 286.4h1v1h-1z"/>
<path fill="#84cea5" d="M597 360.7h1v1h-1z"/>
<path fill="#fede8a" d="M561.9 270.4h1v1h-1z"/>
<path fill="#3990ba" d="M597.5 345.8h1v1h-1zM571.3 285.4h1v1h-1z"/>
<path fill="#439ab5" d="M582.1 309.6h1v1h-1z"/>
<path fill="#59b3ab" d="M587 329.1h1v1h-1z"/>
<path fill="#a5dba4" d="M595.3 346h1v1h-1zM567.6 285.1h1v1h-1z"/>
<path fill="#3d79b6" d="M587.1 328.1h1v1h-1z"/>
<path fill="#3f97b7" d="M592 329.7h1v1h-1z"/>
<path fill="#4c66ad" d="M593.2 349.7h1v1h-1z"/>
<path fill="#f4faad" d="M585.5 327.3h1v1h-1z"/>
<path fill="#74c7a5" d="M586.6 319.3h1v1h-1zM572.3 285.2h1v1h-1z"/>
<path fill="#3881ba" d="M586.8 328.9h1v1h-1z"/>
<path fill="#4b67ad" d="M582.7 317.5h1v1h-1z"/>
<path fill="#3782ba" d="M573 295.3h1v1h-1zM599.3 350.3h1v1h-1z"/>
<path fill="#51abaf" d="M572.5 282.3h1v1h-1z"/>
<path fill="#e2f399" d="M593.3 350.4h1v1h-1z"/>
<path fill="#4da6b1" d="M583.2 319.8h1v1h-1z"/>
<path fill="#c3e79f" d="M568.3 288.3h1v1h-1z"/>
<path fill="#6fc6a5" d="M583.8 326h1v1h-1z"/>
<path fill="#4a6aaf" d="M582.5 321.7h1v1h-1z"/>
<path fill="#f7864e" d="M564.1 278.5h1v1h-1z"/>
<path fill="#addea4" d="M593.1 336.9h1v1h-1zM587 322.5h1v1h-1z"/>
<path fill="#d6ef9b" d="M589.4 327.4h1v1h-1z"/>
<path fill="#4470b2" d="M575.5 306.9h1v1h-1z"/>
<path fill="#d8ef9b" d="M566 288.8h1v1h-1z"/>
<path fill="#cdeb9d" d="M590.5 349.8h1v1h-1z"/>
<path fill="#fed380" d="M567 276.4h1v1h-1z"/>
<path fill="#b8e2a1" d="M579.7 307.5h1v1h-1z"/>
<path fill="#378ebb" d="M597.9 344.2h1v1h-1z"/>
<path fill="#4da6b0" d="M597.6 342.6h1v1h-1z"/>
<path fill="#5b53a4" d="M590.5 349.4h1v1h-1z"/>
<path fill="#a6dba4" d="M584.4 306.1h1v1h-1z"/>
<path fill="#3e79b6" d="M599.3 363.4h1v1h-1z"/>
<path fill="#fdfebb" d="M593.1 339.2h1v1h-1z"/>
<path fill="#545ba8" d="M597.3 348.4h1v1h-1z"/>
<path fill="#b7e2a2" d="M573 298.9h1v1h-1z"/>
<path fill="#edf8a3" d="M591.6 346.3h1v1h-1z"/>
<path fill="#80cca5" d="M571.4 297.3h1v1h-1z"/>
<path fill="#3486bc" d="M581 318h1v1h-1z"/>
<path fill="#4299b6" d="M584.7 315.4h1v1h-1z"/>
<path fill="#acdea4" d="M580.6 301.1h1v1h-1z"/>
<path fill="#56b0ad" d="M592 341.7h1v1h-1z"/>
<path fill="#fcfebb" d="M584.9 324.1h1v1h-1z"/>
<path fill="#fdc373" d="M557.5 284.8h1v1h-1z"/>
<path fill="#fdab5f" d="M556.6 285h1v1h-1z"/>
<path d="M534.7 312.8 528.3 310.2 521.4 309.8 513.6 312.2 506 316.2 498.2 321.2 492.1 327.2 486.7 333.2" fill="none" stroke="#111" stroke-width="0.5" stroke-linejoin="round" stroke-opacity="0.7"/>
<path d="M534.7 312.8 535.2 330.2 536.4 344.2 537.9 360.2 539.1 372.2" fill="none" stroke="#111" stroke-width="0.5" stroke-linejoin="round" stroke-opacity="0.7"/>
<path d="M534.7 312.8 540.6 301.2 546 291.2 551.3 283.8" fill="none" stroke="#111" stroke-width="0.5" stroke-linejoin="round" stroke-opacity="0.7"/>
<path d="M551.3 283.8 550.6 276.2 550.2 268.2" fill="none" stroke="#111" stroke-width="0.5" stroke-linejoin="round" stroke-opacity="0.7"/>
<path d="M551.3 283.8 557.5 282.2 560.5 281.4 564.9 282.8 572 293.6 579.1 305 584.8 316.4 590.5 329.4 594.7 345.2 596.8 358.2" fill="none" stroke="#111" stroke-width="0.5" stroke-linejoin="round" stroke-opacity="0.7"/>
<circle cx="551.3" cy="283.8" r="4.5" fill="#000"/>
<text x="551.3" y="286.3" text-anchor="middle" font-weight="bold" fill="#fff" font-size="7">1</text>
<circle cx="534.7" cy="312.8" r="4.5" fill="#000"/>
<text x="534.7" y="315.3" text-anchor="middle" font-weight="bold" fill="#fff" font-size="7">2</text>
<text x="619.8" y="281" font-weight="bold" fill="#111" font-size="7.2">CytoTRACE</text>
<defs><linearGradient id="gG" x1="0" x2="0" y1="1" y2="0"><stop offset="0" stop-color="#5e4fa2"/><stop offset="0.1" stop-color="#3288bd"/><stop offset="0.2" stop-color="#66c2a5"/><stop offset="0.3" stop-color="#abdda4"/><stop offset="0.4" stop-color="#e6f598"/><stop offset="0.5" stop-color="#ffffbf"/><stop offset="0.6" stop-color="#fee08b"/><stop offset="0.7" stop-color="#fdae61"/><stop offset="0.8" stop-color="#f46d43"/><stop offset="0.9" stop-color="#d53e4f"/><stop offset="1.0" stop-color="#9e0142"/></linearGradient></defs>
<rect x="620.1" y="285.7" width="11.1" height="83.1" fill="url(#gG)"/>
<text x="635.1" y="288.3" font-weight="bold" fill="#222" font-size="6.3">1.00</text>
<text x="635.1" y="309.1" font-weight="bold" fill="#222" font-size="6.3">0.75</text>
<line x1="620.1" y1="306.8" x2="622.3" y2="306.8" stroke="#fff" stroke-width="0.6"/>
<line x1="628.9" y1="306.8" x2="631.2" y2="306.8" stroke="#fff" stroke-width="0.6"/>
<text x="635.1" y="329.9" font-weight="bold" fill="#222" font-size="6.3">0.50</text>
<line x1="620.1" y1="327.6" x2="622.3" y2="327.6" stroke="#fff" stroke-width="0.6"/>
<line x1="628.9" y1="327.6" x2="631.2" y2="327.6" stroke="#fff" stroke-width="0.6"/>
<text x="635.1" y="350.7" font-weight="bold" fill="#222" font-size="6.3">0.25</text>
<line x1="620.1" y1="348.4" x2="622.3" y2="348.4" stroke="#fff" stroke-width="0.6"/>
<line x1="628.9" y1="348.4" x2="631.2" y2="348.4" stroke="#fff" stroke-width="0.6"/>
<text x="635.1" y="371.5" font-weight="bold" fill="#222" font-size="6.3">0.00</text>
<text x="432.3" y="453.7" font-size="23">H</text>
<line x1="473.9" y1="453.5" x2="473.9" y2="614.7" stroke="#444" stroke-width="0.8"/>
<line x1="473.5" y1="614.3" x2="625.5" y2="614.3" stroke="#444" stroke-width="0.8"/>
<line x1="471.4" y1="487" x2="473.9" y2="487" stroke="#444" stroke-width="0.6"/>
<text x="470.1" y="489.2" text-anchor="end" fill="#222" stroke="#222" stroke-width="0.12" font-size="6.2">2</text>
<line x1="471.4" y1="532.2" x2="473.9" y2="532.2" stroke="#444" stroke-width="0.6"/>
<text x="470.1" y="534.4" text-anchor="end" fill="#222" stroke="#222" stroke-width="0.12" font-size="6.2">0</text>
<line x1="471.4" y1="577.4" x2="473.9" y2="577.4" stroke="#444" stroke-width="0.6"/>
<text x="470.1" y="579.6" text-anchor="end" fill="#222" stroke="#222" stroke-width="0.12" font-size="6.2">−2</text>
<line x1="504.6" y1="614.3" x2="504.6" y2="616.8" stroke="#444" stroke-width="0.6"/>
<text x="504.6" y="623.5" text-anchor="middle" fill="#222" stroke="#222" stroke-width="0.12" font-size="6.2">−5</text>
<line x1="548.4" y1="614.3" x2="548.4" y2="616.8" stroke="#444" stroke-width="0.6"/>
<text x="548.4" y="623.5" text-anchor="middle" fill="#222" stroke="#222" stroke-width="0.12" font-size="6.2">0</text>
<line x1="592.2" y1="614.3" x2="592.2" y2="616.8" stroke="#444" stroke-width="0.6"/>
<text x="592.2" y="623.5" text-anchor="middle" fill="#222" stroke="#222" stroke-width="0.12" font-size="6.2">5</text>
<text x="550.2" y="630.4" text-anchor="middle" font-weight="bold" fill="#111" font-size="7.4">Component 1</text>
<text x="458" y="534.4" text-anchor="middle" font-weight="bold" fill="#111" font-size="7.4" transform="rotate(-90 458 531.7)">Component 2</text>
<path d="M540.1 521.1C538.5 519.1 533.4 514.8 530.7 513.4C528 512.1 526 512.5 523.7 513C521.4 513.5 519.8 515 516.7 516.6C513.6 518.2 508.9 520.3 505 522.5C501.2 524.6 496.9 526.8 493.4 529.5C489.9 532.2 486.2 536 484 538.8C481.9 541.5 480.9 543.4 480.5 545.8C480.1 548.1 480.6 550.4 481.7 552.8C482.9 555.1 486 560.1 487.5 559.8C489.1 559.4 489.3 553.4 491 550.5C492.8 547.6 495.7 544.7 498 542.4C500.4 540 501.9 538.5 505 536.5C508.1 534.5 512.8 532.2 516.7 530.6C520.6 529 524.5 527.8 528.4 527C532.3 526.2 538.1 526.9 540.1 525.9C542 524.9 541.6 523.2 540.1 521.1Z" fill="#3b4f89" fill-opacity="0.6"/>
<path d="M539.5 527C538.8 531.7 539.8 545.5 540.2 555C540.6 564.6 540.7 579.3 541.8 584.2C543 589 546.5 589 547.1 584.2C547.7 579.3 545.7 564.6 545.2 555C544.8 545.5 545.2 531.7 544.2 527C543.2 522.3 540.1 522.3 539.5 527Z" fill="#3a9478" fill-opacity="0.6"/>
<path d="M541 584.2C539.9 586.1 540.7 590.1 541 593.2C541.2 596.3 540.7 600.6 542.3 602.7C543.8 604.8 547.7 606.1 550.2 605.7C552.6 605.2 555.8 602.6 556.7 600C557.6 597.4 556.5 592.3 555.4 589.8C554.3 587.4 551.5 586.6 550.2 585.3C548.8 584 548.6 582.1 547.1 581.9C545.6 581.7 542 582.3 541 584.2Z" fill="#3a9478" fill-opacity="0.6"/>
<path d="M540.1 520C540.7 516.9 544.8 510.9 547.1 506.2C549.4 501.5 552.3 495.1 554.1 492C555.8 488.8 556.2 487.6 557.6 487.5C559 487.3 561.7 489.3 562.3 490.8C562.9 492.4 562.9 493.8 561.1 496.7C559.3 499.7 554.7 503.8 551.8 508.5C548.9 513.1 545.5 522.8 543.6 524.7C541.6 526.7 539.5 523.1 540.1 520Z" fill="#4aaed0" fill-opacity="0.6"/>
<path d="M558.9 460.3C559.6 460.7 560.7 463.7 561.1 465.5C561.5 467.3 561.8 469.5 561.5 471.2C561.3 472.9 560.4 474.9 559.8 475.7C559.1 476.5 558.3 476.5 557.6 475.7C556.9 474.9 555.7 472.8 555.6 470.7C555.4 468.7 556.2 465 556.7 463.3C557.3 461.5 558.2 460 558.9 460.3Z" fill="#7b6bb0" fill-opacity="0.6"/>
<path d="M569.9 470.1C569.1 472.3 570.2 478.1 571.2 482.5C572.1 486.8 573.4 491.7 575.6 496C577.7 500.4 581.8 504.4 584.3 508.7C586.9 513 588.8 517 590.9 522C592.9 527.1 594.6 533.5 596.6 539C598.6 544.4 601.1 549.9 602.7 554.8C604.3 559.7 604.8 563.5 606.2 568.4C607.7 573.3 609.6 581.4 611.5 584.2C613.4 587 616.4 587.2 617.6 585.3C618.8 583.4 618.9 577.2 618.5 572.9C618 568.5 616.3 563.8 615 559.3C613.7 554.8 612.2 550.1 610.6 545.8C609 541.4 607 537.7 605.3 533.3C603.7 529 602.1 523.9 600.5 519.8C599 515.6 598 512.6 596.1 508.5C594.3 504.3 591.9 499.4 589.6 494.9C587.2 490.4 584.4 485.7 582.1 481.4C579.9 477 578 470.8 576 468.9C574 467 570.7 467.8 569.9 470.1Z" fill="#d6478b" fill-opacity="0.6"/>
<path d="M565 488.1C565.6 487.1 567.3 486.5 568.5 486.5C569.8 486.5 571.8 487 572.5 488.1C573.1 489.2 573.1 492.1 572.5 493.1C571.8 494.1 569.8 494.3 568.5 494.2C567.3 494.2 565.6 493.7 565 492.7C564.5 491.6 564.5 489.1 565 488.1Z" fill="#d6478b" fill-opacity="0.6"/>
<path fill="#3b4f89" d="M509.5 528.1h1v1h-1zM512.8 527.7h1v1h-1zM489.1 537.7h1v1h-1zM486.3 540.3h1v1h-1zM487.4 544.4h1v1h-1zM522.8 514.5h1v1h-1zM520.8 527.9h1v1h-1zM486.5 548h1v1h-1zM500.7 535.7h1v1h-1zM505.6 534.8h1v1h-1zM493.5 539.2h1v1h-1zM503.2 523.3h1v1h-1zM482.5 546h1v1h-1zM500.9 529.7h1v1h-1zM492.2 545.7h1v1h-1zM525.1 516.7h1v1h-1zM479.9 546.1h1v1h-1zM494.7 534.1h1v1h-1zM508.1 529.9h1v1h-1zM510.2 527.6h1v1h-1zM520.3 526.3h1v1h-1zM513.5 529.6h1v1h-1zM514.5 517.5h1v1h-1zM534.3 522.7h1v1h-1zM533.5 516.3h1v1h-1zM511.6 521.9h1v1h-1zM512.3 530.3h1v1h-1zM494.5 540.6h1v1h-1zM499.6 526.6h1v1h-1zM489.2 554.7h1v1h-1zM498.5 527.2h1v1h-1zM494.5 543.7h1v1h-1zM492.2 539.3h1v1h-1zM509.4 525.3h1v1h-1zM490.4 536.8h1v1h-1zM516 521h1v1h-1zM494.6 538.1h1v1h-1zM530.4 521.3h1v1h-1zM493.1 534.9h1v1h-1zM520.1 529.1h1v1h-1zM494 533.6h1v1h-1zM491.9 546.5h1v1h-1zM532.1 521.6h1v1h-1zM501.3 525.1h1v1h-1zM532.1 520.6h1v1h-1zM481.9 545.2h1v1h-1zM490.7 544.3h1v1h-1zM511.5 528.5h1v1h-1zM504.8 534.3h1v1h-1zM516.4 524.5h1v1h-1zM484.4 554.2h1v1h-1zM485.4 557.8h1v1h-1zM481.2 547.8h1v1h-1zM536.8 524.6h1v1h-1zM539 523h1v1h-1zM515.4 527h1v1h-1zM481.3 547.9h1v1h-1zM509.9 524.9h1v1h-1zM529 523.9h1v1h-1zM503.2 530.8h1v1h-1zM536.4 523.9h1v1h-1zM494.7 539.7h1v1h-1zM512.3 531.6h1v1h-1zM490.9 540.8h1v1h-1zM492.3 544.6h1v1h-1zM499.3 528.7h1v1h-1zM503.9 536h1v1h-1zM490.9 538.6h1v1h-1zM519 529h1v1h-1zM523.4 524.3h1v1h-1zM494.7 534.6h1v1h-1zM533 521.7h1v1h-1zM483.6 553.7h1v1h-1zM503 535.9h1v1h-1zM489.3 548.8h1v1h-1zM531.1 516.8h1v1h-1zM534.1 523.8h1v1h-1zM513.7 521.6h1v1h-1zM494.5 534h1v1h-1zM529.3 520.4h1v1h-1zM529.6 516.1h1v1h-1zM493 539.8h1v1h-1zM526.8 524.2h1v1h-1zM511.3 522.6h1v1h-1zM520.9 518.4h1v1h-1zM487.8 556.2h1v1h-1zM493.5 540.2h1v1h-1zM513.7 526.5h1v1h-1zM524.8 521h1v1h-1zM485.6 536.6h1v1h-1zM519.2 525h1v1h-1zM490.3 538.2h1v1h-1zM539.1 522.4h1v1h-1zM483.9 554.9h1v1h-1zM526.2 526h1v1h-1zM490.4 537h1v1h-1zM491.3 540.2h1v1h-1zM498.8 532h1v1h-1zM491.1 548.3h1v1h-1zM516.7 527.5h1v1h-1zM496.4 533.2h1v1h-1zM490.2 547h1v1h-1zM536.1 518.5h1v1h-1zM487.4 549.7h1v1h-1zM484.4 550.6h1v1h-1zM524.5 517.4h1v1h-1zM486.5 546.9h1v1h-1zM520.8 519.1h1v1h-1zM520.9 518.4h1v1h-1zM506.6 527.9h1v1h-1zM525.5 520h1v1h-1zM488.4 556h1v1h-1zM487.2 539.4h1v1h-1zM522.9 513h1v1h-1zM529.5 524.3h1v1h-1zM484.9 548.7h1v1h-1zM485 555.3h1v1h-1zM490.9 535.3h1v1h-1zM488.8 537.8h1v1h-1zM487 555.9h1v1h-1zM523.8 522.6h1v1h-1zM522.5 514.5h1v1h-1zM490.2 539.4h1v1h-1zM535.4 523h1v1h-1zM500.4 525.4h1v1h-1zM493.8 537h1v1h-1zM510.9 525.3h1v1h-1zM484.1 552.8h1v1h-1zM489.6 532.6h1v1h-1zM493.5 531.5h1v1h-1zM509.5 526.8h1v1h-1zM507.1 529.7h1v1h-1zM507.7 527.9h1v1h-1zM517.3 525.5h1v1h-1zM487.7 541.9h1v1h-1zM506.9 521.9h1v1h-1zM513.2 528h1v1h-1zM492.4 548.7h1v1h-1zM526.6 519.2h1v1h-1zM487 541.1h1v1h-1zM493.2 546.1h1v1h-1zM509.8 530.4h1v1h-1zM537.6 519.4h1v1h-1zM510.3 529.2h1v1h-1zM515.3 530.5h1v1h-1zM502.7 532.8h1v1h-1zM527.8 513.3h1v1h-1zM485.9 537.6h1v1h-1zM486.7 545.6h1v1h-1zM522.6 512.7h1v1h-1zM524.1 523.6h1v1h-1zM495.7 536.8h1v1h-1zM499.7 540.6h1v1h-1zM532.8 525.1h1v1h-1zM514.3 523.8h1v1h-1zM510.7 529.7h1v1h-1zM487.7 537.9h1v1h-1zM528.1 524.6h1v1h-1zM500.3 534.8h1v1h-1zM493.6 533.7h1v1h-1zM506.4 529.7h1v1h-1zM516.1 528.3h1v1h-1zM488.6 536.6h1v1h-1zM504.7 529.8h1v1h-1zM493 532.9h1v1h-1zM531.4 524.7h1v1h-1zM514.8 522.4h1v1h-1zM524.9 517.5h1v1h-1zM521.1 516.8h1v1h-1zM535.6 518.5h1v1h-1zM528.7 516h1v1h-1zM505.1 532.7h1v1h-1zM500.5 529.4h1v1h-1zM511.1 524.4h1v1h-1zM512.1 520.1h1v1h-1zM517.1 521.6h1v1h-1zM505.8 526.4h1v1h-1zM515.1 528.5h1v1h-1zM518.3 521.5h1v1h-1zM509.8 519.1h1v1h-1zM505.4 522.3h1v1h-1zM513.5 528.5h1v1h-1zM523.9 518.4h1v1h-1zM497.4 529.3h1v1h-1zM481.3 551.5h1v1h-1zM483 541.7h1v1h-1zM482.9 544.6h1v1h-1zM520.1 527.2h1v1h-1zM489.5 550.9h1v1h-1zM521.9 522h1v1h-1zM487.4 536.2h1v1h-1zM499.3 537.2h1v1h-1zM492.5 534.7h1v1h-1zM508.7 526.9h1v1h-1zM491.6 532.4h1v1h-1zM499.3 528.8h1v1h-1zM486.5 554.5h1v1h-1zM527.5 526.4h1v1h-1zM510.6 520.7h1v1h-1zM516.4 520.5h1v1h-1zM504.7 525.4h1v1h-1zM491.2 535.2h1v1h-1zM487.9 552.5h1v1h-1zM498.7 533.8h1v1h-1zM530.8 524.1h1v1h-1zM510.3 529.3h1v1h-1zM526.9 520.5h1v1h-1zM484.3 544.8h1v1h-1zM538.1 518.7h1v1h-1zM533.2 523.9h1v1h-1zM519 526.5h1v1h-1zM502.8 522.9h1v1h-1zM487.2 556.9h1v1h-1zM539.1 522.8h1v1h-1zM506.6 522.9h1v1h-1zM523.3 524.5h1v1h-1zM486.4 544.8h1v1h-1zM516.2 528.9h1v1h-1zM511.1 524.7h1v1h-1zM533.6 525h1v1h-1zM493.2 529.5h1v1h-1zM496.1 530.4h1v1h-1zM483 544.2h1v1h-1zM483.3 544h1v1h-1zM512.7 528.9h1v1h-1zM496.9 540.9h1v1h-1zM487.8 545.8h1v1h-1zM500.8 529.8h1v1h-1zM535.1 521.3h1v1h-1zM529.2 523.4h1v1h-1zM522.8 524.9h1v1h-1zM505.4 525.5h1v1h-1zM492.5 532.5h1v1h-1zM492.1 535.6h1v1h-1zM528.8 521.2h1v1h-1zM520.5 525.8h1v1h-1zM522 519.2h1v1h-1zM527.6 523.1h1v1h-1zM494.4 539.4h1v1h-1zM494.2 529.1h1v1h-1zM493.9 539.8h1v1h-1zM485.2 543.9h1v1h-1zM501.9 527.5h1v1h-1zM531.8 518.3h1v1h-1zM481.3 542.7h1v1h-1zM491.9 539.4h1v1h-1zM525.2 519.1h1v1h-1zM502.4 524.4h1v1h-1zM523.8 516.2h1v1h-1zM491.8 531.6h1v1h-1zM536.9 525.1h1v1h-1zM502.7 532.4h1v1h-1zM511.9 523.6h1v1h-1zM485.7 542.3h1v1h-1zM492.1 533h1v1h-1zM491.8 546.1h1v1h-1zM489.1 542h1v1h-1zM511.1 523.6h1v1h-1zM518.6 526.6h1v1h-1zM517.5 522.8h1v1h-1zM494.3 530.7h1v1h-1zM494.4 541.7h1v1h-1zM501.2 524.1h1v1h-1zM527.1 518h1v1h-1zM486.1 535h1v1h-1zM494.4 529.7h1v1h-1zM525.3 516.9h1v1h-1zM489.1 550h1v1h-1zM484.7 549.4h1v1h-1zM516.1 517.9h1v1h-1zM504.7 534.4h1v1h-1zM485.8 548.3h1v1h-1zM510.1 520h1v1h-1zM511.6 522.5h1v1h-1zM522.5 516.3h1v1h-1zM534.8 522.8h1v1h-1zM490.2 549.1h1v1h-1zM522.3 520h1v1h-1zM495.8 527.4h1v1h-1zM515.8 527.9h1v1h-1zM485.7 554.5h1v1h-1zM516.1 516.6h1v1h-1zM521.1 519.3h1v1h-1zM497 539.9h1v1h-1zM482.7 545.9h1v1h-1zM531.9 523.5h1v1h-1zM495.4 528.5h1v1h-1zM496.3 541.3h1v1h-1zM512.6 526.2h1v1h-1zM492.3 535.2h1v1h-1zM535.5 522.8h1v1h-1zM492.6 531.3h1v1h-1zM494.7 529.7h1v1h-1zM508.4 524.7h1v1h-1zM509.8 519.3h1v1h-1zM491 546.3h1v1h-1zM482.9 547.6h1v1h-1zM514.8 526h1v1h-1zM484.6 544.2h1v1h-1zM538.8 522.1h1v1h-1zM525.5 520.2h1v1h-1zM534.2 518.5h1v1h-1zM481.9 544.1h1v1h-1zM503.6 523.3h1v1h-1zM488.1 541.9h1v1h-1zM490.9 547.4h1v1h-1zM497.7 527.9h1v1h-1zM483.7 542.3h1v1h-1zM492.9 534h1v1h-1zM487.4 547.2h1v1h-1zM521.8 525.5h1v1h-1zM491.9 530.5h1v1h-1zM529.8 518.5h1v1h-1zM530.4 516.2h1v1h-1zM516.2 521.1h1v1h-1zM518.1 517.3h1v1h-1zM485.7 541.1h1v1h-1zM497.9 530.2h1v1h-1zM498.1 531.8h1v1h-1zM523.9 525.6h1v1h-1zM486.1 542.3h1v1h-1zM529.2 518.5h1v1h-1zM486.6 544.8h1v1h-1zM518.5 519h1v1h-1zM516.1 526.5h1v1h-1zM494.2 535.3h1v1h-1zM515.2 524.5h1v1h-1zM521.2 526.8h1v1h-1zM485.7 553.5h1v1h-1zM490.9 541.7h1v1h-1zM486.2 539.8h1v1h-1zM483.8 549.7h1v1h-1zM491.4 545.4h1v1h-1zM526.5 520.7h1v1h-1zM486.7 553.7h1v1h-1zM508.1 521h1v1h-1zM540.5 524.3h1v1h-1zM513.8 523.9h1v1h-1zM506.9 525.6h1v1h-1zM502.7 528.4h1v1h-1zM521.6 515.7h1v1h-1zM498.8 531.6h1v1h-1zM487.2 540.6h1v1h-1zM528 525h1v1h-1z"/>
<path fill="#3a9478" d="M542.9 560h1v1h-1zM544.2 576.5h1v1h-1zM541.7 555.5h1v1h-1zM544.2 553.5h1v1h-1zM541.9 576.7h1v1h-1zM540.2 571.2h1v1h-1zM541.2 551.1h1v1h-1zM540.6 556.9h1v1h-1zM542.2 530h1v1h-1zM540.9 539.1h1v1h-1zM543.6 536.9h1v1h-1zM545 567.5h1v1h-1zM541.5 559.8h1v1h-1zM542.6 554.7h1v1h-1zM542.7 526.9h1v1h-1zM544 528.2h1v1h-1zM539.8 573.4h1v1h-1zM538.6 539.9h1v1h-1zM545 557.1h1v1h-1zM541.1 567h1v1h-1zM546.5 582h1v1h-1zM545.6 583h1v1h-1zM541.7 583.2h1v1h-1zM544 542.3h1v1h-1zM543.1 548.8h1v1h-1zM540.4 552.9h1v1h-1zM542.2 547.5h1v1h-1zM541 558.1h1v1h-1zM540.6 529.7h1v1h-1zM541.1 564.4h1v1h-1zM543.9 564.3h1v1h-1zM539.2 535.4h1v1h-1zM543.7 545.1h1v1h-1zM543.6 577.5h1v1h-1zM542.2 578.7h1v1h-1zM540.1 547.5h1v1h-1zM544.6 573.6h1v1h-1zM544.8 582.6h1v1h-1zM541.1 534.5h1v1h-1zM541.2 550.8h1v1h-1zM541.1 546.7h1v1h-1zM544.6 569.9h1v1h-1zM543.2 566.9h1v1h-1zM540.4 539.9h1v1h-1zM546.6 581.7h1v1h-1zM539.9 547.4h1v1h-1zM542.7 538.7h1v1h-1zM540.2 552.9h1v1h-1zM541.5 564.9h1v1h-1zM545.2 578.3h1v1h-1zM544 572.8h1v1h-1zM540.6 529.3h1v1h-1zM543.2 582.4h1v1h-1zM539.6 549.3h1v1h-1zM544.4 561.2h1v1h-1zM542.9 572.6h1v1h-1zM545.2 575h1v1h-1zM544.6 536.1h1v1h-1zM542.6 572h1v1h-1zM544.5 582.2h1v1h-1zM541.2 561.1h1v1h-1zM542.3 551.5h1v1h-1zM541.6 580.7h1v1h-1zM539.1 540.8h1v1h-1zM543.1 569.9h1v1h-1zM542.9 527.6h1v1h-1zM541.9 562.2h1v1h-1zM544 546.1h1v1h-1zM542.5 535.9h1v1h-1zM544.1 555.4h1v1h-1zM541.2 568.3h1v1h-1zM542.3 572.8h1v1h-1zM541.4 541.5h1v1h-1zM544 583.6h1v1h-1zM540.6 554h1v1h-1zM541.1 535.5h1v1h-1zM544.9 579h1v1h-1zM541.9 550.8h1v1h-1zM542.4 562.2h1v1h-1zM542 530.3h1v1h-1zM541.3 575.8h1v1h-1zM545.8 581.8h1v1h-1zM543.3 540.7h1v1h-1zM541.4 574.6h1v1h-1zM542.6 551.1h1v1h-1zM542.4 534.3h1v1h-1zM542.4 579.3h1v1h-1zM541.4 533.9h1v1h-1zM541.9 566.4h1v1h-1zM540.6 540.4h1v1h-1zM540.3 544.7h1v1h-1zM543.1 576.5h1v1h-1zM545.9 573.2h1v1h-1zM543.7 531.4h1v1h-1zM540.8 571.9h1v1h-1zM541.2 547.2h1v1h-1zM543.3 558.7h1v1h-1zM542.8 581.6h1v1h-1zM543.8 543.2h1v1h-1zM544.2 571.1h1v1h-1zM543.2 535.6h1v1h-1zM542.1 540.5h1v1h-1zM543.6 552h1v1h-1zM544.5 544.9h1v1h-1zM542.8 583.3h1v1h-1zM539.8 541.5h1v1h-1zM541.4 543.4h1v1h-1zM542.9 542.3h1v1h-1zM543 542.3h1v1h-1zM543 558.7h1v1h-1zM545 550.9h1v1h-1zM543.7 561.9h1v1h-1zM540.9 543h1v1h-1zM544.6 565h1v1h-1zM541.2 576.8h1v1h-1zM553 596.1h1v1h-1zM542.8 589.8h1v1h-1zM554.3 597.4h1v1h-1zM542.1 599.9h1v1h-1zM540 586.4h1v1h-1zM550.4 600.7h1v1h-1zM547.3 594.7h1v1h-1zM542.2 589.9h1v1h-1zM555.8 598.7h1v1h-1zM548.5 583.8h1v1h-1zM549.4 595h1v1h-1zM550.6 587.8h1v1h-1zM542.1 600.6h1v1h-1zM547.5 584h1v1h-1zM548.3 598.5h1v1h-1zM547.9 586.1h1v1h-1zM546.5 598h1v1h-1zM547.8 589.9h1v1h-1zM553.7 593.8h1v1h-1zM548.7 592h1v1h-1zM542.1 594h1v1h-1zM550.9 588.4h1v1h-1zM554.9 590.7h1v1h-1zM548.5 602.9h1v1h-1zM549.2 586h1v1h-1zM551.7 591h1v1h-1zM547.6 600h1v1h-1zM546.4 593.9h1v1h-1zM540.9 584.1h1v1h-1zM545.5 585.5h1v1h-1zM550.6 592.3h1v1h-1zM551.1 593h1v1h-1zM541.4 597.4h1v1h-1zM547.5 596.9h1v1h-1zM546.4 595h1v1h-1zM540.8 588.9h1v1h-1zM542.7 594.2h1v1h-1zM548.1 599.9h1v1h-1zM549.8 601.6h1v1h-1zM544.5 587.5h1v1h-1zM544.3 596.1h1v1h-1zM547.6 583.2h1v1h-1zM549.1 593.8h1v1h-1zM547.2 585.2h1v1h-1zM546 586.3h1v1h-1zM542.9 596.6h1v1h-1zM552.1 597.6h1v1h-1zM543.8 583.9h1v1h-1zM546.9 584h1v1h-1zM548.9 599.5h1v1h-1zM553 597.3h1v1h-1zM548 593.5h1v1h-1zM542.3 596.8h1v1h-1zM548.7 603.4h1v1h-1zM546 593.8h1v1h-1zM549.8 586.9h1v1h-1zM551.7 600h1v1h-1zM549 601.6h1v1h-1zM554.1 592.4h1v1h-1zM546.7 600.4h1v1h-1zM551.1 600.9h1v1h-1zM553.5 595.6h1v1h-1zM547.7 590.8h1v1h-1zM542.3 591.2h1v1h-1zM545.3 598.4h1v1h-1zM548.2 595.6h1v1h-1zM548.4 601.8h1v1h-1zM541.3 591.9h1v1h-1zM553.5 600h1v1h-1zM548.6 603.9h1v1h-1zM545.6 592.1h1v1h-1zM546.3 592.8h1v1h-1zM543.1 583.5h1v1h-1zM548.8 599.9h1v1h-1zM543.2 589.5h1v1h-1zM545.2 593.5h1v1h-1zM550.3 592.6h1v1h-1zM553 588.2h1v1h-1zM548.3 593.4h1v1h-1zM546.5 600.3h1v1h-1zM545.8 600.8h1v1h-1zM547.2 588.8h1v1h-1zM552.2 590.7h1v1h-1zM543.2 593.5h1v1h-1zM552.3 595.9h1v1h-1zM542.9 602.4h1v1h-1zM546.3 584h1v1h-1zM552.7 590.9h1v1h-1zM541.8 594.5h1v1h-1zM549.4 588.9h1v1h-1zM541.8 597.7h1v1h-1zM552.4 601.4h1v1h-1zM546.2 602.3h1v1h-1zM546.7 599.9h1v1h-1zM544 593.2h1v1h-1zM554.2 600.7h1v1h-1zM547.8 598h1v1h-1zM545.1 590.4h1v1h-1zM542 582.5h1v1h-1zM549.5 590.2h1v1h-1zM548.1 592h1v1h-1zM546.1 601.9h1v1h-1zM545.5 600.4h1v1h-1zM549.8 590.1h1v1h-1zM542.4 582.8h1v1h-1zM549.7 586.2h1v1h-1zM548.3 584.5h1v1h-1zM544.5 595.2h1v1h-1zM547.1 593.9h1v1h-1zM548.5 584.6h1v1h-1z"/>
<path fill="#4aaed0" d="M542.3 515.9h1v1h-1zM546 512.9h1v1h-1zM545.5 508.3h1v1h-1zM549.6 511.9h1v1h-1zM541.9 516.7h1v1h-1zM557.1 500.7h1v1h-1zM548.8 509.4h1v1h-1zM551.9 496.8h1v1h-1zM546.4 515.7h1v1h-1zM560.7 493.1h1v1h-1zM547.6 512.8h1v1h-1zM555.5 498.9h1v1h-1zM555.1 490h1v1h-1zM546.7 508.9h1v1h-1zM547.7 513.2h1v1h-1zM559.7 492.8h1v1h-1zM548.6 505.1h1v1h-1zM547.1 512.2h1v1h-1zM552.9 497.1h1v1h-1zM543.3 522.9h1v1h-1zM549.6 501.9h1v1h-1zM553.8 503.2h1v1h-1zM558.4 492.6h1v1h-1zM556 494.1h1v1h-1zM541.6 516.3h1v1h-1zM544.9 518.1h1v1h-1zM553.4 497h1v1h-1zM553.1 503.4h1v1h-1zM559.4 491.8h1v1h-1zM561 495.3h1v1h-1zM556.2 495.3h1v1h-1zM541.4 520.9h1v1h-1zM546.7 513.2h1v1h-1zM546.6 510.8h1v1h-1zM553.2 495.1h1v1h-1zM542.4 515.1h1v1h-1zM542.6 517.8h1v1h-1zM550 505.6h1v1h-1zM551 497.2h1v1h-1zM554 498.6h1v1h-1zM555.5 501.5h1v1h-1zM546.9 514h1v1h-1zM547.6 512.5h1v1h-1zM545.3 515.8h1v1h-1zM555 499.1h1v1h-1zM548.7 506h1v1h-1zM552.8 496.8h1v1h-1zM550.8 500.5h1v1h-1zM555.9 495.1h1v1h-1zM554.6 499.3h1v1h-1zM549.7 500.1h1v1h-1zM550.9 504.7h1v1h-1zM541.6 520.6h1v1h-1zM547.9 512.5h1v1h-1zM547.4 508.9h1v1h-1zM552.3 499.1h1v1h-1zM544.3 511.6h1v1h-1zM555.6 489.6h1v1h-1zM557.1 496h1v1h-1zM549.9 501.6h1v1h-1zM554.3 494.3h1v1h-1zM551.2 504.3h1v1h-1zM560.1 490.5h1v1h-1zM552.1 495.4h1v1h-1zM546 519h1v1h-1zM555.9 494.4h1v1h-1zM557.8 493.1h1v1h-1zM558.5 488.4h1v1h-1zM547.7 513.8h1v1h-1zM547.7 504.3h1v1h-1zM556 491.2h1v1h-1zM541.8 521.1h1v1h-1zM548.8 503.9h1v1h-1zM551.7 501.5h1v1h-1zM550.4 508.5h1v1h-1zM542.6 516.8h1v1h-1zM548 504h1v1h-1zM549.3 501.5h1v1h-1zM556.8 496.5h1v1h-1zM553.8 492.9h1v1h-1zM556.8 496.5h1v1h-1zM554.6 498.8h1v1h-1zM550 505.5h1v1h-1zM545.9 509.1h1v1h-1zM540.7 519.4h1v1h-1zM554.4 499.4h1v1h-1zM559.4 494.7h1v1h-1zM550.2 510.6h1v1h-1zM551.6 506.8h1v1h-1zM542.8 521.2h1v1h-1zM547.4 511.8h1v1h-1zM550.1 497.8h1v1h-1zM558.4 494.1h1v1h-1z"/>
<path fill="#7b6bb0" d="M556.7 463.2h1v1h-1zM560.1 465.1h1v1h-1zM556.8 472.4h1v1h-1zM556.9 463h1v1h-1zM558.4 471.6h1v1h-1zM555.6 464.5h1v1h-1zM561 467.7h1v1h-1zM556.3 465.2h1v1h-1zM559.4 466.5h1v1h-1zM558.7 463.1h1v1h-1zM559.5 463.8h1v1h-1zM555.8 470.3h1v1h-1zM556 463h1v1h-1zM558.3 471.1h1v1h-1zM557.7 471.2h1v1h-1zM556.4 464.9h1v1h-1zM557.3 466h1v1h-1zM560.5 466.4h1v1h-1zM558.3 468.7h1v1h-1zM555.3 467.5h1v1h-1zM559.5 464.7h1v1h-1zM558.7 474.1h1v1h-1zM556.5 465h1v1h-1zM559.5 470.9h1v1h-1zM556.5 466h1v1h-1z"/>
<path fill="#d6478b" d="M592.8 508.2h1v1h-1zM594.3 510.3h1v1h-1zM570.2 472.8h1v1h-1zM593.5 506.3h1v1h-1zM580.2 496.1h1v1h-1zM585.4 502.8h1v1h-1zM589.6 520.3h1v1h-1zM589.1 499.4h1v1h-1zM573.5 490.1h1v1h-1zM603.9 544.6h1v1h-1zM588.8 514.5h1v1h-1zM569.4 480.7h1v1h-1zM577.3 475.5h1v1h-1zM587.7 502.1h1v1h-1zM603.9 538.6h1v1h-1zM596 529.3h1v1h-1zM610.8 581.4h1v1h-1zM589.5 498.3h1v1h-1zM575.8 494.2h1v1h-1zM576.1 484.8h1v1h-1zM605.4 549.7h1v1h-1zM600.8 530h1v1h-1zM585.3 511.4h1v1h-1zM606.4 542.7h1v1h-1zM609.3 569.8h1v1h-1zM583.1 499h1v1h-1zM572.8 471.4h1v1h-1zM581.2 501.4h1v1h-1zM588.1 495.3h1v1h-1zM610.4 556.2h1v1h-1zM583.4 500.7h1v1h-1zM577.3 484.5h1v1h-1zM609 578.5h1v1h-1zM590.8 507.8h1v1h-1zM572.6 484.1h1v1h-1zM576.1 494.4h1v1h-1zM594.4 507h1v1h-1zM614 557.1h1v1h-1zM596.2 533h1v1h-1zM579.2 500.7h1v1h-1zM597.9 517.6h1v1h-1zM601.1 525.7h1v1h-1zM610.3 544.6h1v1h-1zM612.8 563.4h1v1h-1zM596 512.9h1v1h-1zM587.9 513h1v1h-1zM600.7 536.1h1v1h-1zM578.9 477h1v1h-1zM595.2 526.1h1v1h-1zM582.4 493h1v1h-1zM596.4 516.9h1v1h-1zM610.2 552h1v1h-1zM597.5 534.8h1v1h-1zM571 478.9h1v1h-1zM570 469.5h1v1h-1zM615 560.8h1v1h-1zM599 526h1v1h-1zM607.6 560.2h1v1h-1zM607 564.4h1v1h-1zM584.3 493h1v1h-1zM606.5 552.6h1v1h-1zM593.8 520h1v1h-1zM578.3 476h1v1h-1zM607.7 557h1v1h-1zM578.9 497.4h1v1h-1zM603.9 556.8h1v1h-1zM593.2 513.2h1v1h-1zM612.6 566.2h1v1h-1zM585 498.8h1v1h-1zM573.4 474.5h1v1h-1zM595.1 520.2h1v1h-1zM574.7 489.6h1v1h-1zM582.9 484.7h1v1h-1zM597.3 513h1v1h-1zM581 498.9h1v1h-1zM612.3 583.3h1v1h-1zM576.8 470.5h1v1h-1zM585.6 492.8h1v1h-1zM613.4 575.9h1v1h-1zM584.7 504.8h1v1h-1zM581.1 493.8h1v1h-1zM580.4 489.6h1v1h-1zM580.5 494.7h1v1h-1zM608.1 547.3h1v1h-1zM601.1 550.3h1v1h-1zM576.2 477.9h1v1h-1zM608 552.2h1v1h-1zM605.2 540.5h1v1h-1zM595.7 513h1v1h-1zM611.4 577.1h1v1h-1zM581.1 480.7h1v1h-1zM573.9 475.6h1v1h-1zM588.7 508.2h1v1h-1zM615.8 567.1h1v1h-1zM609.9 558h1v1h-1zM597.6 529.8h1v1h-1zM606.1 547.2h1v1h-1zM607.9 561.4h1v1h-1zM580.7 502.6h1v1h-1zM610.3 576.1h1v1h-1zM605.5 538.1h1v1h-1zM613.8 563.6h1v1h-1zM599.8 533.3h1v1h-1zM591.2 502.1h1v1h-1zM617.6 576.6h1v1h-1zM592.9 520.4h1v1h-1zM603.6 557.2h1v1h-1zM592.5 520.5h1v1h-1zM575.9 496.6h1v1h-1zM615.3 566.4h1v1h-1zM587.6 509.2h1v1h-1zM581.3 495.5h1v1h-1zM583.9 496.9h1v1h-1zM576.9 479.7h1v1h-1zM591 512.8h1v1h-1zM611.8 569.4h1v1h-1zM603.1 537.8h1v1h-1zM594.1 511h1v1h-1zM612.1 571.4h1v1h-1zM573.5 485.6h1v1h-1zM606.6 556.1h1v1h-1zM585.8 502.6h1v1h-1zM572.2 486.5h1v1h-1zM577.3 483h1v1h-1zM611.4 557.6h1v1h-1zM579.3 485h1v1h-1zM609.2 548h1v1h-1zM584.5 496.4h1v1h-1zM586.1 503.9h1v1h-1zM610.1 545.7h1v1h-1zM596.2 538.6h1v1h-1zM599.6 531.6h1v1h-1zM597.6 533h1v1h-1zM574.5 478.6h1v1h-1zM575.3 469.3h1v1h-1zM605.1 563.3h1v1h-1zM599.4 525.1h1v1h-1zM579.2 479h1v1h-1zM587.3 504h1v1h-1zM612.4 582.1h1v1h-1zM575.5 493.4h1v1h-1zM579.3 489.6h1v1h-1zM609.4 564.7h1v1h-1zM612.1 560.4h1v1h-1zM571.9 475.2h1v1h-1zM616.6 577.6h1v1h-1zM575.5 495.1h1v1h-1zM611.1 576.7h1v1h-1zM608.4 546.7h1v1h-1zM611.5 564.3h1v1h-1zM586 491.1h1v1h-1zM596.4 521h1v1h-1zM610.5 569.9h1v1h-1zM615.6 570.8h1v1h-1zM613.8 558.1h1v1h-1zM611.6 577.3h1v1h-1zM599.6 536.5h1v1h-1zM576.7 472.3h1v1h-1zM585.7 503.8h1v1h-1zM585.3 491.1h1v1h-1zM594.1 516.5h1v1h-1zM582.1 501.1h1v1h-1zM604.1 543.5h1v1h-1zM576.8 479.4h1v1h-1zM597.3 527.8h1v1h-1zM599 543.3h1v1h-1zM606.8 549.1h1v1h-1zM613.8 562.5h1v1h-1zM602.9 549h1v1h-1zM593.1 522.7h1v1h-1zM614.1 575.4h1v1h-1zM604 534.2h1v1h-1zM578.6 497.2h1v1h-1zM594.8 518h1v1h-1zM576.3 480.5h1v1h-1zM592.1 523.7h1v1h-1zM572.1 479.4h1v1h-1zM591.4 506.2h1v1h-1zM602.2 551.1h1v1h-1zM608.5 576.7h1v1h-1zM578.9 491h1v1h-1zM601.7 552.1h1v1h-1zM607.1 563.3h1v1h-1zM586.8 493.8h1v1h-1zM589 507.1h1v1h-1zM599 542.3h1v1h-1zM611.9 567.2h1v1h-1zM594.7 518.9h1v1h-1zM599.4 543.7h1v1h-1zM616 566.2h1v1h-1zM580.3 493.3h1v1h-1zM609 565.7h1v1h-1zM596.9 539.4h1v1h-1zM596.2 514.8h1v1h-1zM596.5 534.1h1v1h-1zM601.7 536.4h1v1h-1zM596 522.7h1v1h-1zM603 555.7h1v1h-1zM595.7 528.4h1v1h-1zM583.9 506.9h1v1h-1zM572.9 474.4h1v1h-1zM608.5 571.2h1v1h-1zM583.8 487.8h1v1h-1zM592.2 516.6h1v1h-1zM599.1 542.6h1v1h-1zM596 512.4h1v1h-1zM610.1 569.4h1v1h-1zM577.6 474h1v1h-1zM581.6 484h1v1h-1zM593.4 523.7h1v1h-1zM575.6 488.2h1v1h-1zM615.3 576.7h1v1h-1zM612.3 565.4h1v1h-1zM611 561.9h1v1h-1zM608.1 558.9h1v1h-1zM581.2 494.1h1v1h-1zM589.5 498.4h1v1h-1zM615.4 575.6h1v1h-1zM587.8 498.8h1v1h-1zM593.8 518.7h1v1h-1zM614.7 570.5h1v1h-1zM591.7 510.1h1v1h-1zM609.9 576.3h1v1h-1zM612 550.4h1v1h-1zM603.1 530.4h1v1h-1zM611.7 563.7h1v1h-1zM589.6 494.9h1v1h-1zM603.6 533.3h1v1h-1zM582.9 495.6h1v1h-1zM610 546.5h1v1h-1zM611.6 564h1v1h-1zM587.1 513.6h1v1h-1zM587 510.2h1v1h-1zM611.7 561.1h1v1h-1zM602.8 534.4h1v1h-1zM605.9 544.5h1v1h-1zM600.2 517.7h1v1h-1zM608.6 568.6h1v1h-1zM592.3 513h1v1h-1zM589 514.9h1v1h-1zM614.2 567h1v1h-1zM605 540.2h1v1h-1zM579.9 501h1v1h-1zM582.5 495.9h1v1h-1zM596.5 542.2h1v1h-1zM615 582.9h1v1h-1zM613.1 580.5h1v1h-1zM601.6 531.9h1v1h-1zM571.4 479.4h1v1h-1zM577 481.8h1v1h-1zM575.8 472.7h1v1h-1zM612.1 550.7h1v1h-1zM600.7 527.8h1v1h-1zM608.8 565.1h1v1h-1zM597 534.1h1v1h-1zM597 527.6h1v1h-1zM600.1 520h1v1h-1zM608.5 568.3h1v1h-1zM603.7 536.9h1v1h-1zM589 503.1h1v1h-1zM580.7 497.3h1v1h-1zM611.1 575.2h1v1h-1zM590.2 519.4h1v1h-1zM574.6 477.7h1v1h-1zM578.9 480.8h1v1h-1zM584.7 502h1v1h-1zM606.1 542h1v1h-1zM601.8 528.4h1v1h-1zM581.3 486.6h1v1h-1zM597.7 530.5h1v1h-1zM572 482.2h1v1h-1zM581.2 497.4h1v1h-1zM609.4 546.8h1v1h-1zM589.7 505.5h1v1h-1zM611.8 571.3h1v1h-1zM598.7 529h1v1h-1zM586.7 504.1h1v1h-1zM578 485.5h1v1h-1zM612.2 551.1h1v1h-1zM599.8 522.1h1v1h-1zM605.8 554.7h1v1h-1zM571.4 478.3h1v1h-1zM613.9 581.8h1v1h-1zM585.1 503.6h1v1h-1zM599.8 519.1h1v1h-1zM615.9 574.2h1v1h-1zM609.5 551.1h1v1h-1zM602.9 546.3h1v1h-1zM602.3 551.5h1v1h-1zM594.1 516.3h1v1h-1zM585.1 496.7h1v1h-1zM588.4 506.2h1v1h-1zM593.7 505.5h1v1h-1zM609.4 551.1h1v1h-1zM575.3 477.9h1v1h-1zM572.9 483.8h1v1h-1zM608.5 563.1h1v1h-1zM599.7 545.6h1v1h-1zM579.3 492.7h1v1h-1zM611 560.5h1v1h-1zM590.8 507.1h1v1h-1zM570.2 475h1v1h-1zM599.2 518.8h1v1h-1zM571.4 473.1h1v1h-1zM595.9 516h1v1h-1zM592.3 515.1h1v1h-1zM598.4 521.2h1v1h-1zM575.9 482.6h1v1h-1zM579.7 485h1v1h-1zM580.7 481.7h1v1h-1zM587.4 512.9h1v1h-1zM608.5 548.3h1v1h-1zM608.1 540.6h1v1h-1zM589.5 507.7h1v1h-1zM577.5 494.6h1v1h-1zM617.4 576.4h1v1h-1zM595.1 507.2h1v1h-1zM604 566h1v1h-1zM582 495.9h1v1h-1zM600.4 535.5h1v1h-1zM602.5 544.2h1v1h-1zM588.3 497.2h1v1h-1zM595.1 507.1h1v1h-1zM605.9 560.6h1v1h-1zM609.3 547.8h1v1h-1zM605.2 566h1v1h-1zM589 501h1v1h-1zM592.6 513.3h1v1h-1zM595.7 524.8h1v1h-1zM612 573.6h1v1h-1zM593.3 529.2h1v1h-1zM609.6 560.6h1v1h-1zM580.7 492.9h1v1h-1zM577.6 479.9h1v1h-1zM586.7 511h1v1h-1zM616.8 583.4h1v1h-1zM607.8 554.5h1v1h-1zM614.5 560.3h1v1h-1zM613.5 575.2h1v1h-1zM617.7 578.2h1v1h-1zM609.3 572.1h1v1h-1zM612.6 569.8h1v1h-1zM575.8 472h1v1h-1zM596.2 511.4h1v1h-1zM594.8 531.3h1v1h-1zM597.3 514h1v1h-1zM611 575.8h1v1h-1zM580.4 480.9h1v1h-1zM579.6 477.3h1v1h-1zM576.6 479h1v1h-1zM612.2 575.8h1v1h-1zM613.3 561.2h1v1h-1zM611.2 578.3h1v1h-1zM594.4 516.2h1v1h-1zM601.2 525.7h1v1h-1zM593 504h1v1h-1zM607.1 542.2h1v1h-1zM617.9 577.8h1v1h-1zM592.8 503.6h1v1h-1zM613.7 573h1v1h-1zM573.5 473.5h1v1h-1zM571.4 469.5h1v1h-1zM583.6 499.4h1v1h-1zM609.3 543.2h1v1h-1zM612.3 565h1v1h-1zM610.3 549.5h1v1h-1zM570.5 476.4h1v1h-1zM606.4 560.6h1v1h-1zM582.6 491.6h1v1h-1zM574.8 477.4h1v1h-1zM611.6 562.5h1v1h-1zM606.7 565.9h1v1h-1zM589.6 502.9h1v1h-1zM596.3 530h1v1h-1zM616.5 573.3h1v1h-1zM594.4 504.8h1v1h-1zM586.2 505h1v1h-1zM610 574.8h1v1h-1zM575.5 488.9h1v1h-1zM575.6 487.3h1v1h-1zM572.8 485.9h1v1h-1zM574.9 473.9h1v1h-1zM605.2 539.2h1v1h-1zM587 491.1h1v1h-1zM608.2 566.7h1v1h-1zM601.7 522.8h1v1h-1zM600.3 544.1h1v1h-1zM581.4 488.9h1v1h-1zM584.8 509.9h1v1h-1zM575.7 473.5h1v1h-1zM581.9 496.7h1v1h-1zM587.7 505h1v1h-1zM584.1 503.8h1v1h-1zM578.4 489.1h1v1h-1zM579.5 488.1h1v1h-1zM614.3 563.3h1v1h-1zM596.7 524.1h1v1h-1zM599.6 528.4h1v1h-1zM597 526.9h1v1h-1zM577.1 477.7h1v1h-1zM609.7 552.5h1v1h-1zM603 543.6h1v1h-1zM574.6 480.1h1v1h-1zM602 531h1v1h-1zM581.2 503.7h1v1h-1zM599.1 540.1h1v1h-1zM581.6 492.2h1v1h-1zM577.5 476.1h1v1h-1zM594 515.5h1v1h-1zM610.6 558.4h1v1h-1zM613.8 564h1v1h-1zM578.1 483.8h1v1h-1zM601.3 542.7h1v1h-1zM595.5 523.1h1v1h-1zM617.2 580.5h1v1h-1zM604.5 556h1v1h-1zM610.7 573.5h1v1h-1zM579.1 482.1h1v1h-1zM613.1 566.4h1v1h-1zM600 542.9h1v1h-1zM586 495h1v1h-1zM588.1 494.7h1v1h-1zM595.8 515.2h1v1h-1zM613.6 555.6h1v1h-1zM612.5 553.5h1v1h-1zM610.9 556.1h1v1h-1zM599.5 546.6h1v1h-1zM588.6 498.5h1v1h-1zM583.1 498.5h1v1h-1zM586.4 500.6h1v1h-1zM576.5 478.1h1v1h-1zM593 511h1v1h-1zM589.7 513.4h1v1h-1zM607.6 563.3h1v1h-1zM600.8 547.4h1v1h-1zM586.1 502.7h1v1h-1zM591.6 507.4h1v1h-1zM585.9 488.6h1v1h-1zM577.8 489.3h1v1h-1zM574.8 480.8h1v1h-1zM585.5 490.4h1v1h-1zM588.9 501.2h1v1h-1zM599.5 518.6h1v1h-1zM597.5 527.2h1v1h-1zM594.9 513.6h1v1h-1zM594.1 509.4h1v1h-1zM600.6 542.2h1v1h-1zM603.4 554.1h1v1h-1zM607.7 566.7h1v1h-1zM596 522.9h1v1h-1zM612.6 555.3h1v1h-1zM576.8 483.1h1v1h-1zM603.8 534.9h1v1h-1zM605.1 541h1v1h-1zM576.2 486.8h1v1h-1zM589.1 514.7h1v1h-1zM612 573.9h1v1h-1zM575.5 486.9h1v1h-1zM580.2 484.9h1v1h-1zM613.3 580.6h1v1h-1zM612.7 581.1h1v1h-1zM576.9 471.4h1v1h-1zM594.1 506.2h1v1h-1zM617.2 576.4h1v1h-1zM592.2 513.5h1v1h-1zM602.7 542.4h1v1h-1zM583.8 496.1h1v1h-1zM574 485.4h1v1h-1zM617.1 570.4h1v1h-1zM584.8 491.4h1v1h-1zM583.9 505.5h1v1h-1zM595.9 524.7h1v1h-1zM603.7 550.1h1v1h-1zM599.1 524h1v1h-1zM609.3 564.1h1v1h-1zM613.8 563.9h1v1h-1zM616.6 573.6h1v1h-1zM607.7 551.8h1v1h-1zM595 517.6h1v1h-1zM611 576h1v1h-1zM588.9 502.1h1v1h-1zM612.1 554.2h1v1h-1zM613.2 564.2h1v1h-1zM606.4 543.2h1v1h-1zM590.6 511.4h1v1h-1zM580.7 491.3h1v1h-1zM607 551.3h1v1h-1zM577.7 495.5h1v1h-1zM609 564.4h1v1h-1zM608.7 563.2h1v1h-1zM606.2 561.9h1v1h-1zM610.4 548.5h1v1h-1zM603.6 552h1v1h-1zM609.5 563.5h1v1h-1zM591.1 506.1h1v1h-1zM612.8 556.3h1v1h-1zM586.6 510.5h1v1h-1zM572.3 485.2h1v1h-1zM595.9 526.5h1v1h-1zM577.4 497.3h1v1h-1zM595.9 514.6h1v1h-1zM607.4 570.8h1v1h-1zM613.9 560h1v1h-1zM578.7 484.6h1v1h-1zM570.8 479.5h1v1h-1zM595.4 507.3h1v1h-1zM592.5 506.3h1v1h-1zM565.2 488.3h1v1h-1zM570.6 491.2h1v1h-1zM564.6 491.8h1v1h-1zM570.1 489.2h1v1h-1zM566.5 492h1v1h-1zM567.6 487.8h1v1h-1zM566.5 493.4h1v1h-1zM568.8 490.2h1v1h-1zM568.7 492h1v1h-1zM566.8 488h1v1h-1zM568.6 491.2h1v1h-1zM568.9 486.6h1v1h-1zM566.7 492.2h1v1h-1zM567.3 488.3h1v1h-1zM569.7 489.6h1v1h-1zM570.5 490.7h1v1h-1zM565.4 491.8h1v1h-1zM568.6 488.8h1v1h-1z"/>
<path d="M541.7 523.8 534.4 520.9 526.5 520.4 517.7 523.2 509 527.7 500.2 533.3 493.2 540.1 487.1 546.9" fill="none" stroke="#111" stroke-width="0.5" stroke-linejoin="round" stroke-opacity="0.7"/>
<path d="M541.7 523.8 542.3 543.5 543.6 559.3 545.3 577.4 546.6 591" fill="none" stroke="#111" stroke-width="0.5" stroke-linejoin="round" stroke-opacity="0.7"/>
<path d="M541.7 523.8 548.4 510.7 554.5 499.4 560.6 491.1" fill="none" stroke="#111" stroke-width="0.5" stroke-linejoin="round" stroke-opacity="0.7"/>
<path d="M560.6 491.1 559.8 482.5 559.4 473.4" fill="none" stroke="#111" stroke-width="0.5" stroke-linejoin="round" stroke-opacity="0.7"/>
<path d="M560.6 491.1 567.7 489.3 571.1 488.4 576 489.9 584.1 502.1 592.2 515 598.7 527.9 605.2 542.6 610 560.5 612.3 575.1" fill="none" stroke="#111" stroke-width="0.5" stroke-linejoin="round" stroke-opacity="0.7"/>
<circle cx="560.6" cy="491.1" r="4.6" fill="#000"/>
<text x="560.6" y="493.6" text-anchor="middle" font-weight="bold" fill="#fff" font-size="7.1">1</text>
<circle cx="541.7" cy="523.8" r="4.6" fill="#000"/>
<text x="541.7" y="526.4" text-anchor="middle" font-weight="bold" fill="#fff" font-size="7.1">2</text>
<text x="623.4" y="494.8" font-weight="bold" fill="#111" font-size="9.4">State</text>
<circle cx="628.5" cy="507" r="2.7" fill="#d6478b"/>
<text x="634.8" y="509.7" font-weight="bold" fill="#111" font-size="7.6">1</text>
<circle cx="628.5" cy="523.3" r="2.7" fill="#7b6bb0"/>
<text x="634.8" y="526" font-weight="bold" fill="#111" font-size="7.6">2</text>
<circle cx="628.5" cy="539.3" r="2.7" fill="#4aaed0"/>
<text x="634.8" y="542" font-weight="bold" fill="#111" font-size="7.6">3</text>
<circle cx="628.5" cy="555.8" r="2.7" fill="#3a9478"/>
<text x="634.8" y="558.5" font-weight="bold" fill="#111" font-size="7.6">4</text>
<circle cx="628.5" cy="572" r="2.7" fill="#3b4f89"/>
<text x="634.8" y="574.7" font-weight="bold" fill="#111" font-size="7.6">5</text>
<text x="-1.1" y="676.7" font-size="23">I</text>
<line x1="21.5" y1="685.1" x2="21.5" y2="837.6" stroke="#444" stroke-width="0.8"/>
<line x1="21.1" y1="837.2" x2="150.7" y2="837.2" stroke="#444" stroke-width="0.8"/>
<line x1="19" y1="716.8" x2="21.5" y2="716.8" stroke="#444" stroke-width="0.6"/>
<text x="17.7" y="719.2" text-anchor="end" fill="#222" stroke="#222" stroke-width="0.12" font-size="6.8">2</text>
<line x1="19" y1="759.4" x2="21.5" y2="759.4" stroke="#444" stroke-width="0.6"/>
<text x="17.7" y="761.8" text-anchor="end" fill="#222" stroke="#222" stroke-width="0.12" font-size="6.8">0</text>
<line x1="19" y1="802" x2="21.5" y2="802" stroke="#444" stroke-width="0.6"/>
<text x="17.7" y="804.4" text-anchor="end" fill="#222" stroke="#222" stroke-width="0.12" font-size="6.8">−2</text>
<line x1="48" y1="837.2" x2="48" y2="839.7" stroke="#444" stroke-width="0.6"/>
<text x="48" y="846.6" text-anchor="middle" fill="#222" stroke="#222" stroke-width="0.12" font-size="6.8">−5</text>
<line x1="85.3" y1="837.2" x2="85.3" y2="839.7" stroke="#444" stroke-width="0.6"/>
<text x="85.3" y="846.6" text-anchor="middle" fill="#222" stroke="#222" stroke-width="0.12" font-size="6.8">0</text>
<line x1="122.5" y1="837.2" x2="122.5" y2="839.7" stroke="#444" stroke-width="0.6"/>
<text x="122.5" y="846.6" text-anchor="middle" fill="#222" stroke="#222" stroke-width="0.12" font-size="6.8">5</text>
<text x="86.6" y="855.3" text-anchor="middle" font-weight="bold" fill="#111" font-size="8">Component 1</text>
<text x="4.2" y="763.5" text-anchor="middle" font-weight="bold" fill="#111" font-size="8" transform="rotate(-90 4.2 760.6)">Component 2</text>
<path d="M78.2 749C76.9 747 72.6 743 70.3 741.7C67.9 740.4 66.3 740.8 64.3 741.3C62.3 741.8 61 743.2 58.3 744.7C55.7 746.2 51.7 748.2 48.4 750.2C45.1 752.3 41.5 754.3 38.5 756.8C35.5 759.4 32.4 763 30.5 765.6C28.7 768.1 27.9 770 27.6 772.2C27.2 774.4 27.6 776.6 28.6 778.8C29.6 781 32.2 785.7 33.5 785.4C34.8 785 35 779.4 36.5 776.7C38 773.9 40.5 771.2 42.5 769C44.4 766.8 45.8 765.3 48.4 763.4C51.1 761.6 55 759.4 58.3 757.9C61.6 756.4 65 755.2 68.3 754.5C71.6 753.8 76.6 754.4 78.2 753.4C79.9 752.5 79.6 750.9 78.2 749Z" fill="#4f8fc4" fill-opacity="0.5"/>
<path d="M77.7 754.5C77.1 758.9 78 771.9 78.3 780.9C78.6 789.9 78.7 803.8 79.7 808.4C80.7 813 83.7 813 84.2 808.4C84.7 803.8 83 789.9 82.6 780.9C82.2 771.9 82.5 758.9 81.7 754.5C80.9 750.1 78.3 750.1 77.7 754.5Z" fill="#4a8cc2" fill-opacity="0.5"/>
<path d="M79 808.4C78.1 810.2 78.8 814 79 816.9C79.2 819.8 78.8 823.9 80.1 825.9C81.4 827.8 84.7 829.1 86.8 828.6C88.8 828.2 91.6 825.8 92.4 823.3C93.1 820.8 92.2 816 91.3 813.7C90.3 811.4 88 810.7 86.8 809.5C85.6 808.2 85.5 806.4 84.2 806.3C82.9 806.1 79.8 806.6 79 808.4Z" fill="#a6cee3" fill-opacity="0.5"/>
<path d="M78.2 747.9C78.7 745 82.2 739.3 84.2 734.9C86.2 730.5 88.7 724.4 90.1 721.5C91.6 718.5 92 717.4 93.1 717.2C94.3 717 96.6 719 97.1 720.4C97.6 721.9 97.6 723.2 96.1 726C94.6 728.7 90.7 732.6 88.2 737C85.7 741.4 82.9 750.6 81.2 752.4C79.5 754.2 77.7 750.8 78.2 747.9Z" fill="#98cc8e" fill-opacity="0.5"/>
<path d="M94.2 691.7C94.9 692 95.7 694.9 96.1 696.6C96.5 698.3 96.7 700.3 96.5 701.9C96.3 703.5 95.5 705.4 95 706.1C94.4 706.9 93.7 706.9 93.1 706.1C92.5 705.4 91.5 703.4 91.4 701.5C91.3 699.5 91.9 696.1 92.4 694.4C92.8 692.8 93.6 691.3 94.2 691.7Z" fill="#b2df8a" fill-opacity="0.5"/>
<path d="M103.6 700.8C102.9 703 103.9 708.5 104.7 712.5C105.5 716.6 106.5 721.2 108.4 725.3C110.3 729.4 113.7 733.2 115.8 737.2C118 741.3 119.7 745.1 121.4 749.8C123.2 754.6 124.6 760.6 126.3 765.8C128 770.9 130.1 776.1 131.5 780.7C132.9 785.3 133.2 788.9 134.5 793.5C135.7 798.1 137.3 805.7 138.9 808.4C140.6 811.1 143.2 811.2 144.2 809.5C145.1 807.7 145.3 801.8 144.9 797.7C144.5 793.7 143 789.2 141.9 785C140.8 780.7 139.6 776.3 138.2 772.2C136.8 768.1 135.2 764.5 133.7 760.5C132.3 756.4 130.9 751.6 129.6 747.7C128.3 743.8 127.5 740.9 125.9 737C124.4 733.1 122.3 728.5 120.3 724.3C118.3 720 115.9 715.6 114 711.5C112.1 707.4 110.5 701.5 108.8 699.8C107 698 104.2 698.7 103.6 700.8Z" fill="#a6d58e" fill-opacity="0.5"/>
<path d="M99.5 717.9C100 716.9 101.4 716.4 102.4 716.4C103.5 716.4 105.2 716.8 105.8 717.9C106.3 718.9 106.3 721.6 105.8 722.6C105.2 723.5 103.5 723.7 102.4 723.6C101.4 723.5 100 723.1 99.5 722.1C99 721.2 99 718.8 99.5 717.9Z" fill="#b2df8a" fill-opacity="0.5"/>
<path fill="#b2df8a" d="M61.2 747.4h1v1h-1zM68.3 749.1h1v1h-1zM75.9 748.9h1v1h-1zM68.5 749.2h1v1h-1zM63.3 743.7h1v1h-1zM68.1 747.5h1v1h-1zM72.5 749h1v1h-1zM60.2 743.5h1v1h-1zM58.3 748.5h1v1h-1zM62.5 746h1v1h-1zM77.2 749.2h1v1h-1zM52.9 748.2h1v1h-1zM73.8 748.8h1v1h-1zM67 741.2h1v1h-1zM56.1 746.5h1v1h-1zM62.9 749.9h1v1h-1zM54.7 749.1h1v1h-1zM63.4 746.2h1v1h-1zM61.4 749.2h1v1h-1zM62.4 742.6h1v1h-1zM66.1 746.9h1v1h-1zM74.7 749.7h1v1h-1zM69.8 742.3h1v1h-1zM59.6 744.7h1v1h-1zM71.4 744.6h1v1h-1zM61.8 746.3h1v1h-1zM66.3 745h1v1h-1zM62.8 745.8h1v1h-1zM55.8 744.9h1v1h-1zM61 744.3h1v1h-1zM67.6 741.9h1v1h-1zM55.5 745.7h1v1h-1zM61.9 747.6h1v1h-1zM60.3 745.7h1v1h-1zM65.3 744.9h1v1h-1zM68.1 743.1h1v1h-1zM76.5 748.4h1v1h-1zM51.2 748.6h1v1h-1zM50.3 749.9h1v1h-1zM51.5 748.6h1v1h-1zM58 747.8h1v1h-1zM60.4 744.4h1v1h-1zM63 742.8h1v1h-1zM60.4 742.1h1v1h-1zM69.5 742.6h1v1h-1zM74.7 746.8h1v1h-1zM56.2 747h1v1h-1zM74.5 748.5h1v1h-1zM62.5 742h1v1h-1zM66.3 747.8h1v1h-1zM70 745.9h1v1h-1zM56 750.3h1v1h-1zM71.3 748.8h1v1h-1zM62.2 743.6h1v1h-1zM54.1 747.6h1v1h-1zM56.6 745.6h1v1h-1zM69.4 747.2h1v1h-1zM66.3 743.9h1v1h-1zM52.4 748.1h1v1h-1zM65.8 749.4h1v1h-1zM65.5 741.9h1v1h-1zM71.7 744.9h1v1h-1zM71.7 747.1h1v1h-1zM70.8 749h1v1h-1zM60.2 745.2h1v1h-1zM64.5 747.3h1v1h-1zM71.3 746.7h1v1h-1zM68 745.8h1v1h-1zM64.8 747.2h1v1h-1zM61.4 745.3h1v1h-1zM68.8 741.3h1v1h-1zM67 743.5h1v1h-1zM63.3 741.9h1v1h-1zM64.9 749h1v1h-1zM67 742.8h1v1h-1zM68 741.5h1v1h-1zM60.1 744.4h1v1h-1zM66.2 745h1v1h-1zM58 749.6h1v1h-1zM70.9 745.2h1v1h-1zM69 743.8h1v1h-1zM51 750.1h1v1h-1zM58.4 747.7h1v1h-1zM54.4 748.5h1v1h-1zM66.4 743.4h1v1h-1zM66.5 744.8h1v1h-1zM76 747.6h1v1h-1zM66 747.8h1v1h-1zM63.6 741.8h1v1h-1zM61.8 743h1v1h-1zM75.7 749.4h1v1h-1zM60.5 746.3h1v1h-1zM66.8 743.6h1v1h-1zM73 749h1v1h-1zM63.3 741.7h1v1h-1zM61.5 742.3h1v1h-1zM72.7 748.5h1v1h-1zM55.4 747.7h1v1h-1zM70.2 744.4h1v1h-1zM61.1 747.1h1v1h-1zM49.7 749.1h1v1h-1zM60 748.3h1v1h-1zM58.1 749.7h1v1h-1zM76.6 748.4h1v1h-1zM72.1 745.1h1v1h-1zM79.6 749.8h1v1h-1zM96 720.1h1v1h-1zM90.2 724.6h1v1h-1zM90.6 725.4h1v1h-1zM87.2 731.1h1v1h-1zM88.3 729.3h1v1h-1zM82.4 741.2h1v1h-1zM83.5 743.2h1v1h-1zM91.5 721.2h1v1h-1zM87.6 736h1v1h-1zM86.8 736.3h1v1h-1zM85 733.3h1v1h-1zM86.7 737.2h1v1h-1zM85.3 736.1h1v1h-1zM83.3 741.8h1v1h-1zM87.1 736.3h1v1h-1zM87.8 735.5h1v1h-1zM80.3 745.9h1v1h-1zM90.4 722.6h1v1h-1zM86.8 735.7h1v1h-1zM90.1 727.1h1v1h-1zM82.7 744.3h1v1h-1zM80.4 744.5h1v1h-1zM90.7 731.1h1v1h-1zM88.2 734.8h1v1h-1zM92.2 724.4h1v1h-1zM95.1 723h1v1h-1zM88 728.8h1v1h-1zM89.9 730.4h1v1h-1zM91.2 723h1v1h-1zM89.1 725.7h1v1h-1zM94.2 721.3h1v1h-1zM84.1 737.5h1v1h-1zM96.2 719.1h1v1h-1zM93.5 720h1v1h-1zM84.8 736h1v1h-1zM87.5 731.6h1v1h-1zM89.2 722.3h1v1h-1zM94.5 721.4h1v1h-1zM79.4 748.4h1v1h-1zM80.8 743.6h1v1h-1zM83.3 740.3h1v1h-1zM92.8 722.3h1v1h-1zM86.7 737.7h1v1h-1zM91.8 728.8h1v1h-1zM87 728.4h1v1h-1zM88.3 733.2h1v1h-1zM85.6 735.1h1v1h-1zM81.8 740.7h1v1h-1zM79.9 746.8h1v1h-1zM89.5 727h1v1h-1zM88.5 724.2h1v1h-1zM95 726.6h1v1h-1zM87 738h1v1h-1zM89.6 721.2h1v1h-1zM88.8 728.2h1v1h-1zM91 724.1h1v1h-1zM92.1 725.1h1v1h-1zM82.6 738.9h1v1h-1zM87.3 725.1h1v1h-1zM83.6 747.3h1v1h-1zM96 722.3h1v1h-1zM87 737h1v1h-1zM83.9 742.7h1v1h-1zM90.3 731h1v1h-1zM83.1 736h1v1h-1zM86.1 734.4h1v1h-1zM84.1 736h1v1h-1zM94.4 726.3h1v1h-1zM86.9 728.4h1v1h-1zM85.3 733.9h1v1h-1zM80.9 741.3h1v1h-1zM87.1 734.5h1v1h-1zM85.6 734.7h1v1h-1zM88.5 727.9h1v1h-1zM84.5 734.6h1v1h-1zM82.1 747.4h1v1h-1zM82.9 738.6h1v1h-1zM77.5 747.8h1v1h-1zM89.3 729.3h1v1h-1zM94.1 728.2h1v1h-1zM88.3 731.9h1v1h-1zM82.8 743.1h1v1h-1zM85.3 729.9h1v1h-1zM89.4 727.1h1v1h-1zM88.3 727.6h1v1h-1zM94.7 723.2h1v1h-1zM88.3 724.8h1v1h-1zM92.1 728.1h1v1h-1zM84.1 731.7h1v1h-1zM80.7 750.9h1v1h-1zM90.2 724.8h1v1h-1zM81 746.3h1v1h-1zM85.9 735h1v1h-1zM89.5 729.2h1v1h-1zM83.4 737.5h1v1h-1zM88.3 736.5h1v1h-1zM85.4 730.4h1v1h-1zM94.1 693.4h1v1h-1zM92.7 700.1h1v1h-1zM91.3 697.3h1v1h-1zM95 702.4h1v1h-1zM93.6 697.9h1v1h-1zM94.2 699.4h1v1h-1zM93 701.6h1v1h-1zM95.1 699.5h1v1h-1zM91.5 704.6h1v1h-1zM95.2 703.4h1v1h-1zM91.6 701h1v1h-1zM92.3 702h1v1h-1zM95.6 702.8h1v1h-1zM92.9 704.4h1v1h-1zM94 695h1v1h-1zM92.3 696.4h1v1h-1zM94.2 691.5h1v1h-1zM95.2 703h1v1h-1zM93.9 703.8h1v1h-1zM94.8 705h1v1h-1zM93.4 698.4h1v1h-1zM93 698.7h1v1h-1zM93.9 693h1v1h-1zM92.6 695.5h1v1h-1zM94.2 696.8h1v1h-1zM94.2 695.2h1v1h-1zM94 699.4h1v1h-1zM91.2 700.2h1v1h-1zM92.8 699.7h1v1h-1zM92.4 698.9h1v1h-1zM93.4 700.8h1v1h-1zM95.2 697.9h1v1h-1zM94.5 702.9h1v1h-1zM95 702.2h1v1h-1zM93.1 705.5h1v1h-1zM93.1 700.4h1v1h-1zM95.3 698h1v1h-1zM93.4 696h1v1h-1zM94.4 701.3h1v1h-1zM91.8 696.5h1v1h-1zM123.8 750.5h1v1h-1zM135.9 792.1h1v1h-1zM137.3 795.7h1v1h-1zM134.5 786h1v1h-1zM136.1 795.9h1v1h-1zM122 751.6h1v1h-1zM105.2 706h1v1h-1zM104.8 707.5h1v1h-1zM119.2 740.1h1v1h-1zM142.3 802.3h1v1h-1zM133.7 790.1h1v1h-1zM137.8 805.3h1v1h-1zM128.6 770.9h1v1h-1zM131.8 783.7h1v1h-1zM127.1 747.5h1v1h-1zM106.9 713.7h1v1h-1zM140.6 795.9h1v1h-1zM116.3 730.2h1v1h-1zM110.7 712.6h1v1h-1zM129 771.9h1v1h-1zM109.8 708.4h1v1h-1zM126.1 759.6h1v1h-1zM111.9 712.8h1v1h-1zM113.8 728.6h1v1h-1zM111.5 705.1h1v1h-1zM117.4 719.1h1v1h-1zM121.2 752.7h1v1h-1zM136.4 792.8h1v1h-1zM125 757.1h1v1h-1zM112.4 719.7h1v1h-1zM114.8 725.8h1v1h-1zM115.4 722.3h1v1h-1zM107.1 701.5h1v1h-1zM131.6 774.6h1v1h-1zM107.9 714.3h1v1h-1zM134.1 762.7h1v1h-1zM121.9 746.6h1v1h-1zM120.5 727.1h1v1h-1zM107 703h1v1h-1zM116.2 724.7h1v1h-1zM110.7 710.6h1v1h-1zM109.5 710.2h1v1h-1zM131.7 777.8h1v1h-1zM119.4 742.7h1v1h-1zM113.4 710h1v1h-1zM106.7 704.2h1v1h-1zM112.3 724.6h1v1h-1zM117.2 737.3h1v1h-1zM110.2 708.4h1v1h-1zM115 734.5h1v1h-1zM134.1 781h1v1h-1zM108.5 712.2h1v1h-1zM107 702.7h1v1h-1zM132.7 784.2h1v1h-1zM134.3 783.4h1v1h-1zM129.1 768.4h1v1h-1zM117.2 736.2h1v1h-1zM139.6 802.3h1v1h-1zM115.3 731.1h1v1h-1zM137.7 797.4h1v1h-1zM112.2 715h1v1h-1zM119.4 742h1v1h-1zM107.8 703.1h1v1h-1zM113 727.5h1v1h-1zM110.8 717.6h1v1h-1zM137.2 793.2h1v1h-1zM127.2 764.1h1v1h-1zM116.4 734.5h1v1h-1zM130.1 775.8h1v1h-1zM107.9 709.2h1v1h-1zM136.6 793.4h1v1h-1zM114.7 722h1v1h-1zM110.9 729.4h1v1h-1zM107.7 710.8h1v1h-1zM135.9 789.4h1v1h-1zM124.2 753h1v1h-1zM130.8 774.4h1v1h-1zM130.4 767.3h1v1h-1zM124.3 741.6h1v1h-1zM135.7 788.7h1v1h-1zM109 727.6h1v1h-1zM117.8 738.8h1v1h-1zM131.8 768.8h1v1h-1zM117.2 721.4h1v1h-1zM112 709.6h1v1h-1zM111.6 729h1v1h-1zM142.2 794.4h1v1h-1zM112.3 714h1v1h-1zM108.4 712.7h1v1h-1zM114.3 716.3h1v1h-1zM135.7 792.8h1v1h-1zM111.6 729h1v1h-1zM136.5 794h1v1h-1zM104.9 711h1v1h-1zM130.7 754.7h1v1h-1zM107.6 703.6h1v1h-1zM108.4 717h1v1h-1zM140.9 791.2h1v1h-1zM120.3 747h1v1h-1zM119 742.7h1v1h-1zM131.1 775.1h1v1h-1zM119.9 741.1h1v1h-1zM132.4 781.4h1v1h-1zM109.8 704.9h1v1h-1zM121.9 746.7h1v1h-1zM111.5 724.6h1v1h-1zM126.1 762.8h1v1h-1zM125.7 743.5h1v1h-1zM133.3 790.3h1v1h-1zM109 705.2h1v1h-1zM112.6 710.3h1v1h-1zM121.6 751.1h1v1h-1zM115.4 727.6h1v1h-1zM119 743.4h1v1h-1zM107.7 703.1h1v1h-1zM131.7 780.7h1v1h-1zM141.7 802.6h1v1h-1zM120.1 743.5h1v1h-1zM104.5 699.9h1v1h-1zM113.7 726.6h1v1h-1zM111.9 716.5h1v1h-1zM139.4 806.7h1v1h-1zM111.5 711.4h1v1h-1zM107.5 721.7h1v1h-1zM120.1 723.9h1v1h-1zM125.9 761h1v1h-1zM114 718.5h1v1h-1zM111.6 718h1v1h-1zM111.1 714.2h1v1h-1zM114.8 720.4h1v1h-1zM132.9 784.1h1v1h-1zM112.8 709.3h1v1h-1zM109.7 712.2h1v1h-1zM110.3 721.9h1v1h-1zM112.3 709.3h1v1h-1zM112.4 722.9h1v1h-1zM110.3 709.7h1v1h-1zM113 723.7h1v1h-1zM106.7 707.7h1v1h-1zM125.7 764.3h1v1h-1zM111.4 712.9h1v1h-1zM105.7 700.7h1v1h-1zM111.4 716.8h1v1h-1zM136.3 770h1v1h-1zM132.2 781.9h1v1h-1zM118 722.4h1v1h-1zM133.7 786.7h1v1h-1zM105.5 707.2h1v1h-1zM122.7 752.8h1v1h-1zM113.2 715.5h1v1h-1zM124.6 745.4h1v1h-1zM112.1 732.1h1v1h-1zM127.2 759.1h1v1h-1zM113.6 710.7h1v1h-1zM107.7 709.5h1v1h-1zM117 735.4h1v1h-1zM106.3 705.5h1v1h-1zM113.9 719.2h1v1h-1zM115.4 717.5h1v1h-1zM117.3 734.7h1v1h-1zM140.2 787.2h1v1h-1zM122.7 754.8h1v1h-1zM109.8 703.6h1v1h-1zM112.2 709.3h1v1h-1zM106.9 707.1h1v1h-1zM116 733.4h1v1h-1zM110.1 721.9h1v1h-1zM107.9 709.7h1v1h-1zM134.6 795.5h1v1h-1zM104.8 711.1h1v1h-1zM126.2 765.3h1v1h-1zM117.2 732.4h1v1h-1zM123.2 755.5h1v1h-1zM109.1 706.8h1v1h-1zM110.5 718.6h1v1h-1zM139.7 802.1h1v1h-1zM131.8 782.5h1v1h-1zM115.9 719.9h1v1h-1zM112.3 715.1h1v1h-1zM109.8 712.2h1v1h-1zM140.2 788.2h1v1h-1zM113.1 711.8h1v1h-1zM112.1 720.2h1v1h-1zM134.8 789.1h1v1h-1zM124.1 748.5h1v1h-1zM105.7 702.1h1v1h-1zM109.6 716.1h1v1h-1zM119.9 740.2h1v1h-1zM121.1 744.3h1v1h-1zM115.4 729.3h1v1h-1zM138.9 805.2h1v1h-1zM111.7 723.9h1v1h-1zM137.3 774.1h1v1h-1zM128.1 766.9h1v1h-1zM113.9 720.6h1v1h-1zM110.6 707.5h1v1h-1zM126.8 760.7h1v1h-1zM107.6 704.6h1v1h-1zM120.5 745.5h1v1h-1zM114.7 724.5h1v1h-1zM110 711.1h1v1h-1zM138.4 801.6h1v1h-1zM137 792.5h1v1h-1zM106.2 714.6h1v1h-1zM109.2 715.8h1v1h-1zM107.9 703.8h1v1h-1zM113.4 716.7h1v1h-1zM136.6 791.3h1v1h-1zM109.3 712.5h1v1h-1zM122.6 746.9h1v1h-1zM113.9 720h1v1h-1zM132.6 784.1h1v1h-1zM136.7 791.7h1v1h-1zM134.9 776.5h1v1h-1zM111 710h1v1h-1zM128.8 754.4h1v1h-1zM124.9 744.2h1v1h-1zM134.8 768.9h1v1h-1zM141 799.9h1v1h-1zM134.6 786.3h1v1h-1zM106.8 705.7h1v1h-1zM140.3 795.8h1v1h-1zM103.9 700.8h1v1h-1zM108.7 702.3h1v1h-1zM118.2 737.6h1v1h-1zM140.3 805.1h1v1h-1zM113.8 724h1v1h-1zM108.7 719.8h1v1h-1zM126.6 762.6h1v1h-1zM115.5 730.8h1v1h-1zM106.6 706.5h1v1h-1zM137.5 802.7h1v1h-1zM113.5 718.5h1v1h-1zM110.4 710.5h1v1h-1zM108.5 712.3h1v1h-1zM113.8 718.4h1v1h-1zM108.1 707.6h1v1h-1zM104.9 705.7h1v1h-1zM136.9 775.8h1v1h-1zM104.6 703.3h1v1h-1zM113.2 716h1v1h-1zM119.2 744.4h1v1h-1zM117.2 733.8h1v1h-1zM129.4 771.5h1v1h-1zM133.5 785.3h1v1h-1zM109.2 715.5h1v1h-1zM115.1 725.2h1v1h-1zM130 775.5h1v1h-1zM137.5 799h1v1h-1zM138.6 797.6h1v1h-1zM113.9 714.8h1v1h-1zM143.4 805.9h1v1h-1zM119 736.5h1v1h-1zM141.1 796.5h1v1h-1zM138.3 798.5h1v1h-1zM115.6 731.8h1v1h-1zM135.4 792.7h1v1h-1zM108.3 706.2h1v1h-1zM120.4 741.1h1v1h-1zM135.6 792.3h1v1h-1zM142.9 796.5h1v1h-1zM107.2 704.6h1v1h-1zM108.7 701.4h1v1h-1zM114.8 717.4h1v1h-1zM138.1 803.7h1v1h-1zM115 717.1h1v1h-1zM104.7 712h1v1h-1zM143.6 805.4h1v1h-1zM123.9 750.5h1v1h-1zM120.1 743.4h1v1h-1zM112.8 722h1v1h-1zM124.7 742h1v1h-1zM134.9 787.7h1v1h-1zM113.2 725.5h1v1h-1zM116.5 716.2h1v1h-1zM130.6 773.6h1v1h-1zM105.2 701.9h1v1h-1zM127.1 760h1v1h-1zM117 741.8h1v1h-1zM127.5 762.3h1v1h-1zM106 704.7h1v1h-1zM119.4 740.9h1v1h-1zM116 723.2h1v1h-1zM115 720.8h1v1h-1zM114.1 722.9h1v1h-1zM135.2 788.3h1v1h-1zM141.8 803.3h1v1h-1zM115.4 718h1v1h-1zM111.7 724.9h1v1h-1zM142.4 803.8h1v1h-1zM108.2 700.4h1v1h-1zM110.8 711.1h1v1h-1zM135.3 796.3h1v1h-1zM109.8 721.2h1v1h-1zM114.5 721h1v1h-1zM127.8 768.2h1v1h-1zM123.5 757.3h1v1h-1zM127.8 770.6h1v1h-1zM121.9 750.4h1v1h-1zM133.7 786.1h1v1h-1zM120.1 746.5h1v1h-1zM103.1 720.8h1v1h-1zM99.1 720.9h1v1h-1zM99.7 717.7h1v1h-1zM102.1 720h1v1h-1zM102.6 720.3h1v1h-1zM100.1 720.4h1v1h-1zM101.2 719.4h1v1h-1zM102 715.1h1v1h-1zM100.5 721.9h1v1h-1zM105.4 718.2h1v1h-1zM102.6 721h1v1h-1zM103.6 720.8h1v1h-1zM99.6 717h1v1h-1zM103.8 718.1h1v1h-1zM100.7 718h1v1h-1zM104.4 717h1v1h-1zM104.4 719.9h1v1h-1zM104.6 718.5h1v1h-1zM100.5 716.5h1v1h-1zM100.3 717h1v1h-1zM101.1 721.8h1v1h-1zM101 719.4h1v1h-1zM100.2 719.1h1v1h-1zM105.2 717.6h1v1h-1zM105.1 720.4h1v1h-1zM102 722.2h1v1h-1zM103.2 716.9h1v1h-1zM102.9 721.2h1v1h-1zM104.3 717.5h1v1h-1z"/>
<path fill="#3479b5" d="M36.6 775.2h1v1h-1zM34.8 775.3h1v1h-1zM40.8 766.5h1v1h-1zM27.4 773h1v1h-1zM68.5 751.9h1v1h-1zM51.2 750.4h1v1h-1zM37.7 761.9h1v1h-1zM33.1 763.8h1v1h-1zM36.7 768.9h1v1h-1zM45.9 753.2h1v1h-1zM57.7 753.8h1v1h-1zM32.7 771.1h1v1h-1zM31.8 763.6h1v1h-1zM74.2 752.5h1v1h-1zM37.8 769.9h1v1h-1zM41.7 767.7h1v1h-1zM49.4 760.5h1v1h-1zM48.3 757.6h1v1h-1zM77 751.3h1v1h-1zM46.1 764.3h1v1h-1zM51.5 758.5h1v1h-1zM40.4 761.4h1v1h-1zM72.5 752.1h1v1h-1zM53.3 750h1v1h-1zM31.4 775.2h1v1h-1zM33.5 779.4h1v1h-1zM30.5 774.2h1v1h-1zM41.7 758.9h1v1h-1zM48.5 753h1v1h-1zM39.3 770.1h1v1h-1zM44.1 766.3h1v1h-1zM53.3 752.1h1v1h-1zM64.1 752h1v1h-1zM39.3 765.5h1v1h-1zM52.9 750.6h1v1h-1zM42.6 764.6h1v1h-1zM40.8 760.9h1v1h-1zM38.8 765.2h1v1h-1zM45.1 757.7h1v1h-1zM36.5 759.9h1v1h-1zM44.8 752.3h1v1h-1zM55.4 755h1v1h-1zM51.7 754.2h1v1h-1zM36.4 770.9h1v1h-1zM67.3 751.5h1v1h-1zM29.9 774.9h1v1h-1zM42.7 759.3h1v1h-1zM42.4 754.2h1v1h-1zM45.1 759.7h1v1h-1zM48 762.7h1v1h-1zM36.9 760.1h1v1h-1zM35 775.3h1v1h-1zM43.6 761.7h1v1h-1zM47.3 757.9h1v1h-1zM47.6 751h1v1h-1zM70.1 752.1h1v1h-1zM49.9 754.4h1v1h-1zM32 768h1v1h-1zM51.8 750.9h1v1h-1zM30 777h1v1h-1zM62.3 755h1v1h-1zM60.3 753.7h1v1h-1zM56 753h1v1h-1zM29.6 774.7h1v1h-1zM50.8 753.8h1v1h-1zM39 765.7h1v1h-1zM59.7 756.5h1v1h-1zM72.1 750.4h1v1h-1zM59.9 751.5h1v1h-1zM56 753.8h1v1h-1zM31.9 781.5h1v1h-1zM38.3 759.9h1v1h-1zM48.7 762h1v1h-1zM32.2 773.8h1v1h-1zM45.9 762.6h1v1h-1zM40.1 763.8h1v1h-1zM51.2 754.5h1v1h-1zM38.2 772.9h1v1h-1zM45.5 759h1v1h-1zM46.3 753.3h1v1h-1zM34.9 772.8h1v1h-1zM60.2 750.7h1v1h-1zM42.6 763h1v1h-1zM63.3 754.6h1v1h-1zM37 766.7h1v1h-1zM57 755h1v1h-1zM28.6 776.3h1v1h-1zM46.4 757.5h1v1h-1zM45.7 757h1v1h-1zM33.7 774.9h1v1h-1zM37.2 773.3h1v1h-1zM52.5 752.3h1v1h-1zM44.9 766.3h1v1h-1zM29.8 772.4h1v1h-1zM47.9 762.8h1v1h-1zM48 761.7h1v1h-1zM58.7 756h1v1h-1zM40.1 768h1v1h-1zM38.6 772.6h1v1h-1zM39.5 770.9h1v1h-1zM41.6 758.5h1v1h-1zM47.3 757.9h1v1h-1zM64.1 755.6h1v1h-1zM61 754.8h1v1h-1zM43.4 752.8h1v1h-1zM49.4 760.6h1v1h-1zM59.6 752.7h1v1h-1zM49 761.6h1v1h-1zM47.6 758.4h1v1h-1zM41.8 765.9h1v1h-1zM45.2 765.4h1v1h-1zM42.8 761.2h1v1h-1zM46 751.6h1v1h-1zM47.3 762.4h1v1h-1zM32.7 761.9h1v1h-1zM51.7 760.4h1v1h-1zM73.7 751.8h1v1h-1zM59.7 752.9h1v1h-1zM48.7 755.3h1v1h-1zM74.3 751.8h1v1h-1zM38.5 761.9h1v1h-1zM34.7 770.1h1v1h-1zM40.1 765.5h1v1h-1zM42.6 753.8h1v1h-1zM67.7 752.7h1v1h-1zM49.7 752.8h1v1h-1zM53.8 755.4h1v1h-1zM32.1 769.6h1v1h-1zM31.2 779.2h1v1h-1zM31.7 768.7h1v1h-1zM46.6 759.8h1v1h-1zM55.9 754.6h1v1h-1zM48.5 755h1v1h-1zM65.8 752.5h1v1h-1zM40.3 760.1h1v1h-1zM52.8 754.6h1v1h-1zM63.4 753.3h1v1h-1zM45.1 759h1v1h-1zM49.7 750.6h1v1h-1zM66.5 750.6h1v1h-1zM37.1 765.3h1v1h-1zM38.2 765h1v1h-1zM31.2 781.7h1v1h-1zM55.6 757.2h1v1h-1zM29.3 775.7h1v1h-1zM70.8 751.4h1v1h-1zM63.1 754.6h1v1h-1zM52.4 755.6h1v1h-1zM39.4 762h1v1h-1zM43.7 755.1h1v1h-1zM34 778.9h1v1h-1zM55.1 750.7h1v1h-1zM57.5 754.7h1v1h-1zM63.1 751.3h1v1h-1zM60.8 756.2h1v1h-1zM43.1 757.5h1v1h-1zM39.9 759.8h1v1h-1zM66.1 751.7h1v1h-1zM74 750.6h1v1h-1zM31.9 782.8h1v1h-1zM56 751.3h1v1h-1zM52.7 755.6h1v1h-1zM73.6 751.6h1v1h-1zM48.6 754.3h1v1h-1zM41.6 767.9h1v1h-1zM53.6 755.1h1v1h-1zM35.1 773.6h1v1h-1zM45.4 761.7h1v1h-1zM72.5 751.4h1v1h-1zM67.3 751.3h1v1h-1zM38.7 766.6h1v1h-1zM42.4 755.7h1v1h-1zM35.1 768.7h1v1h-1zM56.5 754.3h1v1h-1zM50.4 757.3h1v1h-1zM38.3 766.5h1v1h-1zM31.5 771.9h1v1h-1zM38.9 770.2h1v1h-1zM37.3 762.8h1v1h-1zM44.1 754.6h1v1h-1zM42.9 761.7h1v1h-1zM65.7 755.1h1v1h-1zM41.8 762.7h1v1h-1zM64.7 753h1v1h-1zM43.6 761.1h1v1h-1zM49.4 752.9h1v1h-1zM36.8 764.5h1v1h-1zM38.7 769.3h1v1h-1zM66.2 753.8h1v1h-1zM59.5 755.4h1v1h-1zM50.3 753.2h1v1h-1zM47.4 753.8h1v1h-1zM49.5 761.2h1v1h-1zM57.6 751.1h1v1h-1zM75.6 752.9h1v1h-1zM40.3 769.1h1v1h-1zM34.3 776.4h1v1h-1zM40.3 760.7h1v1h-1zM28.5 771.2h1v1h-1zM30.6 772h1v1h-1zM50.1 759.2h1v1h-1zM37.2 764.3h1v1h-1zM39.2 758.1h1v1h-1zM51.8 753.6h1v1h-1zM54.8 753.4h1v1h-1zM47.5 761.2h1v1h-1zM42.9 767.6h1v1h-1zM35 764.7h1v1h-1zM60.8 755.6h1v1h-1zM34.2 776.3h1v1h-1zM71.2 751.6h1v1h-1zM48.2 762.2h1v1h-1zM32.7 775.1h1v1h-1zM30.6 768.6h1v1h-1zM39.1 763.2h1v1h-1zM74.5 753.9h1v1h-1zM50.4 757h1v1h-1zM46.7 755h1v1h-1zM42.3 766h1v1h-1zM32.9 777.3h1v1h-1zM41.8 766.3h1v1h-1zM34.8 771.5h1v1h-1zM39 770.8h1v1h-1zM54.1 751.6h1v1h-1zM55 752.5h1v1h-1zM75.1 751.1h1v1h-1zM39.8 756.5h1v1h-1zM52.5 753.9h1v1h-1zM74.6 752.4h1v1h-1zM33.4 763.8h1v1h-1zM47.8 755.2h1v1h-1zM61.9 751.5h1v1h-1zM30.6 774.8h1v1h-1zM28.2 777.5h1v1h-1zM74.8 751.3h1v1h-1zM28.3 772h1v1h-1zM28.4 775.7h1v1h-1zM29 779.8h1v1h-1zM49.3 751.3h1v1h-1zM34.7 765.7h1v1h-1zM50.2 749.5h1v1h-1zM42.1 756.6h1v1h-1zM38.1 760.3h1v1h-1zM37.1 765.2h1v1h-1zM44.1 756.9h1v1h-1zM51.9 757.1h1v1h-1zM32.9 768.1h1v1h-1zM32.6 766.3h1v1h-1zM42.1 760.7h1v1h-1zM32.8 763.1h1v1h-1zM30.3 771.4h1v1h-1zM40.9 765h1v1h-1zM69.7 751.6h1v1h-1zM44.9 754.3h1v1h-1zM28.7 775.2h1v1h-1zM44.7 761.6h1v1h-1zM38.6 756.7h1v1h-1zM46.7 760.1h1v1h-1zM46.4 756.1h1v1h-1zM38.9 757.1h1v1h-1zM34.8 771.8h1v1h-1zM82.4 776h1v1h-1zM83.3 798.5h1v1h-1zM79.7 779.9h1v1h-1zM80.4 796.2h1v1h-1zM78.4 778.7h1v1h-1zM77.9 768.7h1v1h-1zM76.9 772.7h1v1h-1zM77.7 761.1h1v1h-1zM78.4 761.5h1v1h-1zM80.5 807.5h1v1h-1zM80.7 777.2h1v1h-1zM81.4 803h1v1h-1zM79.2 775.1h1v1h-1zM79.3 776.6h1v1h-1zM77.3 762.9h1v1h-1zM80.4 781.4h1v1h-1zM79.7 776.3h1v1h-1zM78.6 777.9h1v1h-1zM79.3 771.3h1v1h-1zM77.2 756.8h1v1h-1zM81.5 794.2h1v1h-1zM82.5 781.2h1v1h-1zM78.6 793.6h1v1h-1zM80.6 804.7h1v1h-1zM79.1 780.7h1v1h-1zM81.9 792h1v1h-1zM79.8 771.2h1v1h-1zM82.4 782.5h1v1h-1zM76.9 767h1v1h-1zM80.7 777.3h1v1h-1zM82.8 799.6h1v1h-1zM82.3 774.9h1v1h-1zM84 804.2h1v1h-1zM80.7 771.5h1v1h-1zM79.9 784.6h1v1h-1zM80.6 771.8h1v1h-1zM80.9 788.5h1v1h-1zM77.7 765.7h1v1h-1zM80.8 786.9h1v1h-1zM79.7 777.9h1v1h-1zM80.5 806.2h1v1h-1zM77.7 755.5h1v1h-1zM79.7 776.7h1v1h-1zM80.2 782.1h1v1h-1zM78.5 784.3h1v1h-1zM81.9 773.4h1v1h-1zM78.4 790.1h1v1h-1zM77.5 767.4h1v1h-1zM82.1 793.6h1v1h-1zM80.3 801.7h1v1h-1zM81.7 795.2h1v1h-1zM81 785.2h1v1h-1zM82.3 788.4h1v1h-1zM81.2 769.7h1v1h-1zM78.2 768.7h1v1h-1zM80.3 764.1h1v1h-1zM77.5 766h1v1h-1zM79.8 755.1h1v1h-1zM79.1 779h1v1h-1zM79.6 755.2h1v1h-1zM79.3 767.9h1v1h-1zM80.4 778.2h1v1h-1zM80 787.2h1v1h-1zM78.4 792.8h1v1h-1zM80.4 758.8h1v1h-1zM78.1 779.2h1v1h-1zM79 802.7h1v1h-1zM78.8 774h1v1h-1zM81.9 793.5h1v1h-1zM79.9 776.7h1v1h-1zM79.1 790.8h1v1h-1zM79.2 778.1h1v1h-1zM80.8 775.6h1v1h-1zM82 796.7h1v1h-1zM79.4 766.8h1v1h-1zM80 761.9h1v1h-1zM82.3 800.1h1v1h-1zM80.2 758.1h1v1h-1zM79.4 760.2h1v1h-1zM82.4 802.9h1v1h-1zM82.7 785.5h1v1h-1zM79 765.9h1v1h-1zM78.7 765h1v1h-1zM79 759.3h1v1h-1zM81.6 787.3h1v1h-1zM78.8 770.6h1v1h-1zM81.5 789.1h1v1h-1zM79.5 786.6h1v1h-1zM80.4 761h1v1h-1zM80.4 759.6h1v1h-1zM78.3 761.2h1v1h-1zM78.5 782.8h1v1h-1zM80.5 766.1h1v1h-1zM79.4 774.8h1v1h-1zM81 796.5h1v1h-1zM80.6 791h1v1h-1zM78.9 787.3h1v1h-1zM79.1 761.2h1v1h-1zM81.3 775h1v1h-1zM79.4 803.6h1v1h-1zM81.7 805.4h1v1h-1zM80.3 792.3h1v1h-1zM80.8 778.2h1v1h-1zM81.4 784.4h1v1h-1zM80.1 793.6h1v1h-1zM79.6 767.6h1v1h-1zM80.4 789.9h1v1h-1zM77.4 754.7h1v1h-1zM79.2 791.1h1v1h-1zM79.9 796.3h1v1h-1zM78.6 778.7h1v1h-1zM79.2 782.4h1v1h-1zM79.4 778.2h1v1h-1zM79 765h1v1h-1zM79.9 797.6h1v1h-1zM81.1 806.7h1v1h-1zM79.4 771.6h1v1h-1zM79.4 760.4h1v1h-1zM80.6 775.3h1v1h-1zM80.1 794.4h1v1h-1zM78.2 801.2h1v1h-1zM78.2 762.2h1v1h-1zM78.6 757.3h1v1h-1zM79.1 779.6h1v1h-1zM81 801.5h1v1h-1zM79.7 776.2h1v1h-1zM81.1 780.8h1v1h-1zM78.1 769.5h1v1h-1zM78.3 777h1v1h-1zM78.1 802.6h1v1h-1zM79.8 792.9h1v1h-1zM81.2 761.9h1v1h-1zM82.2 795.8h1v1h-1zM80.4 804.7h1v1h-1zM82.2 774.6h1v1h-1zM79.9 769.8h1v1h-1zM82.9 789.2h1v1h-1zM80.6 799.6h1v1h-1zM78.3 756.2h1v1h-1zM80.8 763h1v1h-1zM79.3 803.7h1v1h-1zM78.8 759.6h1v1h-1zM79.8 775.9h1v1h-1zM80.7 781.9h1v1h-1zM80 799.8h1v1h-1zM80.3 783.7h1v1h-1zM79.3 771.4h1v1h-1zM79.1 768.5h1v1h-1zM79.8 778.6h1v1h-1zM78.5 814.4h1v1h-1zM84.1 824.8h1v1h-1zM88.8 815.3h1v1h-1zM82.4 818.2h1v1h-1zM84.3 810.9h1v1h-1zM88.1 818.8h1v1h-1zM82.1 812.5h1v1h-1zM81.2 820.4h1v1h-1zM82.2 811.6h1v1h-1zM79.4 813.8h1v1h-1zM93.7 719.9h1v1h-1zM94.9 720.9h1v1h-1zM93.4 728h1v1h-1zM84.6 732.1h1v1h-1zM91.7 722.9h1v1h-1zM80.4 748.8h1v1h-1zM95.4 720.6h1v1h-1zM82.1 748.2h1v1h-1zM93.3 727.9h1v1h-1zM82.8 745.1h1v1h-1zM94.6 723.3h1v1h-1zM87.5 737.6h1v1h-1zM79.1 744.2h1v1h-1zM90.7 729.5h1v1h-1zM92 727.7h1v1h-1zM83.8 740.5h1v1h-1zM87.4 736.4h1v1h-1zM93.4 721.2h1v1h-1zM90.8 730.6h1v1h-1zM83.5 743.9h1v1h-1zM79.6 746.3h1v1h-1zM81.6 744.2h1v1h-1zM88.9 733.6h1v1h-1zM94.6 722h1v1h-1zM90.3 721h1v1h-1zM86.5 730h1v1h-1zM87.1 731.8h1v1h-1zM79.4 746h1v1h-1zM95.3 724.3h1v1h-1zM93.4 720.5h1v1h-1zM79.4 747.8h1v1h-1zM92.8 723.7h1v1h-1zM91.3 720.4h1v1h-1zM94.8 719.9h1v1h-1zM87.6 726h1v1h-1zM86 734.4h1v1h-1zM95.6 723.9h1v1h-1zM81.9 740.7h1v1h-1zM92.6 727.3h1v1h-1zM83.7 738.5h1v1h-1zM80.6 741.3h1v1h-1zM94.9 724.2h1v1h-1zM95.5 719.5h1v1h-1zM91.4 730.2h1v1h-1zM82.6 744h1v1h-1zM83.2 744.5h1v1h-1zM85.8 739.3h1v1h-1zM92.5 728.3h1v1h-1zM87.7 728.1h1v1h-1zM94.2 719h1v1h-1zM81.7 744.5h1v1h-1zM112 730.4h1v1h-1zM111.9 725.1h1v1h-1zM136.8 796.5h1v1h-1zM113.3 732h1v1h-1zM106.5 712.1h1v1h-1zM106 709.7h1v1h-1zM110.6 728.1h1v1h-1zM112.1 730.1h1v1h-1zM143.7 795.7h1v1h-1zM105.5 704.8h1v1h-1zM136.5 799.7h1v1h-1zM110.9 722.9h1v1h-1zM111.9 727h1v1h-1zM109.7 724.3h1v1h-1zM103.3 701.1h1v1h-1zM139 799.9h1v1h-1zM142.7 806.5h1v1h-1zM142.4 798.2h1v1h-1zM114.5 734.5h1v1h-1zM143.6 805.9h1v1h-1zM114.1 732.7h1v1h-1zM107.9 723.1h1v1h-1zM142.8 796.5h1v1h-1zM106.3 713.7h1v1h-1zM136.6 802.4h1v1h-1zM138.1 804.8h1v1h-1zM142.5 799.5h1v1h-1zM139 794.8h1v1h-1zM142.2 803.7h1v1h-1zM107.4 717.5h1v1h-1zM138.1 804.2h1v1h-1zM115.7 737.4h1v1h-1zM139.2 798.7h1v1h-1zM143.3 804.1h1v1h-1zM110.6 720.8h1v1h-1zM108.6 717.4h1v1h-1zM108.3 715.2h1v1h-1zM139.1 802.4h1v1h-1zM142.8 801.8h1v1h-1zM136.7 798.1h1v1h-1zM113.4 733.3h1v1h-1zM109.5 726.5h1v1h-1zM107.1 718.1h1v1h-1zM107.7 725.7h1v1h-1zM109.9 725.6h1v1h-1zM138.8 798.4h1v1h-1zM113.4 733h1v1h-1zM134 794.3h1v1h-1zM140.9 803.8h1v1h-1zM111 721.9h1v1h-1zM138 798.8h1v1h-1zM104.3 704h1v1h-1zM107.4 715.6h1v1h-1zM143.2 805.3h1v1h-1zM138.6 804.3h1v1h-1zM141.2 800.2h1v1h-1zM141 798.1h1v1h-1zM111.2 724.8h1v1h-1zM139.8 801.5h1v1h-1zM143.3 802.3h1v1h-1zM112.5 726.1h1v1h-1zM111.9 728.4h1v1h-1zM138 799.4h1v1h-1zM141.4 795.9h1v1h-1zM103.1 707.5h1v1h-1zM106.4 714.8h1v1h-1zM110 725.1h1v1h-1zM105.5 709.7h1v1h-1zM141.1 807.2h1v1h-1zM106.5 712.5h1v1h-1zM108.3 720.1h1v1h-1zM105.2 708h1v1h-1zM141.6 807.1h1v1h-1zM107.9 724.2h1v1h-1zM109 724.8h1v1h-1zM140.3 798.9h1v1h-1zM143.1 795.2h1v1h-1zM111.1 725h1v1h-1zM110.4 723.6h1v1h-1zM138.3 797.4h1v1h-1z"/>
<path fill="#a8d0e3" d="M54.8 752.4h1v1h-1zM39.3 764.4h1v1h-1zM29.5 778.6h1v1h-1zM37 756.3h1v1h-1zM46.4 753.4h1v1h-1zM32.8 774.8h1v1h-1zM40.6 759.1h1v1h-1zM51.4 760.5h1v1h-1zM34.9 761.5h1v1h-1zM69.3 752.9h1v1h-1zM32.6 771.1h1v1h-1zM28.9 773.2h1v1h-1zM36.6 759.7h1v1h-1zM61.1 744.3h1v1h-1zM54.9 751.9h1v1h-1zM33.8 770.5h1v1h-1zM30.7 768.2h1v1h-1zM60 753.8h1v1h-1zM45.6 751.5h1v1h-1zM41.9 760h1v1h-1zM29 769.5h1v1h-1zM61.8 743h1v1h-1zM33.8 774.2h1v1h-1zM61 745.5h1v1h-1zM36.8 759.5h1v1h-1zM69.2 747.4h1v1h-1zM29.5 767.4h1v1h-1zM60.4 747.4h1v1h-1zM32.9 775.9h1v1h-1zM62.2 742.1h1v1h-1zM36.9 772.3h1v1h-1zM51.6 758h1v1h-1zM31.4 776.2h1v1h-1zM41.4 766.1h1v1h-1zM71.1 744.5h1v1h-1zM29.7 765.2h1v1h-1zM36.6 760.7h1v1h-1zM33.7 779.6h1v1h-1zM37.5 759.1h1v1h-1zM48.3 756.1h1v1h-1zM60.6 746.4h1v1h-1zM72.9 744.3h1v1h-1zM36.5 763.5h1v1h-1zM43.1 765h1v1h-1zM30.2 773.9h1v1h-1zM38 763.4h1v1h-1zM32.7 781.7h1v1h-1zM59.1 745.8h1v1h-1zM50.6 756h1v1h-1zM58.8 745.2h1v1h-1zM43.4 759h1v1h-1zM74.5 752h1v1h-1zM38.1 759.1h1v1h-1zM63.5 741.2h1v1h-1zM32.7 766.4h1v1h-1zM48.7 752.3h1v1h-1zM38 758.5h1v1h-1zM34.2 782.1h1v1h-1zM74.5 750h1v1h-1zM26.7 772.4h1v1h-1zM63.6 742.3h1v1h-1zM34.6 761.5h1v1h-1zM71.6 748.8h1v1h-1zM76.5 750.9h1v1h-1zM31.7 764.6h1v1h-1zM69.7 752.5h1v1h-1zM34.9 778.5h1v1h-1zM31.1 773.9h1v1h-1zM61.3 742.9h1v1h-1zM43 762h1v1h-1zM54.8 758.7h1v1h-1zM59.7 753h1v1h-1zM51.6 755.9h1v1h-1zM69.1 748.6h1v1h-1zM56.4 745.9h1v1h-1zM72.2 752.3h1v1h-1zM42.1 755.5h1v1h-1zM33.4 768.4h1v1h-1zM45.6 760.6h1v1h-1zM73.3 753.1h1v1h-1zM39.8 757.1h1v1h-1zM40.4 755.7h1v1h-1zM33.4 776.4h1v1h-1zM31.9 766.5h1v1h-1zM33.1 778h1v1h-1zM41 757.4h1v1h-1zM62.3 744.8h1v1h-1zM48.4 762.5h1v1h-1zM31.7 769.8h1v1h-1zM71.4 745.3h1v1h-1zM56.7 748.6h1v1h-1zM58.7 753.6h1v1h-1zM41.8 766.2h1v1h-1zM76.9 751.8h1v1h-1zM33.9 771.4h1v1h-1zM36.7 758h1v1h-1zM61.7 746.3h1v1h-1zM50.1 750.4h1v1h-1zM45.6 753.4h1v1h-1zM33.2 766.3h1v1h-1zM46.1 763.4h1v1h-1zM33.1 778.8h1v1h-1zM37.5 765.4h1v1h-1zM30.1 771.6h1v1h-1zM69.2 751.7h1v1h-1zM32.8 779.4h1v1h-1zM30.8 765.9h1v1h-1zM34.7 759.2h1v1h-1zM37.2 762.8h1v1h-1zM45.3 753.2h1v1h-1zM35.9 762.7h1v1h-1zM32.9 776.2h1v1h-1zM49.7 754.8h1v1h-1zM36.7 769.3h1v1h-1zM33 781.8h1v1h-1zM35.9 775h1v1h-1zM35.1 769.5h1v1h-1zM70.5 743.1h1v1h-1zM40.9 758.8h1v1h-1zM35.3 763.7h1v1h-1zM34.2 778.1h1v1h-1zM31.8 762.1h1v1h-1zM36.5 769.1h1v1h-1zM59.6 746.4h1v1h-1zM56.2 758.7h1v1h-1zM29.3 772.4h1v1h-1zM68.3 746.3h1v1h-1zM45.1 758.7h1v1h-1zM66.6 747.9h1v1h-1zM38.7 769.8h1v1h-1zM28 771.7h1v1h-1zM57.7 755.7h1v1h-1zM62.3 749.8h1v1h-1zM59.6 749.2h1v1h-1zM30 777.5h1v1h-1zM55.6 756.6h1v1h-1zM54.9 748.2h1v1h-1zM62.4 744h1v1h-1zM35.7 776.3h1v1h-1zM44.8 760.6h1v1h-1zM31.1 773.7h1v1h-1zM44.2 762.8h1v1h-1zM32.7 775.1h1v1h-1zM70.2 745.8h1v1h-1zM50.4 750.5h1v1h-1zM39.4 758.4h1v1h-1zM70.7 748.7h1v1h-1zM47.4 761.1h1v1h-1zM33.4 777.3h1v1h-1zM58.6 749.5h1v1h-1zM37.2 758.5h1v1h-1zM31.3 774.5h1v1h-1zM51.6 747.2h1v1h-1zM32.2 777.8h1v1h-1zM32.9 765.2h1v1h-1zM47.2 760.3h1v1h-1zM31.6 779.6h1v1h-1zM56.1 745.4h1v1h-1zM28.6 774.7h1v1h-1zM29.6 778.8h1v1h-1zM50 761h1v1h-1zM42 757.6h1v1h-1zM39.2 756.6h1v1h-1zM53.8 748.9h1v1h-1zM28.9 775h1v1h-1zM37.8 761.5h1v1h-1zM31 777.8h1v1h-1zM53.3 758.5h1v1h-1zM49 752.3h1v1h-1zM54 757.8h1v1h-1zM36.8 760.2h1v1h-1zM31.8 767.9h1v1h-1zM59.4 748.5h1v1h-1zM72.5 751.6h1v1h-1zM52.2 751.9h1v1h-1zM29.3 766.7h1v1h-1zM30 776.4h1v1h-1zM31.7 764.4h1v1h-1zM34.2 769.8h1v1h-1zM38.8 770.5h1v1h-1zM51.8 753.5h1v1h-1zM33.2 772.2h1v1h-1zM32 776.6h1v1h-1zM75.3 751h1v1h-1zM37.8 763h1v1h-1zM28.5 769.6h1v1h-1zM79.7 767.7h1v1h-1zM82 804.4h1v1h-1zM83.2 801.6h1v1h-1zM81.8 805.2h1v1h-1zM80.5 803.5h1v1h-1zM83.1 804.1h1v1h-1zM80.8 761h1v1h-1zM82.9 788.8h1v1h-1zM81 789.3h1v1h-1zM80.6 777.6h1v1h-1zM79.1 779.6h1v1h-1zM81.3 768.9h1v1h-1zM77.7 770h1v1h-1zM78.8 792h1v1h-1zM80.4 794.8h1v1h-1zM79.2 779.3h1v1h-1zM78.9 768.9h1v1h-1zM80.1 806.9h1v1h-1zM81.1 798.3h1v1h-1zM80.4 764.2h1v1h-1zM81.5 785.5h1v1h-1zM80.8 777.6h1v1h-1zM81.6 779.9h1v1h-1zM78.8 786.5h1v1h-1zM79.7 798.3h1v1h-1zM82.8 797.3h1v1h-1zM77.1 764.7h1v1h-1zM78.6 765.3h1v1h-1zM80 756.7h1v1h-1zM81.8 794.4h1v1h-1zM79.1 761.5h1v1h-1zM80.8 796.6h1v1h-1zM78.7 785.4h1v1h-1zM79 798.7h1v1h-1zM79 774.3h1v1h-1zM85 826.4h1v1h-1zM82.7 807.9h1v1h-1zM80.7 811.6h1v1h-1zM85.3 823.8h1v1h-1zM89.2 822.7h1v1h-1zM81 820.8h1v1h-1zM85 822.8h1v1h-1zM85.7 818.8h1v1h-1zM83.3 819.2h1v1h-1zM82 818h1v1h-1zM79.2 812.5h1v1h-1zM84.4 821.2h1v1h-1zM79.8 825h1v1h-1zM89 822.8h1v1h-1zM85.3 821.5h1v1h-1zM86.9 820.5h1v1h-1zM88.1 817.2h1v1h-1zM86.8 826h1v1h-1zM82 806.3h1v1h-1zM82.2 814.1h1v1h-1zM84 810.6h1v1h-1zM82.9 820.2h1v1h-1zM88 824.9h1v1h-1zM79.6 811.7h1v1h-1zM90.5 815.9h1v1h-1zM79.5 811.5h1v1h-1zM81.2 810.5h1v1h-1zM79.2 824.5h1v1h-1zM82.5 815.1h1v1h-1zM80.9 810.6h1v1h-1zM84 812.8h1v1h-1zM82.5 810.5h1v1h-1zM85.8 812.5h1v1h-1zM88.1 819.2h1v1h-1zM80 811.1h1v1h-1zM85.3 821.5h1v1h-1zM79.4 807.9h1v1h-1zM84 808.4h1v1h-1zM85.2 809.4h1v1h-1zM90 818h1v1h-1zM89.5 815.3h1v1h-1zM84.9 825.8h1v1h-1zM85.9 814h1v1h-1zM88.2 821.5h1v1h-1zM85 811.7h1v1h-1zM81.3 823.1h1v1h-1zM81.7 816.7h1v1h-1zM85.8 820.8h1v1h-1zM85.4 821.9h1v1h-1zM85.9 822.2h1v1h-1zM80.3 807h1v1h-1zM78.8 818.5h1v1h-1zM90 819.9h1v1h-1zM84 811.3h1v1h-1zM81.3 819.3h1v1h-1zM80.5 812.2h1v1h-1zM82.1 810.9h1v1h-1zM86.2 811.7h1v1h-1zM87.3 811.8h1v1h-1zM83.9 820.4h1v1h-1zM88.9 818.7h1v1h-1zM80.5 817.6h1v1h-1zM84.1 820.2h1v1h-1zM90.4 823.4h1v1h-1zM84 814.3h1v1h-1zM87 812.7h1v1h-1zM83.8 807h1v1h-1zM82.1 808.6h1v1h-1zM81.5 808h1v1h-1zM81.7 813.6h1v1h-1zM90 815.9h1v1h-1zM81.4 819.6h1v1h-1zM81 819.3h1v1h-1zM81.2 810.9h1v1h-1zM84.3 821.1h1v1h-1zM88.5 816.6h1v1h-1zM84.8 814.2h1v1h-1zM83.3 822h1v1h-1zM87.3 824.1h1v1h-1zM81.7 815.1h1v1h-1zM82.7 817.9h1v1h-1zM89.6 820.7h1v1h-1zM78.2 808.8h1v1h-1zM79.5 807.6h1v1h-1zM87.6 815.5h1v1h-1zM81.2 815.6h1v1h-1zM78.7 817.6h1v1h-1zM90.6 816.6h1v1h-1zM79.7 820.7h1v1h-1zM87.2 821h1v1h-1zM82.1 825.1h1v1h-1zM78.7 821.1h1v1h-1zM86.4 827.4h1v1h-1zM86.8 810.6h1v1h-1zM82.7 823.2h1v1h-1zM90.4 823h1v1h-1zM87.3 819.7h1v1h-1zM86.6 812.1h1v1h-1zM84.1 823.5h1v1h-1zM82.7 811.2h1v1h-1zM84.6 821h1v1h-1zM83.3 816.5h1v1h-1zM82.4 812.8h1v1h-1zM78.8 813.8h1v1h-1zM82.4 807.1h1v1h-1zM82.5 811.8h1v1h-1zM89.9 823.3h1v1h-1zM84.9 827h1v1h-1zM79.3 819.5h1v1h-1zM89.5 820.6h1v1h-1zM85.2 810.4h1v1h-1zM87.2 815.8h1v1h-1zM85.5 820.6h1v1h-1zM80.2 812.5h1v1h-1zM82.7 819h1v1h-1zM81.9 811.3h1v1h-1zM84.1 811.8h1v1h-1zM88.1 810h1v1h-1zM85.7 823h1v1h-1zM80.6 819.9h1v1h-1zM80.6 818.5h1v1h-1zM86.2 826.3h1v1h-1zM80.4 818.2h1v1h-1zM84.6 816.6h1v1h-1zM82 808.5h1v1h-1zM81.7 818.9h1v1h-1zM86.1 826.6h1v1h-1zM83.5 819.7h1v1h-1zM86.3 815h1v1h-1zM83.8 825h1v1h-1zM90.6 818h1v1h-1zM80.2 813.7h1v1h-1zM87.2 816.8h1v1h-1zM84.3 818.2h1v1h-1zM81 817.5h1v1h-1zM84.2 812.4h1v1h-1zM83.7 815.8h1v1h-1zM82.5 808.8h1v1h-1zM83.9 820.8h1v1h-1zM87.3 822.5h1v1h-1zM88.8 821.9h1v1h-1zM80.4 811.3h1v1h-1zM81.8 817.8h1v1h-1zM82.5 816.6h1v1h-1zM83.2 807h1v1h-1zM82.9 821.2h1v1h-1zM80.6 812.8h1v1h-1zM90 823.8h1v1h-1zM84.1 810.7h1v1h-1zM87.9 825.1h1v1h-1zM85.4 819.4h1v1h-1zM87.1 820.5h1v1h-1zM86.7 808.7h1v1h-1zM86.6 812.2h1v1h-1zM84.8 811.4h1v1h-1zM82.6 825.2h1v1h-1z"/>
<path fill="#3d9e3a" d="M87.6 819.7h1v1h-1zM83.3 818.3h1v1h-1zM83.9 813.1h1v1h-1zM85.1 820.3h1v1h-1zM79.8 821.6h1v1h-1zM83.5 824.7h1v1h-1zM89.5 814.3h1v1h-1zM87.4 816.5h1v1h-1zM80.3 818h1v1h-1zM81.5 810.2h1v1h-1zM104.6 701.6h1v1h-1zM126.5 743.3h1v1h-1zM134.9 784.4h1v1h-1zM140.1 785.5h1v1h-1zM106.8 699.9h1v1h-1zM111.4 716h1v1h-1zM121.5 730.4h1v1h-1zM125 745.1h1v1h-1zM134.2 772.7h1v1h-1zM108.6 711.6h1v1h-1zM106.2 706.4h1v1h-1zM125.6 759.6h1v1h-1zM133.3 788.6h1v1h-1zM118.3 734.1h1v1h-1zM125.7 753h1v1h-1zM128 768.2h1v1h-1zM128.7 771.6h1v1h-1zM118.2 733.8h1v1h-1zM109.2 709h1v1h-1zM118.4 734.1h1v1h-1zM109.2 705h1v1h-1zM124.5 741.3h1v1h-1zM136.6 791.9h1v1h-1zM127 760h1v1h-1zM132.2 781.9h1v1h-1zM111.7 721.1h1v1h-1zM138.2 778.8h1v1h-1zM119.4 724.7h1v1h-1zM113.4 713.8h1v1h-1zM130.8 770.8h1v1h-1zM127.1 749.3h1v1h-1zM114.7 723.1h1v1h-1zM139 779.5h1v1h-1zM126.2 737.7h1v1h-1zM115.3 727.8h1v1h-1zM118.7 727.3h1v1h-1zM140.1 785.2h1v1h-1zM130.1 763.7h1v1h-1zM119.1 734.5h1v1h-1zM141.4 794.5h1v1h-1zM118.6 734.2h1v1h-1zM114.1 731.8h1v1h-1zM138.4 784.6h1v1h-1zM116.1 718.4h1v1h-1zM115 716.4h1v1h-1zM128.3 758.4h1v1h-1zM130.4 763.1h1v1h-1zM114.1 719.2h1v1h-1zM134.8 790.5h1v1h-1zM112.2 728.4h1v1h-1zM107.6 722.4h1v1h-1zM136.4 791.5h1v1h-1zM132.1 771.1h1v1h-1zM131.8 769.8h1v1h-1zM106.4 713.2h1v1h-1zM129.6 772.5h1v1h-1zM107.2 716h1v1h-1zM120.4 739.6h1v1h-1zM124.7 756.3h1v1h-1zM128.7 747.7h1v1h-1zM125.6 746.9h1v1h-1zM112.3 725.5h1v1h-1zM124.5 739.4h1v1h-1zM132.4 782.6h1v1h-1zM134.2 791.8h1v1h-1zM118.7 725.1h1v1h-1zM118.4 721.7h1v1h-1zM130.8 756.7h1v1h-1zM115.9 723.7h1v1h-1zM132.8 776.2h1v1h-1zM111.9 722.4h1v1h-1zM106 714.1h1v1h-1zM104.7 705.2h1v1h-1zM129.7 762.9h1v1h-1zM116.6 723.5h1v1h-1zM130.8 761.2h1v1h-1zM108.2 702.2h1v1h-1zM109.6 720h1v1h-1zM128.8 752.9h1v1h-1zM135.7 771.4h1v1h-1zM140.4 794.3h1v1h-1zM129.3 747.9h1v1h-1zM135.7 785.7h1v1h-1zM113.9 712.2h1v1h-1zM133.8 762h1v1h-1zM134.4 771.2h1v1h-1zM136 769.6h1v1h-1zM127.2 756.5h1v1h-1zM119 729.7h1v1h-1zM107.5 712.1h1v1h-1zM124.4 738.6h1v1h-1zM132.6 784.8h1v1h-1zM106.5 704.5h1v1h-1zM135.8 789.7h1v1h-1zM136.6 785.9h1v1h-1zM113.4 727.4h1v1h-1zM135.9 786.8h1v1h-1zM133.7 766.1h1v1h-1zM110.2 725.3h1v1h-1zM129.3 751.9h1v1h-1zM105.4 714.6h1v1h-1zM117.7 720.6h1v1h-1zM132.3 759.5h1v1h-1zM107.3 710.5h1v1h-1zM116.7 722.1h1v1h-1zM105.6 708.2h1v1h-1zM137.1 792.1h1v1h-1zM130.7 777.9h1v1h-1zM134.9 766.8h1v1h-1zM134.9 785.9h1v1h-1zM136.1 781.2h1v1h-1zM128.8 758.8h1v1h-1zM112 725.9h1v1h-1zM125 754.2h1v1h-1zM119.5 727.5h1v1h-1zM118.2 736.9h1v1h-1zM132.2 779.9h1v1h-1zM122.2 745.7h1v1h-1zM129.2 760.5h1v1h-1zM141.3 787h1v1h-1zM125.5 758.4h1v1h-1zM136 771h1v1h-1zM124.5 760.5h1v1h-1zM124.1 749h1v1h-1zM112.4 719.5h1v1h-1zM132.1 773.2h1v1h-1zM122.3 736.5h1v1h-1zM124.1 748h1v1h-1zM131.5 780.4h1v1h-1zM134.8 786h1v1h-1zM112.4 716.4h1v1h-1zM130.2 754.6h1v1h-1zM128.7 766.9h1v1h-1zM110.9 728h1v1h-1zM131.9 768.2h1v1h-1zM117.3 722.5h1v1h-1zM126 763.5h1v1h-1zM130.8 770.1h1v1h-1zM124.7 743.6h1v1h-1zM133.9 786h1v1h-1zM120.1 727.2h1v1h-1zM126.6 755.1h1v1h-1zM123.5 756.4h1v1h-1zM128.6 769.2h1v1h-1zM107.1 720.4h1v1h-1zM109.6 723.8h1v1h-1zM117.3 733.6h1v1h-1zM108.2 705h1v1h-1zM116.4 717.7h1v1h-1zM116.5 730.7h1v1h-1zM124.7 740.2h1v1h-1zM113.6 727.9h1v1h-1zM128.3 766.1h1v1h-1zM114.4 733.7h1v1h-1zM112.1 719.1h1v1h-1zM106.5 708h1v1h-1zM114.4 718.6h1v1h-1zM126.3 759.4h1v1h-1zM121.1 729.5h1v1h-1zM119 740.1h1v1h-1zM127.7 753.1h1v1h-1zM115.3 718.1h1v1h-1zM116.8 718.2h1v1h-1zM113.7 731.5h1v1h-1zM124.5 758.6h1v1h-1zM134.6 786.6h1v1h-1zM107 718.3h1v1h-1zM133.8 772.2h1v1h-1zM119.3 727.9h1v1h-1zM132.6 786.5h1v1h-1zM126.4 749.9h1v1h-1zM132.2 768.1h1v1h-1zM115.4 721.6h1v1h-1zM132.6 786.1h1v1h-1zM125.6 746h1v1h-1zM122.5 752.9h1v1h-1zM134 774.8h1v1h-1zM131 780.7h1v1h-1zM109 701.7h1v1h-1zM117.1 739h1v1h-1zM128.8 756h1v1h-1zM135.6 789h1v1h-1zM122.2 732.3h1v1h-1z"/>
<path fill="#e58c90" d="M139.3 786.4h1v1h-1zM126.3 746.3h1v1h-1zM140 804.8h1v1h-1zM128 758.9h1v1h-1zM123.2 750.6h1v1h-1zM125.1 751.5h1v1h-1zM139.6 801.1h1v1h-1zM134.6 773.9h1v1h-1zM122.2 741.3h1v1h-1zM133.8 765.7h1v1h-1zM124.7 746.7h1v1h-1zM125.1 755.3h1v1h-1zM137.3 782.9h1v1h-1zM115.9 727.6h1v1h-1zM136.3 795.7h1v1h-1zM130 767.1h1v1h-1zM136.7 773.8h1v1h-1zM133.8 776.2h1v1h-1zM136.5 784.2h1v1h-1zM139 796.1h1v1h-1zM120.4 739h1v1h-1zM142.8 794.2h1v1h-1zM126.3 754h1v1h-1zM138.6 793.9h1v1h-1zM132.4 770.5h1v1h-1zM129.3 761.6h1v1h-1zM127.6 758.1h1v1h-1zM125.1 746.6h1v1h-1zM123.5 737.6h1v1h-1zM140.7 799.8h1v1h-1zM137.2 778.4h1v1h-1zM140 804h1v1h-1zM138.1 797.1h1v1h-1zM126.7 743.5h1v1h-1zM124.7 749.1h1v1h-1zM129.4 756.7h1v1h-1zM136.3 787h1v1h-1zM124.1 737.7h1v1h-1zM126.9 758.8h1v1h-1zM136.7 775.9h1v1h-1zM129.5 766.2h1v1h-1zM136.8 777h1v1h-1zM138.5 780.7h1v1h-1zM130.9 773.2h1v1h-1zM140.5 780.6h1v1h-1zM133.7 766.3h1v1h-1zM126 752.3h1v1h-1zM128.4 761.9h1v1h-1zM131.7 762.9h1v1h-1zM138.8 788.1h1v1h-1zM142.7 792.1h1v1h-1zM135.6 777.1h1v1h-1zM137.4 785.3h1v1h-1zM136.9 780h1v1h-1zM126.5 755.3h1v1h-1zM124.5 738.8h1v1h-1zM138.7 791.6h1v1h-1zM123.3 733.4h1v1h-1zM130.8 763.3h1v1h-1zM136.4 785.6h1v1h-1zM118.6 729.5h1v1h-1zM128.2 758.7h1v1h-1zM129.9 752.9h1v1h-1zM139.7 804.1h1v1h-1zM137.8 779.1h1v1h-1zM122.5 733.2h1v1h-1zM128.4 745.9h1v1h-1zM135 779.1h1v1h-1zM140.6 791.9h1v1h-1zM140.4 781.4h1v1h-1zM126.1 749.7h1v1h-1zM118.7 726.4h1v1h-1zM141.5 785.6h1v1h-1zM140.9 787.5h1v1h-1zM124.5 738.6h1v1h-1zM136.4 796.2h1v1h-1zM132.8 761h1v1h-1zM117.4 729.6h1v1h-1zM137.1 786.8h1v1h-1zM140.2 792.9h1v1h-1zM136.5 775h1v1h-1zM129.1 759.8h1v1h-1zM134.1 768.2h1v1h-1zM126 742.8h1v1h-1zM133.4 762.7h1v1h-1zM128.7 761.6h1v1h-1zM126.8 748.8h1v1h-1zM124.8 741.4h1v1h-1zM117.4 725h1v1h-1zM137.5 789.2h1v1h-1zM132.9 771h1v1h-1zM141.7 803.4h1v1h-1zM136.4 785.7h1v1h-1zM137 776h1v1h-1zM120.8 728.4h1v1h-1zM133.3 776.2h1v1h-1zM130.4 762h1v1h-1zM131.5 767.7h1v1h-1zM123.3 743.7h1v1h-1zM122.3 738.7h1v1h-1zM137.2 798.4h1v1h-1zM129.2 754.1h1v1h-1zM125.9 748.7h1v1h-1zM127.2 758.3h1v1h-1zM139.1 791.4h1v1h-1zM124.4 742.7h1v1h-1zM122 741h1v1h-1zM125.7 757h1v1h-1zM128.3 748h1v1h-1zM128.9 756.9h1v1h-1zM126.8 755.1h1v1h-1zM137.4 801.8h1v1h-1zM127 744h1v1h-1zM127.5 744.7h1v1h-1zM138.5 798.6h1v1h-1zM143.1 799.8h1v1h-1zM125.5 745.4h1v1h-1zM138 790.1h1v1h-1zM137.8 785.5h1v1h-1zM120.3 730.5h1v1h-1zM136.7 788.1h1v1h-1zM142.5 796.6h1v1h-1zM127 759.7h1v1h-1zM136.1 772.8h1v1h-1zM121.1 730.9h1v1h-1zM123.8 739.2h1v1h-1zM132.9 776.3h1v1h-1zM137 784.1h1v1h-1zM122.4 743.2h1v1h-1zM138.3 790.4h1v1h-1zM122.2 735.4h1v1h-1zM137.9 789.7h1v1h-1zM136.4 779.7h1v1h-1zM130.9 767.8h1v1h-1zM128.2 767.1h1v1h-1zM127.2 762.4h1v1h-1zM131.4 773.6h1v1h-1zM128.2 760.5h1v1h-1zM124.8 734.4h1v1h-1zM139.9 805.2h1v1h-1zM139.6 782h1v1h-1zM123.2 747.3h1v1h-1zM142.4 790.9h1v1h-1zM125.2 747.6h1v1h-1zM141.9 791.8h1v1h-1zM134.3 781h1v1h-1zM132.9 775.6h1v1h-1zM139.6 778.1h1v1h-1zM124.1 743.8h1v1h-1zM124.9 739.7h1v1h-1zM135.8 770.3h1v1h-1zM134.9 776.1h1v1h-1zM141.7 791.5h1v1h-1zM139.3 803.6h1v1h-1zM134.6 764h1v1h-1zM126.5 742.1h1v1h-1zM142.3 785.8h1v1h-1zM138.3 790h1v1h-1zM120 738.7h1v1h-1zM124.7 738.6h1v1h-1zM126.6 745.4h1v1h-1zM136.4 776.4h1v1h-1zM119.8 732.9h1v1h-1zM129.9 752.7h1v1h-1zM127.9 751.3h1v1h-1zM138.4 803.6h1v1h-1zM118 733.9h1v1h-1zM141.7 798.3h1v1h-1zM142.1 803.7h1v1h-1zM137.4 778.6h1v1h-1zM142.4 790.5h1v1h-1zM135.7 771.2h1v1h-1zM138.2 803.8h1v1h-1zM134.2 781.3h1v1h-1zM141.8 800.7h1v1h-1zM126.1 746.5h1v1h-1zM132.7 776.4h1v1h-1zM141.6 788.3h1v1h-1zM126.7 751.5h1v1h-1zM140.5 795.7h1v1h-1zM129.3 756.5h1v1h-1zM123.5 746.3h1v1h-1zM138.8 803.7h1v1h-1zM139.1 782.8h1v1h-1zM122.3 734.1h1v1h-1zM139.6 786.2h1v1h-1zM120.1 738.6h1v1h-1zM129.3 767.1h1v1h-1zM133 767.6h1v1h-1zM131.3 756.7h1v1h-1zM128.3 759.8h1v1h-1zM141.2 799.4h1v1h-1zM131.3 755.8h1v1h-1zM138.2 800.4h1v1h-1zM137.3 774h1v1h-1zM126.6 750.2h1v1h-1zM128.9 760.7h1v1h-1zM135.5 779.7h1v1h-1zM134 772.9h1v1h-1zM121.1 742.7h1v1h-1zM132.2 764.9h1v1h-1zM141.3 787.7h1v1h-1zM123.9 743h1v1h-1zM122 742.9h1v1h-1zM130.1 757.3h1v1h-1zM126.3 740.3h1v1h-1zM135.8 779.8h1v1h-1zM141.2 800h1v1h-1zM135 774h1v1h-1zM123.6 742.8h1v1h-1zM142.5 806.9h1v1h-1zM129.7 765.8h1v1h-1zM127.1 760.5h1v1h-1zM137.8 791.8h1v1h-1zM135.7 767h1v1h-1zM138.7 796.1h1v1h-1zM126.6 751.8h1v1h-1zM133.6 768.9h1v1h-1zM122.1 731.1h1v1h-1zM128.8 752.4h1v1h-1zM134.9 770.6h1v1h-1zM139.2 785.4h1v1h-1zM144.5 795.6h1v1h-1zM121 737.4h1v1h-1zM135.7 786.6h1v1h-1zM139 791.6h1v1h-1zM119.9 738.4h1v1h-1zM132.5 764.1h1v1h-1zM132.1 765.6h1v1h-1zM129.6 755h1v1h-1zM128.3 747.1h1v1h-1zM136.7 792.6h1v1h-1zM129.1 764.7h1v1h-1zM125.6 754.9h1v1h-1zM125 747.6h1v1h-1zM123.5 742h1v1h-1zM128.7 750.6h1v1h-1zM133.8 781.8h1v1h-1zM126 747.7h1v1h-1zM125 749.8h1v1h-1zM139.4 791.7h1v1h-1zM116.4 727.8h1v1h-1zM124.1 747.4h1v1h-1zM119.9 726.3h1v1h-1zM141.8 806.6h1v1h-1zM117.8 730.7h1v1h-1zM133.7 766.3h1v1h-1zM126.1 739.5h1v1h-1z"/>
<path d="M79.6 751.5 73.4 748.8 66.7 748.3 59.2 750.9 51.8 755.1 44.3 760.5 38.4 766.9 33.1 773.2" fill="none" stroke="#111" stroke-width="0.5" stroke-linejoin="round" stroke-opacity="0.7"/>
<path d="M79.6 751.5 80.1 770 81.2 785 82.7 802 83.8 814.8" fill="none" stroke="#111" stroke-width="0.5" stroke-linejoin="round" stroke-opacity="0.7"/>
<path d="M79.6 751.5 85.3 739.2 90.5 728.5 95.7 720.6" fill="none" stroke="#111" stroke-width="0.5" stroke-linejoin="round" stroke-opacity="0.7"/>
<path d="M95.7 720.6 95 712.5 94.6 704" fill="none" stroke="#111" stroke-width="0.5" stroke-linejoin="round" stroke-opacity="0.7"/>
<path d="M95.7 720.6 101.7 718.9 104.6 718.1 108.8 719.6 115.7 731.1 122.5 743.2 128.1 755.4 133.6 769.2 137.7 786 139.7 799.9" fill="none" stroke="#111" stroke-width="0.5" stroke-linejoin="round" stroke-opacity="0.7"/>
<circle cx="95.7" cy="720.6" r="4.5" fill="#000"/>
<text x="95.7" y="723.1" text-anchor="middle" font-weight="bold" fill="#fff" font-size="7">1</text>
<circle cx="79.6" cy="751.5" r="4.5" fill="#000"/>
<text x="79.6" y="754" text-anchor="middle" font-weight="bold" fill="#fff" font-size="7">2</text>
<path d="M36.6 746.6C52 742 70 736 80.2 714.5" fill="none" stroke="#111" stroke-width="0.8"/>
<path d="M83.9 709.9L77.4 712.3L82.5 716.8Z" fill="#000"/>
<path d="M87.1 792C87 770 89 752 104.2 740.8" fill="none" stroke="#111" stroke-width="0.8"/>
<path d="M108.8 737.5L101.8 739.2L106.1 743.7Z" fill="#000"/>
<text x="148.9" y="717.6" font-weight="bold" fill="#111" font-size="10.6">cellType_2</text>
<circle cx="154.7" cy="730.2" r="2.9" fill="#a8d0e3"/>
<text x="165" y="733.5" font-weight="bold" fill="#111" font-size="9.2">qHSC</text>
<circle cx="154.7" cy="748.4" r="2.9" fill="#3479b5"/>
<text x="165" y="751.7" font-weight="bold" fill="#111" font-size="9.2">inHSC</text>
<circle cx="154.7" cy="766.1" r="2.9" fill="#b2df8a"/>
<text x="165" y="769.4" font-weight="bold" fill="#111" font-size="9.2">aHSC</text>
<circle cx="154.7" cy="783.8" r="2.9" fill="#3d9e3a"/>
<text x="165" y="787.1" font-weight="bold" fill="#111" font-size="9.2">hep−like HSC</text>
<circle cx="154.7" cy="801.8" r="2.9" fill="#e58c90"/>
<text x="165" y="805.1" font-weight="bold" fill="#111" font-size="9.2">SMC</text>
<text x="214.9" y="676.9" font-size="23">J</text>
<line x1="232" y1="681.5" x2="302.6" y2="681.5" stroke="#3a66a8" stroke-width="1.1"/>
<path d="M229.7 681.5L233.4 679.6L233.4 683.4Z" fill="#3a66a8"/>
<line x1="345.2" y1="681.5" x2="416.5" y2="681.5" stroke="#d9542b" stroke-width="1.1"/>
<path d="M419 681.5L415.3 679.6L415.3 683.4Z" fill="#d9542b"/>
<text x="266.6" y="678.6" text-anchor="middle" font-weight="bold" fill="#3a66a8" font-size="8.4">More diff.</text>
<text x="382" y="678.6" text-anchor="middle" font-weight="bold" fill="#d9542b" font-size="8.4">Less diff.</text>
<defs><linearGradient id="j0"><stop offset="0.000" stop-color="#f7f4f4"/><stop offset="0.080" stop-color="#ebd7d6"/><stop offset="0.200" stop-color="#e8cecc"/><stop offset="0.320" stop-color="#e4c5c3"/><stop offset="0.450" stop-color="#e6cac8"/><stop offset="0.505" stop-color="#eededd"/><stop offset="0.585" stop-color="#f9f9f9"/><stop offset="0.665" stop-color="#9fb1ca"/><stop offset="0.785" stop-color="#426791"/><stop offset="0.900" stop-color="#27517f"/><stop offset="1.000" stop-color="#27517f"/></linearGradient><linearGradient id="j1"><stop offset="0.000" stop-color="#ecd8d6"/><stop offset="0.080" stop-color="#e7ccca"/><stop offset="0.200" stop-color="#e2c0bd"/><stop offset="0.320" stop-color="#ddb4b1"/><stop offset="0.450" stop-color="#e0bab7"/><stop offset="0.491" stop-color="#ead5d3"/><stop offset="0.571" stop-color="#f9f9f9"/><stop offset="0.651" stop-color="#a7b7ce"/><stop offset="0.771" stop-color="#4f7199"/><stop offset="0.900" stop-color="#2c5582"/><stop offset="1.000" stop-color="#295280"/></linearGradient><linearGradient id="j2"><stop offset="0.000" stop-color="#ecd8d7"/><stop offset="0.080" stop-color="#e7ccca"/><stop offset="0.200" stop-color="#e2c0be"/><stop offset="0.320" stop-color="#ddb4b1"/><stop offset="0.450" stop-color="#e0bab7"/><stop offset="0.499" stop-color="#ebd5d3"/><stop offset="0.579" stop-color="#f9f9f9"/><stop offset="0.659" stop-color="#b5c2d5"/><stop offset="0.779" stop-color="#6683a9"/><stop offset="0.900" stop-color="#496c96"/><stop offset="1.000" stop-color="#466a94"/></linearGradient><linearGradient id="j3"><stop offset="0.000" stop-color="#e6cac8"/><stop offset="0.080" stop-color="#dfbab7"/><stop offset="0.200" stop-color="#d9a9a5"/><stop offset="0.320" stop-color="#d29894"/><stop offset="0.450" stop-color="#d5a09c"/><stop offset="0.515" stop-color="#e5c6c4"/><stop offset="0.595" stop-color="#f9f9f9"/><stop offset="0.675" stop-color="#b3c1d4"/><stop offset="0.795" stop-color="#6381a7"/><stop offset="0.900" stop-color="#456993"/><stop offset="1.000" stop-color="#436791"/></linearGradient><linearGradient id="j4"><stop offset="0.000" stop-color="#e5c6c4"/><stop offset="0.080" stop-color="#ddb4b1"/><stop offset="0.200" stop-color="#d6a29e"/><stop offset="0.320" stop-color="#cf8f8b"/><stop offset="0.450" stop-color="#d29894"/><stop offset="0.514" stop-color="#e3c2bf"/><stop offset="0.594" stop-color="#f9f9f9"/><stop offset="0.674" stop-color="#bfcbdb"/><stop offset="0.794" stop-color="#7891b5"/><stop offset="0.900" stop-color="#5f7ea4"/><stop offset="1.000" stop-color="#5d7ca3"/></linearGradient><linearGradient id="j5"><stop offset="0.000" stop-color="#e7cdcb"/><stop offset="0.080" stop-color="#e1bdba"/><stop offset="0.200" stop-color="#daada9"/><stop offset="0.320" stop-color="#d49d98"/><stop offset="0.450" stop-color="#d7a5a1"/><stop offset="0.510" stop-color="#e6c9c7"/><stop offset="0.590" stop-color="#f9f9f9"/><stop offset="0.670" stop-color="#b8c5d7"/><stop offset="0.790" stop-color="#6c88ad"/><stop offset="0.900" stop-color="#51729b"/><stop offset="1.000" stop-color="#4e7099"/></linearGradient><linearGradient id="j6"><stop offset="0.000" stop-color="#f7f4f4"/><stop offset="0.080" stop-color="#dfb8b6"/><stop offset="0.200" stop-color="#d8a7a4"/><stop offset="0.320" stop-color="#d29692"/><stop offset="0.450" stop-color="#d59f9b"/><stop offset="0.515" stop-color="#e4c5c3"/><stop offset="0.595" stop-color="#f9f9f9"/><stop offset="0.675" stop-color="#bcc8d9"/><stop offset="0.795" stop-color="#738eb2"/><stop offset="0.900" stop-color="#5a7aa1"/><stop offset="1.000" stop-color="#57789f"/></linearGradient><linearGradient id="j7"><stop offset="0.000" stop-color="#e9d1cf"/><stop offset="0.080" stop-color="#e3c2c0"/><stop offset="0.200" stop-color="#ddb3b0"/><stop offset="0.320" stop-color="#d7a5a1"/><stop offset="0.450" stop-color="#daaca9"/><stop offset="0.534" stop-color="#e7cdcb"/><stop offset="0.614" stop-color="#f9f9f9"/><stop offset="0.694" stop-color="#b9c6d8"/><stop offset="0.814" stop-color="#6e89ae"/><stop offset="0.900" stop-color="#53749c"/><stop offset="1.000" stop-color="#50729a"/></linearGradient><linearGradient id="j8"><stop offset="0.000" stop-color="#f7f4f4"/><stop offset="0.080" stop-color="#e4c4c2"/><stop offset="0.200" stop-color="#deb6b4"/><stop offset="0.320" stop-color="#d9a8a5"/><stop offset="0.450" stop-color="#dbafac"/><stop offset="0.530" stop-color="#e8cfcd"/><stop offset="0.610" stop-color="#f9f9f9"/><stop offset="0.690" stop-color="#abbbd1"/><stop offset="0.810" stop-color="#56779e"/><stop offset="0.900" stop-color="#365d89"/><stop offset="1.000" stop-color="#325a86"/></linearGradient><linearGradient id="j9"><stop offset="0.000" stop-color="#ecd8d7"/><stop offset="0.080" stop-color="#e7ccca"/><stop offset="0.200" stop-color="#e2c0be"/><stop offset="0.320" stop-color="#ddb4b1"/><stop offset="0.450" stop-color="#e0bab8"/><stop offset="0.527" stop-color="#ebd5d4"/><stop offset="0.607" stop-color="#f9f9f9"/><stop offset="0.687" stop-color="#adbcd1"/><stop offset="0.807" stop-color="#5979a0"/><stop offset="0.900" stop-color="#395f8b"/><stop offset="1.000" stop-color="#355c88"/></linearGradient><linearGradient id="j10"><stop offset="0.000" stop-color="#e6cac8"/><stop offset="0.080" stop-color="#dfb9b6"/><stop offset="0.200" stop-color="#d8a8a4"/><stop offset="0.320" stop-color="#d29793"/><stop offset="0.450" stop-color="#d59f9b"/><stop offset="0.515" stop-color="#e4c6c3"/><stop offset="0.595" stop-color="#f9f9f9"/><stop offset="0.675" stop-color="#b1bfd4"/><stop offset="0.795" stop-color="#607ea5"/><stop offset="0.900" stop-color="#426691"/><stop offset="1.000" stop-color="#3f648f"/></linearGradient><linearGradient id="j11"><stop offset="0.000" stop-color="#e8cecd"/><stop offset="0.080" stop-color="#e2bfbc"/><stop offset="0.200" stop-color="#dbb0ac"/><stop offset="0.320" stop-color="#d5a09c"/><stop offset="0.450" stop-color="#d8a8a4"/><stop offset="0.498" stop-color="#e6cbc9"/><stop offset="0.578" stop-color="#f9f9f9"/><stop offset="0.658" stop-color="#afbed2"/><stop offset="0.778" stop-color="#5c7ba2"/><stop offset="0.900" stop-color="#3d638e"/><stop offset="1.000" stop-color="#3a608c"/></linearGradient><linearGradient id="j12"><stop offset="0.000" stop-color="#e6cbc9"/><stop offset="0.080" stop-color="#e0bab7"/><stop offset="0.200" stop-color="#d9a9a6"/><stop offset="0.320" stop-color="#d29894"/><stop offset="0.450" stop-color="#d5a19d"/><stop offset="0.490" stop-color="#e5c6c4"/><stop offset="0.570" stop-color="#f9f9f9"/><stop offset="0.650" stop-color="#b9c6d8"/><stop offset="0.770" stop-color="#6d89ae"/><stop offset="0.900" stop-color="#53749c"/><stop offset="1.000" stop-color="#50729a"/></linearGradient><linearGradient id="j13"><stop offset="0.000" stop-color="#e4c6c3"/><stop offset="0.080" stop-color="#ddb3b0"/><stop offset="0.200" stop-color="#d5a09c"/><stop offset="0.320" stop-color="#ce8e89"/><stop offset="0.450" stop-color="#d29793"/><stop offset="0.501" stop-color="#e2c1be"/><stop offset="0.581" stop-color="#f9f9f9"/><stop offset="0.661" stop-color="#bdc9da"/><stop offset="0.781" stop-color="#748eb2"/><stop offset="0.900" stop-color="#5b7aa1"/><stop offset="1.000" stop-color="#5878a0"/></linearGradient><linearGradient id="j14"><stop offset="0.000" stop-color="#e4c6c3"/><stop offset="0.080" stop-color="#ddb3b0"/><stop offset="0.200" stop-color="#d5a09d"/><stop offset="0.320" stop-color="#cf8e8a"/><stop offset="0.450" stop-color="#d29793"/><stop offset="0.505" stop-color="#e2c1bf"/><stop offset="0.585" stop-color="#f9f9f9"/><stop offset="0.665" stop-color="#bbc7d9"/><stop offset="0.785" stop-color="#718cb0"/><stop offset="0.900" stop-color="#57779f"/><stop offset="1.000" stop-color="#54759d"/></linearGradient><linearGradient id="j15"><stop offset="0.000" stop-color="#e8cfcd"/><stop offset="0.080" stop-color="#e2c0bd"/><stop offset="0.200" stop-color="#dcb0ad"/><stop offset="0.320" stop-color="#d6a19d"/><stop offset="0.450" stop-color="#d9a9a5"/><stop offset="0.510" stop-color="#e7cbc9"/><stop offset="0.590" stop-color="#f9f9f9"/><stop offset="0.670" stop-color="#b7c4d7"/><stop offset="0.790" stop-color="#6a86ab"/><stop offset="0.900" stop-color="#4e7099"/><stop offset="1.000" stop-color="#4b6e97"/></linearGradient><linearGradient id="j16"><stop offset="0.000" stop-color="#f7f4f4"/><stop offset="0.080" stop-color="#e4c4c2"/><stop offset="0.200" stop-color="#deb6b3"/><stop offset="0.320" stop-color="#d8a8a4"/><stop offset="0.450" stop-color="#dbafab"/><stop offset="0.488" stop-color="#e8cfcd"/><stop offset="0.568" stop-color="#f9f9f9"/><stop offset="0.648" stop-color="#adbcd1"/><stop offset="0.768" stop-color="#5979a0"/><stop offset="0.900" stop-color="#39608b"/><stop offset="1.000" stop-color="#365d89"/></linearGradient><linearGradient id="j17"><stop offset="0.000" stop-color="#e8cfce"/><stop offset="0.080" stop-color="#e2c0be"/><stop offset="0.200" stop-color="#dcb1ae"/><stop offset="0.320" stop-color="#d6a29e"/><stop offset="0.450" stop-color="#d9aaa6"/><stop offset="0.489" stop-color="#e7ccca"/><stop offset="0.569" stop-color="#f9f9f9"/><stop offset="0.649" stop-color="#b3c1d5"/><stop offset="0.769" stop-color="#6481a7"/><stop offset="0.900" stop-color="#466a94"/><stop offset="1.000" stop-color="#436892"/></linearGradient><linearGradient id="j18"><stop offset="0.000" stop-color="#e9d0ce"/><stop offset="0.080" stop-color="#e3c1bf"/><stop offset="0.200" stop-color="#ddb3b0"/><stop offset="0.320" stop-color="#d7a4a0"/><stop offset="0.450" stop-color="#daaba8"/><stop offset="0.498" stop-color="#e7cdcb"/><stop offset="0.578" stop-color="#f9f9f9"/><stop offset="0.658" stop-color="#b2c0d4"/><stop offset="0.778" stop-color="#6280a6"/><stop offset="0.900" stop-color="#446892"/><stop offset="1.000" stop-color="#416690"/></linearGradient><linearGradient id="j19"><stop offset="0.000" stop-color="#e6cac8"/><stop offset="0.080" stop-color="#dfb9b6"/><stop offset="0.200" stop-color="#d8a8a4"/><stop offset="0.320" stop-color="#d29793"/><stop offset="0.450" stop-color="#d59f9b"/><stop offset="0.502" stop-color="#e4c6c3"/><stop offset="0.582" stop-color="#f9f9f9"/><stop offset="0.662" stop-color="#acbbd1"/><stop offset="0.782" stop-color="#58789f"/><stop offset="0.900" stop-color="#375e8a"/><stop offset="1.000" stop-color="#345c88"/></linearGradient><linearGradient id="j20"><stop offset="0.000" stop-color="#e5c8c6"/><stop offset="0.080" stop-color="#deb6b3"/><stop offset="0.200" stop-color="#d7a4a0"/><stop offset="0.320" stop-color="#d0928e"/><stop offset="0.450" stop-color="#d39b97"/><stop offset="0.487" stop-color="#e3c3c1"/><stop offset="0.567" stop-color="#f9f9f9"/><stop offset="0.647" stop-color="#b4c2d5"/><stop offset="0.767" stop-color="#6582a8"/><stop offset="0.900" stop-color="#486b95"/><stop offset="1.000" stop-color="#456993"/></linearGradient><linearGradient id="j21"><stop offset="0.000" stop-color="#ead4d2"/><stop offset="0.080" stop-color="#e4c6c4"/><stop offset="0.200" stop-color="#dfb8b6"/><stop offset="0.320" stop-color="#daaba7"/><stop offset="0.450" stop-color="#dcb2af"/><stop offset="0.486" stop-color="#e9d0ce"/><stop offset="0.566" stop-color="#f9f9f9"/><stop offset="0.646" stop-color="#aebdd2"/><stop offset="0.766" stop-color="#5a7aa1"/><stop offset="0.900" stop-color="#3b618c"/><stop offset="1.000" stop-color="#385e8a"/></linearGradient><linearGradient id="j22"><stop offset="0.000" stop-color="#f7f4f4"/><stop offset="0.080" stop-color="#ead3d2"/><stop offset="0.200" stop-color="#e6c9c7"/><stop offset="0.320" stop-color="#e2bfbd"/><stop offset="0.450" stop-color="#e4c4c2"/><stop offset="0.517" stop-color="#eddbda"/><stop offset="0.597" stop-color="#f9f9f9"/><stop offset="0.677" stop-color="#a7b8cf"/><stop offset="0.797" stop-color="#50729a"/><stop offset="0.900" stop-color="#2e5683"/><stop offset="1.000" stop-color="#2a5481"/></linearGradient><linearGradient id="j23"><stop offset="0.000" stop-color="#eddbda"/><stop offset="0.080" stop-color="#e9d0cf"/><stop offset="0.200" stop-color="#e4c5c3"/><stop offset="0.320" stop-color="#e0bbb8"/><stop offset="0.450" stop-color="#e2c0be"/><stop offset="0.508" stop-color="#ecd8d7"/><stop offset="0.588" stop-color="#f9f9f9"/><stop offset="0.668" stop-color="#a1b3cb"/><stop offset="0.788" stop-color="#466a93"/><stop offset="0.900" stop-color="#27517f"/><stop offset="1.000" stop-color="#27517f"/></linearGradient><linearGradient id="j24"><stop offset="0.000" stop-color="#e8cfcd"/><stop offset="0.080" stop-color="#e2c0be"/><stop offset="0.200" stop-color="#dcb1ae"/><stop offset="0.320" stop-color="#d6a29e"/><stop offset="0.450" stop-color="#d9a9a6"/><stop offset="0.493" stop-color="#e7cbc9"/><stop offset="0.573" stop-color="#f9f9f9"/><stop offset="0.653" stop-color="#adbcd1"/><stop offset="0.773" stop-color="#5979a0"/><stop offset="0.900" stop-color="#39608b"/><stop offset="1.000" stop-color="#365d89"/></linearGradient><linearGradient id="j25"><stop offset="0.000" stop-color="#f0e2e1"/><stop offset="0.080" stop-color="#ecd9d8"/><stop offset="0.200" stop-color="#e9d1cf"/><stop offset="0.320" stop-color="#e5c8c6"/><stop offset="0.450" stop-color="#e7ccca"/><stop offset="0.496" stop-color="#efdfde"/><stop offset="0.576" stop-color="#f9f9f9"/><stop offset="0.656" stop-color="#acbcd1"/><stop offset="0.776" stop-color="#5878a0"/><stop offset="0.900" stop-color="#385e8a"/><stop offset="1.000" stop-color="#355c88"/></linearGradient><linearGradient id="j26"><stop offset="0.000" stop-color="#efe0df"/><stop offset="0.080" stop-color="#ebd7d5"/><stop offset="0.200" stop-color="#e8cecc"/><stop offset="0.320" stop-color="#e4c4c2"/><stop offset="0.450" stop-color="#e6c9c7"/><stop offset="0.487" stop-color="#eededc"/><stop offset="0.567" stop-color="#f9f9f9"/><stop offset="0.647" stop-color="#a9b9cf"/><stop offset="0.767" stop-color="#53749c"/><stop offset="0.900" stop-color="#315986"/><stop offset="1.000" stop-color="#2e5683"/></linearGradient><linearGradient id="j27"><stop offset="0.000" stop-color="#efe1e0"/><stop offset="0.080" stop-color="#ecd8d6"/><stop offset="0.200" stop-color="#e8cfcd"/><stop offset="0.320" stop-color="#e5c6c4"/><stop offset="0.450" stop-color="#e6cbc9"/><stop offset="0.502" stop-color="#eedfdd"/><stop offset="0.582" stop-color="#f9f9f9"/><stop offset="0.662" stop-color="#a2b3cc"/><stop offset="0.782" stop-color="#476a94"/><stop offset="0.900" stop-color="#27517f"/><stop offset="1.000" stop-color="#27517f"/></linearGradient><linearGradient id="j28"><stop offset="0.000" stop-color="#8098ba"/><stop offset="0.060" stop-color="#e1e6ec"/><stop offset="0.120" stop-color="#eedddc"/><stop offset="0.300" stop-color="#e3c2bf"/><stop offset="0.500" stop-color="#eedddc"/><stop offset="0.560" stop-color="#f9f9f9"/><stop offset="0.650" stop-color="#98abc7"/><stop offset="1.000" stop-color="#7791b4"/></linearGradient><linearGradient id="j29"><stop offset="0.000" stop-color="#e4c4c2"/><stop offset="0.100" stop-color="#d8a7a3"/><stop offset="0.250" stop-color="#cd8a86"/><stop offset="0.380" stop-color="#d1948f"/><stop offset="0.467" stop-color="#e6c9c7"/><stop offset="0.537" stop-color="#f9f9f9"/><stop offset="0.597" stop-color="#c6d0de"/><stop offset="0.750" stop-color="#a3b4cc"/><stop offset="1.000" stop-color="#9badc8"/></linearGradient><linearGradient id="j30"><stop offset="0.000" stop-color="#e5c7c4"/><stop offset="0.100" stop-color="#daaba8"/><stop offset="0.250" stop-color="#cf908b"/><stop offset="0.380" stop-color="#d29995"/><stop offset="0.472" stop-color="#e7cbc9"/><stop offset="0.542" stop-color="#f9f9f9"/><stop offset="0.602" stop-color="#c3cedd"/><stop offset="0.750" stop-color="#9fb1ca"/><stop offset="1.000" stop-color="#96a9c5"/></linearGradient><linearGradient id="j31"><stop offset="0.000" stop-color="#e3c3c1"/><stop offset="0.100" stop-color="#d8a6a2"/><stop offset="0.250" stop-color="#cd8985"/><stop offset="0.380" stop-color="#d0938e"/><stop offset="0.477" stop-color="#e5c8c6"/><stop offset="0.547" stop-color="#f9f9f9"/><stop offset="0.607" stop-color="#c1ccdc"/><stop offset="0.750" stop-color="#9caec9"/><stop offset="1.000" stop-color="#93a7c4"/></linearGradient><linearGradient id="j32"><stop offset="0.000" stop-color="#e6cac8"/><stop offset="0.100" stop-color="#dcb1ae"/><stop offset="0.250" stop-color="#d29894"/><stop offset="0.380" stop-color="#d5a09c"/><stop offset="0.506" stop-color="#e8cfcd"/><stop offset="0.576" stop-color="#f9f9f9"/><stop offset="0.636" stop-color="#becada"/><stop offset="0.750" stop-color="#97aac6"/><stop offset="1.000" stop-color="#8da2c1"/></linearGradient><linearGradient id="j33"><stop offset="0.000" stop-color="#e3c3c1"/><stop offset="0.100" stop-color="#d8a6a2"/><stop offset="0.250" stop-color="#cd8985"/><stop offset="0.380" stop-color="#d0938f"/><stop offset="0.516" stop-color="#e5c8c6"/><stop offset="0.586" stop-color="#f9f9f9"/><stop offset="0.646" stop-color="#bdc9da"/><stop offset="0.750" stop-color="#96a9c5"/><stop offset="1.000" stop-color="#8ca1c0"/></linearGradient><linearGradient id="j34"><stop offset="0.000" stop-color="#e5c7c4"/><stop offset="0.100" stop-color="#daaba8"/><stop offset="0.250" stop-color="#cf908c"/><stop offset="0.380" stop-color="#d39995"/><stop offset="0.504" stop-color="#e7cbc9"/><stop offset="0.574" stop-color="#f9f9f9"/><stop offset="0.634" stop-color="#afbed3"/><stop offset="0.750" stop-color="#7f97b9"/><stop offset="1.000" stop-color="#7690b3"/></linearGradient><linearGradient id="j35"><stop offset="0.000" stop-color="#e8cecc"/><stop offset="0.100" stop-color="#deb6b3"/><stop offset="0.250" stop-color="#d49e9a"/><stop offset="0.380" stop-color="#d8a6a2"/><stop offset="0.480" stop-color="#e9d2d0"/><stop offset="0.550" stop-color="#f9f9f9"/><stop offset="0.610" stop-color="#b4c2d5"/><stop offset="0.750" stop-color="#879dbd"/><stop offset="1.000" stop-color="#7c95b8"/></linearGradient><linearGradient id="j36"><stop offset="0.000" stop-color="#e9d1d0"/><stop offset="0.100" stop-color="#e0bcb9"/><stop offset="0.250" stop-color="#d8a6a2"/><stop offset="0.380" stop-color="#dbadaa"/><stop offset="0.471" stop-color="#ead5d3"/><stop offset="0.541" stop-color="#f9f9f9"/><stop offset="0.601" stop-color="#afbdd2"/><stop offset="0.750" stop-color="#7e96b9"/><stop offset="1.000" stop-color="#758fb2"/></linearGradient><linearGradient id="j37"><stop offset="0.000" stop-color="#e8cfce"/><stop offset="0.100" stop-color="#dfb9b6"/><stop offset="0.250" stop-color="#d6a29e"/><stop offset="0.380" stop-color="#d9aaa6"/><stop offset="0.484" stop-color="#ead3d2"/><stop offset="0.554" stop-color="#f9f9f9"/><stop offset="0.614" stop-color="#acbcd1"/><stop offset="0.750" stop-color="#7b94b7"/><stop offset="1.000" stop-color="#728db1"/></linearGradient><linearGradient id="j38"><stop offset="0.000" stop-color="#ecd8d7"/><stop offset="0.100" stop-color="#e5c6c4"/><stop offset="0.250" stop-color="#ddb4b1"/><stop offset="0.380" stop-color="#e0bab7"/><stop offset="0.493" stop-color="#eddbda"/><stop offset="0.563" stop-color="#f9f9f9"/><stop offset="0.623" stop-color="#b6c3d6"/><stop offset="0.750" stop-color="#8aa0bf"/><stop offset="1.000" stop-color="#7f97b9"/></linearGradient><linearGradient id="j39"><stop offset="0.000" stop-color="#ebd5d4"/><stop offset="0.100" stop-color="#e3c2c0"/><stop offset="0.250" stop-color="#dbafab"/><stop offset="0.380" stop-color="#deb5b2"/><stop offset="0.483" stop-color="#ecd9d7"/><stop offset="0.553" stop-color="#f9f9f9"/><stop offset="0.613" stop-color="#b1c0d4"/><stop offset="0.750" stop-color="#8299bb"/><stop offset="1.000" stop-color="#7992b5"/></linearGradient><linearGradient id="j40"><stop offset="0.000" stop-color="#ead3d2"/><stop offset="0.100" stop-color="#e2bfbc"/><stop offset="0.250" stop-color="#d9aaa7"/><stop offset="0.380" stop-color="#dcb1ae"/><stop offset="0.488" stop-color="#ebd7d5"/><stop offset="0.558" stop-color="#f9f9f9"/><stop offset="0.618" stop-color="#b1bfd4"/><stop offset="0.750" stop-color="#8199bb"/><stop offset="1.000" stop-color="#7892b5"/></linearGradient><linearGradient id="j41"><stop offset="0.000" stop-color="#e6c9c7"/><stop offset="0.100" stop-color="#dbafac"/><stop offset="0.250" stop-color="#d19591"/><stop offset="0.380" stop-color="#d49e9a"/><stop offset="0.499" stop-color="#e8cecc"/><stop offset="0.569" stop-color="#f9f9f9"/><stop offset="0.629" stop-color="#b5c2d5"/><stop offset="0.750" stop-color="#879ebe"/><stop offset="1.000" stop-color="#7d95b8"/></linearGradient><linearGradient id="j42"><stop offset="0.000" stop-color="#ebd5d4"/><stop offset="0.100" stop-color="#e3c2c0"/><stop offset="0.250" stop-color="#dbafab"/><stop offset="0.380" stop-color="#deb5b2"/><stop offset="0.495" stop-color="#ecd9d7"/><stop offset="0.565" stop-color="#f9f9f9"/><stop offset="0.625" stop-color="#cbd4e1"/><stop offset="0.750" stop-color="#acbbd1"/><stop offset="1.000" stop-color="#a4b5cd"/></linearGradient><linearGradient id="j43"><stop offset="0.000" stop-color="#ebd7d6"/><stop offset="0.100" stop-color="#e4c5c3"/><stop offset="0.250" stop-color="#ddb2af"/><stop offset="0.380" stop-color="#dfb9b6"/><stop offset="0.499" stop-color="#eddad9"/><stop offset="0.569" stop-color="#f9f9f9"/><stop offset="0.629" stop-color="#c4cfde"/><stop offset="0.750" stop-color="#a1b3cb"/><stop offset="1.000" stop-color="#99acc7"/></linearGradient><linearGradient id="j44"><stop offset="0.000" stop-color="#ecd8d7"/><stop offset="0.100" stop-color="#e5c7c4"/><stop offset="0.250" stop-color="#deb5b2"/><stop offset="0.380" stop-color="#e0bbb8"/><stop offset="0.480" stop-color="#eddbda"/><stop offset="0.550" stop-color="#f9f9f9"/><stop offset="0.610" stop-color="#bcc8d9"/><stop offset="0.750" stop-color="#93a7c4"/><stop offset="1.000" stop-color="#889fbe"/></linearGradient><linearGradient id="j45"><stop offset="0.000" stop-color="#eddad9"/><stop offset="0.100" stop-color="#e6c9c7"/><stop offset="0.250" stop-color="#dfb9b6"/><stop offset="0.380" stop-color="#e1bebc"/><stop offset="0.478" stop-color="#eedddc"/><stop offset="0.548" stop-color="#f9f9f9"/><stop offset="0.608" stop-color="#c5cfde"/><stop offset="0.750" stop-color="#a2b3cc"/><stop offset="1.000" stop-color="#9aacc7"/></linearGradient><linearGradient id="j46"><stop offset="0.000" stop-color="#486c95"/><stop offset="0.026" stop-color="#8da2c1"/><stop offset="0.076" stop-color="#f3f4f6"/><stop offset="0.136" stop-color="#eededc"/><stop offset="0.216" stop-color="#e0bab8"/><stop offset="0.350" stop-color="#daaba7"/><stop offset="0.480" stop-color="#deb6b4"/><stop offset="0.584" stop-color="#eededc"/><stop offset="0.664" stop-color="#f9f9f9"/><stop offset="0.744" stop-color="#b9c5d7"/><stop offset="0.880" stop-color="#708baf"/><stop offset="1.000" stop-color="#6784aa"/></linearGradient><linearGradient id="j47"><stop offset="0.000" stop-color="#5979a0"/><stop offset="0.035" stop-color="#99acc7"/><stop offset="0.085" stop-color="#f3f4f6"/><stop offset="0.145" stop-color="#eddcdb"/><stop offset="0.225" stop-color="#dfb7b4"/><stop offset="0.350" stop-color="#d8a7a3"/><stop offset="0.480" stop-color="#ddb3b0"/><stop offset="0.591" stop-color="#eddcdb"/><stop offset="0.671" stop-color="#f9f9f9"/><stop offset="0.751" stop-color="#aabad0"/><stop offset="0.880" stop-color="#58789f"/><stop offset="1.000" stop-color="#4e7099"/></linearGradient><linearGradient id="j48"><stop offset="0.000" stop-color="#7b94b6"/><stop offset="0.026" stop-color="#b2c0d4"/><stop offset="0.076" stop-color="#f3f4f6"/><stop offset="0.136" stop-color="#eededd"/><stop offset="0.216" stop-color="#e0bbb8"/><stop offset="0.350" stop-color="#daaba8"/><stop offset="0.480" stop-color="#deb7b4"/><stop offset="0.611" stop-color="#eededd"/><stop offset="0.691" stop-color="#f9f9f9"/><stop offset="0.771" stop-color="#b2c0d4"/><stop offset="0.880" stop-color="#6583a8"/><stop offset="1.000" stop-color="#5c7ba2"/></linearGradient><linearGradient id="j49"><stop offset="0.000" stop-color="#7791b4"/><stop offset="0.046" stop-color="#b0bed3"/><stop offset="0.096" stop-color="#f3f4f6"/><stop offset="0.156" stop-color="#eededd"/><stop offset="0.236" stop-color="#e0bbb9"/><stop offset="0.350" stop-color="#daaca9"/><stop offset="0.480" stop-color="#dfb8b5"/><stop offset="0.599" stop-color="#eededd"/><stop offset="0.679" stop-color="#f9f9f9"/><stop offset="0.759" stop-color="#b2c0d4"/><stop offset="0.880" stop-color="#6582a8"/><stop offset="1.000" stop-color="#5b7ba2"/></linearGradient><linearGradient id="j50"><stop offset="0.000" stop-color="#5878a0"/><stop offset="0.041" stop-color="#99acc7"/><stop offset="0.091" stop-color="#f3f4f6"/><stop offset="0.151" stop-color="#ebd6d5"/><stop offset="0.231" stop-color="#d9a9a6"/><stop offset="0.350" stop-color="#d19691"/><stop offset="0.480" stop-color="#d7a4a1"/><stop offset="0.590" stop-color="#ebd6d5"/><stop offset="0.670" stop-color="#f9f9f9"/><stop offset="0.750" stop-color="#b3c1d5"/><stop offset="0.880" stop-color="#6784aa"/><stop offset="1.000" stop-color="#5e7da4"/></linearGradient><linearGradient id="j51"><stop offset="0.000" stop-color="#385f8a"/><stop offset="0.072" stop-color="#8198ba"/><stop offset="0.122" stop-color="#f3f4f6"/><stop offset="0.182" stop-color="#ecd9d8"/><stop offset="0.262" stop-color="#dcb1ae"/><stop offset="0.350" stop-color="#d59f9b"/><stop offset="0.480" stop-color="#daaca9"/><stop offset="0.602" stop-color="#ecd9d8"/><stop offset="0.682" stop-color="#f9f9f9"/><stop offset="0.762" stop-color="#aebdd2"/><stop offset="0.880" stop-color="#5e7da3"/><stop offset="1.000" stop-color="#54759d"/></linearGradient><linearGradient id="j52"><stop offset="0.000" stop-color="#3f648f"/><stop offset="0.068" stop-color="#859cbd"/><stop offset="0.118" stop-color="#f3f4f6"/><stop offset="0.178" stop-color="#ecd9d7"/><stop offset="0.258" stop-color="#dbafac"/><stop offset="0.350" stop-color="#d49c98"/><stop offset="0.480" stop-color="#d9aaa7"/><stop offset="0.587" stop-color="#ecd9d7"/><stop offset="0.667" stop-color="#f9f9f9"/><stop offset="0.747" stop-color="#b4c1d5"/><stop offset="0.880" stop-color="#6885aa"/><stop offset="1.000" stop-color="#5f7da4"/></linearGradient><linearGradient id="j53"><stop offset="0.000" stop-color="#4d7099"/><stop offset="0.059" stop-color="#91a5c3"/><stop offset="0.109" stop-color="#f3f4f6"/><stop offset="0.169" stop-color="#eddad9"/><stop offset="0.249" stop-color="#ddb3b0"/><stop offset="0.350" stop-color="#d6a29e"/><stop offset="0.480" stop-color="#dbafab"/><stop offset="0.592" stop-color="#eddad9"/><stop offset="0.672" stop-color="#f9f9f9"/><stop offset="0.752" stop-color="#adbcd1"/><stop offset="0.880" stop-color="#5c7ba2"/><stop offset="1.000" stop-color="#52739c"/></linearGradient><linearGradient id="j54"><stop offset="0.000" stop-color="#51729b"/><stop offset="0.073" stop-color="#93a7c4"/><stop offset="0.123" stop-color="#f3f4f6"/><stop offset="0.183" stop-color="#ebd6d4"/><stop offset="0.263" stop-color="#d9a9a6"/><stop offset="0.350" stop-color="#d19591"/><stop offset="0.480" stop-color="#d7a4a0"/><stop offset="0.611" stop-color="#ebd6d4"/><stop offset="0.691" stop-color="#f9f9f9"/><stop offset="0.771" stop-color="#a9b9cf"/><stop offset="0.880" stop-color="#56779e"/><stop offset="1.000" stop-color="#4c6e97"/></linearGradient><linearGradient id="j55"><stop offset="0.000" stop-color="#6683a9"/><stop offset="0.049" stop-color="#a3b4cc"/><stop offset="0.099" stop-color="#f3f4f6"/><stop offset="0.159" stop-color="#ebd7d6"/><stop offset="0.239" stop-color="#daaca9"/><stop offset="0.350" stop-color="#d29995"/><stop offset="0.480" stop-color="#d8a7a4"/><stop offset="0.613" stop-color="#ebd7d6"/><stop offset="0.693" stop-color="#f9f9f9"/><stop offset="0.773" stop-color="#a5b6cd"/><stop offset="0.880" stop-color="#50719a"/><stop offset="1.000" stop-color="#456993"/></linearGradient><linearGradient id="j56"><stop offset="0.000" stop-color="#5d7ca3"/><stop offset="0.070" stop-color="#9dafc9"/><stop offset="0.120" stop-color="#f3f4f6"/><stop offset="0.180" stop-color="#ebd7d6"/><stop offset="0.260" stop-color="#daaba8"/><stop offset="0.350" stop-color="#d29894"/><stop offset="0.480" stop-color="#d8a6a3"/><stop offset="0.609" stop-color="#ebd7d6"/><stop offset="0.689" stop-color="#f9f9f9"/><stop offset="0.769" stop-color="#a0b2cb"/><stop offset="0.880" stop-color="#486c95"/><stop offset="1.000" stop-color="#3d628d"/></linearGradient><linearGradient id="j57"><stop offset="0.000" stop-color="#56779e"/><stop offset="0.062" stop-color="#97abc6"/><stop offset="0.112" stop-color="#f3f4f6"/><stop offset="0.172" stop-color="#ebd7d6"/><stop offset="0.252" stop-color="#daaca8"/><stop offset="0.350" stop-color="#d29894"/><stop offset="0.480" stop-color="#d8a7a3"/><stop offset="0.595" stop-color="#ebd7d6"/><stop offset="0.675" stop-color="#f9f9f9"/><stop offset="0.755" stop-color="#a9b9cf"/><stop offset="0.880" stop-color="#56769e"/><stop offset="1.000" stop-color="#4b6e97"/></linearGradient><linearGradient id="j58"><stop offset="0.000" stop-color="#6985ab"/><stop offset="0.064" stop-color="#a5b6cd"/><stop offset="0.114" stop-color="#f3f4f6"/><stop offset="0.174" stop-color="#eddad9"/><stop offset="0.254" stop-color="#ddb3b0"/><stop offset="0.350" stop-color="#d6a29e"/><stop offset="0.480" stop-color="#dbafac"/><stop offset="0.575" stop-color="#eddad9"/><stop offset="0.655" stop-color="#f9f9f9"/><stop offset="0.735" stop-color="#a5b6cd"/><stop offset="0.880" stop-color="#4f719a"/><stop offset="1.000" stop-color="#446993"/></linearGradient><linearGradient id="j59"><stop offset="0.000" stop-color="#56769e"/><stop offset="0.047" stop-color="#97aac6"/><stop offset="0.097" stop-color="#f3f4f6"/><stop offset="0.157" stop-color="#eededd"/><stop offset="0.237" stop-color="#e0bcb9"/><stop offset="0.350" stop-color="#daada9"/><stop offset="0.480" stop-color="#dfb8b5"/><stop offset="0.578" stop-color="#eededd"/><stop offset="0.658" stop-color="#f9f9f9"/><stop offset="0.738" stop-color="#a1b3cb"/><stop offset="0.880" stop-color="#496c96"/><stop offset="1.000" stop-color="#3e638e"/></linearGradient><linearGradient id="j60"><stop offset="0.000" stop-color="#4b6e97"/><stop offset="0.053" stop-color="#8fa4c2"/><stop offset="0.103" stop-color="#f3f4f6"/><stop offset="0.163" stop-color="#eddcdb"/><stop offset="0.243" stop-color="#dfb7b5"/><stop offset="0.350" stop-color="#d8a7a3"/><stop offset="0.480" stop-color="#ddb3b0"/><stop offset="0.569" stop-color="#eddcdb"/><stop offset="0.649" stop-color="#f9f9f9"/><stop offset="0.729" stop-color="#a4b5cd"/><stop offset="0.880" stop-color="#4f7199"/><stop offset="1.000" stop-color="#446892"/></linearGradient><linearGradient id="j61"><stop offset="0.000" stop-color="#5979a0"/><stop offset="0.047" stop-color="#9aadc7"/><stop offset="0.097" stop-color="#f3f4f6"/><stop offset="0.157" stop-color="#eddbda"/><stop offset="0.237" stop-color="#deb5b3"/><stop offset="0.350" stop-color="#d7a5a1"/><stop offset="0.480" stop-color="#dcb1ae"/><stop offset="0.582" stop-color="#eddbda"/><stop offset="0.662" stop-color="#f9f9f9"/><stop offset="0.742" stop-color="#adbcd2"/><stop offset="0.880" stop-color="#5e7da3"/><stop offset="1.000" stop-color="#54759d"/></linearGradient><linearGradient id="j62"><stop offset="0.000" stop-color="#6f8baf"/><stop offset="0.071" stop-color="#aabad0"/><stop offset="0.121" stop-color="#f3f4f6"/><stop offset="0.181" stop-color="#ecd9d7"/><stop offset="0.261" stop-color="#dbafac"/><stop offset="0.350" stop-color="#d49c98"/><stop offset="0.480" stop-color="#d9aaa7"/><stop offset="0.563" stop-color="#ecd9d7"/><stop offset="0.643" stop-color="#f9f9f9"/><stop offset="0.723" stop-color="#b2c0d4"/><stop offset="0.880" stop-color="#6583a8"/><stop offset="1.000" stop-color="#5c7ba2"/></linearGradient><linearGradient id="j63"><stop offset="0.000" stop-color="#7e96b8"/><stop offset="0.058" stop-color="#b5c2d5"/><stop offset="0.108" stop-color="#f3f4f6"/><stop offset="0.168" stop-color="#ebd7d6"/><stop offset="0.248" stop-color="#daaca9"/><stop offset="0.350" stop-color="#d39995"/><stop offset="0.480" stop-color="#d8a7a4"/><stop offset="0.570" stop-color="#ebd7d6"/><stop offset="0.650" stop-color="#f9f9f9"/><stop offset="0.730" stop-color="#becadb"/><stop offset="0.880" stop-color="#7993b6"/><stop offset="1.000" stop-color="#728db1"/></linearGradient><linearGradient id="j64"><stop offset="0.000" stop-color="#99acc7"/><stop offset="0.058" stop-color="#c4cedd"/><stop offset="0.108" stop-color="#f3f4f6"/><stop offset="0.168" stop-color="#ebd7d5"/><stop offset="0.248" stop-color="#d9aaa7"/><stop offset="0.350" stop-color="#d29793"/><stop offset="0.480" stop-color="#d7a5a2"/><stop offset="0.552" stop-color="#ebd7d5"/><stop offset="0.632" stop-color="#f9f9f9"/><stop offset="0.712" stop-color="#c1ccdc"/><stop offset="0.880" stop-color="#7d95b8"/><stop offset="1.000" stop-color="#7590b3"/></linearGradient><linearGradient id="j65"><stop offset="0.000" stop-color="#617fa5"/><stop offset="0.056" stop-color="#9fb1ca"/><stop offset="0.106" stop-color="#f3f4f6"/><stop offset="0.166" stop-color="#ebd5d4"/><stop offset="0.246" stop-color="#d8a7a3"/><stop offset="0.350" stop-color="#d0938e"/><stop offset="0.480" stop-color="#d6a29e"/><stop offset="0.568" stop-color="#ebd5d4"/><stop offset="0.648" stop-color="#f9f9f9"/><stop offset="0.728" stop-color="#b5c2d5"/><stop offset="0.880" stop-color="#6986ab"/><stop offset="1.000" stop-color="#607fa5"/></linearGradient><linearGradient id="j66"><stop offset="0.000" stop-color="#c67672"/><stop offset="0.100" stop-color="#d29792"/><stop offset="0.300" stop-color="#e1bebb"/><stop offset="0.480" stop-color="#eedfde"/><stop offset="0.462" stop-color="#f9f9f9"/><stop offset="0.582" stop-color="#9dafc9"/><stop offset="0.920" stop-color="#305885"/><stop offset="1.000" stop-color="#305885"/></linearGradient><linearGradient id="j67"><stop offset="0.000" stop-color="#c5736e"/><stop offset="0.100" stop-color="#d19490"/><stop offset="0.300" stop-color="#e1bcba"/><stop offset="0.480" stop-color="#eededd"/><stop offset="0.474" stop-color="#f9f9f9"/><stop offset="0.594" stop-color="#9eb0ca"/><stop offset="0.920" stop-color="#325986"/><stop offset="1.000" stop-color="#325986"/></linearGradient><linearGradient id="j68"><stop offset="0.000" stop-color="#c77975"/><stop offset="0.100" stop-color="#ddb2af"/><stop offset="0.220" stop-color="#f5f0ef"/><stop offset="0.350" stop-color="#dbe1e9"/><stop offset="0.500" stop-color="#d5dce6"/><stop offset="0.620" stop-color="#edeff3"/><stop offset="0.700" stop-color="#f9f9f9"/><stop offset="0.800" stop-color="#a6b6ce"/><stop offset="0.920" stop-color="#406590"/><stop offset="1.000" stop-color="#406590"/></linearGradient><linearGradient id="j69"><stop offset="0.000" stop-color="#c36e69"/><stop offset="0.100" stop-color="#daaca9"/><stop offset="0.220" stop-color="#f5f0ef"/><stop offset="0.350" stop-color="#dbe1e9"/><stop offset="0.500" stop-color="#d5dce6"/><stop offset="0.620" stop-color="#edeff3"/><stop offset="0.700" stop-color="#f9f9f9"/><stop offset="0.800" stop-color="#a8b8cf"/><stop offset="0.920" stop-color="#446892"/><stop offset="1.000" stop-color="#446892"/></linearGradient><linearGradient id="j70"><stop offset="0.000" stop-color="#c26b66"/><stop offset="0.100" stop-color="#d9aaa7"/><stop offset="0.220" stop-color="#f5f0ef"/><stop offset="0.350" stop-color="#dbe1e9"/><stop offset="0.500" stop-color="#d5dce6"/><stop offset="0.620" stop-color="#edeff3"/><stop offset="0.700" stop-color="#f9f9f9"/><stop offset="0.800" stop-color="#afbdd2"/><stop offset="0.920" stop-color="#50729a"/><stop offset="1.000" stop-color="#50729a"/></linearGradient><linearGradient id="j71"><stop offset="0.000" stop-color="#c06762"/><stop offset="0.100" stop-color="#d8a8a4"/><stop offset="0.220" stop-color="#f5f0ef"/><stop offset="0.350" stop-color="#dbe1e9"/><stop offset="0.500" stop-color="#d5dce6"/><stop offset="0.620" stop-color="#edeff3"/><stop offset="0.700" stop-color="#f9f9f9"/><stop offset="0.800" stop-color="#b0bed3"/><stop offset="0.920" stop-color="#52739b"/><stop offset="1.000" stop-color="#52739b"/></linearGradient><linearGradient id="j72"><stop offset="0.000" stop-color="#c06862"/><stop offset="0.100" stop-color="#ce8b87"/><stop offset="0.300" stop-color="#deb7b4"/><stop offset="0.480" stop-color="#eddcda"/><stop offset="0.484" stop-color="#f9f9f9"/><stop offset="0.604" stop-color="#9caec9"/><stop offset="0.920" stop-color="#2e5784"/><stop offset="1.000" stop-color="#2e5784"/></linearGradient><linearGradient id="j73"><stop offset="0.000" stop-color="#c16964"/><stop offset="0.100" stop-color="#ce8c88"/><stop offset="0.300" stop-color="#dfb8b5"/><stop offset="0.480" stop-color="#eddcdb"/><stop offset="0.517" stop-color="#f9f9f9"/><stop offset="0.637" stop-color="#a4b5cd"/><stop offset="0.920" stop-color="#3d638e"/><stop offset="1.000" stop-color="#3d638e"/></linearGradient><linearGradient id="j74"><stop offset="0.000" stop-color="#ce8c88"/><stop offset="0.100" stop-color="#d8a7a4"/><stop offset="0.300" stop-color="#e5c8c6"/><stop offset="0.480" stop-color="#f0e3e2"/><stop offset="0.571" stop-color="#f9f9f9"/><stop offset="0.691" stop-color="#a0b2cb"/><stop offset="0.920" stop-color="#365d89"/><stop offset="1.000" stop-color="#365d89"/></linearGradient><linearGradient id="j75"><stop offset="0.000" stop-color="#c97e79"/><stop offset="0.100" stop-color="#d49c98"/><stop offset="0.300" stop-color="#e3c1bf"/><stop offset="0.480" stop-color="#efe0df"/><stop offset="0.608" stop-color="#f9f9f9"/><stop offset="0.728" stop-color="#9cafc9"/><stop offset="0.920" stop-color="#2f5784"/><stop offset="1.000" stop-color="#2f5784"/></linearGradient><linearGradient id="j76"><stop offset="0.000" stop-color="#c67772"/><stop offset="0.100" stop-color="#d29793"/><stop offset="0.300" stop-color="#e1bebc"/><stop offset="0.480" stop-color="#eedfde"/><stop offset="0.620" stop-color="#f9f9f9"/><stop offset="0.740" stop-color="#a2b3cc"/><stop offset="0.920" stop-color="#395f8b"/><stop offset="1.000" stop-color="#395f8b"/></linearGradient><linearGradient id="j77"><stop offset="0.000" stop-color="#c4716c"/><stop offset="0.100" stop-color="#d0938e"/><stop offset="0.300" stop-color="#e0bbb9"/><stop offset="0.480" stop-color="#eededc"/><stop offset="0.605" stop-color="#f9f9f9"/><stop offset="0.725" stop-color="#a8b8cf"/><stop offset="0.920" stop-color="#436792"/><stop offset="1.000" stop-color="#436792"/></linearGradient><linearGradient id="j78"><stop offset="0.000" stop-color="#c26d68"/><stop offset="0.100" stop-color="#cf908b"/><stop offset="0.300" stop-color="#dfbab7"/><stop offset="0.480" stop-color="#eedddc"/><stop offset="0.618" stop-color="#f9f9f9"/><stop offset="0.738" stop-color="#9fb0ca"/><stop offset="0.920" stop-color="#335a87"/><stop offset="1.000" stop-color="#335a87"/></linearGradient><linearGradient id="j79"><stop offset="0.000" stop-color="#c87c77"/><stop offset="0.100" stop-color="#d39b97"/><stop offset="0.300" stop-color="#e2c0be"/><stop offset="0.480" stop-color="#efe0df"/><stop offset="0.570" stop-color="#f9f9f9"/><stop offset="0.690" stop-color="#a4b5cd"/><stop offset="0.920" stop-color="#3d638e"/><stop offset="1.000" stop-color="#3d638e"/></linearGradient><linearGradient id="j80"><stop offset="0.000" stop-color="#d29995"/><stop offset="0.100" stop-color="#dcb1ae"/><stop offset="0.300" stop-color="#e8cecc"/><stop offset="0.480" stop-color="#f1e6e5"/><stop offset="0.527" stop-color="#f9f9f9"/><stop offset="0.647" stop-color="#b0bed3"/><stop offset="0.920" stop-color="#52749c"/><stop offset="1.000" stop-color="#52749c"/></linearGradient><linearGradient id="j81"><stop offset="0.000" stop-color="#cd8a86"/><stop offset="0.100" stop-color="#d8a6a2"/><stop offset="0.300" stop-color="#e5c7c5"/><stop offset="0.480" stop-color="#f0e3e2"/><stop offset="0.553" stop-color="#f9f9f9"/><stop offset="0.673" stop-color="#b7c4d6"/><stop offset="0.920" stop-color="#5f7ea4"/><stop offset="1.000" stop-color="#5f7ea4"/></linearGradient><linearGradient id="j82"><stop offset="0.000" stop-color="#c9807b"/><stop offset="0.100" stop-color="#d49e9a"/><stop offset="0.300" stop-color="#e3c2c0"/><stop offset="0.480" stop-color="#efe1e0"/><stop offset="0.523" stop-color="#f9f9f9"/><stop offset="0.643" stop-color="#b2c0d4"/><stop offset="0.920" stop-color="#57779f"/><stop offset="1.000" stop-color="#57779f"/></linearGradient><linearGradient id="j83"><stop offset="0.000" stop-color="#c4736e"/><stop offset="0.100" stop-color="#d19490"/><stop offset="0.300" stop-color="#e1bcba"/><stop offset="0.480" stop-color="#eededd"/><stop offset="0.480" stop-color="#f9f9f9"/><stop offset="0.600" stop-color="#acbbd1"/><stop offset="0.920" stop-color="#4b6e97"/><stop offset="1.000" stop-color="#4b6e97"/></linearGradient><linearGradient id="j84"><stop offset="0.000" stop-color="#c26d68"/><stop offset="0.100" stop-color="#cf908b"/><stop offset="0.300" stop-color="#dfbab7"/><stop offset="0.480" stop-color="#eedddc"/><stop offset="0.514" stop-color="#f9f9f9"/><stop offset="0.634" stop-color="#a4b5cd"/><stop offset="0.920" stop-color="#3c628d"/><stop offset="1.000" stop-color="#3c628d"/></linearGradient><linearGradient id="j85"><stop offset="0.000" stop-color="#c67671"/><stop offset="0.100" stop-color="#d19692"/><stop offset="0.300" stop-color="#e1bdbb"/><stop offset="0.480" stop-color="#eedfdd"/><stop offset="0.532" stop-color="#f9f9f9"/><stop offset="0.652" stop-color="#9dafc9"/><stop offset="0.920" stop-color="#305885"/><stop offset="1.000" stop-color="#305885"/></linearGradient><linearGradient id="j86"><stop offset="0.000" stop-color="#c97f7b"/><stop offset="0.100" stop-color="#d49d99"/><stop offset="0.300" stop-color="#e3c2c0"/><stop offset="0.480" stop-color="#efe1df"/><stop offset="0.569" stop-color="#f9f9f9"/><stop offset="0.689" stop-color="#9baec8"/><stop offset="0.920" stop-color="#2d5683"/><stop offset="1.000" stop-color="#2d5683"/></linearGradient><linearGradient id="j87"><stop offset="0.000" stop-color="#4b6d97"/><stop offset="0.120" stop-color="#98abc7"/><stop offset="0.250" stop-color="#f9f9f9"/><stop offset="0.400" stop-color="#e6cbc9"/><stop offset="0.700" stop-color="#e3c2bf"/><stop offset="1.000" stop-color="#e5c6c4"/></linearGradient><linearGradient id="j88"><stop offset="0.000" stop-color="#4b6d97"/><stop offset="0.120" stop-color="#98abc7"/><stop offset="0.250" stop-color="#f9f9f9"/><stop offset="0.400" stop-color="#e6cbc9"/><stop offset="0.700" stop-color="#e3c2bf"/><stop offset="1.000" stop-color="#e5c6c4"/></linearGradient><linearGradient id="j89"><stop offset="0.000" stop-color="#6e8aae"/><stop offset="0.150" stop-color="#bcc8da"/><stop offset="0.300" stop-color="#f9f9f9"/><stop offset="0.500" stop-color="#ecd9d7"/><stop offset="0.700" stop-color="#d8a6a3"/><stop offset="0.850" stop-color="#eedddc"/><stop offset="0.920" stop-color="#98abc7"/><stop offset="1.000" stop-color="#54749c"/></linearGradient><linearGradient id="j90"><stop offset="0.000" stop-color="#6e8aae"/><stop offset="0.150" stop-color="#bcc8da"/><stop offset="0.300" stop-color="#f9f9f9"/><stop offset="0.500" stop-color="#ecd9d7"/><stop offset="0.700" stop-color="#d8a6a3"/><stop offset="0.850" stop-color="#eedddc"/><stop offset="0.920" stop-color="#98abc7"/><stop offset="1.000" stop-color="#54749c"/></linearGradient></defs>
<rect x="230.8" y="685.30" width="187" height="2.91" fill="url(#j0)"/>
<rect x="230.8" y="687.86" width="187" height="2.91" fill="url(#j1)"/>
<rect x="230.8" y="690.42" width="187" height="2.91" fill="url(#j2)"/>
<rect x="230.8" y="692.99" width="187" height="2.91" fill="url(#j3)"/>
<rect x="230.8" y="695.55" width="187" height="2.91" fill="url(#j4)"/>
<rect x="230.8" y="698.11" width="187" height="2.91" fill="url(#j5)"/>
<rect x="230.8" y="700.67" width="187" height="2.91" fill="url(#j6)"/>
<rect x="230.8" y="703.23" width="187" height="2.91" fill="url(#j7)"/>
<rect x="230.8" y="705.80" width="187" height="2.91" fill="url(#j8)"/>
<rect x="230.8" y="708.36" width="187" height="2.91" fill="url(#j9)"/>
<rect x="230.8" y="710.92" width="187" height="2.91" fill="url(#j10)"/>
<rect x="230.8" y="713.48" width="187" height="2.91" fill="url(#j11)"/>
<rect x="230.8" y="716.05" width="187" height="2.91" fill="url(#j12)"/>
<rect x="230.8" y="718.61" width="187" height="2.91" fill="url(#j13)"/>
<rect x="230.8" y="721.17" width="187" height="2.91" fill="url(#j14)"/>
<rect x="230.8" y="723.73" width="187" height="2.91" fill="url(#j15)"/>
<rect x="230.8" y="726.29" width="187" height="2.91" fill="url(#j16)"/>
<rect x="230.8" y="728.86" width="187" height="2.91" fill="url(#j17)"/>
<rect x="230.8" y="731.42" width="187" height="2.91" fill="url(#j18)"/>
<rect x="230.8" y="733.98" width="187" height="2.91" fill="url(#j19)"/>
<rect x="230.8" y="736.54" width="187" height="2.91" fill="url(#j20)"/>
<rect x="230.8" y="739.10" width="187" height="2.91" fill="url(#j21)"/>
<rect x="230.8" y="741.67" width="187" height="2.91" fill="url(#j22)"/>
<rect x="230.8" y="744.23" width="187" height="2.91" fill="url(#j23)"/>
<rect x="230.8" y="746.79" width="187" height="2.91" fill="url(#j24)"/>
<rect x="230.8" y="749.35" width="187" height="2.91" fill="url(#j25)"/>
<rect x="230.8" y="751.92" width="187" height="2.91" fill="url(#j26)"/>
<rect x="230.8" y="754.48" width="187" height="2.91" fill="url(#j27)"/>
<rect x="230.8" y="757.04" width="187" height="2.91" fill="url(#j28)"/>
<rect x="230.8" y="759.60" width="187" height="2.91" fill="url(#j29)"/>
<rect x="230.8" y="762.16" width="187" height="2.91" fill="url(#j30)"/>
<rect x="230.8" y="764.73" width="187" height="2.91" fill="url(#j31)"/>
<rect x="230.8" y="767.29" width="187" height="2.91" fill="url(#j32)"/>
<rect x="230.8" y="769.85" width="187" height="2.91" fill="url(#j33)"/>
<rect x="230.8" y="772.41" width="187" height="2.91" fill="url(#j34)"/>
<rect x="230.8" y="774.97" width="187" height="2.91" fill="url(#j35)"/>
<rect x="230.8" y="777.54" width="187" height="2.91" fill="url(#j36)"/>
<rect x="230.8" y="780.10" width="187" height="2.91" fill="url(#j37)"/>
<rect x="230.8" y="782.66" width="187" height="2.91" fill="url(#j38)"/>
<rect x="230.8" y="785.22" width="187" height="2.91" fill="url(#j39)"/>
<rect x="230.8" y="787.78" width="187" height="2.91" fill="url(#j40)"/>
<rect x="230.8" y="790.35" width="187" height="2.91" fill="url(#j41)"/>
<rect x="230.8" y="792.91" width="187" height="2.91" fill="url(#j42)"/>
<rect x="230.8" y="795.47" width="187" height="2.91" fill="url(#j43)"/>
<rect x="230.8" y="798.03" width="187" height="2.91" fill="url(#j44)"/>
<rect x="230.8" y="800.60" width="187" height="2.91" fill="url(#j45)"/>
<rect x="230.8" y="803.16" width="187" height="2.91" fill="url(#j46)"/>
<rect x="230.8" y="805.72" width="187" height="2.91" fill="url(#j47)"/>
<rect x="230.8" y="808.28" width="187" height="2.91" fill="url(#j48)"/>
<rect x="230.8" y="810.84" width="187" height="2.91" fill="url(#j49)"/>
<rect x="230.8" y="813.41" width="187" height="2.91" fill="url(#j50)"/>
<rect x="230.8" y="815.97" width="187" height="2.91" fill="url(#j51)"/>
<rect x="230.8" y="818.53" width="187" height="2.91" fill="url(#j52)"/>
<rect x="230.8" y="821.09" width="187" height="2.91" fill="url(#j53)"/>
<rect x="230.8" y="823.65" width="187" height="2.91" fill="url(#j54)"/>
<rect x="230.8" y="826.22" width="187" height="2.91" fill="url(#j55)"/>
<rect x="230.8" y="828.78" width="187" height="2.91" fill="url(#j56)"/>
<rect x="230.8" y="831.34" width="187" height="2.91" fill="url(#j57)"/>
<rect x="230.8" y="833.90" width="187" height="2.91" fill="url(#j58)"/>
<rect x="230.8" y="836.47" width="187" height="2.91" fill="url(#j59)"/>
<rect x="230.8" y="839.03" width="187" height="2.91" fill="url(#j60)"/>
<rect x="230.8" y="841.59" width="187" height="2.91" fill="url(#j61)"/>
<rect x="230.8" y="844.15" width="187" height="2.91" fill="url(#j62)"/>
<rect x="230.8" y="846.71" width="187" height="2.91" fill="url(#j63)"/>
<rect x="230.8" y="849.28" width="187" height="2.91" fill="url(#j64)"/>
<rect x="230.8" y="851.84" width="187" height="2.91" fill="url(#j65)"/>
<rect x="230.8" y="856.90" width="187" height="2.90" fill="url(#j66)"/>
<rect x="230.8" y="859.45" width="187" height="2.90" fill="url(#j67)"/>
<rect x="230.8" y="862.00" width="187" height="2.90" fill="url(#j68)"/>
<rect x="230.8" y="864.54" width="187" height="2.90" fill="url(#j69)"/>
<rect x="230.8" y="867.09" width="187" height="2.90" fill="url(#j70)"/>
<rect x="230.8" y="869.64" width="187" height="2.90" fill="url(#j71)"/>
<rect x="230.8" y="872.19" width="187" height="2.90" fill="url(#j72)"/>
<rect x="230.8" y="874.73" width="187" height="2.90" fill="url(#j73)"/>
<rect x="230.8" y="877.28" width="187" height="2.90" fill="url(#j74)"/>
<rect x="230.8" y="879.83" width="187" height="2.90" fill="url(#j75)"/>
<rect x="230.8" y="882.38" width="187" height="2.90" fill="url(#j76)"/>
<rect x="230.8" y="884.92" width="187" height="2.90" fill="url(#j77)"/>
<rect x="230.8" y="887.47" width="187" height="2.90" fill="url(#j78)"/>
<rect x="230.8" y="890.02" width="187" height="2.90" fill="url(#j79)"/>
<rect x="230.8" y="892.57" width="187" height="2.90" fill="url(#j80)"/>
<rect x="230.8" y="895.11" width="187" height="2.90" fill="url(#j81)"/>
<rect x="230.8" y="897.66" width="187" height="2.90" fill="url(#j82)"/>
<rect x="230.8" y="900.21" width="187" height="2.90" fill="url(#j83)"/>
<rect x="230.8" y="902.76" width="187" height="2.90" fill="url(#j84)"/>
<rect x="230.8" y="905.30" width="187" height="2.90" fill="url(#j85)"/>
<rect x="230.8" y="907.85" width="187" height="2.90" fill="url(#j86)"/>
<rect x="230.8" y="912.50" width="187" height="2.92" fill="url(#j87)"/>
<rect x="230.8" y="915.08" width="187" height="2.92" fill="url(#j88)"/>
<rect x="230.8" y="917.65" width="187" height="2.92" fill="url(#j89)"/>
<rect x="230.8" y="920.22" width="187" height="2.92" fill="url(#j90)"/>
<rect x="462" y="685.3" width="9.4" height="169.1" fill="#c4e2bf"/>
<rect x="462" y="856.9" width="9.4" height="53.5" fill="#a066b4"/>
<rect x="462" y="912.5" width="9.4" height="10.3" fill="#5a7db5"/>
<text x="466.7" y="771.3" text-anchor="middle" fill="#fff" stroke="#fff" stroke-width="0.12" font-size="3.6" transform="rotate(-90 466.7 770)">n:66</text>
<text x="466.7" y="884.9" text-anchor="middle" fill="#fff" stroke="#fff" stroke-width="0.12" font-size="3.6" transform="rotate(-90 466.7 883.6)">n:21</text>
<text x="466.7" y="918.8" text-anchor="middle" fill="#fff" stroke="#fff" stroke-width="0.12" font-size="3.2" transform="rotate(-90 466.7 917.6)">n:4</text>
<path d="M471.4 685.3L480 747.8L480 790.4L471.4 854.4Z" fill="#f0f0f0"/>
<rect x="480" y="747.8" width="176.2" height="42.6" fill="#eeeeee"/>
<path d="M471.4 856.9L480 816L480 875.9L471.4 910.4Z" fill="#f0f0f0"/>
<rect x="480" y="816" width="176.2" height="59.9" fill="#eeeeee"/>
<path d="M471.4 912.5L480 879.2L480 923L471.4 922.8Z" fill="#f0f0f0"/>
<rect x="480" y="879.2" width="176.2" height="44" fill="#eeeeee"/>
<text x="483.2" y="756.1" fill="#86c77a" stroke="#86c77a" stroke-width="0.12" font-size="7.8">regulation of neuron projection development</text>
<text x="483.2" y="764.2" fill="#86c77a" stroke="#86c77a" stroke-width="0.12" font-size="7.8">extracellular matrix organization</text>
<text x="483.2" y="772.2" fill="#86c77a" stroke="#86c77a" stroke-width="0.12" font-size="7.8">extracellular structure organization</text>
<text x="483.2" y="780.3" fill="#86c77a" stroke="#86c77a" stroke-width="0.12" font-size="7.8">external encapsulating structure organization</text>
<text x="483.2" y="788.4" fill="#86c77a" stroke="#86c77a" stroke-width="0.12" font-size="7.8">cell−matrix adhesion</text>
<text x="483.2" y="824.7" fill="#7b2a8e" stroke="#7b2a8e" stroke-width="0.12" font-size="7.8">collagen−activated tyrosine kinase receptor</text>
<text x="483.2" y="832.8" fill="#7b2a8e" stroke="#7b2a8e" stroke-width="0.12" font-size="7.8">signaling pathway</text>
<text x="483.2" y="841" fill="#7b2a8e" stroke="#7b2a8e" stroke-width="0.12" font-size="7.8">positive regulation of extrinsic apoptotic signaling</text>
<text x="483.2" y="849.1" fill="#7b2a8e" stroke="#7b2a8e" stroke-width="0.12" font-size="7.8">pathway via death domain receptors</text>
<text x="483.2" y="857.3" fill="#7b2a8e" stroke="#7b2a8e" stroke-width="0.12" font-size="7.8">collagen−activated signaling pathway</text>
<text x="483.2" y="865.4" fill="#7b2a8e" stroke="#7b2a8e" stroke-width="0.12" font-size="7.8">post−embryonic animal organ development</text>
<text x="483.2" y="873.6" fill="#7b2a8e" stroke="#7b2a8e" stroke-width="0.12" font-size="7.8">extracellular matrix organization</text>
<text x="483.2" y="888.2" fill="#5b80b8" stroke="#5b80b8" stroke-width="0.12" font-size="7.8">extracellular matrix organization</text>
<text x="483.2" y="896.3" fill="#5b80b8" stroke="#5b80b8" stroke-width="0.12" font-size="7.8">extracellular structure organization</text>
<text x="483.2" y="904.3" fill="#5b80b8" stroke="#5b80b8" stroke-width="0.12" font-size="7.8">external encapsulating structure organization</text>
<text x="483.2" y="912.4" fill="#5b80b8" stroke="#5b80b8" stroke-width="0.12" font-size="7.8">muscle cell differentiation</text>
<text x="483.2" y="920.5" fill="#5b80b8" stroke="#5b80b8" stroke-width="0.12" font-size="7.8">regulation of basement membrane organization</text>
<text x="659.4" y="796.1" font-weight="bold" fill="#111" font-size="6.5">Z−score</text>
<defs><linearGradient id="gZ" x1="0" x2="0" y1="1" y2="0"><stop offset="0.000" stop-color="#27517f"/><stop offset="0.250" stop-color="#8098ba"/><stop offset="0.500" stop-color="#f9f9f9"/><stop offset="0.750" stop-color="#d49d99"/><stop offset="1.000" stop-color="#b3433d"/></linearGradient></defs>
<rect x="659.1" y="799" width="7.9" height="38.9" fill="url(#gZ)"/>
<text x="668.8" y="802.9" fill="#222" stroke="#222" stroke-width="0.12" font-size="5.6">2</text>
<text x="668.8" y="811.7" fill="#222" stroke="#222" stroke-width="0.12" font-size="5.6">1</text>
<line x1="659.1" y1="809.7" x2="660.4" y2="809.7" stroke="#fff" stroke-width="0.5"/>
<line x1="665.7" y1="809.7" x2="667" y2="809.7" stroke="#fff" stroke-width="0.5"/>
<text x="668.8" y="820.8" fill="#222" stroke="#222" stroke-width="0.12" font-size="5.6">0</text>
<line x1="659.1" y1="818.8" x2="660.4" y2="818.8" stroke="#fff" stroke-width="0.5"/>
<line x1="665.7" y1="818.8" x2="667" y2="818.8" stroke="#fff" stroke-width="0.5"/>
<text x="668.8" y="829.9" fill="#222" stroke="#222" stroke-width="0.12" font-size="5.6">−1</text>
<line x1="659.1" y1="827.9" x2="660.4" y2="827.9" stroke="#fff" stroke-width="0.5"/>
<line x1="665.7" y1="827.9" x2="667" y2="827.9" stroke="#fff" stroke-width="0.5"/>
<text x="668.8" y="838.6" fill="#222" stroke="#222" stroke-width="0.12" font-size="5.6">−2</text>
<text x="428.9" y="691" fill="#b5dbae" font-style="italic" font-size="6.3">MIR100HG</text>
<path d="M419.2 691.7h1.6C423.2 691.7 423.2 688.7 425.2 688.7h1.6" fill="none" stroke="#333" stroke-width="0.6"/>
<text x="428.9" y="697.4" fill="#b5dbae" font-style="italic" font-size="6.3">LAMC3</text>
<path d="M419.2 693.1h1.6C423.2 693.1 423.2 695.1 425.2 695.1h1.6" fill="none" stroke="#333" stroke-width="0.6"/>
<text x="428.9" y="703.8" fill="#b5dbae" font-style="italic" font-size="6.3">CELF2</text>
<path d="M419.2 704.6h1.6C423.2 704.6 423.2 701.6 425.2 701.6h1.6" fill="none" stroke="#333" stroke-width="0.6"/>
<text x="428.9" y="710.3" fill="#b5dbae" font-style="italic" font-size="6.3">BICC1</text>
<path d="M419.2 705h1.6C423.2 705 423.2 708 425.2 708h1.6" fill="none" stroke="#333" stroke-width="0.6"/>
<text x="428.9" y="716.7" fill="#b5dbae" font-style="italic" font-size="6.3">LMCD1</text>
<path d="M419.2 712.4h1.6C423.2 712.4 423.2 714.4 425.2 714.4h1.6" fill="none" stroke="#333" stroke-width="0.6"/>
<text x="428.9" y="723.1" fill="#b5dbae" font-style="italic" font-size="6.3">SCN7A</text>
<path d="M419.2 720.9h1.6C423.2 720.9 423.2 720.9 425.2 720.9h1.6" fill="none" stroke="#333" stroke-width="0.6"/>
<text x="428.9" y="729.5" fill="#b5dbae" font-style="italic" font-size="6.3">NAV2</text>
<path d="M419.2 730.3h1.6C423.2 730.3 423.2 727.3 425.2 727.3h1.6" fill="none" stroke="#333" stroke-width="0.6"/>
<text x="428.9" y="736" fill="#b5dbae" font-style="italic" font-size="6.3">ROR2</text>
<path d="M419.2 736.7h1.6C423.2 736.7 423.2 733.7 425.2 733.7h1.6" fill="none" stroke="#333" stroke-width="0.6"/>
<text x="428.9" y="742.4" fill="#b5dbae" font-style="italic" font-size="6.3">CYP7B1</text>
<path d="M419.2 740.1h1.6C423.2 740.1 423.2 740.1 425.2 740.1h1.6" fill="none" stroke="#333" stroke-width="0.6"/>
<text x="428.9" y="748.8" fill="#b5dbae" font-style="italic" font-size="6.3">DEPTOR</text>
<path d="M419.2 743.6h1.6C423.2 743.6 423.2 746.6 425.2 746.6h1.6" fill="none" stroke="#333" stroke-width="0.6"/>
<text x="428.9" y="755.3" fill="#b5dbae" font-style="italic" font-size="6.3">C7</text>
<path d="M419.2 750h1.6C423.2 750 423.2 753 425.2 753h1.6" fill="none" stroke="#333" stroke-width="0.6"/>
<text x="428.9" y="761.7" fill="#b5dbae" font-style="italic" font-size="6.3">PLCXD3</text>
<path d="M419.2 757.4h1.6C423.2 757.4 423.2 759.4 425.2 759.4h1.6" fill="none" stroke="#333" stroke-width="0.6"/>
<text x="428.9" y="768.1" fill="#b5dbae" font-style="italic" font-size="6.3">CDH11</text>
<path d="M419.2 768.9h1.6C423.2 768.9 423.2 765.9 425.2 765.9h1.6" fill="none" stroke="#333" stroke-width="0.6"/>
<text x="428.9" y="774.6" fill="#b5dbae" font-style="italic" font-size="6.3">MAMDC2</text>
<path d="M419.2 769.3h1.6C423.2 769.3 423.2 772.3 425.2 772.3h1.6" fill="none" stroke="#333" stroke-width="0.6"/>
<text x="428.9" y="781" fill="#b5dbae" font-style="italic" font-size="6.3">CACNA1C</text>
<path d="M419.2 776.7h1.6C423.2 776.7 423.2 778.7 425.2 778.7h1.6" fill="none" stroke="#333" stroke-width="0.6"/>
<text x="428.9" y="787.4" fill="#b5dbae" font-style="italic" font-size="6.3">NEGR1</text>
<path d="M419.2 782.2h1.6C423.2 782.2 423.2 785.2 425.2 785.2h1.6" fill="none" stroke="#333" stroke-width="0.6"/>
<text x="428.9" y="793.8" fill="#b5dbae" font-style="italic" font-size="6.3">SPON1</text>
<path d="M419.2 788.6h1.6C423.2 788.6 423.2 791.6 425.2 791.6h1.6" fill="none" stroke="#333" stroke-width="0.6"/>
<text x="428.9" y="800.3" fill="#b5dbae" font-style="italic" font-size="6.3">SMOC2</text>
<path d="M419.2 798h1.6C423.2 798 423.2 798 425.2 798h1.6" fill="none" stroke="#333" stroke-width="0.6"/>
<text x="428.9" y="806.7" fill="#b5dbae" font-style="italic" font-size="6.3">KIAA1211</text>
<path d="M419.2 802.4h1.6C423.2 802.4 423.2 804.4 425.2 804.4h1.6" fill="none" stroke="#333" stroke-width="0.6"/>
<text x="428.9" y="813.1" fill="#b5dbae" font-style="italic" font-size="6.3">LRRC7</text>
<path d="M419.2 813.9h1.6C423.2 813.9 423.2 810.9 425.2 810.9h1.6" fill="none" stroke="#333" stroke-width="0.6"/>
<text x="428.9" y="819.6" fill="#b5dbae" font-style="italic" font-size="6.3">NAV3</text>
<path d="M419.2 819.3h1.6C423.2 819.3 423.2 817.3 425.2 817.3h1.6" fill="none" stroke="#333" stroke-width="0.6"/>
<text x="428.9" y="826" fill="#b5dbae" font-style="italic" font-size="6.3">COL4A4</text>
<path d="M419.2 826.7h1.6C423.2 826.7 423.2 823.7 425.2 823.7h1.6" fill="none" stroke="#333" stroke-width="0.6"/>
<text x="428.9" y="832.4" fill="#b5dbae" font-style="italic" font-size="6.3">DOK6</text>
<path d="M419.2 833.2h1.6C423.2 833.2 423.2 830.2 425.2 830.2h1.6" fill="none" stroke="#333" stroke-width="0.6"/>
<text x="428.9" y="838.9" fill="#b5dbae" font-style="italic" font-size="6.3">MGAT4C</text>
<path d="M419.2 834.6h1.6C423.2 834.6 423.2 836.6 425.2 836.6h1.6" fill="none" stroke="#333" stroke-width="0.6"/>
<text x="428.9" y="845.3" fill="#b5dbae" font-style="italic" font-size="6.3">FBLN5</text>
<path d="M419.2 841h1.6C423.2 841 423.2 843 425.2 843h1.6" fill="none" stroke="#333" stroke-width="0.6"/>
<text x="428.9" y="851.7" fill="#b5dbae" font-style="italic" font-size="6.3">ITGBL1</text>
<path d="M419.2 851.5h1.6C423.2 851.5 423.2 849.5 425.2 849.5h1.6" fill="none" stroke="#333" stroke-width="0.6"/>
<text x="428.9" y="858.1" fill="#b5dbae" font-style="italic" font-size="6.3">NALCN</text>
<path d="M419.2 853.9h1.6C423.2 853.9 423.2 855.9 425.2 855.9h1.6" fill="none" stroke="#333" stroke-width="0.6"/>
<text x="428.9" y="882.7" fill="#9a4fb0" font-style="italic" font-size="6.3">EFEMP1</text>
<path d="M419.2 878.9h1.6C423.2 878.9 423.2 880.4 425.2 880.4h1.6" fill="none" stroke="#333" stroke-width="0.6"/>
<text x="428.9" y="889.1" fill="#9a4fb0" font-style="italic" font-size="6.3">KALRN</text>
<path d="M419.2 885.3h1.6C423.2 885.3 423.2 886.8 425.2 886.8h1.6" fill="none" stroke="#333" stroke-width="0.6"/>
<text x="428.9" y="895.5" fill="#9a4fb0" font-style="italic" font-size="6.3">CTIF</text>
<path d="M419.2 891.7h1.6C423.2 891.7 423.2 893.2 425.2 893.2h1.6" fill="none" stroke="#333" stroke-width="0.6"/>
<text x="428.9" y="903.2" fill="#4f74b0" font-style="italic" font-size="6.3">PLXDC2</text>
<path d="M419.2 914h1.6C423.2 914 423.2 900.9 425.2 900.9h1.6" fill="none" stroke="#333" stroke-width="0.6"/>
<text x="428.9" y="909.6" fill="#4f74b0" font-style="italic" font-size="6.3">PDGFRA</text>
<path d="M419.2 916.5h1.6C423.2 916.5 423.2 907.4 425.2 907.4h1.6" fill="none" stroke="#333" stroke-width="0.6"/>
<text x="428.9" y="916.1" fill="#4f74b0" font-style="italic" font-size="6.3">CDH19</text>
<path d="M419.2 919h1.6C423.2 919 423.2 913.8 425.2 913.8h1.6" fill="none" stroke="#333" stroke-width="0.6"/>
<text x="428.9" y="922.5" fill="#4f74b0" font-style="italic" font-size="6.3">LAMA2</text>
<path d="M419.2 921.5h1.6C423.2 921.5 423.2 920.2 425.2 920.2h1.6" fill="none" stroke="#333" stroke-width="0.6"/>
</svg></body></html>
